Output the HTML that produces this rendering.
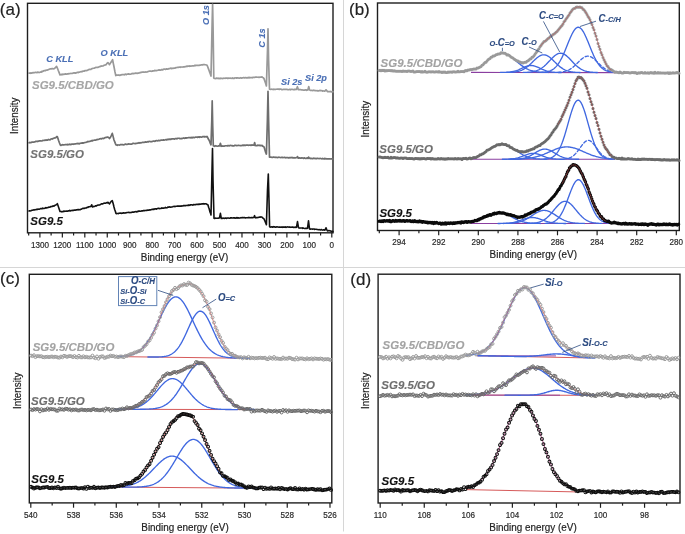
<!DOCTYPE html>
<html><head><meta charset="utf-8"><style>
html,body{margin:0;padding:0;background:#fff;}
svg{display:block;font-family:"Liberation Sans", sans-serif;will-change:transform;}
</style></head><body>
<svg width="685" height="534" viewBox="0 0 685 534">
<rect width="685" height="534" fill="#fff"/>
<line x1="343.5" y1="0" x2="343.5" y2="531.5" stroke="#d6d6d6" stroke-width="1" />
<line x1="0" y1="267.5" x2="685" y2="267.5" stroke="#d6d6d6" stroke-width="1" />
<rect x="27.5" y="3.3" width="305.5" height="229.5" fill="none" stroke="#1e1e1e" stroke-width="1.4"/>
<line x1="331.8" y1="232.8" x2="331.8" y2="237.6" stroke="#1e1e1e" stroke-width="1.2" />
<text transform="translate(331.8 247.6) scale(1 1.05)" font-size="8.1" fill="#2a2a2a" stroke="#2a2a2a" stroke-width="0.18" text-anchor="middle" font-weight="normal" font-style="normal" >0</text>
<line x1="320.57" y1="232.8" x2="320.57" y2="235.5" stroke="#1e1e1e" stroke-width="1.2" />
<line x1="309.35" y1="232.8" x2="309.35" y2="237.6" stroke="#1e1e1e" stroke-width="1.2" />
<text transform="translate(309.35 247.6) scale(1 1.05)" font-size="8.1" fill="#2a2a2a" stroke="#2a2a2a" stroke-width="0.18" text-anchor="middle" font-weight="normal" font-style="normal" >100</text>
<line x1="298.12" y1="232.8" x2="298.12" y2="235.5" stroke="#1e1e1e" stroke-width="1.2" />
<line x1="286.89" y1="232.8" x2="286.89" y2="237.6" stroke="#1e1e1e" stroke-width="1.2" />
<text transform="translate(286.89 247.6) scale(1 1.05)" font-size="8.1" fill="#2a2a2a" stroke="#2a2a2a" stroke-width="0.18" text-anchor="middle" font-weight="normal" font-style="normal" >200</text>
<line x1="275.67" y1="232.8" x2="275.67" y2="235.5" stroke="#1e1e1e" stroke-width="1.2" />
<line x1="264.44" y1="232.8" x2="264.44" y2="237.6" stroke="#1e1e1e" stroke-width="1.2" />
<text transform="translate(264.44 247.6) scale(1 1.05)" font-size="8.1" fill="#2a2a2a" stroke="#2a2a2a" stroke-width="0.18" text-anchor="middle" font-weight="normal" font-style="normal" >300</text>
<line x1="253.21" y1="232.8" x2="253.21" y2="235.5" stroke="#1e1e1e" stroke-width="1.2" />
<line x1="241.98" y1="232.8" x2="241.98" y2="237.6" stroke="#1e1e1e" stroke-width="1.2" />
<text transform="translate(241.98 247.6) scale(1 1.05)" font-size="8.1" fill="#2a2a2a" stroke="#2a2a2a" stroke-width="0.18" text-anchor="middle" font-weight="normal" font-style="normal" >400</text>
<line x1="230.76" y1="232.8" x2="230.76" y2="235.5" stroke="#1e1e1e" stroke-width="1.2" />
<line x1="219.53" y1="232.8" x2="219.53" y2="237.6" stroke="#1e1e1e" stroke-width="1.2" />
<text transform="translate(219.53 247.6) scale(1 1.05)" font-size="8.1" fill="#2a2a2a" stroke="#2a2a2a" stroke-width="0.18" text-anchor="middle" font-weight="normal" font-style="normal" >500</text>
<line x1="208.3" y1="232.8" x2="208.3" y2="235.5" stroke="#1e1e1e" stroke-width="1.2" />
<line x1="197.08" y1="232.8" x2="197.08" y2="237.6" stroke="#1e1e1e" stroke-width="1.2" />
<text transform="translate(197.08 247.6) scale(1 1.05)" font-size="8.1" fill="#2a2a2a" stroke="#2a2a2a" stroke-width="0.18" text-anchor="middle" font-weight="normal" font-style="normal" >600</text>
<line x1="185.85" y1="232.8" x2="185.85" y2="235.5" stroke="#1e1e1e" stroke-width="1.2" />
<line x1="174.62" y1="232.8" x2="174.62" y2="237.6" stroke="#1e1e1e" stroke-width="1.2" />
<text transform="translate(174.62 247.6) scale(1 1.05)" font-size="8.1" fill="#2a2a2a" stroke="#2a2a2a" stroke-width="0.18" text-anchor="middle" font-weight="normal" font-style="normal" >700</text>
<line x1="163.4" y1="232.8" x2="163.4" y2="235.5" stroke="#1e1e1e" stroke-width="1.2" />
<line x1="152.17" y1="232.8" x2="152.17" y2="237.6" stroke="#1e1e1e" stroke-width="1.2" />
<text transform="translate(152.17 247.6) scale(1 1.05)" font-size="8.1" fill="#2a2a2a" stroke="#2a2a2a" stroke-width="0.18" text-anchor="middle" font-weight="normal" font-style="normal" >800</text>
<line x1="140.94" y1="232.8" x2="140.94" y2="235.5" stroke="#1e1e1e" stroke-width="1.2" />
<line x1="129.71" y1="232.8" x2="129.71" y2="237.6" stroke="#1e1e1e" stroke-width="1.2" />
<text transform="translate(129.71 247.6) scale(1 1.05)" font-size="8.1" fill="#2a2a2a" stroke="#2a2a2a" stroke-width="0.18" text-anchor="middle" font-weight="normal" font-style="normal" >900</text>
<line x1="118.49" y1="232.8" x2="118.49" y2="235.5" stroke="#1e1e1e" stroke-width="1.2" />
<line x1="107.26" y1="232.8" x2="107.26" y2="237.6" stroke="#1e1e1e" stroke-width="1.2" />
<text transform="translate(107.26 247.6) scale(1 1.05)" font-size="8.1" fill="#2a2a2a" stroke="#2a2a2a" stroke-width="0.18" text-anchor="middle" font-weight="normal" font-style="normal" >1000</text>
<line x1="96.03" y1="232.8" x2="96.03" y2="235.5" stroke="#1e1e1e" stroke-width="1.2" />
<line x1="84.81" y1="232.8" x2="84.81" y2="237.6" stroke="#1e1e1e" stroke-width="1.2" />
<text transform="translate(84.81 247.6) scale(1 1.05)" font-size="8.1" fill="#2a2a2a" stroke="#2a2a2a" stroke-width="0.18" text-anchor="middle" font-weight="normal" font-style="normal" >1100</text>
<line x1="73.58" y1="232.8" x2="73.58" y2="235.5" stroke="#1e1e1e" stroke-width="1.2" />
<line x1="62.35" y1="232.8" x2="62.35" y2="237.6" stroke="#1e1e1e" stroke-width="1.2" />
<text transform="translate(62.35 247.6) scale(1 1.05)" font-size="8.1" fill="#2a2a2a" stroke="#2a2a2a" stroke-width="0.18" text-anchor="middle" font-weight="normal" font-style="normal" >1200</text>
<line x1="51.12" y1="232.8" x2="51.12" y2="235.5" stroke="#1e1e1e" stroke-width="1.2" />
<line x1="39.9" y1="232.8" x2="39.9" y2="237.6" stroke="#1e1e1e" stroke-width="1.2" />
<text transform="translate(39.9 247.6) scale(1 1.05)" font-size="8.1" fill="#2a2a2a" stroke="#2a2a2a" stroke-width="0.18" text-anchor="middle" font-weight="normal" font-style="normal" >1300</text>
<line x1="28.67" y1="232.8" x2="28.67" y2="235.5" stroke="#1e1e1e" stroke-width="1.2" />
<text transform="translate(184.5 260.9) scale(1 1.05)" font-size="9.9" fill="#222" stroke="#222" stroke-width="0.18" text-anchor="middle" font-weight="normal" font-style="normal" >Binding energy (eV)</text>
<text transform="translate(17.5 115.8) rotate(-90) scale(1 1.05)" font-size="9.8" fill="#222" stroke="#222" stroke-width="0.18" text-anchor="middle" font-weight="normal" font-style="normal" >Intensity</text>
<rect x="377.5" y="3" width="301.8" height="227.5" fill="none" stroke="#1e1e1e" stroke-width="1.4"/>
<line x1="676.3" y1="230.5" x2="676.3" y2="235.3" stroke="#1e1e1e" stroke-width="1.2" />
<text transform="translate(676.3 245) scale(1 1.05)" font-size="8.1" fill="#2a2a2a" stroke="#2a2a2a" stroke-width="0.18" text-anchor="middle" font-weight="normal" font-style="normal" >280</text>
<line x1="656.5" y1="230.5" x2="656.5" y2="233.2" stroke="#1e1e1e" stroke-width="1.2" />
<line x1="636.7" y1="230.5" x2="636.7" y2="235.3" stroke="#1e1e1e" stroke-width="1.2" />
<text transform="translate(636.7 245) scale(1 1.05)" font-size="8.1" fill="#2a2a2a" stroke="#2a2a2a" stroke-width="0.18" text-anchor="middle" font-weight="normal" font-style="normal" >282</text>
<line x1="616.9" y1="230.5" x2="616.9" y2="233.2" stroke="#1e1e1e" stroke-width="1.2" />
<line x1="597.1" y1="230.5" x2="597.1" y2="235.3" stroke="#1e1e1e" stroke-width="1.2" />
<text transform="translate(597.1 245) scale(1 1.05)" font-size="8.1" fill="#2a2a2a" stroke="#2a2a2a" stroke-width="0.18" text-anchor="middle" font-weight="normal" font-style="normal" >284</text>
<line x1="577.3" y1="230.5" x2="577.3" y2="233.2" stroke="#1e1e1e" stroke-width="1.2" />
<line x1="557.5" y1="230.5" x2="557.5" y2="235.3" stroke="#1e1e1e" stroke-width="1.2" />
<text transform="translate(557.5 245) scale(1 1.05)" font-size="8.1" fill="#2a2a2a" stroke="#2a2a2a" stroke-width="0.18" text-anchor="middle" font-weight="normal" font-style="normal" >286</text>
<line x1="537.7" y1="230.5" x2="537.7" y2="233.2" stroke="#1e1e1e" stroke-width="1.2" />
<line x1="517.9" y1="230.5" x2="517.9" y2="235.3" stroke="#1e1e1e" stroke-width="1.2" />
<text transform="translate(517.9 245) scale(1 1.05)" font-size="8.1" fill="#2a2a2a" stroke="#2a2a2a" stroke-width="0.18" text-anchor="middle" font-weight="normal" font-style="normal" >288</text>
<line x1="498.1" y1="230.5" x2="498.1" y2="233.2" stroke="#1e1e1e" stroke-width="1.2" />
<line x1="478.3" y1="230.5" x2="478.3" y2="235.3" stroke="#1e1e1e" stroke-width="1.2" />
<text transform="translate(478.3 245) scale(1 1.05)" font-size="8.1" fill="#2a2a2a" stroke="#2a2a2a" stroke-width="0.18" text-anchor="middle" font-weight="normal" font-style="normal" >290</text>
<line x1="458.5" y1="230.5" x2="458.5" y2="233.2" stroke="#1e1e1e" stroke-width="1.2" />
<line x1="438.7" y1="230.5" x2="438.7" y2="235.3" stroke="#1e1e1e" stroke-width="1.2" />
<text transform="translate(438.7 245) scale(1 1.05)" font-size="8.1" fill="#2a2a2a" stroke="#2a2a2a" stroke-width="0.18" text-anchor="middle" font-weight="normal" font-style="normal" >292</text>
<line x1="418.9" y1="230.5" x2="418.9" y2="233.2" stroke="#1e1e1e" stroke-width="1.2" />
<line x1="399.1" y1="230.5" x2="399.1" y2="235.3" stroke="#1e1e1e" stroke-width="1.2" />
<text transform="translate(399.1 245) scale(1 1.05)" font-size="8.1" fill="#2a2a2a" stroke="#2a2a2a" stroke-width="0.18" text-anchor="middle" font-weight="normal" font-style="normal" >294</text>
<line x1="379.3" y1="230.5" x2="379.3" y2="233.2" stroke="#1e1e1e" stroke-width="1.2" />
<text transform="translate(533.3 258.2) scale(1 1.05)" font-size="9.9" fill="#222" stroke="#222" stroke-width="0.18" text-anchor="middle" font-weight="normal" font-style="normal" >Binding energy (eV)</text>
<text transform="translate(368.6 119.2) rotate(-90) scale(1 1.05)" font-size="9.8" fill="#222" stroke="#222" stroke-width="0.18" text-anchor="middle" font-weight="normal" font-style="normal" >Intensity</text>
<rect x="29.3" y="274.3" width="302.5" height="228.6" fill="none" stroke="#1e1e1e" stroke-width="1.4"/>
<line x1="329.98" y1="502.9" x2="329.98" y2="507.7" stroke="#1e1e1e" stroke-width="1.2" />
<text transform="translate(329.98 517.8) scale(1 1.05)" font-size="8.1" fill="#2a2a2a" stroke="#2a2a2a" stroke-width="0.18" text-anchor="middle" font-weight="normal" font-style="normal" >526</text>
<line x1="308.61" y1="502.9" x2="308.61" y2="505.6" stroke="#1e1e1e" stroke-width="1.2" />
<line x1="287.24" y1="502.9" x2="287.24" y2="507.7" stroke="#1e1e1e" stroke-width="1.2" />
<text transform="translate(287.24 517.8) scale(1 1.05)" font-size="8.1" fill="#2a2a2a" stroke="#2a2a2a" stroke-width="0.18" text-anchor="middle" font-weight="normal" font-style="normal" >528</text>
<line x1="265.87" y1="502.9" x2="265.87" y2="505.6" stroke="#1e1e1e" stroke-width="1.2" />
<line x1="244.5" y1="502.9" x2="244.5" y2="507.7" stroke="#1e1e1e" stroke-width="1.2" />
<text transform="translate(244.5 517.8) scale(1 1.05)" font-size="8.1" fill="#2a2a2a" stroke="#2a2a2a" stroke-width="0.18" text-anchor="middle" font-weight="normal" font-style="normal" >530</text>
<line x1="223.13" y1="502.9" x2="223.13" y2="505.6" stroke="#1e1e1e" stroke-width="1.2" />
<line x1="201.76" y1="502.9" x2="201.76" y2="507.7" stroke="#1e1e1e" stroke-width="1.2" />
<text transform="translate(201.76 517.8) scale(1 1.05)" font-size="8.1" fill="#2a2a2a" stroke="#2a2a2a" stroke-width="0.18" text-anchor="middle" font-weight="normal" font-style="normal" >532</text>
<line x1="180.39" y1="502.9" x2="180.39" y2="505.6" stroke="#1e1e1e" stroke-width="1.2" />
<line x1="159.02" y1="502.9" x2="159.02" y2="507.7" stroke="#1e1e1e" stroke-width="1.2" />
<text transform="translate(159.02 517.8) scale(1 1.05)" font-size="8.1" fill="#2a2a2a" stroke="#2a2a2a" stroke-width="0.18" text-anchor="middle" font-weight="normal" font-style="normal" >534</text>
<line x1="137.65" y1="502.9" x2="137.65" y2="505.6" stroke="#1e1e1e" stroke-width="1.2" />
<line x1="116.28" y1="502.9" x2="116.28" y2="507.7" stroke="#1e1e1e" stroke-width="1.2" />
<text transform="translate(116.28 517.8) scale(1 1.05)" font-size="8.1" fill="#2a2a2a" stroke="#2a2a2a" stroke-width="0.18" text-anchor="middle" font-weight="normal" font-style="normal" >536</text>
<line x1="94.91" y1="502.9" x2="94.91" y2="505.6" stroke="#1e1e1e" stroke-width="1.2" />
<line x1="73.54" y1="502.9" x2="73.54" y2="507.7" stroke="#1e1e1e" stroke-width="1.2" />
<text transform="translate(73.54 517.8) scale(1 1.05)" font-size="8.1" fill="#2a2a2a" stroke="#2a2a2a" stroke-width="0.18" text-anchor="middle" font-weight="normal" font-style="normal" >538</text>
<line x1="52.17" y1="502.9" x2="52.17" y2="505.6" stroke="#1e1e1e" stroke-width="1.2" />
<line x1="30.8" y1="502.9" x2="30.8" y2="507.7" stroke="#1e1e1e" stroke-width="1.2" />
<text transform="translate(30.8 517.8) scale(1 1.05)" font-size="8.1" fill="#2a2a2a" stroke="#2a2a2a" stroke-width="0.18" text-anchor="middle" font-weight="normal" font-style="normal" >540</text>
<text transform="translate(185 531) scale(1 1.05)" font-size="9.9" fill="#222" stroke="#222" stroke-width="0.18" text-anchor="middle" font-weight="normal" font-style="normal" >Binding energy (eV)</text>
<text transform="translate(21 390.8) rotate(-90) scale(1 1.05)" font-size="9.8" fill="#222" stroke="#222" stroke-width="0.18" text-anchor="middle" font-weight="normal" font-style="normal" >Intensity</text>
<rect x="378.1" y="274.2" width="301.9" height="228.8" fill="none" stroke="#1e1e1e" stroke-width="1.4"/>
<line x1="666.59" y1="503" x2="666.59" y2="505.7" stroke="#1e1e1e" stroke-width="1.2" />
<line x1="644.56" y1="503" x2="644.56" y2="507.8" stroke="#1e1e1e" stroke-width="1.2" />
<text transform="translate(644.56 517.5) scale(1 1.05)" font-size="8.1" fill="#2a2a2a" stroke="#2a2a2a" stroke-width="0.18" text-anchor="middle" font-weight="normal" font-style="normal" >98</text>
<line x1="622.53" y1="503" x2="622.53" y2="505.7" stroke="#1e1e1e" stroke-width="1.2" />
<line x1="600.5" y1="503" x2="600.5" y2="507.8" stroke="#1e1e1e" stroke-width="1.2" />
<text transform="translate(600.5 517.5) scale(1 1.05)" font-size="8.1" fill="#2a2a2a" stroke="#2a2a2a" stroke-width="0.18" text-anchor="middle" font-weight="normal" font-style="normal" >100</text>
<line x1="578.47" y1="503" x2="578.47" y2="505.7" stroke="#1e1e1e" stroke-width="1.2" />
<line x1="556.44" y1="503" x2="556.44" y2="507.8" stroke="#1e1e1e" stroke-width="1.2" />
<text transform="translate(556.44 517.5) scale(1 1.05)" font-size="8.1" fill="#2a2a2a" stroke="#2a2a2a" stroke-width="0.18" text-anchor="middle" font-weight="normal" font-style="normal" >102</text>
<line x1="534.41" y1="503" x2="534.41" y2="505.7" stroke="#1e1e1e" stroke-width="1.2" />
<line x1="512.38" y1="503" x2="512.38" y2="507.8" stroke="#1e1e1e" stroke-width="1.2" />
<text transform="translate(512.38 517.5) scale(1 1.05)" font-size="8.1" fill="#2a2a2a" stroke="#2a2a2a" stroke-width="0.18" text-anchor="middle" font-weight="normal" font-style="normal" >104</text>
<line x1="490.35" y1="503" x2="490.35" y2="505.7" stroke="#1e1e1e" stroke-width="1.2" />
<line x1="468.32" y1="503" x2="468.32" y2="507.8" stroke="#1e1e1e" stroke-width="1.2" />
<text transform="translate(468.32 517.5) scale(1 1.05)" font-size="8.1" fill="#2a2a2a" stroke="#2a2a2a" stroke-width="0.18" text-anchor="middle" font-weight="normal" font-style="normal" >106</text>
<line x1="446.29" y1="503" x2="446.29" y2="505.7" stroke="#1e1e1e" stroke-width="1.2" />
<line x1="424.26" y1="503" x2="424.26" y2="507.8" stroke="#1e1e1e" stroke-width="1.2" />
<text transform="translate(424.26 517.5) scale(1 1.05)" font-size="8.1" fill="#2a2a2a" stroke="#2a2a2a" stroke-width="0.18" text-anchor="middle" font-weight="normal" font-style="normal" >108</text>
<line x1="402.23" y1="503" x2="402.23" y2="505.7" stroke="#1e1e1e" stroke-width="1.2" />
<line x1="380.2" y1="503" x2="380.2" y2="507.8" stroke="#1e1e1e" stroke-width="1.2" />
<text transform="translate(380.2 517.5) scale(1 1.05)" font-size="8.1" fill="#2a2a2a" stroke="#2a2a2a" stroke-width="0.18" text-anchor="middle" font-weight="normal" font-style="normal" >110</text>
<text transform="translate(533 530.5) scale(1 1.05)" font-size="9.9" fill="#222" stroke="#222" stroke-width="0.18" text-anchor="middle" font-weight="normal" font-style="normal" >Binding energy (eV)</text>
<text transform="translate(368.6 390.8) rotate(-90) scale(1 1.05)" font-size="9.8" fill="#222" stroke="#222" stroke-width="0.18" text-anchor="middle" font-weight="normal" font-style="normal" >Intensity</text>
<text transform="translate(-0.2 14.9) scale(1 1.0)" font-size="17" fill="#222" stroke="#222" stroke-width="0.18" text-anchor="start" font-weight="normal" font-style="normal" >(a)</text>
<text transform="translate(349 14.8) scale(1 1.0)" font-size="17" fill="#222" stroke="#222" stroke-width="0.18" text-anchor="start" font-weight="normal" font-style="normal" >(b)</text>
<text transform="translate(0.1 284.1) scale(1 1.0)" font-size="17" fill="#222" stroke="#222" stroke-width="0.18" text-anchor="start" font-weight="normal" font-style="normal" >(c)</text>
<text transform="translate(350.3 284.6) scale(1 1.0)" font-size="17" fill="#222" stroke="#222" stroke-width="0.18" text-anchor="start" font-weight="normal" font-style="normal" >(d)</text>
<polyline points="29,73.19 29.61,73.03 30.22,73.27 30.83,72.86 31.44,73.08 32.06,72.91 32.67,72.67 33.28,72.88 33.89,72.53 34.5,72.71 35.11,72.43 35.72,72.38 36.33,72.52 36.94,72.7 37.56,72.22 38.17,72.22 38.78,72.4 39.39,72.53 40,72.25 40.62,71.95 41.23,72.12 41.85,71.38 42.46,71.68 43.08,71.15 43.69,70.88 44.31,70.68 44.93,70.61 45.54,70.73 46.16,70.17 46.77,70.22 47.39,70.07 48.01,69.73 48.62,69.65 49.24,69.17 49.85,68.99 50.47,68.89 51.08,68.99 51.7,68.66 52.47,68.62 53.23,68.82 54,68.77 54.75,68.03 55.5,67.68 56.6,66.42 57.45,68.25 58.3,70.54 59.15,72.62 60,74.93 60.62,74.78 61.25,74.45 61.88,74.8 62.5,74.22 63.12,74.34 63.75,74.48 64.38,74.05 65,74.19 65.6,73.84 66.2,74.14 66.8,74.12 67.4,73.92 68,74.03 68.6,73.61 69.2,73.76 69.8,73.62 70.4,73.53 71,73.37 71.6,73.52 72.2,73.51 72.8,73.14 73.4,73.18 74,72.74 74.6,73.04 75.2,72.93 75.8,73.06 76.4,72.87 77,72.47 77.6,72.45 78.2,72.54 78.8,72.07 79.4,72.26 80,72 80.6,71.8 81.21,71.59 81.81,71.84 82.42,71.29 83.02,71.19 83.63,71.1 84.23,71.22 84.84,70.57 85.44,70.62 86.05,70.51 86.65,70.54 87.26,70.33 87.86,70.18 88.47,69.66 89.07,69.57 89.67,69.36 90.28,69.5 90.88,69.38 91.49,68.72 92.09,68.56 92.7,68.43 93.3,68.25 93.91,68.23 94.51,68.12 95.12,67.76 95.72,67.43 96.33,67.5 96.93,67.3 97.53,67.25 98.14,67.31 98.74,66.98 99.35,66.7 99.95,66.59 100.56,66.45 101.16,65.91 101.77,66.24 102.37,66 102.98,65.89 103.58,65.67 104.19,65.25 104.79,65.08 105.4,64.73 106,64.88 106.63,63.87 107.27,63.21 107.9,62.63 108.7,63.6 109.5,64.7 110.25,63.38 111,62.2 111.8,60.99 112.6,59.66 113.3,63.37 114,66.72 114.9,71.47 115.8,75.57 116.42,75.22 117.03,75.22 117.65,75.21 118.27,75.16 118.89,74.95 119.5,75.32 120.12,75.34 120.74,74.96 121.36,74.9 121.97,74.6 122.59,74.54 123.21,74.62 123.83,74.51 124.44,74.78 125.06,74.32 125.68,74.17 126.3,74.66 126.91,74.34 127.53,74.05 128.15,74.22 128.77,73.85 129.38,74.08 130,74.29 130.6,74.14 131.2,73.95 131.81,73.61 132.41,73.59 133.01,73.39 133.61,73.67 134.22,73.45 134.82,73.51 135.42,73.16 136.02,73.01 136.63,73.29 137.23,73.31 137.83,73.15 138.43,73.04 139.04,72.96 139.64,72.83 140.24,72.44 140.84,72.54 141.45,72.36 142.05,72.08 142.65,72 143.25,72.07 143.86,71.97 144.46,72.15 145.06,72.23 145.66,71.84 146.27,72.05 146.87,72 147.47,71.9 148.07,71.46 148.67,71.29 149.28,71.21 149.88,71.11 150.48,71.04 151.08,71.21 151.69,71.29 152.29,71.17 152.89,70.87 153.49,70.9 154.1,70.9 154.7,70.39 155.3,70.66 155.9,70.72 156.51,70.56 157.11,70.46 157.71,70.22 158.31,69.96 158.92,70.24 159.52,69.89 160.12,70.08 160.72,70.1 161.33,69.68 161.93,69.6 162.53,69.84 163.13,69.63 163.73,69.21 164.34,69.11 164.94,69.04 165.54,69.41 166.14,69.27 166.75,68.79 167.35,69.12 167.95,69.13 168.55,68.85 169.16,68.58 169.76,68.62 170.36,68.29 170.96,68.14 171.57,68.63 172.17,68.35 172.77,68.2 173.37,68.36 173.98,67.98 174.58,68.16 175.18,68.05 175.78,67.6 176.39,67.54 176.99,67.49 177.59,67.37 178.19,67.5 178.8,67.22 179.4,67.23 180,66.98 180.61,67.38 181.22,66.98 181.83,66.98 182.44,66.99 183.05,67.11 183.66,66.76 184.27,66.99 184.88,66.67 185.49,66.63 186.1,66.56 186.71,66.19 187.32,66.37 187.93,66.15 188.54,65.98 189.15,66.39 189.76,65.95 190.37,66.06 190.98,66.15 191.59,65.98 192.2,65.78 192.8,65.83 193.41,65.78 194.02,65.86 194.63,65.38 195.24,65.59 195.85,65.34 196.46,65.29 197.07,65.52 197.68,65.29 198.29,65.26 198.9,65.31 199.51,65.34 200.12,64.99 200.73,65.03 201.34,64.9 201.95,64.84 202.56,64.88 203.17,64.67 203.78,64.65 204.39,64.55 205,64.76 205.63,64.75 206.27,64.99 206.9,65.17 207.6,66.46 208.3,68.34 209,70.27 209.67,72.3 210.33,73.98 211,76.07 212.2,19.97 212.6,4.24 213.1,29.84 213.8,78.04 214.42,78.4 215.05,78.47 215.67,78.54 216.29,78.09 216.92,78.43 217.54,78.4 218.16,78.09 218.78,78.53 219.41,78.58 220.03,78.13 220.65,78.57 221.28,78.24 221.9,78.29 222.52,78.59 223.15,78.5 223.77,78.1 224.39,78.26 225.02,78.31 225.64,78.2 226.26,78.12 226.88,78.19 227.51,78.43 228.13,78.01 228.75,78.33 229.38,78.26 230,78.01 230.6,78.18 231.21,78.33 231.81,78.25 232.42,77.96 233.02,78.49 233.62,78.35 234.23,78.44 234.83,77.9 235.43,77.97 236.04,77.82 236.64,78.24 237.25,77.91 237.85,77.81 238.45,77.96 239.06,78.24 239.66,78.16 240.26,77.8 240.87,77.72 241.47,78.16 242.08,77.93 242.68,77.98 243.28,77.6 243.89,77.56 244.49,77.91 245.09,77.74 245.7,77.5 246.3,78 246.91,77.8 247.51,77.88 248.11,77.43 248.72,77.87 249.32,77.38 249.92,77.83 250.53,77.57 251.13,77.48 251.74,77.58 252.34,77.79 252.94,77.37 253.55,77.27 254.15,77.49 254.75,77.29 255.36,77.19 255.96,77.2 256.57,77.12 257.17,77.19 257.77,77.23 258.38,77.21 258.98,77.46 259.58,77.16 260.19,77.26 260.79,77.05 261.4,77.13 262,76.91 262.67,77.48 263.33,77.78 264,78.64 264.8,81.03 265.6,83.31 266.4,85.98 267.5,50.26 268,28.76 268.6,60.19 269.5,89.16 270.11,89.21 270.72,89.42 271.33,89.16 271.95,89.24 272.56,89.36 273.17,89.54 273.78,89.17 274.39,89.47 275,89.41 275.61,89.37 276.23,89.24 276.84,89.22 277.45,89.05 278.06,89.11 278.67,89.08 279.28,89.49 279.89,89.21 280.5,89.16 281.12,89.12 281.73,89.59 282.34,89.61 282.95,89.5 283.56,89.28 284.17,89.26 284.78,89.3 285.4,89.41 286.01,89.24 286.62,89.42 287.23,89.32 287.84,89.75 288.45,89.77 289.06,89.52 289.67,89.35 290.29,89.79 290.9,89.4 291.51,89.44 292.12,89.24 292.73,89.47 293.34,89.54 293.95,89.57 294.57,89.39 295.18,89.58 295.79,89.29 296.4,89.46 297.4,86.75 298.4,89.74 299.03,89.54 299.65,89.54 300.28,89.72 300.91,89.69 301.53,89.92 302.16,89.9 302.79,90.04 303.41,90 304.04,90.05 304.67,90.16 305.29,89.88 305.92,89.86 306.55,90.26 307.17,89.78 307.8,90.13 308.7,86.59 309.6,89.93 310.22,90.43 310.83,90.5 311.45,90.37 312.06,90.47 312.68,90.55 313.3,90.18 313.91,90.44 314.53,90.46 315.14,90.69 315.76,90.7 316.38,90.75 316.99,90.63 317.61,90.85 318.22,90.76 318.84,90.8 319.46,90.55 320.07,90.46 320.69,90.56 321.3,90.72 321.92,90.6 322.54,91.07 323.15,90.94 323.77,91.01 324.38,91.04 325,91.11 326,89.79 327,91 327.6,91.55 328.2,91.59 328.8,91.51 329.4,91.6 330,91.75 330.6,91.46 331.2,91.93 331.8,91.71 332.4,91.67 333,91.86" fill="none" stroke="#999" stroke-width="1.7" stroke-linejoin="round" stroke-linecap="round" />
<polyline points="29,142.84 29.6,142.43 30.2,142.66 30.8,142.71 31.4,142.33 32,142.17 32.6,142.14 33.2,142.17 33.8,142.13 34.4,141.95 35,141.87 35.6,141.44 36.2,141.39 36.8,141.36 37.4,141.57 38,141.21 38.6,141.28 39.2,140.85 39.8,140.79 40.4,140.82 41,140.97 41.6,140.9 42.2,140.79 42.8,140.47 43.4,140.52 44,140.39 44.6,140.3 45.2,140 45.8,140.38 46.4,139.87 47,140.24 47.6,140.13 48.2,139.48 48.8,139.66 49.4,139.78 50,139.78 50.62,139.28 51.25,138.99 51.88,138.76 52.5,139.02 53.12,138.39 53.75,138.42 54.38,137.97 55,138.01 55.77,137.74 56.53,136.71 57.3,136.59 57.9,138.21 58.5,140.23 59.4,142.72 60.3,145.04 60.92,145.39 61.53,145.09 62.15,144.76 62.76,144.69 63.38,144.93 63.99,144.85 64.61,144.71 65.22,144.56 65.84,144.63 66.46,144.56 67.07,144.82 67.69,144.26 68.3,144.66 68.92,144.66 69.53,144.18 70.15,144.61 70.77,144.42 71.38,144.48 72,144.06 72.61,144.06 73.23,144.02 73.84,144.33 74.46,144.03 75.08,143.84 75.69,143.83 76.31,143.68 76.92,143.49 77.54,143.47 78.15,143.86 78.77,143.48 79.38,143.81 80,143.35 80.61,143.22 81.22,143.23 81.83,142.9 82.43,142.88 83.04,143.09 83.65,142.91 84.26,142.73 84.87,142.48 85.48,142.52 86.09,142.39 86.7,142.02 87.3,141.99 87.91,141.45 88.52,141.72 89.13,141.42 89.74,141.46 90.35,141.26 90.96,140.91 91.57,140.63 92.17,141.02 92.78,140.4 93.39,140.47 94,140.26 94.61,140.09 95.22,140.22 95.83,140.22 96.43,139.66 97.04,139.76 97.65,139.41 98.26,139.43 98.87,139.19 99.48,138.92 100.09,138.78 100.7,138.67 101.3,138.95 101.91,138.57 102.52,138.26 103.13,138.54 103.74,138.46 104.35,137.99 104.96,137.67 105.57,137.56 106.17,137.37 106.78,137.38 107.39,137.09 108,137.04 108.75,137.71 109.5,138.54 110.5,137.23 111.4,135.35 112.3,133.35 113.15,136.65 114,140.01 114.67,141.66 115.33,143.37 116,144.94 116.61,145.01 117.22,145.38 117.83,144.82 118.43,144.99 119.04,145.02 119.65,145.1 120.26,144.66 120.87,144.65 121.48,144.58 122.09,144.62 122.7,144.59 123.3,144.85 123.91,144.73 124.52,144.69 125.13,144.13 125.74,144.08 126.35,144.44 126.96,144.5 127.57,144.19 128.17,144.21 128.78,143.8 129.39,143.99 130,144.26 130.6,144.12 131.2,144.07 131.8,144.07 132.4,143.56 133,143.41 133.6,143.36 134.2,143.51 134.8,143.54 135.4,143.62 136,143.42 136.6,143.3 137.2,143.3 137.8,143.05 138.4,143.03 139,142.65 139.6,143.03 140.2,142.63 140.8,142.97 141.4,142.73 142,142.45 142.6,142.28 143.2,142.28 143.8,142.44 144.4,142.4 145,141.98 145.6,141.89 146.2,142.09 146.8,142.05 147.4,141.86 148,141.69 148.6,141.85 149.2,141.42 149.8,141.52 150.4,141.55 151,141.78 151.6,141.52 152.2,141.59 152.8,141.27 153.4,141.06 154,140.99 154.6,141.35 155.2,141.12 155.8,140.81 156.4,140.57 157,140.78 157.6,140.82 158.2,140.59 158.8,140.43 159.4,140.6 160,140.68 160.6,140.19 161.2,140.01 161.8,140.12 162.4,140.1 163,140.18 163.6,139.82 164.2,140.11 164.8,140 165.4,139.79 166,139.54 166.6,139.92 167.2,139.46 167.8,139.69 168.4,139.27 169,139.19 169.6,139.44 170.2,139.09 170.8,139.41 171.4,139.07 172,138.81 172.62,138.79 173.23,138.86 173.85,138.96 174.46,139.08 175.08,138.56 175.69,138.66 176.31,138.5 176.92,138.92 177.54,138.37 178.15,138.27 178.77,138.23 179.38,138.38 180,138.64 180.61,138.59 181.22,138.46 181.83,138.57 182.44,138.49 183.05,138.09 183.66,137.96 184.27,138.37 184.88,138.22 185.49,137.75 186.1,138.08 186.71,137.87 187.32,137.83 187.93,137.76 188.54,137.62 189.15,137.48 189.76,137.6 190.37,137.61 190.98,137.93 191.59,137.39 192.2,137.85 192.8,137.35 193.41,137.4 194.02,137.64 194.63,137.6 195.24,137.32 195.85,137.05 196.46,137.26 197.07,137.16 197.68,137.45 198.29,136.97 198.9,137.03 199.51,137.31 200.12,136.75 200.73,136.94 201.34,137.14 201.95,137.07 202.56,136.59 203.17,136.55 203.78,136.52 204.39,136.99 205,136.55 205.67,136.78 206.33,136.81 207,136.4 207.67,137.53 208.33,139.11 209,140.07 209.67,141.49 210.33,143.4 211,144.79 211.8,119.87 212.2,100.9 212.7,125.15 213.3,145.75 214,146.08 214.62,146.27 215.24,145.71 215.87,145.84 216.49,145.99 217.11,146.27 217.73,146.27 218.36,145.93 218.98,145.85 219.6,145.96 220.4,143.3 221.2,146.26 221.81,145.79 222.41,146.14 223.02,146.09 223.63,146.12 224.24,146.07 224.84,145.95 225.45,145.77 226.06,145.74 226.67,145.75 227.27,145.98 227.88,145.54 228.49,145.6 229.1,145.91 229.7,145.59 230.31,145.46 230.92,145.42 231.53,145.72 232.13,145.56 232.74,145.94 233.35,145.86 233.96,145.9 234.56,145.45 235.17,145.32 235.78,145.31 236.39,145.54 236.99,145.64 237.6,145.47 238.21,145.32 238.81,145.41 239.42,145.52 240.03,145.53 240.64,145.56 241.24,145.6 241.85,145.47 242.46,145.12 243.07,145.54 243.67,145.19 244.28,145.34 244.89,145.2 245.5,145.4 246.1,145.06 246.71,145.07 247.32,145.05 247.93,144.98 248.53,145.4 249.14,145.2 249.75,145.03 250.36,145.05 250.96,145.39 251.57,145.08 252.18,144.89 252.79,145.22 253.39,145.11 254,145.29 254.6,142.56 255.3,145.48 255.91,145.68 256.52,145.69 257.13,145.72 257.74,145.19 258.35,145.33 258.95,145.22 259.56,145.25 260.17,145.71 260.78,145.47 261.39,145.67 262,145.32 262.67,146.15 263.33,146.44 264,146.86 264.8,149.6 265.6,152.13 266.4,154.06 267.4,120.06 268,91.27 268.6,119.83 269.5,157.22 270.11,157.1 270.72,157.14 271.33,157.19 271.94,157.4 272.56,157.45 273.17,157.19 273.78,157.08 274.39,157.29 275,157.51 275.61,157.22 276.22,157.31 276.83,157.26 277.44,157.62 278.06,157.48 278.67,157.2 279.28,157.24 279.89,157.43 280.5,157.53 281.11,157.59 281.72,157.28 282.33,157.33 282.94,157.66 283.56,157.5 284.17,157.44 284.78,157.46 285.39,157.86 286,157.49 286.61,157.65 287.22,157.54 287.83,157.58 288.44,157.86 289.06,157.95 289.67,157.58 290.28,157.5 290.89,157.83 291.5,157.52 292.11,157.41 292.72,157.96 293.33,157.69 293.94,157.94 294.56,157.7 295.17,158 295.78,157.75 296.39,157.59 297,157.51 297.5,156.53 298,158.08 298.62,158.26 299.25,157.78 299.88,158.11 300.5,157.97 301.12,158.07 301.75,157.86 302.38,157.96 303,158.11 303.62,158.37 304.25,157.89 304.88,158.13 305.5,158.33 306.12,158.44 306.75,157.99 307.38,157.96 308,158.47 308.6,157.09 309.2,158.29 309.81,158.05 310.42,158.59 311.03,158.29 311.64,158.61 312.25,158.46 312.86,158.6 313.47,158.22 314.08,158.62 314.69,158.29 315.3,158.42 315.91,158.71 316.52,158.71 317.13,158.34 317.74,158.38 318.35,158.51 318.96,158.6 319.57,158.54 320.18,158.4 320.79,158.49 321.41,158.79 322.02,158.92 322.63,158.42 323.24,158.75 323.85,158.89 324.46,158.47 325.07,158.97 325.68,158.56 326.29,158.86 326.9,158.85 327.51,158.91 328.12,158.74 328.73,158.83 329.34,158.94 329.95,158.87 330.56,159.02 331.17,158.91 331.78,158.93 332.39,158.7 333,159.07" fill="none" stroke="#6e6e6e" stroke-width="1.7" stroke-linejoin="round" stroke-linecap="round" />
<polyline points="29,210.99 29.6,210.73 30.2,210.93 30.8,210.83 31.4,210.52 32,210.24 32.6,210.3 33.2,209.96 33.8,209.86 34.4,209.93 35,209.61 35.6,209.71 36.2,209.63 36.8,209.24 37.4,209.48 38,209.04 38.6,209.31 39.2,209.22 39.8,208.95 40.4,208.56 41,208.72 41.6,208.53 42.2,208.76 42.8,208.15 43.4,208.47 44,208.44 44.6,208.17 45.2,208.1 45.8,207.62 46.4,207.97 47,207.57 47.6,207.73 48.2,207.59 48.8,207.03 49.4,207.29 50,207.26 50.62,206.55 51.25,206.54 51.88,206.59 52.5,206.05 53.12,206.3 53.75,205.74 54.38,205.88 55,205.29 55.77,204.93 56.53,204.62 57.3,203.62 57.9,205.26 58.5,207 59.25,209.29 60,211.52 60.61,211.54 61.21,211.46 61.82,211.85 62.42,211.63 63.03,211.69 63.64,211.18 64.24,211.48 64.85,211.01 65.45,211.19 66.06,211.18 66.67,210.95 67.27,211.19 67.88,210.93 68.48,210.87 69.09,210.98 69.7,210.45 70.3,210.91 70.91,210.62 71.52,210.41 72.12,210.58 72.73,210.2 73.33,210.56 73.94,210.24 74.55,210.04 75.15,210.22 75.76,209.95 76.36,209.72 76.97,209.99 77.58,209.51 78.18,209.9 78.79,209.49 79.39,209.65 80,209.79 80.61,209.38 81.22,209.26 81.83,208.89 82.44,208.53 83.06,208.39 83.67,208.29 84.28,208.4 84.89,208.13 85.5,208.01 86.11,208.07 86.72,207.45 87.33,207.34 87.94,207.43 88.56,206.88 89.17,206.7 89.78,206.75 90.39,206.43 91,206.41 91.7,204.83 92.5,207.05 93.12,206.85 93.75,206.42 94.38,206.47 95,206.18 95.62,205.78 96.25,206.06 96.88,205.45 97.5,205.19 98.12,204.96 98.75,205.08 99.38,205.02 100,204.77 100.62,204.34 101.25,204.06 101.88,203.71 102.5,203.89 103.12,203.64 103.75,203.31 104.38,203.29 105,202.97 105.6,203.16 106.2,202.94 106.8,202.55 107.4,202.84 108,202.23 108.75,203.27 109.5,203.94 110.5,202.34 111.4,201.24 112.3,200.67 113.15,203.46 114,207.03 114.67,209.46 115.33,211.19 116,213.42 116.61,213.62 117.22,213.51 117.83,213.54 118.43,213.6 119.04,213.17 119.65,213.2 120.26,213.15 120.87,212.95 121.48,213.4 122.09,213.29 122.7,213.2 123.3,212.73 123.91,213.18 124.52,213.08 125.13,212.86 125.74,212.98 126.35,212.76 126.96,212.57 127.57,212.45 128.17,212.48 128.78,212.32 129.39,212.45 130,212.65 130.6,212.54 131.2,212.54 131.8,212.38 132.4,212.03 133,212.13 133.6,211.97 134.2,212.1 134.8,211.86 135.4,211.63 136,211.77 136.6,211.88 137.2,211.35 137.8,211.67 138.4,211.07 139,211.13 139.6,211.04 140.2,211.26 140.8,211.3 141.4,211.1 142,210.77 142.6,211.02 143.2,210.61 143.8,210.47 144.4,210.79 145,210.54 145.6,210.5 146.2,210.4 146.8,210.51 147.4,210.12 148,210.26 148.6,210.09 149.2,210.11 149.8,209.78 150.4,209.87 151,209.69 151.6,209.45 152.2,209.31 152.8,209.48 153.4,209.07 154,209.49 154.6,208.95 155.2,208.8 155.8,208.76 156.4,209.17 157,208.74 157.6,208.54 158.2,208.39 158.8,208.32 159.4,208.63 160,208.51 160.6,208.47 161.2,208.41 161.8,207.92 162.4,208.16 163,207.94 163.6,208.13 164.2,208.05 164.8,208.01 165.4,207.44 166,207.83 166.6,207.78 167.2,207.72 167.8,207.13 168.4,207.11 169,206.97 169.6,206.85 170.2,207.25 170.8,207.15 171.4,206.96 172,207 172.62,206.83 173.23,206.56 173.85,206.4 174.46,206.34 175.08,206.69 175.69,206.3 176.31,206.31 176.92,206.32 177.54,206.03 178.15,206.12 178.77,206.08 179.38,206.28 180,206.02 180.61,205.93 181.22,206.26 181.84,205.92 182.45,206.07 183.06,205.87 183.67,205.46 184.28,205.63 184.9,205.59 185.51,205.73 186.12,205.41 186.73,205.57 187.34,205.41 187.95,205.16 188.57,205.48 189.18,204.96 189.79,205.34 190.4,204.89 191.01,204.73 191.63,204.79 192.24,205.07 192.85,205.14 193.46,204.49 194.07,204.73 194.69,204.67 195.3,204.79 195.91,204.36 196.52,204.49 197.13,204.34 197.75,204.57 198.36,204.17 198.97,204.52 199.58,204.07 200.19,203.96 200.8,204.2 201.42,204.02 202.03,203.72 202.64,203.98 203.25,203.59 203.86,203.95 204.48,203.84 205.09,203.83 205.7,203.68 206.47,203.98 207.23,204.47 208,204.94 208.6,207.27 209.2,208.83 209.8,211.35 210.4,212.88 211,215.02 212,169.86 212.5,148.44 213,180 214,218.23 214.61,218.5 215.22,218.07 215.83,218.18 216.44,218.19 217.06,218.29 217.67,218.25 218.28,218.15 218.89,217.94 219.5,217.9 220.4,213.39 221.3,218.51 221.91,218.38 222.51,218.42 223.12,218.06 223.72,218.2 224.33,218.39 224.93,218.26 225.54,217.97 226.14,218.16 226.75,218.4 227.36,217.99 227.96,217.95 228.57,218 229.17,218.23 229.78,218.3 230.38,217.87 230.99,217.86 231.59,217.9 232.2,217.93 232.81,218.03 233.41,217.8 234.02,217.89 234.62,217.79 235.23,218.24 235.83,218.08 236.44,217.69 237.04,218.19 237.65,217.66 238.26,217.82 238.86,218.16 239.47,218.03 240.07,217.98 240.68,217.79 241.28,217.63 241.89,217.88 242.49,217.55 243.1,217.59 243.71,217.68 244.31,217.46 244.92,217.66 245.52,217.88 246.13,217.81 246.73,217.68 247.34,217.74 247.94,217.63 248.55,217.42 249.16,217.68 249.76,217.55 250.37,217.73 250.97,217.82 251.58,217.52 252.18,217.59 252.79,217.68 253.39,217.47 254,217.34 254.6,215.63 255.3,217.83 255.91,217.71 256.52,217.61 257.13,217.65 257.74,217.49 258.35,217.41 258.95,217.25 259.56,217.11 260.17,217.24 260.78,216.87 261.39,217.01 262,217.17 262.67,217.79 263.33,218.41 264,218.85 264.8,220.82 265.6,222.71 266.4,224.67 267.5,189.95 268.3,174.01 269,200.26 269.6,226.71 270.21,227 270.82,227.09 271.43,226.86 272.05,226.93 272.66,227.23 273.27,226.68 273.88,226.99 274.49,226.77 275.1,227.15 275.71,227.26 276.33,227.01 276.94,226.77 277.55,227.06 278.16,227.05 278.77,227.17 279.38,227.05 279.99,227.14 280.6,227.26 281.22,227.09 281.83,227.03 282.44,227.36 283.05,226.93 283.66,227.22 284.27,227.05 284.88,227.28 285.5,226.91 286.11,227.44 286.72,227.07 287.33,226.9 287.94,227.04 288.55,227.12 289.16,226.9 289.77,227.15 290.39,227.16 291,227.34 291.61,227.14 292.22,227.1 292.83,227.08 293.44,227.4 294.05,227.53 294.67,227.29 295.28,227.11 295.89,227.47 296.5,227.24 297.5,221.63 298.5,227.58 299.1,228.01 299.7,228.08 300.3,228.02 300.9,227.97 301.5,228.07 302.1,227.92 302.7,228.4 303.3,228.09 303.9,228.3 304.5,228.46 305.1,228.5 305.7,228.34 306.3,228.28 306.9,228.48 307.5,228.28 308.5,220.8 309.5,228.91 310.12,229.25 310.74,228.94 311.36,229.05 311.98,229.01 312.6,229.16 313.22,229.05 313.84,228.98 314.46,229.45 315.08,229.23 315.7,229.25 316.32,229.32 316.94,229.47 317.56,229.48 318.18,229.64 318.8,229.7 319.42,229.56 320.04,229.94 320.66,229.93 321.28,229.49 321.9,230 322.52,230.08 323.14,230.05 323.76,229.7 324.38,230.16 325,230.08 326,227.71 327,230.21 327.6,230.87 328.2,230.79 328.8,230.65 329.4,230.66 330,230.79 330.6,230.94 331.2,231.37 331.8,231.21 332.4,231.19 333,231.74" fill="none" stroke="#111" stroke-width="1.6" stroke-linejoin="round" stroke-linecap="round" />
<text transform="translate(46.3 62.3) scale(1 1.0)" font-size="9.2" fill="#4a6fb5" stroke="#4a6fb5" stroke-width="0.108" text-anchor="start" font-weight="bold" font-style="italic" >C KLL</text>
<text transform="translate(100.6 55.6) scale(1 1.0)" font-size="9.2" fill="#4a6fb5" stroke="#4a6fb5" stroke-width="0.108" text-anchor="start" font-weight="bold" font-style="italic" >O KLL</text>
<text transform="translate(281 84.6) scale(1 1.0)" font-size="9.2" fill="#4a6fb5" stroke="#4a6fb5" stroke-width="0.108" text-anchor="start" font-weight="bold" font-style="italic" >Si 2s</text>
<text transform="translate(305 81.4) scale(1 1.0)" font-size="9.2" fill="#4a6fb5" stroke="#4a6fb5" stroke-width="0.108" text-anchor="start" font-weight="bold" font-style="italic" >Si 2p</text>
<text transform="translate(209.3 25) rotate(-90) scale(1 1.0)" font-size="9.2" fill="#4a6fb5" stroke="#4a6fb5" stroke-width="0.108" text-anchor="start" font-weight="bold" font-style="italic" >O 1s</text>
<text transform="translate(264.8 47.8) rotate(-90) scale(1 1.0)" font-size="9.2" fill="#4a6fb5" stroke="#4a6fb5" stroke-width="0.108" text-anchor="start" font-weight="bold" font-style="italic" >C 1s</text>
<text transform="translate(32 88.8) scale(1 1.0)" font-size="11.5" fill="#a6a6a6" stroke="#a6a6a6" stroke-width="0.108" text-anchor="start" font-weight="bold" font-style="italic" >SG9.5/CBD/GO</text>
<text transform="translate(30.3 158.2) scale(1 1.0)" font-size="11.5" fill="#737373" stroke="#737373" stroke-width="0.108" text-anchor="start" font-weight="bold" font-style="italic" >SG9.5/GO</text>
<text transform="translate(30.3 224.8) scale(1 1.0)" font-size="11.5" fill="#151515" stroke="#151515" stroke-width="0.108" text-anchor="start" font-weight="bold" font-style="italic" >SG9.5</text>
<line x1="471" y1="72.4" x2="615" y2="72.6" stroke="#8a3fa0" stroke-width="1.1" />
<polyline points="514.45,59.59 515.15,60.19 515.85,60.8 516.55,61.41 517.25,62.01 517.95,62.61 518.65,63.2 519.35,63.77 520.05,64.34 520.75,64.88 521.45,65.41 522.15,65.92 522.85,66.41 523.55,66.88 524.25,67.33 524.95,67.75 525.65,68.15 526.35,68.53 527.05,68.88 527.75,69.21 528.45,69.52 529.15,69.81 529.85,70.08 530.55,70.32 531.25,70.55 531.95,70.75 532.65,70.94 533.35,71.12 534.05,71.27 534.75,71.41 535.45,71.54 536.15,71.66 536.85,71.76 537.55,71.85 538.25,71.94 538.95,72.01 539.65,72.08 540.35,72.13 541.05,72.18 541.75,72.23 542.45,72.27 543.15,72.3 543.85,72.33 544.55,72.36 545.25,72.38 545.95,72.4 546.65,72.42 547.35,72.43 548.05,72.45" fill="none" stroke="#4068e0" stroke-width="1.35" stroke-linejoin="round" stroke-linecap="round" />
<polyline points="500.4,72.42 501.1,72.41 501.8,72.41 502.5,72.4 503.2,72.39 503.9,72.37 504.6,72.35 505.3,72.33 506,72.3 506.7,72.27 507.4,72.23 508.1,72.18 508.8,72.12 509.5,72.05 510.2,71.97 510.9,71.88 511.6,71.77 512.3,71.65 513,71.51 513.7,71.36 514.4,71.18 515.1,70.99 515.8,70.78 516.5,70.55 517.2,70.3 517.9,70.04 518.6,69.76 519.3,69.46 520,69.15 520.7,68.83 521.4,68.51 522.1,68.18 522.8,67.85 523.5,67.53 524.2,67.21 524.9,66.91 525.6,66.63 526.3,66.37 527,66.14 527.7,65.93 528.4,65.77 529.1,65.63 529.8,65.54 530.5,65.49 531.2,65.49 531.9,65.52 532.6,65.6 533.3,65.71 534,65.87 534.7,66.06 535.4,66.28 536.1,66.53 536.8,66.8 537.5,67.1 538.2,67.41 538.9,67.73 539.6,68.06 540.3,68.39 541,68.72 541.7,69.05 542.4,69.36 543.1,69.66 543.8,69.96 544.5,70.23 545.2,70.49 545.9,70.73 546.6,70.95 547.3,71.15 548,71.33 548.7,71.5 549.4,71.64 550.1,71.77 550.8,71.89 551.5,71.99 552.2,72.08 552.9,72.15 553.6,72.22 554.3,72.27 555,72.32 555.7,72.36 556.4,72.39 557.1,72.42 557.8,72.44 558.5,72.46 559.2,72.47 559.9,72.48 560.6,72.49 561.3,72.5" fill="none" stroke="#4068e0" stroke-width="1.35" stroke-linejoin="round" stroke-linecap="round" />
<polyline points="506.64,72.39 507.34,72.38 508.04,72.37 508.74,72.35 509.44,72.33 510.14,72.3 510.84,72.27 511.54,72.23 512.24,72.18 512.94,72.13 513.64,72.06 514.34,71.99 515.04,71.9 515.74,71.8 516.44,71.69 517.14,71.55 517.84,71.4 518.54,71.23 519.24,71.04 519.94,70.82 520.64,70.58 521.34,70.31 522.04,70.01 522.74,69.69 523.44,69.33 524.14,68.94 524.84,68.51 525.54,68.06 526.24,67.57 526.94,67.05 527.64,66.5 528.34,65.92 529.04,65.32 529.74,64.69 530.44,64.04 531.14,63.37 531.84,62.69 532.54,62.01 533.24,61.32 533.94,60.63 534.64,59.96 535.34,59.3 536.04,58.66 536.74,58.06 537.44,57.48 538.14,56.95 538.84,56.47 539.54,56.04 540.24,55.67 540.94,55.36 541.64,55.11 542.34,54.94 543.04,54.83 543.74,54.8 544.44,54.84 545.14,54.96 545.84,55.14 546.54,55.4 547.24,55.72 547.94,56.1 548.64,56.54 549.34,57.03 550.04,57.56 550.74,58.14 551.44,58.76 552.14,59.4 552.84,60.06 553.54,60.74 554.24,61.43 554.94,62.12 555.64,62.8 556.34,63.48 557.04,64.15 557.74,64.8 558.44,65.43 559.14,66.03 559.84,66.61 560.54,67.16 561.24,67.68 561.94,68.16 562.64,68.62 563.34,69.04 564.04,69.43 564.74,69.78 565.44,70.11 566.14,70.41 566.84,70.67 567.54,70.92 568.24,71.13 568.94,71.32 569.64,71.49 570.34,71.64 571.04,71.78 571.74,71.89 572.44,71.99 573.14,72.08 573.84,72.16 574.54,72.22 575.24,72.28 575.94,72.32 576.64,72.36 577.34,72.4 578.04,72.42 578.74,72.45 579.44,72.47 580.14,72.49" fill="none" stroke="#4068e0" stroke-width="1.35" stroke-linejoin="round" stroke-linecap="round" />
<polyline points="523.2,72.41 523.9,72.4 524.6,72.38 525.3,72.36 526,72.34 526.7,72.31 527.4,72.28 528.1,72.23 528.8,72.18 529.5,72.13 530.2,72.06 530.9,71.98 531.6,71.89 532.3,71.78 533,71.66 533.7,71.52 534.4,71.36 535.1,71.17 535.8,70.97 536.5,70.74 537.2,70.48 537.9,70.2 538.6,69.88 539.3,69.53 540,69.15 540.7,68.74 541.4,68.29 542.1,67.81 542.8,67.29 543.5,66.74 544.2,66.15 544.9,65.53 545.6,64.89 546.3,64.21 547,63.52 547.7,62.8 548.4,62.07 549.1,61.33 549.8,60.59 550.5,59.85 551.2,59.12 551.9,58.4 552.6,57.7 553.3,57.03 554,56.39 554.7,55.8 555.4,55.26 556.1,54.77 556.8,54.34 557.5,53.97 558.2,53.68 558.9,53.45 559.6,53.3 560.3,53.23 561,53.24 561.7,53.32 562.4,53.48 563.1,53.72 563.8,54.03 564.5,54.41 565.2,54.85 565.9,55.35 566.6,55.9 567.3,56.5 568,57.14 568.7,57.82 569.4,58.52 570.1,59.25 570.8,59.98 571.5,60.73 572.2,61.47 572.9,62.21 573.6,62.94 574.3,63.66 575,64.35 575.7,65.02 576.4,65.67 577.1,66.28 577.8,66.86 578.5,67.41 579.2,67.93 579.9,68.41 580.6,68.86 581.3,69.27 582,69.65 582.7,69.99 583.4,70.3 584.1,70.59 584.8,70.84 585.5,71.07 586.2,71.27 586.9,71.45 587.6,71.61 588.3,71.75 589,71.88 589.7,71.98 590.4,72.07 591.1,72.15 591.8,72.22 592.5,72.28 593.2,72.33 593.9,72.37 594.6,72.41 595.3,72.44 596,72.46 596.7,72.49 597.4,72.5" fill="none" stroke="#4068e0" stroke-width="1.35" stroke-linejoin="round" stroke-linecap="round" />
<polyline points="540.9,72.36 541.6,72.32 542.3,72.29 543,72.24 543.7,72.18 544.4,72.11 545.1,72.03 545.8,71.93 546.5,71.81 547.2,71.67 547.9,71.51 548.6,71.32 549.3,71.11 550,70.85 550.7,70.57 551.4,70.23 552.1,69.86 552.8,69.43 553.5,68.95 554.2,68.41 554.9,67.8 555.6,67.13 556.3,66.39 557,65.57 557.7,64.68 558.4,63.7 559.1,62.65 559.8,61.51 560.5,60.29 561.2,58.99 561.9,57.62 562.6,56.17 563.3,54.65 564,53.07 564.7,51.44 565.4,49.76 566.1,48.04 566.8,46.31 567.5,44.56 568.2,42.82 568.9,41.09 569.6,39.4 570.3,37.76 571,36.19 571.7,34.7 572.4,33.31 573.1,32.03 573.8,30.88 574.5,29.87 575.2,29.01 575.9,28.31 576.6,27.78 577.3,27.43 578,27.27 578.7,27.28 579.4,27.48 580.1,27.85 580.8,28.41 581.5,29.13 582.2,30.01 582.9,31.05 583.6,32.22 584.3,33.52 585,34.93 585.7,36.43 586.4,38.02 587.1,39.67 587.8,41.36 588.5,43.09 589.2,44.84 589.9,46.59 590.6,48.32 591.3,50.03 592,51.71 592.7,53.34 593.4,54.91 594.1,56.42 594.8,57.87 595.5,59.23 596.2,60.52 596.9,61.73 597.6,62.86 598.3,63.9 599,64.87 599.7,65.75 600.4,66.56 601.1,67.29 601.8,67.96 602.5,68.55 603.2,69.09 603.9,69.56 604.6,69.99 605.3,70.36 606,70.69 606.7,70.97 607.4,71.22 608.1,71.44 608.8,71.62 609.5,71.78 610.2,71.92 610.9,72.03 611.6,72.13 612.3,72.21 613,72.28 613.7,72.34 614.4,72.39" fill="none" stroke="#4068e0" stroke-width="1.35" stroke-linejoin="round" stroke-linecap="round" />
<polyline points="557.9,72.34 558.6,72.3 559.3,72.25 560,72.19 560.7,72.12 561.4,72.04 562.1,71.94 562.8,71.82 563.5,71.69 564.2,71.54 564.9,71.37 565.6,71.17 566.3,70.94 567,70.69 567.7,70.4 568.4,70.09 569.1,69.73 569.8,69.35 570.5,68.93 571.2,68.47 571.9,67.98 572.6,67.45 573.3,66.89 574,66.3 574.7,65.68 575.4,65.04 576.1,64.37 576.8,63.69 577.5,63 578.2,62.3 578.9,61.61 579.6,60.93 580.3,60.27 581,59.63 581.7,59.02 582.4,58.46 583.1,57.94 583.8,57.48 584.5,57.08 585.2,56.75 585.9,56.48 586.6,56.3 587.3,56.19 588,56.16 588.7,56.22 589.4,56.35 590.1,56.56 590.8,56.84 591.5,57.2 592.2,57.62 592.9,58.1 593.6,58.63 594.3,59.21 595,59.83 595.7,60.47 596.4,61.15 597.1,61.83 597.8,62.53 598.5,63.23 599.2,63.92 599.9,64.6 600.6,65.26 601.3,65.9 602,66.51 602.7,67.1 603.4,67.65 604.1,68.17 604.8,68.65 605.5,69.1 606.2,69.51 606.9,69.89 607.6,70.23 608.3,70.54 609,70.82 609.7,71.07 610.4,71.29 611.1,71.48 611.8,71.65 612.5,71.8 613.2,71.93 613.9,72.04 614.6,72.14" fill="none" stroke="#4068e0" stroke-width="1.35" stroke-linejoin="round" stroke-linecap="round" stroke-dasharray="3.2,2.2"/>
<path d="M377.5,70.4a1.5,1.5 0 1,0 3.0,0a1.5,1.5 0 1,0 -3.0,0M378.5,70.3a1.5,1.5 0 1,0 3.0,0a1.5,1.5 0 1,0 -3.0,0M379.5,70.7a1.5,1.5 0 1,0 3.0,0a1.5,1.5 0 1,0 -3.0,0M380.5,70.3a1.5,1.5 0 1,0 3.0,0a1.5,1.5 0 1,0 -3.0,0M381.5,70.6a1.5,1.5 0 1,0 3.0,0a1.5,1.5 0 1,0 -3.0,0M382.5,70.2a1.5,1.5 0 1,0 3.0,0a1.5,1.5 0 1,0 -3.0,0M383.5,71.0a1.5,1.5 0 1,0 3.0,0a1.5,1.5 0 1,0 -3.0,0M384.5,70.4a1.5,1.5 0 1,0 3.0,0a1.5,1.5 0 1,0 -3.0,0M385.5,70.8a1.5,1.5 0 1,0 3.0,0a1.5,1.5 0 1,0 -3.0,0M386.5,70.6a1.5,1.5 0 1,0 3.0,0a1.5,1.5 0 1,0 -3.0,0M387.5,70.6a1.5,1.5 0 1,0 3.0,0a1.5,1.5 0 1,0 -3.0,0M388.5,70.5a1.5,1.5 0 1,0 3.0,0a1.5,1.5 0 1,0 -3.0,0M389.5,70.8a1.5,1.5 0 1,0 3.0,0a1.5,1.5 0 1,0 -3.0,0M390.5,70.6a1.5,1.5 0 1,0 3.0,0a1.5,1.5 0 1,0 -3.0,0M391.5,71.1a1.5,1.5 0 1,0 3.0,0a1.5,1.5 0 1,0 -3.0,0M392.5,70.7a1.5,1.5 0 1,0 3.0,0a1.5,1.5 0 1,0 -3.0,0M393.5,70.9a1.5,1.5 0 1,0 3.0,0a1.5,1.5 0 1,0 -3.0,0M394.5,71.2a1.5,1.5 0 1,0 3.0,0a1.5,1.5 0 1,0 -3.0,0M395.5,71.2a1.5,1.5 0 1,0 3.0,0a1.5,1.5 0 1,0 -3.0,0M396.5,71.3a1.5,1.5 0 1,0 3.0,0a1.5,1.5 0 1,0 -3.0,0M397.5,71.3a1.5,1.5 0 1,0 3.0,0a1.5,1.5 0 1,0 -3.0,0M398.5,71.2a1.5,1.5 0 1,0 3.0,0a1.5,1.5 0 1,0 -3.0,0M399.5,71.3a1.5,1.5 0 1,0 3.0,0a1.5,1.5 0 1,0 -3.0,0M400.5,71.4a1.5,1.5 0 1,0 3.0,0a1.5,1.5 0 1,0 -3.0,0M401.5,70.9a1.5,1.5 0 1,0 3.0,0a1.5,1.5 0 1,0 -3.0,0M402.5,71.3a1.5,1.5 0 1,0 3.0,0a1.5,1.5 0 1,0 -3.0,0M403.5,71.3a1.5,1.5 0 1,0 3.0,0a1.5,1.5 0 1,0 -3.0,0M404.5,71.3a1.5,1.5 0 1,0 3.0,0a1.5,1.5 0 1,0 -3.0,0M405.5,71.5a1.5,1.5 0 1,0 3.0,0a1.5,1.5 0 1,0 -3.0,0M406.5,71.1a1.5,1.5 0 1,0 3.0,0a1.5,1.5 0 1,0 -3.0,0M407.5,71.1a1.5,1.5 0 1,0 3.0,0a1.5,1.5 0 1,0 -3.0,0M408.5,71.3a1.5,1.5 0 1,0 3.0,0a1.5,1.5 0 1,0 -3.0,0M409.5,71.6a1.5,1.5 0 1,0 3.0,0a1.5,1.5 0 1,0 -3.0,0M410.5,71.3a1.5,1.5 0 1,0 3.0,0a1.5,1.5 0 1,0 -3.0,0M411.5,71.0a1.5,1.5 0 1,0 3.0,0a1.5,1.5 0 1,0 -3.0,0M412.5,71.9a1.5,1.5 0 1,0 3.0,0a1.5,1.5 0 1,0 -3.0,0M413.5,71.9a1.5,1.5 0 1,0 3.0,0a1.5,1.5 0 1,0 -3.0,0M414.5,71.8a1.5,1.5 0 1,0 3.0,0a1.5,1.5 0 1,0 -3.0,0M415.5,71.6a1.5,1.5 0 1,0 3.0,0a1.5,1.5 0 1,0 -3.0,0M416.5,71.6a1.5,1.5 0 1,0 3.0,0a1.5,1.5 0 1,0 -3.0,0M417.5,71.4a1.5,1.5 0 1,0 3.0,0a1.5,1.5 0 1,0 -3.0,0M418.5,71.5a1.5,1.5 0 1,0 3.0,0a1.5,1.5 0 1,0 -3.0,0M419.5,71.9a1.5,1.5 0 1,0 3.0,0a1.5,1.5 0 1,0 -3.0,0M420.5,71.6a1.5,1.5 0 1,0 3.0,0a1.5,1.5 0 1,0 -3.0,0M421.5,72.1a1.5,1.5 0 1,0 3.0,0a1.5,1.5 0 1,0 -3.0,0M422.5,71.8a1.5,1.5 0 1,0 3.0,0a1.5,1.5 0 1,0 -3.0,0M423.5,71.3a1.5,1.5 0 1,0 3.0,0a1.5,1.5 0 1,0 -3.0,0M424.5,71.9a1.5,1.5 0 1,0 3.0,0a1.5,1.5 0 1,0 -3.0,0M425.5,72.2a1.5,1.5 0 1,0 3.0,0a1.5,1.5 0 1,0 -3.0,0M426.5,72.0a1.5,1.5 0 1,0 3.0,0a1.5,1.5 0 1,0 -3.0,0M427.5,71.7a1.5,1.5 0 1,0 3.0,0a1.5,1.5 0 1,0 -3.0,0M428.5,71.7a1.5,1.5 0 1,0 3.0,0a1.5,1.5 0 1,0 -3.0,0M429.5,72.1a1.5,1.5 0 1,0 3.0,0a1.5,1.5 0 1,0 -3.0,0M430.5,71.8a1.5,1.5 0 1,0 3.0,0a1.5,1.5 0 1,0 -3.0,0M431.5,71.7a1.5,1.5 0 1,0 3.0,0a1.5,1.5 0 1,0 -3.0,0M432.5,72.0a1.5,1.5 0 1,0 3.0,0a1.5,1.5 0 1,0 -3.0,0M433.5,72.0a1.5,1.5 0 1,0 3.0,0a1.5,1.5 0 1,0 -3.0,0M434.5,71.8a1.5,1.5 0 1,0 3.0,0a1.5,1.5 0 1,0 -3.0,0M435.5,71.8a1.5,1.5 0 1,0 3.0,0a1.5,1.5 0 1,0 -3.0,0M436.5,72.1a1.5,1.5 0 1,0 3.0,0a1.5,1.5 0 1,0 -3.0,0M437.5,71.6a1.5,1.5 0 1,0 3.0,0a1.5,1.5 0 1,0 -3.0,0M438.5,71.9a1.5,1.5 0 1,0 3.0,0a1.5,1.5 0 1,0 -3.0,0M439.5,72.0a1.5,1.5 0 1,0 3.0,0a1.5,1.5 0 1,0 -3.0,0M440.5,72.5a1.5,1.5 0 1,0 3.0,0a1.5,1.5 0 1,0 -3.0,0M441.5,71.9a1.5,1.5 0 1,0 3.0,0a1.5,1.5 0 1,0 -3.0,0M442.5,72.3a1.5,1.5 0 1,0 3.0,0a1.5,1.5 0 1,0 -3.0,0M443.5,72.1a1.5,1.5 0 1,0 3.0,0a1.5,1.5 0 1,0 -3.0,0M444.5,72.4a1.5,1.5 0 1,0 3.0,0a1.5,1.5 0 1,0 -3.0,0M445.5,72.5a1.5,1.5 0 1,0 3.0,0a1.5,1.5 0 1,0 -3.0,0M446.5,72.1a1.5,1.5 0 1,0 3.0,0a1.5,1.5 0 1,0 -3.0,0M447.5,72.2a1.5,1.5 0 1,0 3.0,0a1.5,1.5 0 1,0 -3.0,0M448.5,71.9a1.5,1.5 0 1,0 3.0,0a1.5,1.5 0 1,0 -3.0,0M449.5,72.0a1.5,1.5 0 1,0 3.0,0a1.5,1.5 0 1,0 -3.0,0M450.5,72.3a1.5,1.5 0 1,0 3.0,0a1.5,1.5 0 1,0 -3.0,0M451.5,71.8a1.5,1.5 0 1,0 3.0,0a1.5,1.5 0 1,0 -3.0,0M452.5,71.8a1.5,1.5 0 1,0 3.0,0a1.5,1.5 0 1,0 -3.0,0M453.5,72.0a1.5,1.5 0 1,0 3.0,0a1.5,1.5 0 1,0 -3.0,0M454.5,71.9a1.5,1.5 0 1,0 3.0,0a1.5,1.5 0 1,0 -3.0,0M455.5,71.8a1.5,1.5 0 1,0 3.0,0a1.5,1.5 0 1,0 -3.0,0M456.5,71.3a1.5,1.5 0 1,0 3.0,0a1.5,1.5 0 1,0 -3.0,0M457.5,71.7a1.5,1.5 0 1,0 3.0,0a1.5,1.5 0 1,0 -3.0,0M458.5,71.7a1.5,1.5 0 1,0 3.0,0a1.5,1.5 0 1,0 -3.0,0M459.5,71.6a1.5,1.5 0 1,0 3.0,0a1.5,1.5 0 1,0 -3.0,0M460.5,71.5a1.5,1.5 0 1,0 3.0,0a1.5,1.5 0 1,0 -3.0,0M461.5,71.6a1.5,1.5 0 1,0 3.0,0a1.5,1.5 0 1,0 -3.0,0M462.5,71.7a1.5,1.5 0 1,0 3.0,0a1.5,1.5 0 1,0 -3.0,0M463.5,70.8a1.5,1.5 0 1,0 3.0,0a1.5,1.5 0 1,0 -3.0,0M464.5,70.6a1.5,1.5 0 1,0 3.0,0a1.5,1.5 0 1,0 -3.0,0M465.5,70.8a1.5,1.5 0 1,0 3.0,0a1.5,1.5 0 1,0 -3.0,0M466.5,69.9a1.5,1.5 0 1,0 3.0,0a1.5,1.5 0 1,0 -3.0,0M467.5,70.0a1.5,1.5 0 1,0 3.0,0a1.5,1.5 0 1,0 -3.0,0M468.5,69.8a1.5,1.5 0 1,0 3.0,0a1.5,1.5 0 1,0 -3.0,0M469.5,69.6a1.5,1.5 0 1,0 3.0,0a1.5,1.5 0 1,0 -3.0,0M470.5,69.4a1.5,1.5 0 1,0 3.0,0a1.5,1.5 0 1,0 -3.0,0M471.5,69.2a1.5,1.5 0 1,0 3.0,0a1.5,1.5 0 1,0 -3.0,0M472.5,69.0a1.5,1.5 0 1,0 3.0,0a1.5,1.5 0 1,0 -3.0,0M473.5,69.1a1.5,1.5 0 1,0 3.0,0a1.5,1.5 0 1,0 -3.0,0M474.5,69.1a1.5,1.5 0 1,0 3.0,0a1.5,1.5 0 1,0 -3.0,0M475.5,67.9a1.5,1.5 0 1,0 3.0,0a1.5,1.5 0 1,0 -3.0,0M476.5,68.0a1.5,1.5 0 1,0 3.0,0a1.5,1.5 0 1,0 -3.0,0M477.5,67.5a1.5,1.5 0 1,0 3.0,0a1.5,1.5 0 1,0 -3.0,0M478.5,66.9a1.5,1.5 0 1,0 3.0,0a1.5,1.5 0 1,0 -3.0,0M479.5,66.5a1.5,1.5 0 1,0 3.0,0a1.5,1.5 0 1,0 -3.0,0M480.5,65.3a1.5,1.5 0 1,0 3.0,0a1.5,1.5 0 1,0 -3.0,0M481.5,64.7a1.5,1.5 0 1,0 3.0,0a1.5,1.5 0 1,0 -3.0,0M482.5,63.4a1.5,1.5 0 1,0 3.0,0a1.5,1.5 0 1,0 -3.0,0M483.5,62.4a1.5,1.5 0 1,0 3.0,0a1.5,1.5 0 1,0 -3.0,0M484.5,62.2a1.5,1.5 0 1,0 3.0,0a1.5,1.5 0 1,0 -3.0,0M485.5,61.1a1.5,1.5 0 1,0 3.0,0a1.5,1.5 0 1,0 -3.0,0M486.5,59.8a1.5,1.5 0 1,0 3.0,0a1.5,1.5 0 1,0 -3.0,0M487.5,59.1a1.5,1.5 0 1,0 3.0,0a1.5,1.5 0 1,0 -3.0,0M488.5,58.5a1.5,1.5 0 1,0 3.0,0a1.5,1.5 0 1,0 -3.0,0M489.5,57.3a1.5,1.5 0 1,0 3.0,0a1.5,1.5 0 1,0 -3.0,0M490.5,56.9a1.5,1.5 0 1,0 3.0,0a1.5,1.5 0 1,0 -3.0,0M491.5,56.0a1.5,1.5 0 1,0 3.0,0a1.5,1.5 0 1,0 -3.0,0M492.5,55.9a1.5,1.5 0 1,0 3.0,0a1.5,1.5 0 1,0 -3.0,0M493.5,55.4a1.5,1.5 0 1,0 3.0,0a1.5,1.5 0 1,0 -3.0,0M494.5,54.8a1.5,1.5 0 1,0 3.0,0a1.5,1.5 0 1,0 -3.0,0M495.5,54.4a1.5,1.5 0 1,0 3.0,0a1.5,1.5 0 1,0 -3.0,0M496.5,54.0a1.5,1.5 0 1,0 3.0,0a1.5,1.5 0 1,0 -3.0,0M497.5,54.1a1.5,1.5 0 1,0 3.0,0a1.5,1.5 0 1,0 -3.0,0M498.5,53.8a1.5,1.5 0 1,0 3.0,0a1.5,1.5 0 1,0 -3.0,0M499.5,52.7a1.5,1.5 0 1,0 3.0,0a1.5,1.5 0 1,0 -3.0,0M500.5,52.9a1.5,1.5 0 1,0 3.0,0a1.5,1.5 0 1,0 -3.0,0M501.5,53.1a1.5,1.5 0 1,0 3.0,0a1.5,1.5 0 1,0 -3.0,0M502.5,53.3a1.5,1.5 0 1,0 3.0,0a1.5,1.5 0 1,0 -3.0,0M503.5,53.3a1.5,1.5 0 1,0 3.0,0a1.5,1.5 0 1,0 -3.0,0M504.5,54.1a1.5,1.5 0 1,0 3.0,0a1.5,1.5 0 1,0 -3.0,0M505.5,55.0a1.5,1.5 0 1,0 3.0,0a1.5,1.5 0 1,0 -3.0,0M506.5,54.7a1.5,1.5 0 1,0 3.0,0a1.5,1.5 0 1,0 -3.0,0M507.5,55.3a1.5,1.5 0 1,0 3.0,0a1.5,1.5 0 1,0 -3.0,0M508.5,56.1a1.5,1.5 0 1,0 3.0,0a1.5,1.5 0 1,0 -3.0,0M509.5,56.9a1.5,1.5 0 1,0 3.0,0a1.5,1.5 0 1,0 -3.0,0M510.5,57.5a1.5,1.5 0 1,0 3.0,0a1.5,1.5 0 1,0 -3.0,0M511.5,58.1a1.5,1.5 0 1,0 3.0,0a1.5,1.5 0 1,0 -3.0,0M512.5,58.9a1.5,1.5 0 1,0 3.0,0a1.5,1.5 0 1,0 -3.0,0M513.5,59.6a1.5,1.5 0 1,0 3.0,0a1.5,1.5 0 1,0 -3.0,0M514.5,60.2a1.5,1.5 0 1,0 3.0,0a1.5,1.5 0 1,0 -3.0,0M515.5,60.7a1.5,1.5 0 1,0 3.0,0a1.5,1.5 0 1,0 -3.0,0M516.5,61.1a1.5,1.5 0 1,0 3.0,0a1.5,1.5 0 1,0 -3.0,0M517.5,61.8a1.5,1.5 0 1,0 3.0,0a1.5,1.5 0 1,0 -3.0,0M518.5,62.1a1.5,1.5 0 1,0 3.0,0a1.5,1.5 0 1,0 -3.0,0M519.5,62.5a1.5,1.5 0 1,0 3.0,0a1.5,1.5 0 1,0 -3.0,0M520.5,62.5a1.5,1.5 0 1,0 3.0,0a1.5,1.5 0 1,0 -3.0,0M521.5,63.0a1.5,1.5 0 1,0 3.0,0a1.5,1.5 0 1,0 -3.0,0M522.5,62.5a1.5,1.5 0 1,0 3.0,0a1.5,1.5 0 1,0 -3.0,0M523.5,62.2a1.5,1.5 0 1,0 3.0,0a1.5,1.5 0 1,0 -3.0,0M524.5,62.2a1.5,1.5 0 1,0 3.0,0a1.5,1.5 0 1,0 -3.0,0M525.5,61.3a1.5,1.5 0 1,0 3.0,0a1.5,1.5 0 1,0 -3.0,0M526.5,60.7a1.5,1.5 0 1,0 3.0,0a1.5,1.5 0 1,0 -3.0,0M527.5,60.0a1.5,1.5 0 1,0 3.0,0a1.5,1.5 0 1,0 -3.0,0M528.5,58.9a1.5,1.5 0 1,0 3.0,0a1.5,1.5 0 1,0 -3.0,0M529.5,58.8a1.5,1.5 0 1,0 3.0,0a1.5,1.5 0 1,0 -3.0,0M530.5,57.3a1.5,1.5 0 1,0 3.0,0a1.5,1.5 0 1,0 -3.0,0M531.5,56.9a1.5,1.5 0 1,0 3.0,0a1.5,1.5 0 1,0 -3.0,0M532.5,55.7a1.5,1.5 0 1,0 3.0,0a1.5,1.5 0 1,0 -3.0,0M533.5,54.2a1.5,1.5 0 1,0 3.0,0a1.5,1.5 0 1,0 -3.0,0M534.5,52.7a1.5,1.5 0 1,0 3.0,0a1.5,1.5 0 1,0 -3.0,0M535.5,51.6a1.5,1.5 0 1,0 3.0,0a1.5,1.5 0 1,0 -3.0,0M536.5,49.8a1.5,1.5 0 1,0 3.0,0a1.5,1.5 0 1,0 -3.0,0M537.5,48.7a1.5,1.5 0 1,0 3.0,0a1.5,1.5 0 1,0 -3.0,0M538.5,46.7a1.5,1.5 0 1,0 3.0,0a1.5,1.5 0 1,0 -3.0,0M539.5,45.4a1.5,1.5 0 1,0 3.0,0a1.5,1.5 0 1,0 -3.0,0M540.5,44.1a1.5,1.5 0 1,0 3.0,0a1.5,1.5 0 1,0 -3.0,0M541.5,42.7a1.5,1.5 0 1,0 3.0,0a1.5,1.5 0 1,0 -3.0,0M542.5,41.6a1.5,1.5 0 1,0 3.0,0a1.5,1.5 0 1,0 -3.0,0M543.5,41.3a1.5,1.5 0 1,0 3.0,0a1.5,1.5 0 1,0 -3.0,0M544.5,40.4a1.5,1.5 0 1,0 3.0,0a1.5,1.5 0 1,0 -3.0,0M545.5,39.4a1.5,1.5 0 1,0 3.0,0a1.5,1.5 0 1,0 -3.0,0M546.5,38.5a1.5,1.5 0 1,0 3.0,0a1.5,1.5 0 1,0 -3.0,0M547.5,38.0a1.5,1.5 0 1,0 3.0,0a1.5,1.5 0 1,0 -3.0,0M548.5,36.8a1.5,1.5 0 1,0 3.0,0a1.5,1.5 0 1,0 -3.0,0M549.5,36.4a1.5,1.5 0 1,0 3.0,0a1.5,1.5 0 1,0 -3.0,0M550.5,35.5a1.5,1.5 0 1,0 3.0,0a1.5,1.5 0 1,0 -3.0,0M551.5,34.5a1.5,1.5 0 1,0 3.0,0a1.5,1.5 0 1,0 -3.0,0M552.5,33.9a1.5,1.5 0 1,0 3.0,0a1.5,1.5 0 1,0 -3.0,0M553.5,33.2a1.5,1.5 0 1,0 3.0,0a1.5,1.5 0 1,0 -3.0,0M554.5,32.3a1.5,1.5 0 1,0 3.0,0a1.5,1.5 0 1,0 -3.0,0M555.5,31.6a1.5,1.5 0 1,0 3.0,0a1.5,1.5 0 1,0 -3.0,0M556.5,30.3a1.5,1.5 0 1,0 3.0,0a1.5,1.5 0 1,0 -3.0,0M557.5,29.1a1.5,1.5 0 1,0 3.0,0a1.5,1.5 0 1,0 -3.0,0M558.5,27.8a1.5,1.5 0 1,0 3.0,0a1.5,1.5 0 1,0 -3.0,0M559.5,26.5a1.5,1.5 0 1,0 3.0,0a1.5,1.5 0 1,0 -3.0,0M560.5,25.4a1.5,1.5 0 1,0 3.0,0a1.5,1.5 0 1,0 -3.0,0M561.5,23.9a1.5,1.5 0 1,0 3.0,0a1.5,1.5 0 1,0 -3.0,0M562.5,21.7a1.5,1.5 0 1,0 3.0,0a1.5,1.5 0 1,0 -3.0,0M563.5,20.8a1.5,1.5 0 1,0 3.0,0a1.5,1.5 0 1,0 -3.0,0M564.5,19.0a1.5,1.5 0 1,0 3.0,0a1.5,1.5 0 1,0 -3.0,0M565.5,17.8a1.5,1.5 0 1,0 3.0,0a1.5,1.5 0 1,0 -3.0,0M566.5,16.3a1.5,1.5 0 1,0 3.0,0a1.5,1.5 0 1,0 -3.0,0M567.5,15.0a1.5,1.5 0 1,0 3.0,0a1.5,1.5 0 1,0 -3.0,0M568.5,13.0a1.5,1.5 0 1,0 3.0,0a1.5,1.5 0 1,0 -3.0,0M569.5,11.7a1.5,1.5 0 1,0 3.0,0a1.5,1.5 0 1,0 -3.0,0M570.5,10.3a1.5,1.5 0 1,0 3.0,0a1.5,1.5 0 1,0 -3.0,0M571.5,9.0a1.5,1.5 0 1,0 3.0,0a1.5,1.5 0 1,0 -3.0,0M572.5,8.4a1.5,1.5 0 1,0 3.0,0a1.5,1.5 0 1,0 -3.0,0M573.5,8.3a1.5,1.5 0 1,0 3.0,0a1.5,1.5 0 1,0 -3.0,0M574.5,7.3a1.5,1.5 0 1,0 3.0,0a1.5,1.5 0 1,0 -3.0,0M575.5,7.1a1.5,1.5 0 1,0 3.0,0a1.5,1.5 0 1,0 -3.0,0M576.5,7.3a1.5,1.5 0 1,0 3.0,0a1.5,1.5 0 1,0 -3.0,0M577.5,7.2a1.5,1.5 0 1,0 3.0,0a1.5,1.5 0 1,0 -3.0,0M578.5,7.0a1.5,1.5 0 1,0 3.0,0a1.5,1.5 0 1,0 -3.0,0M579.5,7.4a1.5,1.5 0 1,0 3.0,0a1.5,1.5 0 1,0 -3.0,0M580.5,7.8a1.5,1.5 0 1,0 3.0,0a1.5,1.5 0 1,0 -3.0,0M581.5,9.3a1.5,1.5 0 1,0 3.0,0a1.5,1.5 0 1,0 -3.0,0M582.5,9.7a1.5,1.5 0 1,0 3.0,0a1.5,1.5 0 1,0 -3.0,0M583.5,11.3a1.5,1.5 0 1,0 3.0,0a1.5,1.5 0 1,0 -3.0,0M584.5,12.8a1.5,1.5 0 1,0 3.0,0a1.5,1.5 0 1,0 -3.0,0M585.5,14.4a1.5,1.5 0 1,0 3.0,0a1.5,1.5 0 1,0 -3.0,0M586.5,16.4a1.5,1.5 0 1,0 3.0,0a1.5,1.5 0 1,0 -3.0,0M587.5,17.7a1.5,1.5 0 1,0 3.0,0a1.5,1.5 0 1,0 -3.0,0M588.5,19.8a1.5,1.5 0 1,0 3.0,0a1.5,1.5 0 1,0 -3.0,0M589.5,22.3a1.5,1.5 0 1,0 3.0,0a1.5,1.5 0 1,0 -3.0,0M590.5,24.5a1.5,1.5 0 1,0 3.0,0a1.5,1.5 0 1,0 -3.0,0M591.5,27.4a1.5,1.5 0 1,0 3.0,0a1.5,1.5 0 1,0 -3.0,0M592.5,29.7a1.5,1.5 0 1,0 3.0,0a1.5,1.5 0 1,0 -3.0,0M593.5,33.2a1.5,1.5 0 1,0 3.0,0a1.5,1.5 0 1,0 -3.0,0M594.5,35.9a1.5,1.5 0 1,0 3.0,0a1.5,1.5 0 1,0 -3.0,0M595.5,39.5a1.5,1.5 0 1,0 3.0,0a1.5,1.5 0 1,0 -3.0,0M596.5,43.5a1.5,1.5 0 1,0 3.0,0a1.5,1.5 0 1,0 -3.0,0M597.5,46.6a1.5,1.5 0 1,0 3.0,0a1.5,1.5 0 1,0 -3.0,0M598.5,49.2a1.5,1.5 0 1,0 3.0,0a1.5,1.5 0 1,0 -3.0,0M599.5,52.6a1.5,1.5 0 1,0 3.0,0a1.5,1.5 0 1,0 -3.0,0M600.5,54.8a1.5,1.5 0 1,0 3.0,0a1.5,1.5 0 1,0 -3.0,0M601.5,57.6a1.5,1.5 0 1,0 3.0,0a1.5,1.5 0 1,0 -3.0,0M602.5,59.7a1.5,1.5 0 1,0 3.0,0a1.5,1.5 0 1,0 -3.0,0M603.5,61.8a1.5,1.5 0 1,0 3.0,0a1.5,1.5 0 1,0 -3.0,0M604.5,63.8a1.5,1.5 0 1,0 3.0,0a1.5,1.5 0 1,0 -3.0,0M605.5,65.8a1.5,1.5 0 1,0 3.0,0a1.5,1.5 0 1,0 -3.0,0M606.5,66.6a1.5,1.5 0 1,0 3.0,0a1.5,1.5 0 1,0 -3.0,0M607.5,68.3a1.5,1.5 0 1,0 3.0,0a1.5,1.5 0 1,0 -3.0,0M608.5,69.4a1.5,1.5 0 1,0 3.0,0a1.5,1.5 0 1,0 -3.0,0M609.5,69.6a1.5,1.5 0 1,0 3.0,0a1.5,1.5 0 1,0 -3.0,0M610.5,70.1a1.5,1.5 0 1,0 3.0,0a1.5,1.5 0 1,0 -3.0,0M611.5,70.8a1.5,1.5 0 1,0 3.0,0a1.5,1.5 0 1,0 -3.0,0M612.5,71.4a1.5,1.5 0 1,0 3.0,0a1.5,1.5 0 1,0 -3.0,0M613.5,72.2a1.5,1.5 0 1,0 3.0,0a1.5,1.5 0 1,0 -3.0,0M614.5,71.9a1.5,1.5 0 1,0 3.0,0a1.5,1.5 0 1,0 -3.0,0M615.5,72.3a1.5,1.5 0 1,0 3.0,0a1.5,1.5 0 1,0 -3.0,0M616.5,72.5a1.5,1.5 0 1,0 3.0,0a1.5,1.5 0 1,0 -3.0,0M617.5,72.7a1.5,1.5 0 1,0 3.0,0a1.5,1.5 0 1,0 -3.0,0M618.5,72.1a1.5,1.5 0 1,0 3.0,0a1.5,1.5 0 1,0 -3.0,0M619.5,72.6a1.5,1.5 0 1,0 3.0,0a1.5,1.5 0 1,0 -3.0,0M620.5,72.9a1.5,1.5 0 1,0 3.0,0a1.5,1.5 0 1,0 -3.0,0M621.5,73.0a1.5,1.5 0 1,0 3.0,0a1.5,1.5 0 1,0 -3.0,0M622.5,72.3a1.5,1.5 0 1,0 3.0,0a1.5,1.5 0 1,0 -3.0,0M623.5,72.4a1.5,1.5 0 1,0 3.0,0a1.5,1.5 0 1,0 -3.0,0M624.5,72.6a1.5,1.5 0 1,0 3.0,0a1.5,1.5 0 1,0 -3.0,0M625.5,72.6a1.5,1.5 0 1,0 3.0,0a1.5,1.5 0 1,0 -3.0,0M626.5,72.6a1.5,1.5 0 1,0 3.0,0a1.5,1.5 0 1,0 -3.0,0M627.5,72.8a1.5,1.5 0 1,0 3.0,0a1.5,1.5 0 1,0 -3.0,0M628.5,72.9a1.5,1.5 0 1,0 3.0,0a1.5,1.5 0 1,0 -3.0,0M629.5,72.7a1.5,1.5 0 1,0 3.0,0a1.5,1.5 0 1,0 -3.0,0M630.5,72.5a1.5,1.5 0 1,0 3.0,0a1.5,1.5 0 1,0 -3.0,0M631.5,72.5a1.5,1.5 0 1,0 3.0,0a1.5,1.5 0 1,0 -3.0,0M632.5,72.7a1.5,1.5 0 1,0 3.0,0a1.5,1.5 0 1,0 -3.0,0M633.5,72.6a1.5,1.5 0 1,0 3.0,0a1.5,1.5 0 1,0 -3.0,0M634.5,72.8a1.5,1.5 0 1,0 3.0,0a1.5,1.5 0 1,0 -3.0,0M635.5,73.6a1.5,1.5 0 1,0 3.0,0a1.5,1.5 0 1,0 -3.0,0M636.5,73.0a1.5,1.5 0 1,0 3.0,0a1.5,1.5 0 1,0 -3.0,0M637.5,72.7a1.5,1.5 0 1,0 3.0,0a1.5,1.5 0 1,0 -3.0,0M638.5,72.9a1.5,1.5 0 1,0 3.0,0a1.5,1.5 0 1,0 -3.0,0M639.5,72.5a1.5,1.5 0 1,0 3.0,0a1.5,1.5 0 1,0 -3.0,0M640.5,72.5a1.5,1.5 0 1,0 3.0,0a1.5,1.5 0 1,0 -3.0,0M641.5,73.0a1.5,1.5 0 1,0 3.0,0a1.5,1.5 0 1,0 -3.0,0M642.5,73.1a1.5,1.5 0 1,0 3.0,0a1.5,1.5 0 1,0 -3.0,0M643.5,72.6a1.5,1.5 0 1,0 3.0,0a1.5,1.5 0 1,0 -3.0,0M644.5,73.1a1.5,1.5 0 1,0 3.0,0a1.5,1.5 0 1,0 -3.0,0M645.5,72.9a1.5,1.5 0 1,0 3.0,0a1.5,1.5 0 1,0 -3.0,0M646.5,72.8a1.5,1.5 0 1,0 3.0,0a1.5,1.5 0 1,0 -3.0,0M647.5,73.3a1.5,1.5 0 1,0 3.0,0a1.5,1.5 0 1,0 -3.0,0M648.5,72.8a1.5,1.5 0 1,0 3.0,0a1.5,1.5 0 1,0 -3.0,0M649.5,72.5a1.5,1.5 0 1,0 3.0,0a1.5,1.5 0 1,0 -3.0,0M650.5,72.9a1.5,1.5 0 1,0 3.0,0a1.5,1.5 0 1,0 -3.0,0M651.5,72.8a1.5,1.5 0 1,0 3.0,0a1.5,1.5 0 1,0 -3.0,0M652.5,73.3a1.5,1.5 0 1,0 3.0,0a1.5,1.5 0 1,0 -3.0,0M653.5,72.3a1.5,1.5 0 1,0 3.0,0a1.5,1.5 0 1,0 -3.0,0M654.5,73.1a1.5,1.5 0 1,0 3.0,0a1.5,1.5 0 1,0 -3.0,0M655.5,72.9a1.5,1.5 0 1,0 3.0,0a1.5,1.5 0 1,0 -3.0,0M656.5,72.4a1.5,1.5 0 1,0 3.0,0a1.5,1.5 0 1,0 -3.0,0M657.5,73.0a1.5,1.5 0 1,0 3.0,0a1.5,1.5 0 1,0 -3.0,0M658.5,72.8a1.5,1.5 0 1,0 3.0,0a1.5,1.5 0 1,0 -3.0,0M659.5,73.0a1.5,1.5 0 1,0 3.0,0a1.5,1.5 0 1,0 -3.0,0M660.5,72.9a1.5,1.5 0 1,0 3.0,0a1.5,1.5 0 1,0 -3.0,0M661.5,72.9a1.5,1.5 0 1,0 3.0,0a1.5,1.5 0 1,0 -3.0,0M662.5,73.0a1.5,1.5 0 1,0 3.0,0a1.5,1.5 0 1,0 -3.0,0M663.5,73.2a1.5,1.5 0 1,0 3.0,0a1.5,1.5 0 1,0 -3.0,0M664.5,73.0a1.5,1.5 0 1,0 3.0,0a1.5,1.5 0 1,0 -3.0,0M665.5,73.1a1.5,1.5 0 1,0 3.0,0a1.5,1.5 0 1,0 -3.0,0M666.5,72.7a1.5,1.5 0 1,0 3.0,0a1.5,1.5 0 1,0 -3.0,0M667.5,73.4a1.5,1.5 0 1,0 3.0,0a1.5,1.5 0 1,0 -3.0,0M668.5,72.7a1.5,1.5 0 1,0 3.0,0a1.5,1.5 0 1,0 -3.0,0M669.5,73.2a1.5,1.5 0 1,0 3.0,0a1.5,1.5 0 1,0 -3.0,0M670.5,73.0a1.5,1.5 0 1,0 3.0,0a1.5,1.5 0 1,0 -3.0,0M671.5,72.8a1.5,1.5 0 1,0 3.0,0a1.5,1.5 0 1,0 -3.0,0M672.5,73.0a1.5,1.5 0 1,0 3.0,0a1.5,1.5 0 1,0 -3.0,0M673.5,73.1a1.5,1.5 0 1,0 3.0,0a1.5,1.5 0 1,0 -3.0,0M674.5,72.8a1.5,1.5 0 1,0 3.0,0a1.5,1.5 0 1,0 -3.0,0M675.5,72.6a1.5,1.5 0 1,0 3.0,0a1.5,1.5 0 1,0 -3.0,0M676.5,72.8a1.5,1.5 0 1,0 3.0,0a1.5,1.5 0 1,0 -3.0,0M677.5,73.3a1.5,1.5 0 1,0 3.0,0a1.5,1.5 0 1,0 -3.0,0" fill="#999" stroke="none"/>
<polyline points="540.49,46.08 541.03,45.34 541.56,44.65 542.1,44 542.6,43.44 543.11,42.9 543.62,42.38 544.14,41.89 544.66,41.41 545.19,40.95 545.72,40.5 546.25,40.06 546.78,39.62 547.31,39.19 547.85,38.76 548.39,38.33 548.93,37.89 549.46,37.45 550,37 550.5,36.58 551.01,36.18 551.52,35.79 552.03,35.41 552.55,35.04 553.06,34.67 553.58,34.3 554.09,33.92 554.61,33.53 555.13,33.14 555.64,32.72 556.16,32.29 556.67,31.84 557.18,31.36 557.69,30.84 558.2,30.3 558.71,29.71 559.22,29.09 559.74,28.43 560.27,27.73 560.79,27.01 561.31,26.28 561.83,25.52 562.35,24.76 562.86,24 563.37,23.23 563.87,22.48 564.36,21.74 564.84,21.01 565.31,20.31 565.76,19.64 566.2,19 566.81,18.1 567.38,17.22 567.93,16.34 568.45,15.49 568.96,14.67 569.45,13.87 569.95,13.1 570.44,12.38 570.94,11.7 571.46,11.07 572,10.5 572.51,10.01 573.03,9.55 573.55,9.12 574.09,8.72 574.62,8.36 575.16,8.03 575.69,7.74 576.23,7.5 576.76,7.3 577.28,7.15 577.79,7.05 578.3,7 578.84,7 579.36,7.05 579.88,7.14 580.39,7.29 580.9,7.49 581.4,7.75 581.91,8.07 582.42,8.45 582.94,8.9 583.46,9.41 584,10 584.51,10.62 585.03,11.32 585.57,12.1 586.11,12.94 586.66,13.83 587.21,14.77 587.76,15.74 588.3,16.73 588.82,17.73 589.34,18.73 589.83,19.73 590.3,20.7 590.89,21.97 591.45,23.24 591.97,24.52 592.48,25.82 592.98,27.15 593.47,28.52 593.97,29.95 594.47,31.44 595,33 595.49,34.52 596,36.15 596.51,37.88 597.03,39.65 597.54,41.45 598.06,43.24 598.56,44.98 599.06,46.64 599.54,48.19 600,49.6 600.55,51.17 601.07,52.6 601.57,53.9 602.06,55.11 602.54,56.24 603.02,57.34 603.51,58.41 604,59.5 604.49,60.59 604.95,61.67 605.41,62.71 605.88,63.72 606.35,64.68 606.86,65.59 607.4,66.43 608,67.2 608.42,67.67 608.86,68.11 609.31,68.52 609.78,68.9 610.26,69.26 610.75,69.59 611.26,69.91 611.78,70.2" fill="none" stroke="#c05050" stroke-width="0.7" stroke-linejoin="round" stroke-linecap="round" stroke-dasharray="1.2,1.2"/>
<line x1="471" y1="159.3" x2="615" y2="159.3" stroke="#8a3fa0" stroke-width="1.1" />
<polyline points="514.2,149.1 514.9,149.59 515.6,150.09 516.3,150.59 517,151.09 517.7,151.58 518.4,152.06 519.1,152.53 519.8,152.99 520.5,153.43 521.2,153.86 521.9,154.28 522.6,154.67 523.3,155.05 524,155.4 524.7,155.74 525.4,156.06 526.1,156.36 526.8,156.63 527.5,156.89 528.2,157.13 528.9,157.35 529.6,157.56 530.3,157.75 531,157.92 531.7,158.07 532.4,158.21 533.1,158.34 533.8,158.46 534.5,158.56 535.2,158.65 535.9,158.74 536.6,158.81 537.3,158.87 538,158.93 538.7,158.98 539.4,159.03 540.1,159.07 540.8,159.1 541.5,159.13 542.2,159.16 542.9,159.18 543.6,159.2 544.3,159.21 545,159.23 545.7,159.24 546.4,159.25" fill="none" stroke="#4068e0" stroke-width="1.35" stroke-linejoin="round" stroke-linecap="round" />
<polyline points="502.4,159.28 503.1,159.28 503.8,159.27 504.5,159.26 505.2,159.25 505.9,159.24 506.6,159.22 507.3,159.2 508,159.17 508.7,159.14 509.4,159.11 510.1,159.06 510.8,159.01 511.5,158.95 512.2,158.88 512.9,158.8 513.6,158.71 514.3,158.61 515,158.49 515.7,158.35 516.4,158.2 517.1,158.04 517.8,157.86 518.5,157.66 519.2,157.45 519.9,157.22 520.6,156.98 521.3,156.72 522,156.46 522.7,156.18 523.4,155.9 524.1,155.62 524.8,155.34 525.5,155.06 526.2,154.79 526.9,154.53 527.6,154.29 528.3,154.06 529,153.86 529.7,153.69 530.4,153.55 531.1,153.43 531.8,153.35 532.5,153.31 533.2,153.3 533.9,153.33 534.6,153.39 535.3,153.49 536,153.62 536.7,153.79 537.4,153.98 538.1,154.19 538.8,154.43 539.5,154.68 540.2,154.94 540.9,155.22 541.6,155.5 542.3,155.78 543,156.06 543.7,156.34 544.4,156.61 545.1,156.87 545.8,157.12 546.5,157.35 547.2,157.57 547.9,157.78 548.6,157.96 549.3,158.14 550,158.29 550.7,158.43 551.4,158.56 552.1,158.67 552.8,158.77 553.5,158.85 554.2,158.93 554.9,158.99 555.6,159.04 556.3,159.09 557,159.13 557.7,159.16 558.4,159.19 559.1,159.21 559.8,159.23 560.5,159.24 561.2,159.26 561.9,159.27 562.6,159.27 563.3,159.28" fill="none" stroke="#4068e0" stroke-width="1.35" stroke-linejoin="round" stroke-linecap="round" />
<polyline points="510.8,159.27 511.5,159.26 512.2,159.25 512.9,159.24 513.6,159.22 514.3,159.2 515,159.18 515.7,159.15 516.4,159.12 517.1,159.08 517.8,159.03 518.5,158.98 519.2,158.91 519.9,158.84 520.6,158.75 521.3,158.66 522,158.54 522.7,158.41 523.4,158.27 524.1,158.1 524.8,157.92 525.5,157.72 526.2,157.49 526.9,157.24 527.6,156.98 528.3,156.69 529,156.37 529.7,156.04 530.4,155.68 531.1,155.31 531.8,154.92 532.5,154.51 533.2,154.1 533.9,153.67 534.6,153.24 535.3,152.8 536,152.37 536.7,151.95 537.4,151.54 538.1,151.15 538.8,150.78 539.5,150.44 540.2,150.12 540.9,149.85 541.6,149.61 542.3,149.41 543,149.26 543.7,149.16 544.4,149.11 545.1,149.1 545.8,149.15 546.5,149.25 547.2,149.39 547.9,149.58 548.6,149.81 549.3,150.08 550,150.39 550.7,150.73 551.4,151.1 552.1,151.49 552.8,151.89 553.5,152.31 554.2,152.74 554.9,153.18 555.6,153.61 556.3,154.03 557,154.45 557.7,154.86 558.4,155.25 559.1,155.63 559.8,155.99 560.5,156.33 561.2,156.64 561.9,156.94 562.6,157.21 563.3,157.46 564,157.69 564.7,157.89 565.4,158.08 566.1,158.24 566.8,158.39 567.5,158.52 568.2,158.64 568.9,158.74 569.6,158.83 570.3,158.9 571,158.97 571.7,159.03 572.4,159.07 573.1,159.11 573.8,159.15 574.5,159.18 575.2,159.2 575.9,159.22 576.6,159.24 577.3,159.25 578,159.26 578.7,159.27" fill="none" stroke="#4068e0" stroke-width="1.35" stroke-linejoin="round" stroke-linecap="round" />
<polyline points="508.9,159.26 509.6,159.26 510.3,159.25 511,159.24 511.7,159.23 512.4,159.22 513.1,159.21 513.8,159.2 514.5,159.19 515.2,159.17 515.9,159.16 516.6,159.14 517.3,159.12 518,159.1 518.7,159.07 519.4,159.04 520.1,159.01 520.8,158.98 521.5,158.94 522.2,158.9 522.9,158.85 523.6,158.8 524.3,158.75 525,158.69 525.7,158.62 526.4,158.55 527.1,158.48 527.8,158.4 528.5,158.31 529.2,158.21 529.9,158.11 530.6,158 531.3,157.88 532,157.76 532.7,157.62 533.4,157.48 534.1,157.33 534.8,157.17 535.5,157 536.2,156.82 536.9,156.63 537.6,156.43 538.3,156.23 539,156.01 539.7,155.79 540.4,155.55 541.1,155.31 541.8,155.06 542.5,154.8 543.2,154.53 543.9,154.26 544.6,153.97 545.3,153.69 546,153.39 546.7,153.09 547.4,152.79 548.1,152.48 548.8,152.18 549.5,151.87 550.2,151.56 550.9,151.25 551.6,150.94 552.3,150.64 553,150.34 553.7,150.04 554.4,149.76 555.1,149.48 555.8,149.2 556.5,148.94 557.2,148.69 557.9,148.45 558.6,148.23 559.3,148.02 560,147.83 560.7,147.65 561.4,147.49 562.1,147.35 562.8,147.22 563.5,147.12 564.2,147.03 564.9,146.97 565.6,146.93 566.3,146.9 567,146.9 567.7,146.92 568.4,146.96 569.1,147.02 569.8,147.1 570.5,147.21 571.2,147.33 571.9,147.47 572.6,147.62 573.3,147.8 574,147.99 574.7,148.2 575.4,148.42 576.1,148.66 576.8,148.91 577.5,149.17 578.2,149.44 578.9,149.72 579.6,150 580.3,150.3 581,150.59 581.7,150.9 582.4,151.21 583.1,151.51 583.8,151.82 584.5,152.13 585.2,152.44 585.9,152.75 586.6,153.05 587.3,153.35 588,153.64 588.7,153.93 589.4,154.22 590.1,154.49 590.8,154.76 591.5,155.02 592.2,155.27 592.9,155.52 593.6,155.75 594.3,155.98 595,156.2 595.7,156.41 596.4,156.6 597.1,156.79 597.8,156.97 598.5,157.14 599.2,157.31 599.9,157.46 600.6,157.6 601.3,157.74 602,157.86 602.7,157.98 603.4,158.09 604.1,158.2 604.8,158.29 605.5,158.38 606.2,158.47 606.9,158.54 607.6,158.61 608.3,158.68 609,158.74 609.7,158.79 610.4,158.84 611.1,158.89 611.8,158.93 612.5,158.97 613.2,159.01 613.9,159.04 614.6,159.07" fill="none" stroke="#4068e0" stroke-width="1.35" stroke-linejoin="round" stroke-linecap="round" />
<polyline points="544.1,159.12 544.8,159.07 545.5,159.01 546.2,158.94 546.9,158.85 547.6,158.74 548.3,158.6 549,158.44 549.7,158.25 550.4,158.03 551.1,157.76 551.8,157.44 552.5,157.07 553.2,156.64 553.9,156.14 554.6,155.56 555.3,154.91 556,154.16 556.7,153.31 557.4,152.36 558.1,151.3 558.8,150.12 559.5,148.82 560.2,147.39 560.9,145.84 561.6,144.15 562.3,142.34 563,140.4 563.7,138.34 564.4,136.18 565.1,133.91 565.8,131.56 566.5,129.14 567.2,126.67 567.9,124.17 568.6,121.66 569.3,119.17 570,116.73 570.7,114.36 571.4,112.08 572.1,109.94 572.8,107.94 573.5,106.13 574.2,104.53 574.9,103.15 575.6,102.02 576.3,101.15 577,100.56 577.7,100.25 578.4,100.23 579.1,100.49 579.8,101.05 580.5,101.88 581.2,102.97 581.9,104.32 582.6,105.89 583.3,107.67 584,109.64 584.7,111.77 585.4,114.02 586.1,116.38 586.8,118.82 587.5,121.31 588.2,123.81 588.9,126.32 589.6,128.79 590.3,131.22 591,133.58 591.7,135.86 592.4,138.04 593.1,140.11 593.8,142.07 594.5,143.9 595.2,145.6 595.9,147.18 596.6,148.62 597.3,149.94 598,151.14 598.7,152.22 599.4,153.18 600.1,154.04 600.8,154.81 601.5,155.48 602.2,156.06 602.9,156.57 603.6,157.01 604.3,157.39 605,157.71 605.7,157.99 606.4,158.22 607.1,158.42 607.8,158.58 608.5,158.72 609.2,158.83 609.9,158.92 610.6,159 611.3,159.06 612,159.11" fill="none" stroke="#4068e0" stroke-width="1.35" stroke-linejoin="round" stroke-linecap="round" />
<polyline points="563.7,159.09 564.4,159.03 565.1,158.95 565.8,158.86 566.5,158.75 567.2,158.61 567.9,158.44 568.6,158.25 569.3,158.01 570,157.73 570.7,157.41 571.4,157.04 572.1,156.62 572.8,156.13 573.5,155.59 574.2,154.99 574.9,154.33 575.6,153.6 576.3,152.82 577,151.99 577.7,151.1 578.4,150.18 579.1,149.23 579.8,148.26 580.5,147.28 581.2,146.31 581.9,145.36 582.6,144.46 583.3,143.61 584,142.83 584.7,142.14 585.4,141.55 586.1,141.07 586.8,140.71 587.5,140.49 588.2,140.4 588.9,140.45 589.6,140.64 590.3,140.95 591,141.4 591.7,141.96 592.4,142.62 593.1,143.38 593.8,144.21 594.5,145.1 595.2,146.03 595.9,147 596.6,147.98 597.3,148.95 598,149.91 598.7,150.84 599.4,151.74 600.1,152.59 600.8,153.39 601.5,154.13 602.2,154.81 602.9,155.43 603.6,155.99 604.3,156.48 605,156.92 605.7,157.31 606.4,157.65 607.1,157.94 607.8,158.18 608.5,158.39 609.2,158.57 609.9,158.71 610.6,158.83 611.3,158.93 612,159.01 612.7,159.07" fill="none" stroke="#4068e0" stroke-width="1.35" stroke-linejoin="round" stroke-linecap="round" stroke-dasharray="3.2,2.2"/>
<path d="M377.5,157.0a1.5,1.5 0 1,0 3.0,0a1.5,1.5 0 1,0 -3.0,0M378.5,156.9a1.5,1.5 0 1,0 3.0,0a1.5,1.5 0 1,0 -3.0,0M379.5,157.3a1.5,1.5 0 1,0 3.0,0a1.5,1.5 0 1,0 -3.0,0M380.5,157.6a1.5,1.5 0 1,0 3.0,0a1.5,1.5 0 1,0 -3.0,0M381.5,157.8a1.5,1.5 0 1,0 3.0,0a1.5,1.5 0 1,0 -3.0,0M382.5,157.5a1.5,1.5 0 1,0 3.0,0a1.5,1.5 0 1,0 -3.0,0M383.5,157.3a1.5,1.5 0 1,0 3.0,0a1.5,1.5 0 1,0 -3.0,0M384.5,157.6a1.5,1.5 0 1,0 3.0,0a1.5,1.5 0 1,0 -3.0,0M385.5,157.5a1.5,1.5 0 1,0 3.0,0a1.5,1.5 0 1,0 -3.0,0M386.5,157.2a1.5,1.5 0 1,0 3.0,0a1.5,1.5 0 1,0 -3.0,0M387.5,157.9a1.5,1.5 0 1,0 3.0,0a1.5,1.5 0 1,0 -3.0,0M388.5,158.0a1.5,1.5 0 1,0 3.0,0a1.5,1.5 0 1,0 -3.0,0M389.5,157.3a1.5,1.5 0 1,0 3.0,0a1.5,1.5 0 1,0 -3.0,0M390.5,158.1a1.5,1.5 0 1,0 3.0,0a1.5,1.5 0 1,0 -3.0,0M391.5,157.8a1.5,1.5 0 1,0 3.0,0a1.5,1.5 0 1,0 -3.0,0M392.5,157.6a1.5,1.5 0 1,0 3.0,0a1.5,1.5 0 1,0 -3.0,0M393.5,157.4a1.5,1.5 0 1,0 3.0,0a1.5,1.5 0 1,0 -3.0,0M394.5,157.9a1.5,1.5 0 1,0 3.0,0a1.5,1.5 0 1,0 -3.0,0M395.5,157.8a1.5,1.5 0 1,0 3.0,0a1.5,1.5 0 1,0 -3.0,0M396.5,158.1a1.5,1.5 0 1,0 3.0,0a1.5,1.5 0 1,0 -3.0,0M397.5,158.3a1.5,1.5 0 1,0 3.0,0a1.5,1.5 0 1,0 -3.0,0M398.5,158.3a1.5,1.5 0 1,0 3.0,0a1.5,1.5 0 1,0 -3.0,0M399.5,157.9a1.5,1.5 0 1,0 3.0,0a1.5,1.5 0 1,0 -3.0,0M400.5,157.9a1.5,1.5 0 1,0 3.0,0a1.5,1.5 0 1,0 -3.0,0M401.5,158.4a1.5,1.5 0 1,0 3.0,0a1.5,1.5 0 1,0 -3.0,0M402.5,158.1a1.5,1.5 0 1,0 3.0,0a1.5,1.5 0 1,0 -3.0,0M403.5,158.0a1.5,1.5 0 1,0 3.0,0a1.5,1.5 0 1,0 -3.0,0M404.5,158.1a1.5,1.5 0 1,0 3.0,0a1.5,1.5 0 1,0 -3.0,0M405.5,158.4a1.5,1.5 0 1,0 3.0,0a1.5,1.5 0 1,0 -3.0,0M406.5,158.5a1.5,1.5 0 1,0 3.0,0a1.5,1.5 0 1,0 -3.0,0M407.5,158.5a1.5,1.5 0 1,0 3.0,0a1.5,1.5 0 1,0 -3.0,0M408.5,158.4a1.5,1.5 0 1,0 3.0,0a1.5,1.5 0 1,0 -3.0,0M409.5,158.5a1.5,1.5 0 1,0 3.0,0a1.5,1.5 0 1,0 -3.0,0M410.5,158.6a1.5,1.5 0 1,0 3.0,0a1.5,1.5 0 1,0 -3.0,0M411.5,158.7a1.5,1.5 0 1,0 3.0,0a1.5,1.5 0 1,0 -3.0,0M412.5,158.9a1.5,1.5 0 1,0 3.0,0a1.5,1.5 0 1,0 -3.0,0M413.5,158.5a1.5,1.5 0 1,0 3.0,0a1.5,1.5 0 1,0 -3.0,0M414.5,158.5a1.5,1.5 0 1,0 3.0,0a1.5,1.5 0 1,0 -3.0,0M415.5,158.6a1.5,1.5 0 1,0 3.0,0a1.5,1.5 0 1,0 -3.0,0M416.5,158.7a1.5,1.5 0 1,0 3.0,0a1.5,1.5 0 1,0 -3.0,0M417.5,158.5a1.5,1.5 0 1,0 3.0,0a1.5,1.5 0 1,0 -3.0,0M418.5,159.1a1.5,1.5 0 1,0 3.0,0a1.5,1.5 0 1,0 -3.0,0M419.5,158.4a1.5,1.5 0 1,0 3.0,0a1.5,1.5 0 1,0 -3.0,0M420.5,158.7a1.5,1.5 0 1,0 3.0,0a1.5,1.5 0 1,0 -3.0,0M421.5,158.6a1.5,1.5 0 1,0 3.0,0a1.5,1.5 0 1,0 -3.0,0M422.5,158.6a1.5,1.5 0 1,0 3.0,0a1.5,1.5 0 1,0 -3.0,0M423.5,158.7a1.5,1.5 0 1,0 3.0,0a1.5,1.5 0 1,0 -3.0,0M424.5,159.1a1.5,1.5 0 1,0 3.0,0a1.5,1.5 0 1,0 -3.0,0M425.5,158.5a1.5,1.5 0 1,0 3.0,0a1.5,1.5 0 1,0 -3.0,0M426.5,158.5a1.5,1.5 0 1,0 3.0,0a1.5,1.5 0 1,0 -3.0,0M427.5,158.5a1.5,1.5 0 1,0 3.0,0a1.5,1.5 0 1,0 -3.0,0M428.5,158.5a1.5,1.5 0 1,0 3.0,0a1.5,1.5 0 1,0 -3.0,0M429.5,159.1a1.5,1.5 0 1,0 3.0,0a1.5,1.5 0 1,0 -3.0,0M430.5,158.4a1.5,1.5 0 1,0 3.0,0a1.5,1.5 0 1,0 -3.0,0M431.5,158.8a1.5,1.5 0 1,0 3.0,0a1.5,1.5 0 1,0 -3.0,0M432.5,158.9a1.5,1.5 0 1,0 3.0,0a1.5,1.5 0 1,0 -3.0,0M433.5,158.9a1.5,1.5 0 1,0 3.0,0a1.5,1.5 0 1,0 -3.0,0M434.5,159.1a1.5,1.5 0 1,0 3.0,0a1.5,1.5 0 1,0 -3.0,0M435.5,158.9a1.5,1.5 0 1,0 3.0,0a1.5,1.5 0 1,0 -3.0,0M436.5,158.6a1.5,1.5 0 1,0 3.0,0a1.5,1.5 0 1,0 -3.0,0M437.5,158.7a1.5,1.5 0 1,0 3.0,0a1.5,1.5 0 1,0 -3.0,0M438.5,158.9a1.5,1.5 0 1,0 3.0,0a1.5,1.5 0 1,0 -3.0,0M439.5,158.6a1.5,1.5 0 1,0 3.0,0a1.5,1.5 0 1,0 -3.0,0M440.5,158.7a1.5,1.5 0 1,0 3.0,0a1.5,1.5 0 1,0 -3.0,0M441.5,158.9a1.5,1.5 0 1,0 3.0,0a1.5,1.5 0 1,0 -3.0,0M442.5,158.7a1.5,1.5 0 1,0 3.0,0a1.5,1.5 0 1,0 -3.0,0M443.5,159.2a1.5,1.5 0 1,0 3.0,0a1.5,1.5 0 1,0 -3.0,0M444.5,158.7a1.5,1.5 0 1,0 3.0,0a1.5,1.5 0 1,0 -3.0,0M445.5,158.9a1.5,1.5 0 1,0 3.0,0a1.5,1.5 0 1,0 -3.0,0M446.5,158.5a1.5,1.5 0 1,0 3.0,0a1.5,1.5 0 1,0 -3.0,0M447.5,158.8a1.5,1.5 0 1,0 3.0,0a1.5,1.5 0 1,0 -3.0,0M448.5,158.8a1.5,1.5 0 1,0 3.0,0a1.5,1.5 0 1,0 -3.0,0M449.5,158.7a1.5,1.5 0 1,0 3.0,0a1.5,1.5 0 1,0 -3.0,0M450.5,158.8a1.5,1.5 0 1,0 3.0,0a1.5,1.5 0 1,0 -3.0,0M451.5,158.7a1.5,1.5 0 1,0 3.0,0a1.5,1.5 0 1,0 -3.0,0M452.5,159.0a1.5,1.5 0 1,0 3.0,0a1.5,1.5 0 1,0 -3.0,0M453.5,158.5a1.5,1.5 0 1,0 3.0,0a1.5,1.5 0 1,0 -3.0,0M454.5,158.7a1.5,1.5 0 1,0 3.0,0a1.5,1.5 0 1,0 -3.0,0M455.5,158.9a1.5,1.5 0 1,0 3.0,0a1.5,1.5 0 1,0 -3.0,0M456.5,158.6a1.5,1.5 0 1,0 3.0,0a1.5,1.5 0 1,0 -3.0,0M457.5,158.8a1.5,1.5 0 1,0 3.0,0a1.5,1.5 0 1,0 -3.0,0M458.5,158.7a1.5,1.5 0 1,0 3.0,0a1.5,1.5 0 1,0 -3.0,0M459.5,158.8a1.5,1.5 0 1,0 3.0,0a1.5,1.5 0 1,0 -3.0,0M460.5,159.4a1.5,1.5 0 1,0 3.0,0a1.5,1.5 0 1,0 -3.0,0M461.5,158.5a1.5,1.5 0 1,0 3.0,0a1.5,1.5 0 1,0 -3.0,0M462.5,158.6a1.5,1.5 0 1,0 3.0,0a1.5,1.5 0 1,0 -3.0,0M463.5,158.4a1.5,1.5 0 1,0 3.0,0a1.5,1.5 0 1,0 -3.0,0M464.5,158.3a1.5,1.5 0 1,0 3.0,0a1.5,1.5 0 1,0 -3.0,0M465.5,158.9a1.5,1.5 0 1,0 3.0,0a1.5,1.5 0 1,0 -3.0,0M466.5,158.7a1.5,1.5 0 1,0 3.0,0a1.5,1.5 0 1,0 -3.0,0M467.5,158.3a1.5,1.5 0 1,0 3.0,0a1.5,1.5 0 1,0 -3.0,0M468.5,157.9a1.5,1.5 0 1,0 3.0,0a1.5,1.5 0 1,0 -3.0,0M469.5,158.7a1.5,1.5 0 1,0 3.0,0a1.5,1.5 0 1,0 -3.0,0M470.5,158.3a1.5,1.5 0 1,0 3.0,0a1.5,1.5 0 1,0 -3.0,0M471.5,157.7a1.5,1.5 0 1,0 3.0,0a1.5,1.5 0 1,0 -3.0,0M472.5,157.4a1.5,1.5 0 1,0 3.0,0a1.5,1.5 0 1,0 -3.0,0M473.5,157.4a1.5,1.5 0 1,0 3.0,0a1.5,1.5 0 1,0 -3.0,0M474.5,157.5a1.5,1.5 0 1,0 3.0,0a1.5,1.5 0 1,0 -3.0,0M475.5,156.7a1.5,1.5 0 1,0 3.0,0a1.5,1.5 0 1,0 -3.0,0M476.5,156.2a1.5,1.5 0 1,0 3.0,0a1.5,1.5 0 1,0 -3.0,0M477.5,155.8a1.5,1.5 0 1,0 3.0,0a1.5,1.5 0 1,0 -3.0,0M478.5,154.7a1.5,1.5 0 1,0 3.0,0a1.5,1.5 0 1,0 -3.0,0M479.5,154.8a1.5,1.5 0 1,0 3.0,0a1.5,1.5 0 1,0 -3.0,0M480.5,154.1a1.5,1.5 0 1,0 3.0,0a1.5,1.5 0 1,0 -3.0,0M481.5,153.7a1.5,1.5 0 1,0 3.0,0a1.5,1.5 0 1,0 -3.0,0M482.5,152.9a1.5,1.5 0 1,0 3.0,0a1.5,1.5 0 1,0 -3.0,0M483.5,152.2a1.5,1.5 0 1,0 3.0,0a1.5,1.5 0 1,0 -3.0,0M484.5,151.5a1.5,1.5 0 1,0 3.0,0a1.5,1.5 0 1,0 -3.0,0M485.5,150.3a1.5,1.5 0 1,0 3.0,0a1.5,1.5 0 1,0 -3.0,0M486.5,150.1a1.5,1.5 0 1,0 3.0,0a1.5,1.5 0 1,0 -3.0,0M487.5,149.5a1.5,1.5 0 1,0 3.0,0a1.5,1.5 0 1,0 -3.0,0M488.5,149.1a1.5,1.5 0 1,0 3.0,0a1.5,1.5 0 1,0 -3.0,0M489.5,148.3a1.5,1.5 0 1,0 3.0,0a1.5,1.5 0 1,0 -3.0,0M490.5,147.4a1.5,1.5 0 1,0 3.0,0a1.5,1.5 0 1,0 -3.0,0M491.5,147.0a1.5,1.5 0 1,0 3.0,0a1.5,1.5 0 1,0 -3.0,0M492.5,146.5a1.5,1.5 0 1,0 3.0,0a1.5,1.5 0 1,0 -3.0,0M493.5,146.2a1.5,1.5 0 1,0 3.0,0a1.5,1.5 0 1,0 -3.0,0M494.5,145.4a1.5,1.5 0 1,0 3.0,0a1.5,1.5 0 1,0 -3.0,0M495.5,144.7a1.5,1.5 0 1,0 3.0,0a1.5,1.5 0 1,0 -3.0,0M496.5,144.7a1.5,1.5 0 1,0 3.0,0a1.5,1.5 0 1,0 -3.0,0M497.5,144.5a1.5,1.5 0 1,0 3.0,0a1.5,1.5 0 1,0 -3.0,0M498.5,144.7a1.5,1.5 0 1,0 3.0,0a1.5,1.5 0 1,0 -3.0,0M499.5,144.3a1.5,1.5 0 1,0 3.0,0a1.5,1.5 0 1,0 -3.0,0M500.5,143.7a1.5,1.5 0 1,0 3.0,0a1.5,1.5 0 1,0 -3.0,0M501.5,144.2a1.5,1.5 0 1,0 3.0,0a1.5,1.5 0 1,0 -3.0,0M502.5,144.5a1.5,1.5 0 1,0 3.0,0a1.5,1.5 0 1,0 -3.0,0M503.5,144.5a1.5,1.5 0 1,0 3.0,0a1.5,1.5 0 1,0 -3.0,0M504.5,144.4a1.5,1.5 0 1,0 3.0,0a1.5,1.5 0 1,0 -3.0,0M505.5,145.5a1.5,1.5 0 1,0 3.0,0a1.5,1.5 0 1,0 -3.0,0M506.5,145.7a1.5,1.5 0 1,0 3.0,0a1.5,1.5 0 1,0 -3.0,0M507.5,145.8a1.5,1.5 0 1,0 3.0,0a1.5,1.5 0 1,0 -3.0,0M508.5,147.3a1.5,1.5 0 1,0 3.0,0a1.5,1.5 0 1,0 -3.0,0M509.5,147.6a1.5,1.5 0 1,0 3.0,0a1.5,1.5 0 1,0 -3.0,0M510.5,147.7a1.5,1.5 0 1,0 3.0,0a1.5,1.5 0 1,0 -3.0,0M511.5,148.8a1.5,1.5 0 1,0 3.0,0a1.5,1.5 0 1,0 -3.0,0M512.5,149.2a1.5,1.5 0 1,0 3.0,0a1.5,1.5 0 1,0 -3.0,0M513.5,149.8a1.5,1.5 0 1,0 3.0,0a1.5,1.5 0 1,0 -3.0,0M514.5,150.2a1.5,1.5 0 1,0 3.0,0a1.5,1.5 0 1,0 -3.0,0M515.5,150.2a1.5,1.5 0 1,0 3.0,0a1.5,1.5 0 1,0 -3.0,0M516.5,150.9a1.5,1.5 0 1,0 3.0,0a1.5,1.5 0 1,0 -3.0,0M517.5,151.4a1.5,1.5 0 1,0 3.0,0a1.5,1.5 0 1,0 -3.0,0M518.5,151.4a1.5,1.5 0 1,0 3.0,0a1.5,1.5 0 1,0 -3.0,0M519.5,151.7a1.5,1.5 0 1,0 3.0,0a1.5,1.5 0 1,0 -3.0,0M520.5,151.6a1.5,1.5 0 1,0 3.0,0a1.5,1.5 0 1,0 -3.0,0M521.5,151.9a1.5,1.5 0 1,0 3.0,0a1.5,1.5 0 1,0 -3.0,0M522.5,151.8a1.5,1.5 0 1,0 3.0,0a1.5,1.5 0 1,0 -3.0,0M523.5,151.7a1.5,1.5 0 1,0 3.0,0a1.5,1.5 0 1,0 -3.0,0M524.5,151.4a1.5,1.5 0 1,0 3.0,0a1.5,1.5 0 1,0 -3.0,0M525.5,150.7a1.5,1.5 0 1,0 3.0,0a1.5,1.5 0 1,0 -3.0,0M526.5,150.9a1.5,1.5 0 1,0 3.0,0a1.5,1.5 0 1,0 -3.0,0M527.5,150.3a1.5,1.5 0 1,0 3.0,0a1.5,1.5 0 1,0 -3.0,0M528.5,150.1a1.5,1.5 0 1,0 3.0,0a1.5,1.5 0 1,0 -3.0,0M529.5,149.5a1.5,1.5 0 1,0 3.0,0a1.5,1.5 0 1,0 -3.0,0M530.5,149.3a1.5,1.5 0 1,0 3.0,0a1.5,1.5 0 1,0 -3.0,0M531.5,148.8a1.5,1.5 0 1,0 3.0,0a1.5,1.5 0 1,0 -3.0,0M532.5,148.8a1.5,1.5 0 1,0 3.0,0a1.5,1.5 0 1,0 -3.0,0M533.5,147.4a1.5,1.5 0 1,0 3.0,0a1.5,1.5 0 1,0 -3.0,0M534.5,147.0a1.5,1.5 0 1,0 3.0,0a1.5,1.5 0 1,0 -3.0,0M535.5,146.8a1.5,1.5 0 1,0 3.0,0a1.5,1.5 0 1,0 -3.0,0M536.5,145.9a1.5,1.5 0 1,0 3.0,0a1.5,1.5 0 1,0 -3.0,0M537.5,145.5a1.5,1.5 0 1,0 3.0,0a1.5,1.5 0 1,0 -3.0,0M538.5,145.6a1.5,1.5 0 1,0 3.0,0a1.5,1.5 0 1,0 -3.0,0M539.5,144.3a1.5,1.5 0 1,0 3.0,0a1.5,1.5 0 1,0 -3.0,0M540.5,143.5a1.5,1.5 0 1,0 3.0,0a1.5,1.5 0 1,0 -3.0,0M541.5,142.9a1.5,1.5 0 1,0 3.0,0a1.5,1.5 0 1,0 -3.0,0M542.5,142.2a1.5,1.5 0 1,0 3.0,0a1.5,1.5 0 1,0 -3.0,0M543.5,141.4a1.5,1.5 0 1,0 3.0,0a1.5,1.5 0 1,0 -3.0,0M544.5,140.5a1.5,1.5 0 1,0 3.0,0a1.5,1.5 0 1,0 -3.0,0M545.5,139.5a1.5,1.5 0 1,0 3.0,0a1.5,1.5 0 1,0 -3.0,0M546.5,138.8a1.5,1.5 0 1,0 3.0,0a1.5,1.5 0 1,0 -3.0,0M547.5,137.6a1.5,1.5 0 1,0 3.0,0a1.5,1.5 0 1,0 -3.0,0M548.5,136.1a1.5,1.5 0 1,0 3.0,0a1.5,1.5 0 1,0 -3.0,0M549.5,134.8a1.5,1.5 0 1,0 3.0,0a1.5,1.5 0 1,0 -3.0,0M550.5,133.1a1.5,1.5 0 1,0 3.0,0a1.5,1.5 0 1,0 -3.0,0M551.5,131.8a1.5,1.5 0 1,0 3.0,0a1.5,1.5 0 1,0 -3.0,0M552.5,130.1a1.5,1.5 0 1,0 3.0,0a1.5,1.5 0 1,0 -3.0,0M553.5,128.9a1.5,1.5 0 1,0 3.0,0a1.5,1.5 0 1,0 -3.0,0M554.5,127.8a1.5,1.5 0 1,0 3.0,0a1.5,1.5 0 1,0 -3.0,0M555.5,126.2a1.5,1.5 0 1,0 3.0,0a1.5,1.5 0 1,0 -3.0,0M556.5,124.2a1.5,1.5 0 1,0 3.0,0a1.5,1.5 0 1,0 -3.0,0M557.5,122.5a1.5,1.5 0 1,0 3.0,0a1.5,1.5 0 1,0 -3.0,0M558.5,121.1a1.5,1.5 0 1,0 3.0,0a1.5,1.5 0 1,0 -3.0,0M559.5,119.2a1.5,1.5 0 1,0 3.0,0a1.5,1.5 0 1,0 -3.0,0M560.5,116.6a1.5,1.5 0 1,0 3.0,0a1.5,1.5 0 1,0 -3.0,0M561.5,114.5a1.5,1.5 0 1,0 3.0,0a1.5,1.5 0 1,0 -3.0,0M562.5,112.3a1.5,1.5 0 1,0 3.0,0a1.5,1.5 0 1,0 -3.0,0M563.5,110.1a1.5,1.5 0 1,0 3.0,0a1.5,1.5 0 1,0 -3.0,0M564.5,107.8a1.5,1.5 0 1,0 3.0,0a1.5,1.5 0 1,0 -3.0,0M565.5,105.5a1.5,1.5 0 1,0 3.0,0a1.5,1.5 0 1,0 -3.0,0M566.5,102.9a1.5,1.5 0 1,0 3.0,0a1.5,1.5 0 1,0 -3.0,0M567.5,100.2a1.5,1.5 0 1,0 3.0,0a1.5,1.5 0 1,0 -3.0,0M568.5,97.3a1.5,1.5 0 1,0 3.0,0a1.5,1.5 0 1,0 -3.0,0M569.5,94.7a1.5,1.5 0 1,0 3.0,0a1.5,1.5 0 1,0 -3.0,0M570.5,92.3a1.5,1.5 0 1,0 3.0,0a1.5,1.5 0 1,0 -3.0,0M571.5,89.6a1.5,1.5 0 1,0 3.0,0a1.5,1.5 0 1,0 -3.0,0M572.5,86.6a1.5,1.5 0 1,0 3.0,0a1.5,1.5 0 1,0 -3.0,0M573.5,83.6a1.5,1.5 0 1,0 3.0,0a1.5,1.5 0 1,0 -3.0,0M574.5,80.8a1.5,1.5 0 1,0 3.0,0a1.5,1.5 0 1,0 -3.0,0M575.5,79.3a1.5,1.5 0 1,0 3.0,0a1.5,1.5 0 1,0 -3.0,0M576.5,77.3a1.5,1.5 0 1,0 3.0,0a1.5,1.5 0 1,0 -3.0,0M577.5,76.9a1.5,1.5 0 1,0 3.0,0a1.5,1.5 0 1,0 -3.0,0M578.5,77.7a1.5,1.5 0 1,0 3.0,0a1.5,1.5 0 1,0 -3.0,0M579.5,77.6a1.5,1.5 0 1,0 3.0,0a1.5,1.5 0 1,0 -3.0,0M580.5,78.4a1.5,1.5 0 1,0 3.0,0a1.5,1.5 0 1,0 -3.0,0M581.5,79.7a1.5,1.5 0 1,0 3.0,0a1.5,1.5 0 1,0 -3.0,0M582.5,80.9a1.5,1.5 0 1,0 3.0,0a1.5,1.5 0 1,0 -3.0,0M583.5,83.2a1.5,1.5 0 1,0 3.0,0a1.5,1.5 0 1,0 -3.0,0M584.5,85.8a1.5,1.5 0 1,0 3.0,0a1.5,1.5 0 1,0 -3.0,0M585.5,88.2a1.5,1.5 0 1,0 3.0,0a1.5,1.5 0 1,0 -3.0,0M586.5,91.9a1.5,1.5 0 1,0 3.0,0a1.5,1.5 0 1,0 -3.0,0M587.5,94.7a1.5,1.5 0 1,0 3.0,0a1.5,1.5 0 1,0 -3.0,0M588.5,98.4a1.5,1.5 0 1,0 3.0,0a1.5,1.5 0 1,0 -3.0,0M589.5,101.8a1.5,1.5 0 1,0 3.0,0a1.5,1.5 0 1,0 -3.0,0M590.5,104.5a1.5,1.5 0 1,0 3.0,0a1.5,1.5 0 1,0 -3.0,0M591.5,108.5a1.5,1.5 0 1,0 3.0,0a1.5,1.5 0 1,0 -3.0,0M592.5,112.2a1.5,1.5 0 1,0 3.0,0a1.5,1.5 0 1,0 -3.0,0M593.5,115.4a1.5,1.5 0 1,0 3.0,0a1.5,1.5 0 1,0 -3.0,0M594.5,118.6a1.5,1.5 0 1,0 3.0,0a1.5,1.5 0 1,0 -3.0,0M595.5,122.4a1.5,1.5 0 1,0 3.0,0a1.5,1.5 0 1,0 -3.0,0M596.5,125.4a1.5,1.5 0 1,0 3.0,0a1.5,1.5 0 1,0 -3.0,0M597.5,129.3a1.5,1.5 0 1,0 3.0,0a1.5,1.5 0 1,0 -3.0,0M598.5,132.9a1.5,1.5 0 1,0 3.0,0a1.5,1.5 0 1,0 -3.0,0M599.5,136.2a1.5,1.5 0 1,0 3.0,0a1.5,1.5 0 1,0 -3.0,0M600.5,139.3a1.5,1.5 0 1,0 3.0,0a1.5,1.5 0 1,0 -3.0,0M601.5,142.2a1.5,1.5 0 1,0 3.0,0a1.5,1.5 0 1,0 -3.0,0M602.5,145.0a1.5,1.5 0 1,0 3.0,0a1.5,1.5 0 1,0 -3.0,0M603.5,147.3a1.5,1.5 0 1,0 3.0,0a1.5,1.5 0 1,0 -3.0,0M604.5,148.8a1.5,1.5 0 1,0 3.0,0a1.5,1.5 0 1,0 -3.0,0M605.5,149.8a1.5,1.5 0 1,0 3.0,0a1.5,1.5 0 1,0 -3.0,0M606.5,151.6a1.5,1.5 0 1,0 3.0,0a1.5,1.5 0 1,0 -3.0,0M607.5,152.9a1.5,1.5 0 1,0 3.0,0a1.5,1.5 0 1,0 -3.0,0M608.5,154.7a1.5,1.5 0 1,0 3.0,0a1.5,1.5 0 1,0 -3.0,0M609.5,154.9a1.5,1.5 0 1,0 3.0,0a1.5,1.5 0 1,0 -3.0,0M610.5,156.4a1.5,1.5 0 1,0 3.0,0a1.5,1.5 0 1,0 -3.0,0M611.5,156.9a1.5,1.5 0 1,0 3.0,0a1.5,1.5 0 1,0 -3.0,0M612.5,157.3a1.5,1.5 0 1,0 3.0,0a1.5,1.5 0 1,0 -3.0,0M613.5,158.1a1.5,1.5 0 1,0 3.0,0a1.5,1.5 0 1,0 -3.0,0M614.5,157.9a1.5,1.5 0 1,0 3.0,0a1.5,1.5 0 1,0 -3.0,0M615.5,158.4a1.5,1.5 0 1,0 3.0,0a1.5,1.5 0 1,0 -3.0,0M616.5,158.6a1.5,1.5 0 1,0 3.0,0a1.5,1.5 0 1,0 -3.0,0M617.5,158.2a1.5,1.5 0 1,0 3.0,0a1.5,1.5 0 1,0 -3.0,0M618.5,158.5a1.5,1.5 0 1,0 3.0,0a1.5,1.5 0 1,0 -3.0,0M619.5,158.9a1.5,1.5 0 1,0 3.0,0a1.5,1.5 0 1,0 -3.0,0M620.5,158.1a1.5,1.5 0 1,0 3.0,0a1.5,1.5 0 1,0 -3.0,0M621.5,159.0a1.5,1.5 0 1,0 3.0,0a1.5,1.5 0 1,0 -3.0,0M622.5,158.8a1.5,1.5 0 1,0 3.0,0a1.5,1.5 0 1,0 -3.0,0M623.5,159.1a1.5,1.5 0 1,0 3.0,0a1.5,1.5 0 1,0 -3.0,0M624.5,158.9a1.5,1.5 0 1,0 3.0,0a1.5,1.5 0 1,0 -3.0,0M625.5,158.9a1.5,1.5 0 1,0 3.0,0a1.5,1.5 0 1,0 -3.0,0M626.5,158.5a1.5,1.5 0 1,0 3.0,0a1.5,1.5 0 1,0 -3.0,0M627.5,158.7a1.5,1.5 0 1,0 3.0,0a1.5,1.5 0 1,0 -3.0,0M628.5,158.9a1.5,1.5 0 1,0 3.0,0a1.5,1.5 0 1,0 -3.0,0M629.5,159.1a1.5,1.5 0 1,0 3.0,0a1.5,1.5 0 1,0 -3.0,0M630.5,158.8a1.5,1.5 0 1,0 3.0,0a1.5,1.5 0 1,0 -3.0,0M631.5,159.2a1.5,1.5 0 1,0 3.0,0a1.5,1.5 0 1,0 -3.0,0M632.5,159.3a1.5,1.5 0 1,0 3.0,0a1.5,1.5 0 1,0 -3.0,0M633.5,159.3a1.5,1.5 0 1,0 3.0,0a1.5,1.5 0 1,0 -3.0,0M634.5,159.4a1.5,1.5 0 1,0 3.0,0a1.5,1.5 0 1,0 -3.0,0M635.5,159.4a1.5,1.5 0 1,0 3.0,0a1.5,1.5 0 1,0 -3.0,0M636.5,159.1a1.5,1.5 0 1,0 3.0,0a1.5,1.5 0 1,0 -3.0,0M637.5,159.4a1.5,1.5 0 1,0 3.0,0a1.5,1.5 0 1,0 -3.0,0M638.5,159.3a1.5,1.5 0 1,0 3.0,0a1.5,1.5 0 1,0 -3.0,0M639.5,159.4a1.5,1.5 0 1,0 3.0,0a1.5,1.5 0 1,0 -3.0,0M640.5,158.9a1.5,1.5 0 1,0 3.0,0a1.5,1.5 0 1,0 -3.0,0M641.5,159.2a1.5,1.5 0 1,0 3.0,0a1.5,1.5 0 1,0 -3.0,0M642.5,159.1a1.5,1.5 0 1,0 3.0,0a1.5,1.5 0 1,0 -3.0,0M643.5,159.2a1.5,1.5 0 1,0 3.0,0a1.5,1.5 0 1,0 -3.0,0M644.5,159.3a1.5,1.5 0 1,0 3.0,0a1.5,1.5 0 1,0 -3.0,0M645.5,159.3a1.5,1.5 0 1,0 3.0,0a1.5,1.5 0 1,0 -3.0,0M646.5,159.4a1.5,1.5 0 1,0 3.0,0a1.5,1.5 0 1,0 -3.0,0M647.5,159.2a1.5,1.5 0 1,0 3.0,0a1.5,1.5 0 1,0 -3.0,0M648.5,159.2a1.5,1.5 0 1,0 3.0,0a1.5,1.5 0 1,0 -3.0,0M649.5,159.4a1.5,1.5 0 1,0 3.0,0a1.5,1.5 0 1,0 -3.0,0M650.5,159.3a1.5,1.5 0 1,0 3.0,0a1.5,1.5 0 1,0 -3.0,0M651.5,159.6a1.5,1.5 0 1,0 3.0,0a1.5,1.5 0 1,0 -3.0,0M652.5,159.6a1.5,1.5 0 1,0 3.0,0a1.5,1.5 0 1,0 -3.0,0M653.5,159.8a1.5,1.5 0 1,0 3.0,0a1.5,1.5 0 1,0 -3.0,0M654.5,159.4a1.5,1.5 0 1,0 3.0,0a1.5,1.5 0 1,0 -3.0,0M655.5,159.6a1.5,1.5 0 1,0 3.0,0a1.5,1.5 0 1,0 -3.0,0M656.5,159.6a1.5,1.5 0 1,0 3.0,0a1.5,1.5 0 1,0 -3.0,0M657.5,159.7a1.5,1.5 0 1,0 3.0,0a1.5,1.5 0 1,0 -3.0,0M658.5,159.4a1.5,1.5 0 1,0 3.0,0a1.5,1.5 0 1,0 -3.0,0M659.5,160.1a1.5,1.5 0 1,0 3.0,0a1.5,1.5 0 1,0 -3.0,0M660.5,159.8a1.5,1.5 0 1,0 3.0,0a1.5,1.5 0 1,0 -3.0,0M661.5,160.1a1.5,1.5 0 1,0 3.0,0a1.5,1.5 0 1,0 -3.0,0M662.5,159.6a1.5,1.5 0 1,0 3.0,0a1.5,1.5 0 1,0 -3.0,0M663.5,159.8a1.5,1.5 0 1,0 3.0,0a1.5,1.5 0 1,0 -3.0,0M664.5,160.0a1.5,1.5 0 1,0 3.0,0a1.5,1.5 0 1,0 -3.0,0M665.5,159.8a1.5,1.5 0 1,0 3.0,0a1.5,1.5 0 1,0 -3.0,0M666.5,159.9a1.5,1.5 0 1,0 3.0,0a1.5,1.5 0 1,0 -3.0,0M667.5,159.7a1.5,1.5 0 1,0 3.0,0a1.5,1.5 0 1,0 -3.0,0M668.5,160.3a1.5,1.5 0 1,0 3.0,0a1.5,1.5 0 1,0 -3.0,0M669.5,160.1a1.5,1.5 0 1,0 3.0,0a1.5,1.5 0 1,0 -3.0,0M670.5,159.8a1.5,1.5 0 1,0 3.0,0a1.5,1.5 0 1,0 -3.0,0M671.5,159.9a1.5,1.5 0 1,0 3.0,0a1.5,1.5 0 1,0 -3.0,0M672.5,159.7a1.5,1.5 0 1,0 3.0,0a1.5,1.5 0 1,0 -3.0,0M673.5,160.1a1.5,1.5 0 1,0 3.0,0a1.5,1.5 0 1,0 -3.0,0M674.5,159.9a1.5,1.5 0 1,0 3.0,0a1.5,1.5 0 1,0 -3.0,0M675.5,159.8a1.5,1.5 0 1,0 3.0,0a1.5,1.5 0 1,0 -3.0,0M676.5,160.1a1.5,1.5 0 1,0 3.0,0a1.5,1.5 0 1,0 -3.0,0M677.5,160.6a1.5,1.5 0 1,0 3.0,0a1.5,1.5 0 1,0 -3.0,0" fill="#6a6a6a" stroke="none"/>
<polyline points="558.03,124.21 558.48,123.47 558.91,122.77 559.3,122.1 560.02,120.84 560.66,119.64 561.23,118.49 561.75,117.39 562.23,116.32 562.69,115.26 563.13,114.22 563.57,113.17 564.02,112.1 564.5,111 565.03,109.81 565.53,108.68 566,107.6 566.48,106.51 566.95,105.38 567.45,104.18 567.98,102.88 568.56,101.43 569.2,99.8 569.65,98.61 570.15,97.26 570.67,95.8 571.23,94.24 571.8,92.62 572.38,90.97 572.96,89.31 573.55,87.67 574.12,86.08 574.68,84.57 575.21,83.17 575.71,81.91 576.18,80.81 576.6,79.9 577.31,78.55 577.89,77.66 578.38,77.15 578.82,76.95 579.26,76.97 579.74,77.15 580.3,77.4 580.74,77.61 581.2,77.86 581.67,78.19 582.15,78.6 582.64,79.1 583.15,79.72 583.67,80.46 584.2,81.34 584.75,82.39 585.3,83.6 585.77,84.77 586.26,86.11 586.77,87.58 587.28,89.17 587.8,90.86 588.32,92.62 588.86,94.43 589.39,96.27 589.92,98.12 590.45,99.96 590.98,101.76 591.5,103.5 592.02,105.22 592.53,106.96 593.05,108.72 593.57,110.49 594.08,112.27 594.6,114.06 595.12,115.84 595.63,117.62 596.15,119.39 596.67,121.14 597.18,122.88 597.7,124.6 598.21,126.32 598.72,128.07 599.22,129.84 599.72,131.61 600.22,133.38 600.72,135.12 601.22,136.83 601.74,138.49 602.26,140.09 602.79,141.61 603.34,143.06 603.9,144.4 604.36,145.41 604.82,146.39 605.28,147.32 605.74,148.22 606.21,149.07 606.69,149.89 607.17,150.67 607.67,151.42 608.16,152.12 608.67,152.79 609.19,153.43 609.73,154.02 610.27,154.58 610.83,155.11 611.4,155.6 611.84,155.95" fill="none" stroke="#c05050" stroke-width="0.7" stroke-linejoin="round" stroke-linecap="round" stroke-dasharray="1.2,1.2"/>
<line x1="471" y1="223.5" x2="615" y2="223.5" stroke="#8a3fa0" stroke-width="1.1" />
<polyline points="510.8,216.5 511.5,216.87 512.2,217.24 512.9,217.61 513.6,217.98 514.3,218.34 515,218.69 515.7,219.04 516.4,219.37 517.1,219.7 517.8,220.01 518.5,220.3 519.2,220.58 519.9,220.85 520.6,221.09 521.3,221.33 522,221.54 522.7,221.75 523.4,221.93 524.1,222.1 524.8,222.26 525.5,222.4 526.2,222.53 526.9,222.65 527.6,222.75 528.3,222.85 529,222.93 529.7,223.01 530.4,223.08 531.1,223.13 531.8,223.19 532.5,223.23 533.2,223.27 533.9,223.31 534.6,223.34 535.3,223.36 536,223.38 536.7,223.4 537.4,223.42 538.1,223.43 538.8,223.44 539.5,223.45 540.2,223.46" fill="none" stroke="#4068e0" stroke-width="1.35" stroke-linejoin="round" stroke-linecap="round" />
<polyline points="498,223.48 498.7,223.48 499.4,223.47 500.1,223.46 500.8,223.45 501.5,223.44 502.2,223.43 502.9,223.41 503.6,223.39 504.3,223.37 505,223.34 505.7,223.31 506.4,223.27 507.1,223.23 507.8,223.18 508.5,223.12 509.2,223.05 509.9,222.98 510.6,222.89 511.3,222.8 512,222.69 512.7,222.57 513.4,222.44 514.1,222.29 514.8,222.13 515.5,221.96 516.2,221.78 516.9,221.58 517.6,221.37 518.3,221.15 519,220.92 519.7,220.68 520.4,220.44 521.1,220.19 521.8,219.93 522.5,219.68 523.2,219.43 523.9,219.18 524.6,218.94 525.3,218.71 526,218.49 526.7,218.29 527.4,218.1 528.1,217.94 528.8,217.8 529.5,217.68 530.2,217.6 530.9,217.54 531.6,217.5 532.3,217.5 533,217.53 533.7,217.59 534.4,217.67 535.1,217.78 535.8,217.92 536.5,218.08 537.2,218.26 537.9,218.46 538.6,218.67 539.3,218.9 540,219.14 540.7,219.39 541.4,219.64 542.1,219.9 542.8,220.15 543.5,220.4 544.2,220.65 544.9,220.89 545.6,221.12 546.3,221.34 547,221.55 547.7,221.75 548.4,221.94 549.1,222.11 549.8,222.27 550.5,222.42 551.2,222.55 551.9,222.67 552.6,222.78 553.3,222.88 554,222.97 554.7,223.04 555.4,223.11 556.1,223.17 556.8,223.22 557.5,223.27 558.2,223.31 558.9,223.34 559.6,223.37 560.3,223.39 561,223.41 561.7,223.43 562.4,223.44 563.1,223.45 563.8,223.46 564.5,223.47 565.2,223.48 565.9,223.48" fill="none" stroke="#4068e0" stroke-width="1.35" stroke-linejoin="round" stroke-linecap="round" />
<polyline points="503.3,223.46 504,223.45 504.7,223.44 505.4,223.43 506.1,223.41 506.8,223.4 507.5,223.37 508.2,223.35 508.9,223.32 509.6,223.29 510.3,223.25 511,223.21 511.7,223.16 512.4,223.1 513.1,223.03 513.8,222.96 514.5,222.87 515.2,222.78 515.9,222.67 516.6,222.55 517.3,222.42 518,222.27 518.7,222.11 519.4,221.93 520.1,221.73 520.8,221.51 521.5,221.28 522.2,221.02 522.9,220.75 523.6,220.46 524.3,220.14 525,219.81 525.7,219.46 526.4,219.09 527.1,218.7 527.8,218.29 528.5,217.87 529.2,217.44 529.9,217 530.6,216.54 531.3,216.08 532,215.62 532.7,215.16 533.4,214.7 534.1,214.24 534.8,213.8 535.5,213.37 536.2,212.95 536.9,212.56 537.6,212.19 538.3,211.84 539,211.53 539.7,211.25 540.4,211.01 541.1,210.8 541.8,210.64 542.5,210.52 543.2,210.44 543.9,210.4 544.6,210.41 545.3,210.47 546,210.56 546.7,210.7 547.4,210.89 548.1,211.11 548.8,211.37 549.5,211.66 550.2,211.99 550.9,212.34 551.6,212.72 552.3,213.13 553,213.55 553.7,213.99 554.4,214.44 555.1,214.89 555.8,215.36 556.5,215.82 557.2,216.28 557.9,216.74 558.6,217.19 559.3,217.63 560,218.05 560.7,218.47 561.4,218.87 562.1,219.25 562.8,219.61 563.5,219.95 564.2,220.28 564.9,220.58 565.6,220.87 566.3,221.13 567,221.38 567.7,221.61 568.4,221.81 569.1,222 569.8,222.18 570.5,222.34 571.2,222.48 571.9,222.6 572.6,222.72 573.3,222.82 574,222.91 574.7,222.99 575.4,223.06 576.1,223.13 576.8,223.18 577.5,223.23 578.2,223.27 578.9,223.3 579.6,223.34 580.3,223.36 581,223.38 581.7,223.4 582.4,223.42 583.1,223.43 583.8,223.44 584.5,223.45" fill="none" stroke="#4068e0" stroke-width="1.35" stroke-linejoin="round" stroke-linecap="round" />
<polyline points="527.6,223.43 528.3,223.42 529,223.4 529.7,223.37 530.4,223.34 531.1,223.31 531.8,223.27 532.5,223.22 533.2,223.16 533.9,223.09 534.6,223.01 535.3,222.92 536,222.81 536.7,222.69 537.4,222.55 538.1,222.38 538.8,222.2 539.5,221.99 540.2,221.75 540.9,221.49 541.6,221.19 542.3,220.86 543,220.5 543.7,220.09 544.4,219.66 545.1,219.18 545.8,218.66 546.5,218.1 547.2,217.51 547.9,216.87 548.6,216.19 549.3,215.48 550,214.74 550.7,213.96 551.4,213.16 552.1,212.34 552.8,211.5 553.5,210.65 554.2,209.79 554.9,208.94 555.6,208.09 556.3,207.26 557,206.46 557.7,205.69 558.4,204.96 559.1,204.27 559.8,203.65 560.5,203.08 561.2,202.59 561.9,202.16 562.6,201.82 563.3,201.56 564,201.39 564.7,201.31 565.4,201.31 566.1,201.41 566.8,201.6 567.5,201.87 568.2,202.22 568.9,202.65 569.6,203.16 570.3,203.73 571,204.37 571.7,205.06 572.4,205.8 573.1,206.57 573.8,207.38 574.5,208.21 575.2,209.06 575.9,209.91 576.6,210.77 577.3,211.62 578,212.46 578.7,213.28 579.4,214.08 580.1,214.85 580.8,215.59 581.5,216.29 582.2,216.96 582.9,217.59 583.6,218.19 584.3,218.74 585,219.25 585.7,219.72 586.4,220.15 587.1,220.55 587.8,220.91 588.5,221.23 589.2,221.53 589.9,221.79 590.6,222.02 591.3,222.23 592,222.41 592.7,222.57 593.4,222.71 594.1,222.83 594.8,222.93 595.5,223.02 596.2,223.1 596.9,223.17 597.6,223.23 598.3,223.27 599,223.31 599.7,223.35 600.4,223.37 601.1,223.4 601.8,223.42" fill="none" stroke="#4068e0" stroke-width="1.35" stroke-linejoin="round" stroke-linecap="round" />
<polyline points="545.08,223.36 545.78,223.33 546.48,223.28 547.18,223.23 547.88,223.16 548.58,223.07 549.28,222.97 549.98,222.85 550.68,222.7 551.38,222.52 552.08,222.31 552.78,222.06 553.48,221.77 554.18,221.43 554.88,221.04 555.58,220.59 556.28,220.07 556.98,219.48 557.68,218.81 558.38,218.06 559.08,217.23 559.78,216.3 560.48,215.27 561.18,214.15 561.88,212.92 562.58,211.6 563.28,210.18 563.98,208.66 564.68,207.06 565.38,205.38 566.08,203.63 566.78,201.81 567.48,199.96 568.18,198.07 568.88,196.18 569.58,194.29 570.28,192.43 570.98,190.62 571.68,188.88 572.38,187.23 573.08,185.7 573.78,184.31 574.48,183.07 575.18,182 575.88,181.12 576.58,180.45 577.28,179.99 577.98,179.74 578.68,179.72 579.38,179.92 580.08,180.34 580.78,180.97 581.48,181.81 582.18,182.84 582.88,184.05 583.58,185.41 584.28,186.92 584.98,188.54 585.68,190.26 586.38,192.06 587.08,193.91 587.78,195.8 588.48,197.69 589.18,199.58 589.88,201.45 590.58,203.27 591.28,205.03 591.98,206.73 592.68,208.35 593.38,209.88 594.08,211.32 594.78,212.66 595.48,213.91 596.18,215.05 596.88,216.1 597.58,217.05 598.28,217.9 598.98,218.67 599.68,219.35 600.38,219.96 601.08,220.49 601.78,220.96 602.48,221.36 603.18,221.71 603.88,222.01 604.58,222.26 605.28,222.48 605.98,222.67 606.68,222.82 607.38,222.95 608.08,223.05 608.78,223.14 609.48,223.21 610.18,223.27 610.88,223.32 611.58,223.36" fill="none" stroke="#4068e0" stroke-width="1.35" stroke-linejoin="round" stroke-linecap="round" />
<path d="M377.4,221.3a1.65,1.65 0 1,0 3.3,0a1.65,1.65 0 1,0 -3.3,0M378.1,221.1a1.65,1.65 0 1,0 3.3,0a1.65,1.65 0 1,0 -3.3,0M378.8,221.1a1.65,1.65 0 1,0 3.3,0a1.65,1.65 0 1,0 -3.3,0M379.4,221.5a1.65,1.65 0 1,0 3.3,0a1.65,1.65 0 1,0 -3.3,0M380.1,221.1a1.65,1.65 0 1,0 3.3,0a1.65,1.65 0 1,0 -3.3,0M380.8,220.9a1.65,1.65 0 1,0 3.3,0a1.65,1.65 0 1,0 -3.3,0M381.5,221.5a1.65,1.65 0 1,0 3.3,0a1.65,1.65 0 1,0 -3.3,0M382.2,220.7a1.65,1.65 0 1,0 3.3,0a1.65,1.65 0 1,0 -3.3,0M382.9,220.7a1.65,1.65 0 1,0 3.3,0a1.65,1.65 0 1,0 -3.3,0M383.6,221.1a1.65,1.65 0 1,0 3.3,0a1.65,1.65 0 1,0 -3.3,0M384.3,221.1a1.65,1.65 0 1,0 3.3,0a1.65,1.65 0 1,0 -3.3,0M385.0,220.6a1.65,1.65 0 1,0 3.3,0a1.65,1.65 0 1,0 -3.3,0M385.7,220.6a1.65,1.65 0 1,0 3.3,0a1.65,1.65 0 1,0 -3.3,0M386.4,221.2a1.65,1.65 0 1,0 3.3,0a1.65,1.65 0 1,0 -3.3,0M387.1,220.9a1.65,1.65 0 1,0 3.3,0a1.65,1.65 0 1,0 -3.3,0M387.8,220.4a1.65,1.65 0 1,0 3.3,0a1.65,1.65 0 1,0 -3.3,0M388.5,221.5a1.65,1.65 0 1,0 3.3,0a1.65,1.65 0 1,0 -3.3,0M389.2,221.5a1.65,1.65 0 1,0 3.3,0a1.65,1.65 0 1,0 -3.3,0M389.9,221.5a1.65,1.65 0 1,0 3.3,0a1.65,1.65 0 1,0 -3.3,0M390.6,221.0a1.65,1.65 0 1,0 3.3,0a1.65,1.65 0 1,0 -3.3,0M391.3,220.7a1.65,1.65 0 1,0 3.3,0a1.65,1.65 0 1,0 -3.3,0M392.0,220.8a1.65,1.65 0 1,0 3.3,0a1.65,1.65 0 1,0 -3.3,0M392.7,221.3a1.65,1.65 0 1,0 3.3,0a1.65,1.65 0 1,0 -3.3,0M393.4,220.9a1.65,1.65 0 1,0 3.3,0a1.65,1.65 0 1,0 -3.3,0M394.1,220.5a1.65,1.65 0 1,0 3.3,0a1.65,1.65 0 1,0 -3.3,0M394.8,221.2a1.65,1.65 0 1,0 3.3,0a1.65,1.65 0 1,0 -3.3,0M395.5,221.2a1.65,1.65 0 1,0 3.3,0a1.65,1.65 0 1,0 -3.3,0M396.2,220.6a1.65,1.65 0 1,0 3.3,0a1.65,1.65 0 1,0 -3.3,0M396.9,220.7a1.65,1.65 0 1,0 3.3,0a1.65,1.65 0 1,0 -3.3,0M397.6,221.1a1.65,1.65 0 1,0 3.3,0a1.65,1.65 0 1,0 -3.3,0M398.3,220.4a1.65,1.65 0 1,0 3.3,0a1.65,1.65 0 1,0 -3.3,0M399.0,221.0a1.65,1.65 0 1,0 3.3,0a1.65,1.65 0 1,0 -3.3,0M399.7,220.8a1.65,1.65 0 1,0 3.3,0a1.65,1.65 0 1,0 -3.3,0M400.4,221.2a1.65,1.65 0 1,0 3.3,0a1.65,1.65 0 1,0 -3.3,0M401.1,220.6a1.65,1.65 0 1,0 3.3,0a1.65,1.65 0 1,0 -3.3,0M401.8,220.8a1.65,1.65 0 1,0 3.3,0a1.65,1.65 0 1,0 -3.3,0M402.5,220.7a1.65,1.65 0 1,0 3.3,0a1.65,1.65 0 1,0 -3.3,0M403.2,221.4a1.65,1.65 0 1,0 3.3,0a1.65,1.65 0 1,0 -3.3,0M403.9,221.1a1.65,1.65 0 1,0 3.3,0a1.65,1.65 0 1,0 -3.3,0M404.6,220.6a1.65,1.65 0 1,0 3.3,0a1.65,1.65 0 1,0 -3.3,0M405.3,220.7a1.65,1.65 0 1,0 3.3,0a1.65,1.65 0 1,0 -3.3,0M406.0,221.0a1.65,1.65 0 1,0 3.3,0a1.65,1.65 0 1,0 -3.3,0M406.7,220.9a1.65,1.65 0 1,0 3.3,0a1.65,1.65 0 1,0 -3.3,0M407.4,221.1a1.65,1.65 0 1,0 3.3,0a1.65,1.65 0 1,0 -3.3,0M408.1,220.6a1.65,1.65 0 1,0 3.3,0a1.65,1.65 0 1,0 -3.3,0M408.8,220.8a1.65,1.65 0 1,0 3.3,0a1.65,1.65 0 1,0 -3.3,0M409.5,221.6a1.65,1.65 0 1,0 3.3,0a1.65,1.65 0 1,0 -3.3,0M410.2,221.4a1.65,1.65 0 1,0 3.3,0a1.65,1.65 0 1,0 -3.3,0M410.9,220.9a1.65,1.65 0 1,0 3.3,0a1.65,1.65 0 1,0 -3.3,0M411.6,221.7a1.65,1.65 0 1,0 3.3,0a1.65,1.65 0 1,0 -3.3,0M412.3,221.6a1.65,1.65 0 1,0 3.3,0a1.65,1.65 0 1,0 -3.3,0M413.0,220.6a1.65,1.65 0 1,0 3.3,0a1.65,1.65 0 1,0 -3.3,0M413.7,221.4a1.65,1.65 0 1,0 3.3,0a1.65,1.65 0 1,0 -3.3,0M414.4,221.7a1.65,1.65 0 1,0 3.3,0a1.65,1.65 0 1,0 -3.3,0M415.1,221.4a1.65,1.65 0 1,0 3.3,0a1.65,1.65 0 1,0 -3.3,0M415.8,221.4a1.65,1.65 0 1,0 3.3,0a1.65,1.65 0 1,0 -3.3,0M416.5,221.9a1.65,1.65 0 1,0 3.3,0a1.65,1.65 0 1,0 -3.3,0M417.2,221.7a1.65,1.65 0 1,0 3.3,0a1.65,1.65 0 1,0 -3.3,0M417.9,221.0a1.65,1.65 0 1,0 3.3,0a1.65,1.65 0 1,0 -3.3,0M418.6,221.7a1.65,1.65 0 1,0 3.3,0a1.65,1.65 0 1,0 -3.3,0M419.3,221.8a1.65,1.65 0 1,0 3.3,0a1.65,1.65 0 1,0 -3.3,0M420.0,221.5a1.65,1.65 0 1,0 3.3,0a1.65,1.65 0 1,0 -3.3,0M420.7,222.3a1.65,1.65 0 1,0 3.3,0a1.65,1.65 0 1,0 -3.3,0M421.4,222.0a1.65,1.65 0 1,0 3.3,0a1.65,1.65 0 1,0 -3.3,0M422.1,221.6a1.65,1.65 0 1,0 3.3,0a1.65,1.65 0 1,0 -3.3,0M422.8,222.1a1.65,1.65 0 1,0 3.3,0a1.65,1.65 0 1,0 -3.3,0M423.5,222.0a1.65,1.65 0 1,0 3.3,0a1.65,1.65 0 1,0 -3.3,0M424.2,222.4a1.65,1.65 0 1,0 3.3,0a1.65,1.65 0 1,0 -3.3,0M424.9,222.1a1.65,1.65 0 1,0 3.3,0a1.65,1.65 0 1,0 -3.3,0M425.6,222.2a1.65,1.65 0 1,0 3.3,0a1.65,1.65 0 1,0 -3.3,0M426.3,222.9a1.65,1.65 0 1,0 3.3,0a1.65,1.65 0 1,0 -3.3,0M427.0,222.4a1.65,1.65 0 1,0 3.3,0a1.65,1.65 0 1,0 -3.3,0M427.7,222.5a1.65,1.65 0 1,0 3.3,0a1.65,1.65 0 1,0 -3.3,0M428.4,222.7a1.65,1.65 0 1,0 3.3,0a1.65,1.65 0 1,0 -3.3,0M429.1,222.5a1.65,1.65 0 1,0 3.3,0a1.65,1.65 0 1,0 -3.3,0M429.8,223.0a1.65,1.65 0 1,0 3.3,0a1.65,1.65 0 1,0 -3.3,0M430.5,222.5a1.65,1.65 0 1,0 3.3,0a1.65,1.65 0 1,0 -3.3,0M431.2,222.8a1.65,1.65 0 1,0 3.3,0a1.65,1.65 0 1,0 -3.3,0M431.9,223.6a1.65,1.65 0 1,0 3.3,0a1.65,1.65 0 1,0 -3.3,0M432.6,222.5a1.65,1.65 0 1,0 3.3,0a1.65,1.65 0 1,0 -3.3,0M433.3,222.8a1.65,1.65 0 1,0 3.3,0a1.65,1.65 0 1,0 -3.3,0M434.0,223.2a1.65,1.65 0 1,0 3.3,0a1.65,1.65 0 1,0 -3.3,0M434.7,222.5a1.65,1.65 0 1,0 3.3,0a1.65,1.65 0 1,0 -3.3,0M435.4,222.6a1.65,1.65 0 1,0 3.3,0a1.65,1.65 0 1,0 -3.3,0M436.1,223.1a1.65,1.65 0 1,0 3.3,0a1.65,1.65 0 1,0 -3.3,0M436.8,223.6a1.65,1.65 0 1,0 3.3,0a1.65,1.65 0 1,0 -3.3,0M437.5,223.4a1.65,1.65 0 1,0 3.3,0a1.65,1.65 0 1,0 -3.3,0M438.2,223.2a1.65,1.65 0 1,0 3.3,0a1.65,1.65 0 1,0 -3.3,0M438.9,223.1a1.65,1.65 0 1,0 3.3,0a1.65,1.65 0 1,0 -3.3,0M439.6,224.2a1.65,1.65 0 1,0 3.3,0a1.65,1.65 0 1,0 -3.3,0M440.3,223.6a1.65,1.65 0 1,0 3.3,0a1.65,1.65 0 1,0 -3.3,0M441.0,223.1a1.65,1.65 0 1,0 3.3,0a1.65,1.65 0 1,0 -3.3,0M441.7,223.9a1.65,1.65 0 1,0 3.3,0a1.65,1.65 0 1,0 -3.3,0M442.4,223.9a1.65,1.65 0 1,0 3.3,0a1.65,1.65 0 1,0 -3.3,0M443.1,223.2a1.65,1.65 0 1,0 3.3,0a1.65,1.65 0 1,0 -3.3,0M443.8,222.9a1.65,1.65 0 1,0 3.3,0a1.65,1.65 0 1,0 -3.3,0M444.5,224.0a1.65,1.65 0 1,0 3.3,0a1.65,1.65 0 1,0 -3.3,0M445.2,223.4a1.65,1.65 0 1,0 3.3,0a1.65,1.65 0 1,0 -3.3,0M445.9,223.2a1.65,1.65 0 1,0 3.3,0a1.65,1.65 0 1,0 -3.3,0M446.6,223.4a1.65,1.65 0 1,0 3.3,0a1.65,1.65 0 1,0 -3.3,0M447.3,223.2a1.65,1.65 0 1,0 3.3,0a1.65,1.65 0 1,0 -3.3,0M448.0,223.6a1.65,1.65 0 1,0 3.3,0a1.65,1.65 0 1,0 -3.3,0M448.7,223.0a1.65,1.65 0 1,0 3.3,0a1.65,1.65 0 1,0 -3.3,0M449.4,223.2a1.65,1.65 0 1,0 3.3,0a1.65,1.65 0 1,0 -3.3,0M450.1,223.3a1.65,1.65 0 1,0 3.3,0a1.65,1.65 0 1,0 -3.3,0M450.8,223.5a1.65,1.65 0 1,0 3.3,0a1.65,1.65 0 1,0 -3.3,0M451.5,222.8a1.65,1.65 0 1,0 3.3,0a1.65,1.65 0 1,0 -3.3,0M452.2,222.8a1.65,1.65 0 1,0 3.3,0a1.65,1.65 0 1,0 -3.3,0M452.9,223.4a1.65,1.65 0 1,0 3.3,0a1.65,1.65 0 1,0 -3.3,0M453.6,222.9a1.65,1.65 0 1,0 3.3,0a1.65,1.65 0 1,0 -3.3,0M454.3,223.1a1.65,1.65 0 1,0 3.3,0a1.65,1.65 0 1,0 -3.3,0M455.0,222.8a1.65,1.65 0 1,0 3.3,0a1.65,1.65 0 1,0 -3.3,0M455.7,222.8a1.65,1.65 0 1,0 3.3,0a1.65,1.65 0 1,0 -3.3,0M456.4,222.4a1.65,1.65 0 1,0 3.3,0a1.65,1.65 0 1,0 -3.3,0M457.1,222.6a1.65,1.65 0 1,0 3.3,0a1.65,1.65 0 1,0 -3.3,0M457.8,222.5a1.65,1.65 0 1,0 3.3,0a1.65,1.65 0 1,0 -3.3,0M458.5,222.3a1.65,1.65 0 1,0 3.3,0a1.65,1.65 0 1,0 -3.3,0M459.2,223.0a1.65,1.65 0 1,0 3.3,0a1.65,1.65 0 1,0 -3.3,0M459.9,222.0a1.65,1.65 0 1,0 3.3,0a1.65,1.65 0 1,0 -3.3,0M460.6,222.1a1.65,1.65 0 1,0 3.3,0a1.65,1.65 0 1,0 -3.3,0M461.3,222.4a1.65,1.65 0 1,0 3.3,0a1.65,1.65 0 1,0 -3.3,0M462.0,222.6a1.65,1.65 0 1,0 3.3,0a1.65,1.65 0 1,0 -3.3,0M462.7,222.0a1.65,1.65 0 1,0 3.3,0a1.65,1.65 0 1,0 -3.3,0M463.4,222.1a1.65,1.65 0 1,0 3.3,0a1.65,1.65 0 1,0 -3.3,0M464.1,221.9a1.65,1.65 0 1,0 3.3,0a1.65,1.65 0 1,0 -3.3,0M464.8,221.7a1.65,1.65 0 1,0 3.3,0a1.65,1.65 0 1,0 -3.3,0M465.5,222.4a1.65,1.65 0 1,0 3.3,0a1.65,1.65 0 1,0 -3.3,0M466.2,221.9a1.65,1.65 0 1,0 3.3,0a1.65,1.65 0 1,0 -3.3,0M466.9,221.7a1.65,1.65 0 1,0 3.3,0a1.65,1.65 0 1,0 -3.3,0M467.6,221.8a1.65,1.65 0 1,0 3.3,0a1.65,1.65 0 1,0 -3.3,0M468.3,222.0a1.65,1.65 0 1,0 3.3,0a1.65,1.65 0 1,0 -3.3,0M469.0,222.0a1.65,1.65 0 1,0 3.3,0a1.65,1.65 0 1,0 -3.3,0M469.7,221.6a1.65,1.65 0 1,0 3.3,0a1.65,1.65 0 1,0 -3.3,0M470.4,221.5a1.65,1.65 0 1,0 3.3,0a1.65,1.65 0 1,0 -3.3,0M471.1,221.4a1.65,1.65 0 1,0 3.3,0a1.65,1.65 0 1,0 -3.3,0M471.8,221.4a1.65,1.65 0 1,0 3.3,0a1.65,1.65 0 1,0 -3.3,0M472.5,221.1a1.65,1.65 0 1,0 3.3,0a1.65,1.65 0 1,0 -3.3,0M473.2,220.4a1.65,1.65 0 1,0 3.3,0a1.65,1.65 0 1,0 -3.3,0M473.9,220.7a1.65,1.65 0 1,0 3.3,0a1.65,1.65 0 1,0 -3.3,0M474.6,220.3a1.65,1.65 0 1,0 3.3,0a1.65,1.65 0 1,0 -3.3,0M475.3,220.7a1.65,1.65 0 1,0 3.3,0a1.65,1.65 0 1,0 -3.3,0M476.0,220.0a1.65,1.65 0 1,0 3.3,0a1.65,1.65 0 1,0 -3.3,0M476.7,219.4a1.65,1.65 0 1,0 3.3,0a1.65,1.65 0 1,0 -3.3,0M477.4,219.8a1.65,1.65 0 1,0 3.3,0a1.65,1.65 0 1,0 -3.3,0M478.1,218.9a1.65,1.65 0 1,0 3.3,0a1.65,1.65 0 1,0 -3.3,0M478.8,218.9a1.65,1.65 0 1,0 3.3,0a1.65,1.65 0 1,0 -3.3,0M479.5,218.4a1.65,1.65 0 1,0 3.3,0a1.65,1.65 0 1,0 -3.3,0M480.2,218.2a1.65,1.65 0 1,0 3.3,0a1.65,1.65 0 1,0 -3.3,0M480.9,218.1a1.65,1.65 0 1,0 3.3,0a1.65,1.65 0 1,0 -3.3,0M481.6,217.2a1.65,1.65 0 1,0 3.3,0a1.65,1.65 0 1,0 -3.3,0M482.3,216.9a1.65,1.65 0 1,0 3.3,0a1.65,1.65 0 1,0 -3.3,0M483.0,217.1a1.65,1.65 0 1,0 3.3,0a1.65,1.65 0 1,0 -3.3,0M483.7,216.4a1.65,1.65 0 1,0 3.3,0a1.65,1.65 0 1,0 -3.3,0M484.4,216.3a1.65,1.65 0 1,0 3.3,0a1.65,1.65 0 1,0 -3.3,0M485.1,216.3a1.65,1.65 0 1,0 3.3,0a1.65,1.65 0 1,0 -3.3,0M485.8,215.5a1.65,1.65 0 1,0 3.3,0a1.65,1.65 0 1,0 -3.3,0M486.5,215.8a1.65,1.65 0 1,0 3.3,0a1.65,1.65 0 1,0 -3.3,0M487.2,215.2a1.65,1.65 0 1,0 3.3,0a1.65,1.65 0 1,0 -3.3,0M487.9,214.9a1.65,1.65 0 1,0 3.3,0a1.65,1.65 0 1,0 -3.3,0M488.6,214.7a1.65,1.65 0 1,0 3.3,0a1.65,1.65 0 1,0 -3.3,0M489.3,215.3a1.65,1.65 0 1,0 3.3,0a1.65,1.65 0 1,0 -3.3,0M490.0,214.6a1.65,1.65 0 1,0 3.3,0a1.65,1.65 0 1,0 -3.3,0M490.7,214.3a1.65,1.65 0 1,0 3.3,0a1.65,1.65 0 1,0 -3.3,0M491.4,213.7a1.65,1.65 0 1,0 3.3,0a1.65,1.65 0 1,0 -3.3,0M492.1,214.2a1.65,1.65 0 1,0 3.3,0a1.65,1.65 0 1,0 -3.3,0M492.8,213.2a1.65,1.65 0 1,0 3.3,0a1.65,1.65 0 1,0 -3.3,0M493.5,213.3a1.65,1.65 0 1,0 3.3,0a1.65,1.65 0 1,0 -3.3,0M494.2,213.6a1.65,1.65 0 1,0 3.3,0a1.65,1.65 0 1,0 -3.3,0M494.9,213.5a1.65,1.65 0 1,0 3.3,0a1.65,1.65 0 1,0 -3.3,0M495.6,212.9a1.65,1.65 0 1,0 3.3,0a1.65,1.65 0 1,0 -3.3,0M496.3,213.1a1.65,1.65 0 1,0 3.3,0a1.65,1.65 0 1,0 -3.3,0M497.0,212.8a1.65,1.65 0 1,0 3.3,0a1.65,1.65 0 1,0 -3.3,0M497.7,212.4a1.65,1.65 0 1,0 3.3,0a1.65,1.65 0 1,0 -3.3,0M498.4,213.1a1.65,1.65 0 1,0 3.3,0a1.65,1.65 0 1,0 -3.3,0M499.1,212.9a1.65,1.65 0 1,0 3.3,0a1.65,1.65 0 1,0 -3.3,0M499.8,213.1a1.65,1.65 0 1,0 3.3,0a1.65,1.65 0 1,0 -3.3,0M500.5,213.2a1.65,1.65 0 1,0 3.3,0a1.65,1.65 0 1,0 -3.3,0M501.2,212.8a1.65,1.65 0 1,0 3.3,0a1.65,1.65 0 1,0 -3.3,0M501.9,213.2a1.65,1.65 0 1,0 3.3,0a1.65,1.65 0 1,0 -3.3,0M502.6,213.1a1.65,1.65 0 1,0 3.3,0a1.65,1.65 0 1,0 -3.3,0M503.3,213.6a1.65,1.65 0 1,0 3.3,0a1.65,1.65 0 1,0 -3.3,0M504.0,213.9a1.65,1.65 0 1,0 3.3,0a1.65,1.65 0 1,0 -3.3,0M504.7,214.1a1.65,1.65 0 1,0 3.3,0a1.65,1.65 0 1,0 -3.3,0M505.4,214.7a1.65,1.65 0 1,0 3.3,0a1.65,1.65 0 1,0 -3.3,0M506.1,214.1a1.65,1.65 0 1,0 3.3,0a1.65,1.65 0 1,0 -3.3,0M506.8,214.8a1.65,1.65 0 1,0 3.3,0a1.65,1.65 0 1,0 -3.3,0M507.5,214.9a1.65,1.65 0 1,0 3.3,0a1.65,1.65 0 1,0 -3.3,0M508.2,215.0a1.65,1.65 0 1,0 3.3,0a1.65,1.65 0 1,0 -3.3,0M508.9,214.7a1.65,1.65 0 1,0 3.3,0a1.65,1.65 0 1,0 -3.3,0M509.6,215.3a1.65,1.65 0 1,0 3.3,0a1.65,1.65 0 1,0 -3.3,0M510.3,215.4a1.65,1.65 0 1,0 3.3,0a1.65,1.65 0 1,0 -3.3,0M511.0,215.5a1.65,1.65 0 1,0 3.3,0a1.65,1.65 0 1,0 -3.3,0M511.7,215.8a1.65,1.65 0 1,0 3.3,0a1.65,1.65 0 1,0 -3.3,0M512.4,215.6a1.65,1.65 0 1,0 3.3,0a1.65,1.65 0 1,0 -3.3,0M513.1,216.1a1.65,1.65 0 1,0 3.3,0a1.65,1.65 0 1,0 -3.3,0M513.8,216.6a1.65,1.65 0 1,0 3.3,0a1.65,1.65 0 1,0 -3.3,0M514.5,216.6a1.65,1.65 0 1,0 3.3,0a1.65,1.65 0 1,0 -3.3,0M515.2,217.1a1.65,1.65 0 1,0 3.3,0a1.65,1.65 0 1,0 -3.3,0M515.9,217.5a1.65,1.65 0 1,0 3.3,0a1.65,1.65 0 1,0 -3.3,0M516.6,217.2a1.65,1.65 0 1,0 3.3,0a1.65,1.65 0 1,0 -3.3,0M517.3,217.1a1.65,1.65 0 1,0 3.3,0a1.65,1.65 0 1,0 -3.3,0M518.0,217.3a1.65,1.65 0 1,0 3.3,0a1.65,1.65 0 1,0 -3.3,0M518.7,217.0a1.65,1.65 0 1,0 3.3,0a1.65,1.65 0 1,0 -3.3,0M519.4,216.8a1.65,1.65 0 1,0 3.3,0a1.65,1.65 0 1,0 -3.3,0M520.1,216.7a1.65,1.65 0 1,0 3.3,0a1.65,1.65 0 1,0 -3.3,0M520.8,217.1a1.65,1.65 0 1,0 3.3,0a1.65,1.65 0 1,0 -3.3,0M521.5,216.5a1.65,1.65 0 1,0 3.3,0a1.65,1.65 0 1,0 -3.3,0M522.2,216.3a1.65,1.65 0 1,0 3.3,0a1.65,1.65 0 1,0 -3.3,0M522.9,216.0a1.65,1.65 0 1,0 3.3,0a1.65,1.65 0 1,0 -3.3,0M523.6,215.0a1.65,1.65 0 1,0 3.3,0a1.65,1.65 0 1,0 -3.3,0M524.3,215.3a1.65,1.65 0 1,0 3.3,0a1.65,1.65 0 1,0 -3.3,0M525.0,215.0a1.65,1.65 0 1,0 3.3,0a1.65,1.65 0 1,0 -3.3,0M525.7,214.4a1.65,1.65 0 1,0 3.3,0a1.65,1.65 0 1,0 -3.3,0M526.4,213.8a1.65,1.65 0 1,0 3.3,0a1.65,1.65 0 1,0 -3.3,0M527.1,213.9a1.65,1.65 0 1,0 3.3,0a1.65,1.65 0 1,0 -3.3,0M527.8,213.3a1.65,1.65 0 1,0 3.3,0a1.65,1.65 0 1,0 -3.3,0M528.5,213.4a1.65,1.65 0 1,0 3.3,0a1.65,1.65 0 1,0 -3.3,0M529.2,212.5a1.65,1.65 0 1,0 3.3,0a1.65,1.65 0 1,0 -3.3,0M529.9,212.3a1.65,1.65 0 1,0 3.3,0a1.65,1.65 0 1,0 -3.3,0M530.6,212.2a1.65,1.65 0 1,0 3.3,0a1.65,1.65 0 1,0 -3.3,0M531.3,211.9a1.65,1.65 0 1,0 3.3,0a1.65,1.65 0 1,0 -3.3,0M532.0,211.5a1.65,1.65 0 1,0 3.3,0a1.65,1.65 0 1,0 -3.3,0M532.7,210.8a1.65,1.65 0 1,0 3.3,0a1.65,1.65 0 1,0 -3.3,0M533.4,211.1a1.65,1.65 0 1,0 3.3,0a1.65,1.65 0 1,0 -3.3,0M534.1,209.8a1.65,1.65 0 1,0 3.3,0a1.65,1.65 0 1,0 -3.3,0M534.8,209.6a1.65,1.65 0 1,0 3.3,0a1.65,1.65 0 1,0 -3.3,0M535.5,209.4a1.65,1.65 0 1,0 3.3,0a1.65,1.65 0 1,0 -3.3,0M536.2,209.4a1.65,1.65 0 1,0 3.3,0a1.65,1.65 0 1,0 -3.3,0M536.9,208.8a1.65,1.65 0 1,0 3.3,0a1.65,1.65 0 1,0 -3.3,0M537.6,208.8a1.65,1.65 0 1,0 3.3,0a1.65,1.65 0 1,0 -3.3,0M538.3,208.1a1.65,1.65 0 1,0 3.3,0a1.65,1.65 0 1,0 -3.3,0M539.0,207.7a1.65,1.65 0 1,0 3.3,0a1.65,1.65 0 1,0 -3.3,0M539.7,206.9a1.65,1.65 0 1,0 3.3,0a1.65,1.65 0 1,0 -3.3,0M540.4,206.6a1.65,1.65 0 1,0 3.3,0a1.65,1.65 0 1,0 -3.3,0M541.1,206.3a1.65,1.65 0 1,0 3.3,0a1.65,1.65 0 1,0 -3.3,0M541.8,205.5a1.65,1.65 0 1,0 3.3,0a1.65,1.65 0 1,0 -3.3,0M542.5,205.1a1.65,1.65 0 1,0 3.3,0a1.65,1.65 0 1,0 -3.3,0M543.2,204.5a1.65,1.65 0 1,0 3.3,0a1.65,1.65 0 1,0 -3.3,0M544.0,204.2a1.65,1.65 0 1,0 3.3,0a1.65,1.65 0 1,0 -3.3,0M544.7,204.1a1.65,1.65 0 1,0 3.3,0a1.65,1.65 0 1,0 -3.3,0M545.4,203.4a1.65,1.65 0 1,0 3.3,0a1.65,1.65 0 1,0 -3.3,0M546.1,202.7a1.65,1.65 0 1,0 3.3,0a1.65,1.65 0 1,0 -3.3,0M546.8,202.1a1.65,1.65 0 1,0 3.3,0a1.65,1.65 0 1,0 -3.3,0M547.5,201.1a1.65,1.65 0 1,0 3.3,0a1.65,1.65 0 1,0 -3.3,0M548.2,200.5a1.65,1.65 0 1,0 3.3,0a1.65,1.65 0 1,0 -3.3,0M548.9,199.8a1.65,1.65 0 1,0 3.3,0a1.65,1.65 0 1,0 -3.3,0M549.6,198.9a1.65,1.65 0 1,0 3.3,0a1.65,1.65 0 1,0 -3.3,0M550.3,198.2a1.65,1.65 0 1,0 3.3,0a1.65,1.65 0 1,0 -3.3,0M551.0,197.3a1.65,1.65 0 1,0 3.3,0a1.65,1.65 0 1,0 -3.3,0M551.7,196.7a1.65,1.65 0 1,0 3.3,0a1.65,1.65 0 1,0 -3.3,0M552.4,196.1a1.65,1.65 0 1,0 3.3,0a1.65,1.65 0 1,0 -3.3,0M553.1,195.1a1.65,1.65 0 1,0 3.3,0a1.65,1.65 0 1,0 -3.3,0M553.8,194.1a1.65,1.65 0 1,0 3.3,0a1.65,1.65 0 1,0 -3.3,0M554.5,193.3a1.65,1.65 0 1,0 3.3,0a1.65,1.65 0 1,0 -3.3,0M555.2,192.1a1.65,1.65 0 1,0 3.3,0a1.65,1.65 0 1,0 -3.3,0M555.9,191.0a1.65,1.65 0 1,0 3.3,0a1.65,1.65 0 1,0 -3.3,0M556.6,189.7a1.65,1.65 0 1,0 3.3,0a1.65,1.65 0 1,0 -3.3,0M557.3,189.5a1.65,1.65 0 1,0 3.3,0a1.65,1.65 0 1,0 -3.3,0M558.0,188.1a1.65,1.65 0 1,0 3.3,0a1.65,1.65 0 1,0 -3.3,0M558.7,186.3a1.65,1.65 0 1,0 3.3,0a1.65,1.65 0 1,0 -3.3,0M559.4,185.8a1.65,1.65 0 1,0 3.3,0a1.65,1.65 0 1,0 -3.3,0M560.1,184.3a1.65,1.65 0 1,0 3.3,0a1.65,1.65 0 1,0 -3.3,0M560.8,183.2a1.65,1.65 0 1,0 3.3,0a1.65,1.65 0 1,0 -3.3,0M561.5,182.0a1.65,1.65 0 1,0 3.3,0a1.65,1.65 0 1,0 -3.3,0M562.2,180.4a1.65,1.65 0 1,0 3.3,0a1.65,1.65 0 1,0 -3.3,0M562.9,178.8a1.65,1.65 0 1,0 3.3,0a1.65,1.65 0 1,0 -3.3,0M563.6,177.5a1.65,1.65 0 1,0 3.3,0a1.65,1.65 0 1,0 -3.3,0M564.3,176.4a1.65,1.65 0 1,0 3.3,0a1.65,1.65 0 1,0 -3.3,0M565.0,174.1a1.65,1.65 0 1,0 3.3,0a1.65,1.65 0 1,0 -3.3,0M565.7,172.2a1.65,1.65 0 1,0 3.3,0a1.65,1.65 0 1,0 -3.3,0M566.4,171.0a1.65,1.65 0 1,0 3.3,0a1.65,1.65 0 1,0 -3.3,0M567.1,170.1a1.65,1.65 0 1,0 3.3,0a1.65,1.65 0 1,0 -3.3,0M567.8,168.0a1.65,1.65 0 1,0 3.3,0a1.65,1.65 0 1,0 -3.3,0M568.5,167.6a1.65,1.65 0 1,0 3.3,0a1.65,1.65 0 1,0 -3.3,0M569.2,166.5a1.65,1.65 0 1,0 3.3,0a1.65,1.65 0 1,0 -3.3,0M569.9,165.8a1.65,1.65 0 1,0 3.3,0a1.65,1.65 0 1,0 -3.3,0M570.6,165.7a1.65,1.65 0 1,0 3.3,0a1.65,1.65 0 1,0 -3.3,0M571.3,164.7a1.65,1.65 0 1,0 3.3,0a1.65,1.65 0 1,0 -3.3,0M572.0,164.9a1.65,1.65 0 1,0 3.3,0a1.65,1.65 0 1,0 -3.3,0M572.7,164.8a1.65,1.65 0 1,0 3.3,0a1.65,1.65 0 1,0 -3.3,0M573.4,165.2a1.65,1.65 0 1,0 3.3,0a1.65,1.65 0 1,0 -3.3,0M574.1,165.3a1.65,1.65 0 1,0 3.3,0a1.65,1.65 0 1,0 -3.3,0M574.8,165.7a1.65,1.65 0 1,0 3.3,0a1.65,1.65 0 1,0 -3.3,0M575.5,166.4a1.65,1.65 0 1,0 3.3,0a1.65,1.65 0 1,0 -3.3,0M576.2,166.8a1.65,1.65 0 1,0 3.3,0a1.65,1.65 0 1,0 -3.3,0M576.9,167.8a1.65,1.65 0 1,0 3.3,0a1.65,1.65 0 1,0 -3.3,0M577.6,168.6a1.65,1.65 0 1,0 3.3,0a1.65,1.65 0 1,0 -3.3,0M578.3,170.3a1.65,1.65 0 1,0 3.3,0a1.65,1.65 0 1,0 -3.3,0M579.0,171.5a1.65,1.65 0 1,0 3.3,0a1.65,1.65 0 1,0 -3.3,0M579.7,173.1a1.65,1.65 0 1,0 3.3,0a1.65,1.65 0 1,0 -3.3,0M580.4,173.7a1.65,1.65 0 1,0 3.3,0a1.65,1.65 0 1,0 -3.3,0M581.1,175.4a1.65,1.65 0 1,0 3.3,0a1.65,1.65 0 1,0 -3.3,0M581.8,177.2a1.65,1.65 0 1,0 3.3,0a1.65,1.65 0 1,0 -3.3,0M582.5,179.1a1.65,1.65 0 1,0 3.3,0a1.65,1.65 0 1,0 -3.3,0M583.2,180.4a1.65,1.65 0 1,0 3.3,0a1.65,1.65 0 1,0 -3.3,0M583.9,181.9a1.65,1.65 0 1,0 3.3,0a1.65,1.65 0 1,0 -3.3,0M584.6,184.4a1.65,1.65 0 1,0 3.3,0a1.65,1.65 0 1,0 -3.3,0M585.3,185.5a1.65,1.65 0 1,0 3.3,0a1.65,1.65 0 1,0 -3.3,0M586.0,187.4a1.65,1.65 0 1,0 3.3,0a1.65,1.65 0 1,0 -3.3,0M586.7,189.0a1.65,1.65 0 1,0 3.3,0a1.65,1.65 0 1,0 -3.3,0M587.4,191.8a1.65,1.65 0 1,0 3.3,0a1.65,1.65 0 1,0 -3.3,0M588.1,193.4a1.65,1.65 0 1,0 3.3,0a1.65,1.65 0 1,0 -3.3,0M588.8,195.1a1.65,1.65 0 1,0 3.3,0a1.65,1.65 0 1,0 -3.3,0M589.5,197.1a1.65,1.65 0 1,0 3.3,0a1.65,1.65 0 1,0 -3.3,0M590.2,199.1a1.65,1.65 0 1,0 3.3,0a1.65,1.65 0 1,0 -3.3,0M590.9,201.1a1.65,1.65 0 1,0 3.3,0a1.65,1.65 0 1,0 -3.3,0M591.6,202.8a1.65,1.65 0 1,0 3.3,0a1.65,1.65 0 1,0 -3.3,0M592.3,204.2a1.65,1.65 0 1,0 3.3,0a1.65,1.65 0 1,0 -3.3,0M593.0,206.3a1.65,1.65 0 1,0 3.3,0a1.65,1.65 0 1,0 -3.3,0M593.7,207.1a1.65,1.65 0 1,0 3.3,0a1.65,1.65 0 1,0 -3.3,0M594.4,209.1a1.65,1.65 0 1,0 3.3,0a1.65,1.65 0 1,0 -3.3,0M595.1,210.2a1.65,1.65 0 1,0 3.3,0a1.65,1.65 0 1,0 -3.3,0M595.8,210.8a1.65,1.65 0 1,0 3.3,0a1.65,1.65 0 1,0 -3.3,0M596.5,212.7a1.65,1.65 0 1,0 3.3,0a1.65,1.65 0 1,0 -3.3,0M597.2,213.6a1.65,1.65 0 1,0 3.3,0a1.65,1.65 0 1,0 -3.3,0M597.9,214.3a1.65,1.65 0 1,0 3.3,0a1.65,1.65 0 1,0 -3.3,0M598.6,216.1a1.65,1.65 0 1,0 3.3,0a1.65,1.65 0 1,0 -3.3,0M599.3,216.8a1.65,1.65 0 1,0 3.3,0a1.65,1.65 0 1,0 -3.3,0M600.0,216.6a1.65,1.65 0 1,0 3.3,0a1.65,1.65 0 1,0 -3.3,0M600.7,218.4a1.65,1.65 0 1,0 3.3,0a1.65,1.65 0 1,0 -3.3,0M601.4,218.7a1.65,1.65 0 1,0 3.3,0a1.65,1.65 0 1,0 -3.3,0M602.1,219.2a1.65,1.65 0 1,0 3.3,0a1.65,1.65 0 1,0 -3.3,0M602.8,220.4a1.65,1.65 0 1,0 3.3,0a1.65,1.65 0 1,0 -3.3,0M603.5,220.3a1.65,1.65 0 1,0 3.3,0a1.65,1.65 0 1,0 -3.3,0M604.2,220.9a1.65,1.65 0 1,0 3.3,0a1.65,1.65 0 1,0 -3.3,0M604.9,221.3a1.65,1.65 0 1,0 3.3,0a1.65,1.65 0 1,0 -3.3,0M605.6,221.4a1.65,1.65 0 1,0 3.3,0a1.65,1.65 0 1,0 -3.3,0M606.3,221.4a1.65,1.65 0 1,0 3.3,0a1.65,1.65 0 1,0 -3.3,0M607.0,221.2a1.65,1.65 0 1,0 3.3,0a1.65,1.65 0 1,0 -3.3,0M607.7,222.0a1.65,1.65 0 1,0 3.3,0a1.65,1.65 0 1,0 -3.3,0M608.4,222.6a1.65,1.65 0 1,0 3.3,0a1.65,1.65 0 1,0 -3.3,0M609.1,222.8a1.65,1.65 0 1,0 3.3,0a1.65,1.65 0 1,0 -3.3,0M609.8,223.0a1.65,1.65 0 1,0 3.3,0a1.65,1.65 0 1,0 -3.3,0M610.5,222.8a1.65,1.65 0 1,0 3.3,0a1.65,1.65 0 1,0 -3.3,0M611.2,222.9a1.65,1.65 0 1,0 3.3,0a1.65,1.65 0 1,0 -3.3,0M611.9,222.7a1.65,1.65 0 1,0 3.3,0a1.65,1.65 0 1,0 -3.3,0M612.6,222.2a1.65,1.65 0 1,0 3.3,0a1.65,1.65 0 1,0 -3.3,0M613.3,222.8a1.65,1.65 0 1,0 3.3,0a1.65,1.65 0 1,0 -3.3,0M614.0,222.9a1.65,1.65 0 1,0 3.3,0a1.65,1.65 0 1,0 -3.3,0M614.7,222.9a1.65,1.65 0 1,0 3.3,0a1.65,1.65 0 1,0 -3.3,0M615.4,223.3a1.65,1.65 0 1,0 3.3,0a1.65,1.65 0 1,0 -3.3,0M616.1,223.5a1.65,1.65 0 1,0 3.3,0a1.65,1.65 0 1,0 -3.3,0M616.8,223.2a1.65,1.65 0 1,0 3.3,0a1.65,1.65 0 1,0 -3.3,0M617.5,223.7a1.65,1.65 0 1,0 3.3,0a1.65,1.65 0 1,0 -3.3,0M618.2,223.6a1.65,1.65 0 1,0 3.3,0a1.65,1.65 0 1,0 -3.3,0M618.9,223.8a1.65,1.65 0 1,0 3.3,0a1.65,1.65 0 1,0 -3.3,0M619.6,223.9a1.65,1.65 0 1,0 3.3,0a1.65,1.65 0 1,0 -3.3,0M620.3,224.0a1.65,1.65 0 1,0 3.3,0a1.65,1.65 0 1,0 -3.3,0M621.0,223.6a1.65,1.65 0 1,0 3.3,0a1.65,1.65 0 1,0 -3.3,0M621.7,223.5a1.65,1.65 0 1,0 3.3,0a1.65,1.65 0 1,0 -3.3,0M622.4,223.8a1.65,1.65 0 1,0 3.3,0a1.65,1.65 0 1,0 -3.3,0M623.1,224.1a1.65,1.65 0 1,0 3.3,0a1.65,1.65 0 1,0 -3.3,0M623.8,223.2a1.65,1.65 0 1,0 3.3,0a1.65,1.65 0 1,0 -3.3,0M624.5,224.1a1.65,1.65 0 1,0 3.3,0a1.65,1.65 0 1,0 -3.3,0M625.2,223.7a1.65,1.65 0 1,0 3.3,0a1.65,1.65 0 1,0 -3.3,0M625.9,224.1a1.65,1.65 0 1,0 3.3,0a1.65,1.65 0 1,0 -3.3,0M626.6,224.1a1.65,1.65 0 1,0 3.3,0a1.65,1.65 0 1,0 -3.3,0M627.3,223.8a1.65,1.65 0 1,0 3.3,0a1.65,1.65 0 1,0 -3.3,0M628.0,223.7a1.65,1.65 0 1,0 3.3,0a1.65,1.65 0 1,0 -3.3,0M628.7,223.9a1.65,1.65 0 1,0 3.3,0a1.65,1.65 0 1,0 -3.3,0M629.4,224.2a1.65,1.65 0 1,0 3.3,0a1.65,1.65 0 1,0 -3.3,0M630.1,223.7a1.65,1.65 0 1,0 3.3,0a1.65,1.65 0 1,0 -3.3,0M630.8,224.1a1.65,1.65 0 1,0 3.3,0a1.65,1.65 0 1,0 -3.3,0M631.5,223.9a1.65,1.65 0 1,0 3.3,0a1.65,1.65 0 1,0 -3.3,0M632.2,223.9a1.65,1.65 0 1,0 3.3,0a1.65,1.65 0 1,0 -3.3,0M632.9,223.8a1.65,1.65 0 1,0 3.3,0a1.65,1.65 0 1,0 -3.3,0M633.6,223.7a1.65,1.65 0 1,0 3.3,0a1.65,1.65 0 1,0 -3.3,0M634.3,224.3a1.65,1.65 0 1,0 3.3,0a1.65,1.65 0 1,0 -3.3,0M635.0,224.2a1.65,1.65 0 1,0 3.3,0a1.65,1.65 0 1,0 -3.3,0M635.7,224.1a1.65,1.65 0 1,0 3.3,0a1.65,1.65 0 1,0 -3.3,0M636.4,224.1a1.65,1.65 0 1,0 3.3,0a1.65,1.65 0 1,0 -3.3,0M637.1,224.5a1.65,1.65 0 1,0 3.3,0a1.65,1.65 0 1,0 -3.3,0M637.8,224.3a1.65,1.65 0 1,0 3.3,0a1.65,1.65 0 1,0 -3.3,0M638.5,224.3a1.65,1.65 0 1,0 3.3,0a1.65,1.65 0 1,0 -3.3,0M639.2,224.2a1.65,1.65 0 1,0 3.3,0a1.65,1.65 0 1,0 -3.3,0M639.9,224.5a1.65,1.65 0 1,0 3.3,0a1.65,1.65 0 1,0 -3.3,0M640.6,224.2a1.65,1.65 0 1,0 3.3,0a1.65,1.65 0 1,0 -3.3,0M641.3,224.0a1.65,1.65 0 1,0 3.3,0a1.65,1.65 0 1,0 -3.3,0M642.0,224.5a1.65,1.65 0 1,0 3.3,0a1.65,1.65 0 1,0 -3.3,0M642.7,224.5a1.65,1.65 0 1,0 3.3,0a1.65,1.65 0 1,0 -3.3,0M643.4,224.0a1.65,1.65 0 1,0 3.3,0a1.65,1.65 0 1,0 -3.3,0M644.1,224.4a1.65,1.65 0 1,0 3.3,0a1.65,1.65 0 1,0 -3.3,0M644.8,224.4a1.65,1.65 0 1,0 3.3,0a1.65,1.65 0 1,0 -3.3,0M645.5,224.4a1.65,1.65 0 1,0 3.3,0a1.65,1.65 0 1,0 -3.3,0M646.2,225.3a1.65,1.65 0 1,0 3.3,0a1.65,1.65 0 1,0 -3.3,0M646.9,224.4a1.65,1.65 0 1,0 3.3,0a1.65,1.65 0 1,0 -3.3,0M647.6,224.4a1.65,1.65 0 1,0 3.3,0a1.65,1.65 0 1,0 -3.3,0M648.3,224.2a1.65,1.65 0 1,0 3.3,0a1.65,1.65 0 1,0 -3.3,0M649.0,224.2a1.65,1.65 0 1,0 3.3,0a1.65,1.65 0 1,0 -3.3,0M649.7,223.6a1.65,1.65 0 1,0 3.3,0a1.65,1.65 0 1,0 -3.3,0M650.4,224.3a1.65,1.65 0 1,0 3.3,0a1.65,1.65 0 1,0 -3.3,0M651.1,224.3a1.65,1.65 0 1,0 3.3,0a1.65,1.65 0 1,0 -3.3,0M651.8,224.1a1.65,1.65 0 1,0 3.3,0a1.65,1.65 0 1,0 -3.3,0M652.5,224.4a1.65,1.65 0 1,0 3.3,0a1.65,1.65 0 1,0 -3.3,0M653.2,224.6a1.65,1.65 0 1,0 3.3,0a1.65,1.65 0 1,0 -3.3,0M653.9,224.8a1.65,1.65 0 1,0 3.3,0a1.65,1.65 0 1,0 -3.3,0M654.6,225.1a1.65,1.65 0 1,0 3.3,0a1.65,1.65 0 1,0 -3.3,0M655.3,224.5a1.65,1.65 0 1,0 3.3,0a1.65,1.65 0 1,0 -3.3,0M656.0,224.2a1.65,1.65 0 1,0 3.3,0a1.65,1.65 0 1,0 -3.3,0M656.7,224.1a1.65,1.65 0 1,0 3.3,0a1.65,1.65 0 1,0 -3.3,0M657.4,224.9a1.65,1.65 0 1,0 3.3,0a1.65,1.65 0 1,0 -3.3,0M658.1,224.3a1.65,1.65 0 1,0 3.3,0a1.65,1.65 0 1,0 -3.3,0M658.8,224.5a1.65,1.65 0 1,0 3.3,0a1.65,1.65 0 1,0 -3.3,0M659.5,224.7a1.65,1.65 0 1,0 3.3,0a1.65,1.65 0 1,0 -3.3,0M660.2,224.5a1.65,1.65 0 1,0 3.3,0a1.65,1.65 0 1,0 -3.3,0M660.9,224.5a1.65,1.65 0 1,0 3.3,0a1.65,1.65 0 1,0 -3.3,0M661.6,224.6a1.65,1.65 0 1,0 3.3,0a1.65,1.65 0 1,0 -3.3,0M662.3,223.9a1.65,1.65 0 1,0 3.3,0a1.65,1.65 0 1,0 -3.3,0M663.0,224.4a1.65,1.65 0 1,0 3.3,0a1.65,1.65 0 1,0 -3.3,0M663.7,224.7a1.65,1.65 0 1,0 3.3,0a1.65,1.65 0 1,0 -3.3,0M664.4,224.1a1.65,1.65 0 1,0 3.3,0a1.65,1.65 0 1,0 -3.3,0M665.1,224.1a1.65,1.65 0 1,0 3.3,0a1.65,1.65 0 1,0 -3.3,0M665.8,224.7a1.65,1.65 0 1,0 3.3,0a1.65,1.65 0 1,0 -3.3,0M666.5,224.4a1.65,1.65 0 1,0 3.3,0a1.65,1.65 0 1,0 -3.3,0M667.2,224.6a1.65,1.65 0 1,0 3.3,0a1.65,1.65 0 1,0 -3.3,0M667.9,224.0a1.65,1.65 0 1,0 3.3,0a1.65,1.65 0 1,0 -3.3,0M668.6,224.5a1.65,1.65 0 1,0 3.3,0a1.65,1.65 0 1,0 -3.3,0M669.3,224.3a1.65,1.65 0 1,0 3.3,0a1.65,1.65 0 1,0 -3.3,0M670.0,224.8a1.65,1.65 0 1,0 3.3,0a1.65,1.65 0 1,0 -3.3,0M670.7,225.1a1.65,1.65 0 1,0 3.3,0a1.65,1.65 0 1,0 -3.3,0M671.4,224.4a1.65,1.65 0 1,0 3.3,0a1.65,1.65 0 1,0 -3.3,0M672.1,224.8a1.65,1.65 0 1,0 3.3,0a1.65,1.65 0 1,0 -3.3,0M672.8,224.3a1.65,1.65 0 1,0 3.3,0a1.65,1.65 0 1,0 -3.3,0M673.5,224.5a1.65,1.65 0 1,0 3.3,0a1.65,1.65 0 1,0 -3.3,0M674.2,224.7a1.65,1.65 0 1,0 3.3,0a1.65,1.65 0 1,0 -3.3,0M674.9,224.4a1.65,1.65 0 1,0 3.3,0a1.65,1.65 0 1,0 -3.3,0M675.6,225.0a1.65,1.65 0 1,0 3.3,0a1.65,1.65 0 1,0 -3.3,0M676.3,224.7a1.65,1.65 0 1,0 3.3,0a1.65,1.65 0 1,0 -3.3,0M677.0,224.2a1.65,1.65 0 1,0 3.3,0a1.65,1.65 0 1,0 -3.3,0" fill="#0a0a0a" stroke="none"/>
<polyline points="562.34,183.29 562.82,182.4 563.29,181.52 563.75,180.65 564.2,179.8 564.8,178.6 565.36,177.36 565.9,176.12 566.4,174.87 566.89,173.66 567.36,172.48 567.82,171.37 568.28,170.34 568.74,169.41 569.2,168.6 569.77,167.73 570.32,166.97 570.85,166.34 571.37,165.82 571.9,165.42 572.44,165.13 573,164.96 573.6,164.9 574.05,164.91 574.51,164.95 574.97,165.04 575.43,165.17 575.91,165.38 576.4,165.66 576.91,166.02 577.43,166.49 577.96,167.07 578.52,167.77 579.1,168.6 579.54,169.31 580,170.11 580.47,170.98 580.96,171.93 581.46,172.94 581.96,174.01 582.47,175.12 582.99,176.28 583.51,177.46 584.03,178.67 584.56,179.9 585.07,181.13 585.59,182.36 586.1,183.59 586.6,184.8 587.13,186.12 587.66,187.5 588.19,188.94 588.72,190.41 589.25,191.91 589.78,193.42 590.31,194.94 590.83,196.44 591.36,197.93 591.89,199.38 592.42,200.78 592.94,202.13 593.47,203.41 594,204.6 594.53,205.73 595.06,206.82 595.58,207.88 596.11,208.9 596.64,209.88 597.17,210.82 597.69,211.72 598.22,212.59 598.75,213.42 599.28,214.21 599.81,214.97 600.34,215.68 600.87,216.36 601.4,217 601.87,217.55 602.29,218.06 602.68,218.52 603.04,218.94 603.39,219.33 603.74,219.68 604.1,220 604.49,220.3 604.92,220.57 605.39,220.83 605.92,221.07" fill="none" stroke="#c05050" stroke-width="0.7" stroke-linejoin="round" stroke-linecap="round" stroke-dasharray="1.2,1.2"/>
<text transform="translate(489.6 46.2) scale(1 1.05)" fill="#2b4a80" stroke="#2b4a80" stroke-width="0.108" font-weight="bold" text-anchor="start"><tspan font-size="7.4" font-style="italic">O</tspan><tspan font-size="7.4" font-style="italic">-</tspan><tspan font-size="9.6" font-style="italic">C</tspan><tspan font-size="7.4" font-style="italic">=O</tspan></text>
<line x1="502.4" y1="47.8" x2="502.4" y2="51.2" stroke="#2b4a80" stroke-width="0.8" />
<text transform="translate(521.6 45) scale(1 1.05)" fill="#2b4a80" stroke="#2b4a80" stroke-width="0.108" font-weight="bold" text-anchor="start"><tspan font-size="9.6" font-style="italic">C</tspan><tspan font-size="7.4" font-style="italic">-O</tspan></text>
<line x1="529" y1="47" x2="542.3" y2="53" stroke="#2b4a80" stroke-width="0.8" />
<text transform="translate(539 19.1) scale(1 1.05)" fill="#2b4a80" stroke="#2b4a80" stroke-width="0.108" font-weight="bold" text-anchor="start"><tspan font-size="9.6" font-style="italic">C</tspan><tspan font-size="7.4" font-style="italic">-C=O</tspan></text>
<line x1="543.4" y1="21.4" x2="559.7" y2="52" stroke="#2b4a80" stroke-width="0.8" />
<text transform="translate(598.6 21.9) scale(1 1.05)" fill="#2b4a80" stroke="#2b4a80" stroke-width="0.108" font-weight="bold" text-anchor="start"><tspan font-size="9.6" font-style="italic">C</tspan><tspan font-size="7.4" font-style="italic">-C/H</tspan></text>
<line x1="596" y1="21.2" x2="580" y2="26.5" stroke="#2b4a80" stroke-width="0.8" />
<text transform="translate(380.6 66.9) scale(1 1.0)" font-size="11.5" fill="#a3a3a3" stroke="#a3a3a3" stroke-width="0.108" text-anchor="start" font-weight="bold" font-style="italic" >SG9.5/CBD/GO</text>
<text transform="translate(379.3 153.4) scale(1 1.0)" font-size="11.5" fill="#6e6e6e" stroke="#6e6e6e" stroke-width="0.108" text-anchor="start" font-weight="bold" font-style="italic" >SG9.5/GO</text>
<text transform="translate(379.4 216.6) scale(1 1.0)" font-size="11.5" fill="#111" stroke="#111" stroke-width="0.108" text-anchor="start" font-weight="bold" font-style="italic" >SG9.5</text>
<line x1="125" y1="356.7" x2="240" y2="358.2" stroke="#d65a5a" stroke-width="1.0" />
<polyline points="118,356.43 118.7,356.41 119.4,356.39 120.1,356.36 120.8,356.33 121.5,356.29 122.2,356.25 122.9,356.2 123.6,356.15 124.3,356.09 125,356.02 125.7,355.94 126.4,355.85 127.1,355.74 127.8,355.63 128.5,355.51 129.2,355.36 129.9,355.21 130.6,355.04 131.3,354.85 132,354.64 132.7,354.4 133.4,354.15 134.1,353.87 134.8,353.57 135.5,353.24 136.2,352.89 136.9,352.5 137.6,352.08 138.3,351.63 139,351.15 139.7,350.62 140.4,350.06 141.1,349.47 141.8,348.83 142.5,348.15 143.2,347.42 143.9,346.66 144.6,345.85 145.3,344.99 146,344.09 146.7,343.14 147.4,342.15 148.1,341.11 148.8,340.03 149.5,338.9 150.2,337.73 150.9,336.52 151.6,335.27 152.3,333.97 153,332.65 153.7,331.28 154.4,329.89 155.1,328.47 155.8,327.03 156.5,325.56 157.2,324.08 157.9,322.59 158.6,321.09 159.3,319.59 160,318.09 160.7,316.6 161.4,315.12 162.1,313.67 162.8,312.23 163.5,310.83 164.2,309.47 164.9,308.15 165.6,306.87 166.3,305.66 167,304.5 167.7,303.4 168.4,302.38 169.1,301.43 169.8,300.56 170.5,299.77 171.2,299.07 171.9,298.46 172.6,297.95 173.3,297.53 174,297.22 174.7,297 175.4,296.88 176.1,296.87 176.8,296.96 177.5,297.15 178.2,297.45 178.9,297.84 179.6,298.33 180.3,298.91 181,299.59 181.7,300.36 182.4,301.21 183.1,302.15 183.8,303.16 184.5,304.24 185.2,305.39 185.9,306.61 186.6,307.88 187.3,309.19 188,310.56 188.7,311.96 189.4,313.4 190.1,314.87 190.8,316.35 191.5,317.86 192.2,319.37 192.9,320.89 193.6,322.41 194.3,323.92 195,325.43 195.7,326.92 196.4,328.39 197.1,329.84 197.8,331.26 198.5,332.66 199.2,334.02 199.9,335.34 200.6,336.63 201.3,337.88 202,339.09 202.7,340.25 203.4,341.37 204.1,342.45 204.8,343.48 205.5,344.46 206.2,345.4 206.9,346.3 207.6,347.14 208.3,347.95 209,348.71 209.7,349.42 210.4,350.1 211.1,350.73 211.8,351.33 212.5,351.88 213.2,352.4 213.9,352.88 214.6,353.34 215.3,353.75 216,354.14 216.7,354.5 217.4,354.83 218.1,355.14 218.8,355.42 219.5,355.68 220.2,355.91 220.9,356.13 221.6,356.33 222.3,356.51 223,356.68 223.7,356.83 224.4,356.96 225.1,357.09 225.8,357.2 226.5,357.3 227.2,357.4 227.9,357.48 228.6,357.56 229.3,357.62 230,357.69 230.7,357.74 231.4,357.79 232.1,357.84 232.8,357.88 233.5,357.92 234.2,357.96 234.9,357.99 235.6,358.02 236.3,358.04 237,358.07 237.7,358.09 238.4,358.11 239.1,358.13 239.8,358.15 240.5,358.16 241.2,358.18 241.9,358.19 242.6,358.21 243.3,358.22 244,358.23 244.7,358.24 245.4,358.26 246.1,358.27 246.8,358.28" fill="none" stroke="#4068e0" stroke-width="1.35" stroke-linejoin="round" stroke-linecap="round" />
<polyline points="147.9,356.99 148.6,357 149.3,357.01 150,357.01 150.7,357.02 151.4,357.02 152.1,357.03 152.8,357.03 153.5,357.03 154.2,357.03 154.9,357.03 155.6,357.02 156.3,357.02 157,357.01 157.7,356.99 158.4,356.97 159.1,356.95 159.8,356.92 160.5,356.88 161.2,356.83 161.9,356.78 162.6,356.71 163.3,356.63 164,356.54 164.7,356.43 165.4,356.3 166.1,356.16 166.8,355.99 167.5,355.8 168.2,355.58 168.9,355.33 169.6,355.05 170.3,354.73 171,354.37 171.7,353.98 172.4,353.53 173.1,353.04 173.8,352.5 174.5,351.91 175.2,351.26 175.9,350.55 176.6,349.78 177.3,348.95 178,348.06 178.7,347.1 179.4,346.07 180.1,344.98 180.8,343.83 181.5,342.61 182.2,341.34 182.9,340 183.6,338.62 184.3,337.19 185,335.71 185.7,334.2 186.4,332.67 187.1,331.11 187.8,329.54 188.5,327.97 189.2,326.41 189.9,324.87 190.6,323.36 191.3,321.89 192,320.47 192.7,319.12 193.4,317.84 194.1,316.65 194.8,315.55 195.5,314.56 196.2,313.68 196.9,312.93 197.6,312.3 198.3,311.81 199,311.46 199.7,311.25 200.4,311.18 201.1,311.27 201.8,311.49 202.5,311.86 203.2,312.37 203.9,313.02 204.6,313.79 205.3,314.69 206,315.7 206.7,316.81 207.4,318.02 208.1,319.32 208.8,320.69 209.5,322.13 210.2,323.61 210.9,325.14 211.6,326.7 212.3,328.28 213,329.87 213.7,331.46 214.4,333.03 215.1,334.59 215.8,336.11 216.5,337.61 217.2,339.06 217.9,340.46 218.6,341.81 219.3,343.1 220,344.34 220.7,345.51 221.4,346.62 222.1,347.66 222.8,348.64 223.5,349.55 224.2,350.4 224.9,351.19 225.6,351.92 226.3,352.59 227,353.2 227.7,353.76 228.4,354.27 229.1,354.73 229.8,355.14 230.5,355.52 231.2,355.85 231.9,356.15 232.6,356.42 233.3,356.66 234,356.87 234.7,357.05 235.4,357.22 236.1,357.36 236.8,357.49 237.5,357.6 238.2,357.7 238.9,357.78 239.6,357.85 240.3,357.92 241,357.97 241.7,358.02 242.4,358.07 243.1,358.1 243.8,358.14 244.5,358.17 245.2,358.19 245.9,358.22 246.6,358.24 247.3,358.25 248,358.27 248.7,358.29 249.4,358.3" fill="none" stroke="#4068e0" stroke-width="1.35" stroke-linejoin="round" stroke-linecap="round" />
<polyline points="125.29,356.11 125.79,356.02 126.29,355.93 126.79,355.82 127.3,355.7 127.81,355.57 128.33,355.43 128.86,355.28 129.39,355.12 129.92,354.96 130.45,354.79 130.99,354.61 131.52,354.42 132.06,354.22 132.59,354.02 133.13,353.81 133.66,353.6 134.18,353.38 134.71,353.15 135.22,352.92 135.73,352.68 136.24,352.44 136.73,352.19 137.22,351.94 137.7,351.68 138.17,351.41 138.62,351.15 139.07,350.88 139.5,350.6 140.12,350.18 140.72,349.77 141.29,349.34 141.83,348.91 142.36,348.47 142.87,348.02 143.36,347.56 143.85,347.08 144.33,346.58 144.8,346.06 145.27,345.52 145.74,344.95 146.22,344.36 146.7,343.74 147.19,343.09 147.7,342.4 148.22,341.68 148.74,340.92 149.27,340.12 149.8,339.3 150.33,338.45 150.87,337.57 151.4,336.67 151.93,335.76 152.46,334.82 152.98,333.88 153.49,332.92 154,331.96 154.49,330.99 154.98,330.02 155.45,329.06 155.9,328.1 156.48,326.81 157.04,325.48 157.57,324.12 158.09,322.74 158.59,321.35 159.08,319.95 159.56,318.55 160.04,317.16 160.52,315.78 161.01,314.42 161.5,313.09 162,311.8 162.51,310.52 163.02,309.23 163.52,307.94 164.03,306.66 164.54,305.39 165.04,304.14 165.55,302.92 166.06,301.74 166.57,300.6 167.08,299.51 167.59,298.47 168.1,297.5 168.61,296.59 169.11,295.73 169.6,294.93 170.09,294.16 170.58,293.44 171.07,292.76 171.58,292.12 172.09,291.5 172.61,290.92 173.16,290.36 173.72,289.82 174.3,289.3 174.76,288.93 175.23,288.57 175.71,288.24 176.21,287.93 176.72,287.63 177.24,287.35 177.76,287.09 178.29,286.84 178.82,286.6 179.34,286.37 179.87,286.16 180.39,285.95 180.91,285.76 181.42,285.56 181.91,285.38 182.4,285.2 182.94,285 183.48,284.79 184,284.6 184.53,284.41 185.04,284.23 185.55,284.06 186.06,283.91 186.57,283.78 187.07,283.68 187.58,283.6 188.08,283.55 188.58,283.53 189.09,283.55 189.6,283.6 190.11,283.69 190.63,283.81 191.14,283.96 191.66,284.14 192.18,284.35 192.7,284.58 193.21,284.84 193.73,285.13 194.23,285.44 194.74,285.77 195.24,286.12 195.73,286.49 196.22,286.89 196.7,287.3 197.25,287.8 197.79,288.34 198.32,288.89 198.84,289.48 199.35,290.1 199.86,290.75 200.37,291.43 200.87,292.15 201.38,292.91 201.88,293.7 202.39,294.53 202.9,295.4 203.41,296.31 203.92,297.27 204.43,298.26 204.94,299.3 205.45,300.37 205.96,301.47 206.46,302.6 206.97,303.77 207.48,304.96 207.98,306.19 208.49,307.43 209,308.7 209.51,310.02 210.02,311.4 210.52,312.83 211.03,314.31 211.54,315.82 212.04,317.34 212.55,318.86 213.06,320.38 213.57,321.87 214.08,323.33 214.59,324.75 215.1,326.1 215.61,327.41 216.13,328.71 216.65,329.99 217.16,331.25 217.68,332.49 218.2,333.7 218.72,334.89 219.24,336.05 219.75,337.19 220.27,338.29 220.79,339.36 221.3,340.4 221.81,341.41 222.3,342.4 222.78,343.36 223.26,344.29 223.74,345.2 224.22,346.07 224.71,346.92 225.21,347.73 225.73,348.5 226.26,349.24 226.82,349.94 227.4,350.6 227.85,351.06 228.31,351.5 228.78,351.91 229.26,352.3 229.74,352.67 230.23,353.02 230.73,353.35 231.24,353.66 231.76,353.95 232.29,354.23 232.82,354.5 233.36,354.76 233.91,355 234.46,355.24 235.03,355.47 235.6,355.7 236.02,355.87 236.39,356.04 236.7,356.19 236.97,356.33 237.21,356.47 237.44,356.59 237.67,356.71 237.9,356.82 238.16,356.93 238.45,357.02 238.78,357.12 239.18,357.2 239.64,357.29" fill="none" stroke="#e06a6a" stroke-width="0.9" stroke-linejoin="round" stroke-linecap="round" />
<path d="M29.6,355.6a1.45,1.45 0 1,0 2.9,0a1.45,1.45 0 1,0 -2.9,0M31.1,356.1a1.45,1.45 0 1,0 2.9,0a1.45,1.45 0 1,0 -2.9,0M32.5,355.2a1.45,1.45 0 1,0 2.9,0a1.45,1.45 0 1,0 -2.9,0M34.0,357.1a1.45,1.45 0 1,0 2.9,0a1.45,1.45 0 1,0 -2.9,0M35.5,356.2a1.45,1.45 0 1,0 2.9,0a1.45,1.45 0 1,0 -2.9,0M37.0,356.1a1.45,1.45 0 1,0 2.9,0a1.45,1.45 0 1,0 -2.9,0M38.5,356.4a1.45,1.45 0 1,0 2.9,0a1.45,1.45 0 1,0 -2.9,0M40.0,356.2a1.45,1.45 0 1,0 2.9,0a1.45,1.45 0 1,0 -2.9,0M41.5,357.2a1.45,1.45 0 1,0 2.9,0a1.45,1.45 0 1,0 -2.9,0M43.0,357.3a1.45,1.45 0 1,0 2.9,0a1.45,1.45 0 1,0 -2.9,0M44.5,356.9a1.45,1.45 0 1,0 2.9,0a1.45,1.45 0 1,0 -2.9,0M46.0,356.8a1.45,1.45 0 1,0 2.9,0a1.45,1.45 0 1,0 -2.9,0M47.5,357.1a1.45,1.45 0 1,0 2.9,0a1.45,1.45 0 1,0 -2.9,0M49.0,356.8a1.45,1.45 0 1,0 2.9,0a1.45,1.45 0 1,0 -2.9,0M50.5,356.5a1.45,1.45 0 1,0 2.9,0a1.45,1.45 0 1,0 -2.9,0M52.0,357.2a1.45,1.45 0 1,0 2.9,0a1.45,1.45 0 1,0 -2.9,0M53.5,356.7a1.45,1.45 0 1,0 2.9,0a1.45,1.45 0 1,0 -2.9,0M55.0,356.9a1.45,1.45 0 1,0 2.9,0a1.45,1.45 0 1,0 -2.9,0M56.5,357.5a1.45,1.45 0 1,0 2.9,0a1.45,1.45 0 1,0 -2.9,0M58.0,357.7a1.45,1.45 0 1,0 2.9,0a1.45,1.45 0 1,0 -2.9,0M59.5,356.6a1.45,1.45 0 1,0 2.9,0a1.45,1.45 0 1,0 -2.9,0M61.0,357.3a1.45,1.45 0 1,0 2.9,0a1.45,1.45 0 1,0 -2.9,0M62.5,355.8a1.45,1.45 0 1,0 2.9,0a1.45,1.45 0 1,0 -2.9,0M64.0,356.2a1.45,1.45 0 1,0 2.9,0a1.45,1.45 0 1,0 -2.9,0M65.5,356.9a1.45,1.45 0 1,0 2.9,0a1.45,1.45 0 1,0 -2.9,0M67.0,356.3a1.45,1.45 0 1,0 2.9,0a1.45,1.45 0 1,0 -2.9,0M68.5,356.1a1.45,1.45 0 1,0 2.9,0a1.45,1.45 0 1,0 -2.9,0M70.0,356.3a1.45,1.45 0 1,0 2.9,0a1.45,1.45 0 1,0 -2.9,0M71.5,357.1a1.45,1.45 0 1,0 2.9,0a1.45,1.45 0 1,0 -2.9,0M73.0,356.0a1.45,1.45 0 1,0 2.9,0a1.45,1.45 0 1,0 -2.9,0M74.5,357.2a1.45,1.45 0 1,0 2.9,0a1.45,1.45 0 1,0 -2.9,0M76.0,357.5a1.45,1.45 0 1,0 2.9,0a1.45,1.45 0 1,0 -2.9,0M77.5,355.8a1.45,1.45 0 1,0 2.9,0a1.45,1.45 0 1,0 -2.9,0M79.0,357.2a1.45,1.45 0 1,0 2.9,0a1.45,1.45 0 1,0 -2.9,0M80.5,357.4a1.45,1.45 0 1,0 2.9,0a1.45,1.45 0 1,0 -2.9,0M82.0,356.3a1.45,1.45 0 1,0 2.9,0a1.45,1.45 0 1,0 -2.9,0M83.5,357.3a1.45,1.45 0 1,0 2.9,0a1.45,1.45 0 1,0 -2.9,0M85.0,356.8a1.45,1.45 0 1,0 2.9,0a1.45,1.45 0 1,0 -2.9,0M86.5,357.4a1.45,1.45 0 1,0 2.9,0a1.45,1.45 0 1,0 -2.9,0M88.0,357.5a1.45,1.45 0 1,0 2.9,0a1.45,1.45 0 1,0 -2.9,0M89.5,357.4a1.45,1.45 0 1,0 2.9,0a1.45,1.45 0 1,0 -2.9,0M91.0,355.6a1.45,1.45 0 1,0 2.9,0a1.45,1.45 0 1,0 -2.9,0M92.5,357.5a1.45,1.45 0 1,0 2.9,0a1.45,1.45 0 1,0 -2.9,0M94.0,358.2a1.45,1.45 0 1,0 2.9,0a1.45,1.45 0 1,0 -2.9,0M95.5,356.5a1.45,1.45 0 1,0 2.9,0a1.45,1.45 0 1,0 -2.9,0M97.0,358.7a1.45,1.45 0 1,0 2.9,0a1.45,1.45 0 1,0 -2.9,0M98.5,357.0a1.45,1.45 0 1,0 2.9,0a1.45,1.45 0 1,0 -2.9,0M100.0,356.4a1.45,1.45 0 1,0 2.9,0a1.45,1.45 0 1,0 -2.9,0M101.5,356.4a1.45,1.45 0 1,0 2.9,0a1.45,1.45 0 1,0 -2.9,0M103.0,358.0a1.45,1.45 0 1,0 2.9,0a1.45,1.45 0 1,0 -2.9,0M104.5,357.5a1.45,1.45 0 1,0 2.9,0a1.45,1.45 0 1,0 -2.9,0M106.0,356.7a1.45,1.45 0 1,0 2.9,0a1.45,1.45 0 1,0 -2.9,0M107.5,356.7a1.45,1.45 0 1,0 2.9,0a1.45,1.45 0 1,0 -2.9,0M109.0,355.6a1.45,1.45 0 1,0 2.9,0a1.45,1.45 0 1,0 -2.9,0M110.5,356.2a1.45,1.45 0 1,0 2.9,0a1.45,1.45 0 1,0 -2.9,0M112.0,355.9a1.45,1.45 0 1,0 2.9,0a1.45,1.45 0 1,0 -2.9,0M113.5,356.8a1.45,1.45 0 1,0 2.9,0a1.45,1.45 0 1,0 -2.9,0M115.0,356.5a1.45,1.45 0 1,0 2.9,0a1.45,1.45 0 1,0 -2.9,0M116.5,357.1a1.45,1.45 0 1,0 2.9,0a1.45,1.45 0 1,0 -2.9,0M118.0,356.7a1.45,1.45 0 1,0 2.9,0a1.45,1.45 0 1,0 -2.9,0M119.5,356.4a1.45,1.45 0 1,0 2.9,0a1.45,1.45 0 1,0 -2.9,0M121.0,356.8a1.45,1.45 0 1,0 2.9,0a1.45,1.45 0 1,0 -2.9,0M122.5,357.1a1.45,1.45 0 1,0 2.9,0a1.45,1.45 0 1,0 -2.9,0M124.0,355.8a1.45,1.45 0 1,0 2.9,0a1.45,1.45 0 1,0 -2.9,0M125.5,355.9a1.45,1.45 0 1,0 2.9,0a1.45,1.45 0 1,0 -2.9,0M127.0,355.1a1.45,1.45 0 1,0 2.9,0a1.45,1.45 0 1,0 -2.9,0M128.6,354.4a1.45,1.45 0 1,0 2.9,0a1.45,1.45 0 1,0 -2.9,0M130.1,353.9a1.45,1.45 0 1,0 2.9,0a1.45,1.45 0 1,0 -2.9,0M131.6,353.6a1.45,1.45 0 1,0 2.9,0a1.45,1.45 0 1,0 -2.9,0M133.1,352.5a1.45,1.45 0 1,0 2.9,0a1.45,1.45 0 1,0 -2.9,0M134.6,352.4a1.45,1.45 0 1,0 2.9,0a1.45,1.45 0 1,0 -2.9,0M136.1,351.6a1.45,1.45 0 1,0 2.9,0a1.45,1.45 0 1,0 -2.9,0M137.6,351.1a1.45,1.45 0 1,0 2.9,0a1.45,1.45 0 1,0 -2.9,0M139.1,350.5a1.45,1.45 0 1,0 2.9,0a1.45,1.45 0 1,0 -2.9,0M140.6,349.9a1.45,1.45 0 1,0 2.9,0a1.45,1.45 0 1,0 -2.9,0M142.1,347.1a1.45,1.45 0 1,0 2.9,0a1.45,1.45 0 1,0 -2.9,0M143.6,345.7a1.45,1.45 0 1,0 2.9,0a1.45,1.45 0 1,0 -2.9,0M145.1,344.3a1.45,1.45 0 1,0 2.9,0a1.45,1.45 0 1,0 -2.9,0M146.6,341.6a1.45,1.45 0 1,0 2.9,0a1.45,1.45 0 1,0 -2.9,0M148.1,340.4a1.45,1.45 0 1,0 2.9,0a1.45,1.45 0 1,0 -2.9,0M149.6,337.8a1.45,1.45 0 1,0 2.9,0a1.45,1.45 0 1,0 -2.9,0M151.1,334.7a1.45,1.45 0 1,0 2.9,0a1.45,1.45 0 1,0 -2.9,0M152.6,332.6a1.45,1.45 0 1,0 2.9,0a1.45,1.45 0 1,0 -2.9,0M154.1,328.5a1.45,1.45 0 1,0 2.9,0a1.45,1.45 0 1,0 -2.9,0M155.6,325.4a1.45,1.45 0 1,0 2.9,0a1.45,1.45 0 1,0 -2.9,0M157.1,321.3a1.45,1.45 0 1,0 2.9,0a1.45,1.45 0 1,0 -2.9,0M158.6,317.2a1.45,1.45 0 1,0 2.9,0a1.45,1.45 0 1,0 -2.9,0M160.1,312.3a1.45,1.45 0 1,0 2.9,0a1.45,1.45 0 1,0 -2.9,0M161.6,309.2a1.45,1.45 0 1,0 2.9,0a1.45,1.45 0 1,0 -2.9,0M163.1,306.0a1.45,1.45 0 1,0 2.9,0a1.45,1.45 0 1,0 -2.9,0M164.6,302.2a1.45,1.45 0 1,0 2.9,0a1.45,1.45 0 1,0 -2.9,0M166.1,299.2a1.45,1.45 0 1,0 2.9,0a1.45,1.45 0 1,0 -2.9,0M167.6,296.2a1.45,1.45 0 1,0 2.9,0a1.45,1.45 0 1,0 -2.9,0M169.1,294.1a1.45,1.45 0 1,0 2.9,0a1.45,1.45 0 1,0 -2.9,0M170.6,291.0a1.45,1.45 0 1,0 2.9,0a1.45,1.45 0 1,0 -2.9,0M172.1,289.8a1.45,1.45 0 1,0 2.9,0a1.45,1.45 0 1,0 -2.9,0M173.6,287.8a1.45,1.45 0 1,0 2.9,0a1.45,1.45 0 1,0 -2.9,0M175.1,289.1a1.45,1.45 0 1,0 2.9,0a1.45,1.45 0 1,0 -2.9,0M176.6,288.2a1.45,1.45 0 1,0 2.9,0a1.45,1.45 0 1,0 -2.9,0M178.1,286.3a1.45,1.45 0 1,0 2.9,0a1.45,1.45 0 1,0 -2.9,0M179.6,285.4a1.45,1.45 0 1,0 2.9,0a1.45,1.45 0 1,0 -2.9,0M181.1,285.5a1.45,1.45 0 1,0 2.9,0a1.45,1.45 0 1,0 -2.9,0M182.6,284.1a1.45,1.45 0 1,0 2.9,0a1.45,1.45 0 1,0 -2.9,0M184.1,284.8a1.45,1.45 0 1,0 2.9,0a1.45,1.45 0 1,0 -2.9,0M185.6,285.0a1.45,1.45 0 1,0 2.9,0a1.45,1.45 0 1,0 -2.9,0M187.1,282.6a1.45,1.45 0 1,0 2.9,0a1.45,1.45 0 1,0 -2.9,0M188.6,283.3a1.45,1.45 0 1,0 2.9,0a1.45,1.45 0 1,0 -2.9,0M190.1,284.8a1.45,1.45 0 1,0 2.9,0a1.45,1.45 0 1,0 -2.9,0M191.6,285.5a1.45,1.45 0 1,0 2.9,0a1.45,1.45 0 1,0 -2.9,0M193.1,286.0a1.45,1.45 0 1,0 2.9,0a1.45,1.45 0 1,0 -2.9,0M194.6,286.9a1.45,1.45 0 1,0 2.9,0a1.45,1.45 0 1,0 -2.9,0M196.1,288.0a1.45,1.45 0 1,0 2.9,0a1.45,1.45 0 1,0 -2.9,0M197.6,289.7a1.45,1.45 0 1,0 2.9,0a1.45,1.45 0 1,0 -2.9,0M199.1,291.3a1.45,1.45 0 1,0 2.9,0a1.45,1.45 0 1,0 -2.9,0M200.6,293.7a1.45,1.45 0 1,0 2.9,0a1.45,1.45 0 1,0 -2.9,0M202.1,296.2a1.45,1.45 0 1,0 2.9,0a1.45,1.45 0 1,0 -2.9,0M203.6,300.3a1.45,1.45 0 1,0 2.9,0a1.45,1.45 0 1,0 -2.9,0M205.1,301.6a1.45,1.45 0 1,0 2.9,0a1.45,1.45 0 1,0 -2.9,0M206.6,306.8a1.45,1.45 0 1,0 2.9,0a1.45,1.45 0 1,0 -2.9,0M208.1,309.1a1.45,1.45 0 1,0 2.9,0a1.45,1.45 0 1,0 -2.9,0M209.6,313.4a1.45,1.45 0 1,0 2.9,0a1.45,1.45 0 1,0 -2.9,0M211.1,317.5a1.45,1.45 0 1,0 2.9,0a1.45,1.45 0 1,0 -2.9,0M212.6,322.6a1.45,1.45 0 1,0 2.9,0a1.45,1.45 0 1,0 -2.9,0M214.1,327.4a1.45,1.45 0 1,0 2.9,0a1.45,1.45 0 1,0 -2.9,0M215.6,330.6a1.45,1.45 0 1,0 2.9,0a1.45,1.45 0 1,0 -2.9,0M217.1,334.4a1.45,1.45 0 1,0 2.9,0a1.45,1.45 0 1,0 -2.9,0M218.6,337.2a1.45,1.45 0 1,0 2.9,0a1.45,1.45 0 1,0 -2.9,0M220.1,340.9a1.45,1.45 0 1,0 2.9,0a1.45,1.45 0 1,0 -2.9,0M221.6,342.9a1.45,1.45 0 1,0 2.9,0a1.45,1.45 0 1,0 -2.9,0M223.1,346.7a1.45,1.45 0 1,0 2.9,0a1.45,1.45 0 1,0 -2.9,0M224.6,348.6a1.45,1.45 0 1,0 2.9,0a1.45,1.45 0 1,0 -2.9,0M226.1,350.0a1.45,1.45 0 1,0 2.9,0a1.45,1.45 0 1,0 -2.9,0M227.6,352.8a1.45,1.45 0 1,0 2.9,0a1.45,1.45 0 1,0 -2.9,0M229.1,354.1a1.45,1.45 0 1,0 2.9,0a1.45,1.45 0 1,0 -2.9,0M230.6,353.8a1.45,1.45 0 1,0 2.9,0a1.45,1.45 0 1,0 -2.9,0M232.1,355.6a1.45,1.45 0 1,0 2.9,0a1.45,1.45 0 1,0 -2.9,0M233.6,355.7a1.45,1.45 0 1,0 2.9,0a1.45,1.45 0 1,0 -2.9,0M235.1,356.7a1.45,1.45 0 1,0 2.9,0a1.45,1.45 0 1,0 -2.9,0M236.6,357.3a1.45,1.45 0 1,0 2.9,0a1.45,1.45 0 1,0 -2.9,0M238.1,357.4a1.45,1.45 0 1,0 2.9,0a1.45,1.45 0 1,0 -2.9,0M239.6,357.2a1.45,1.45 0 1,0 2.9,0a1.45,1.45 0 1,0 -2.9,0M241.1,358.4a1.45,1.45 0 1,0 2.9,0a1.45,1.45 0 1,0 -2.9,0M242.6,357.3a1.45,1.45 0 1,0 2.9,0a1.45,1.45 0 1,0 -2.9,0M244.1,357.8a1.45,1.45 0 1,0 2.9,0a1.45,1.45 0 1,0 -2.9,0M245.6,358.2a1.45,1.45 0 1,0 2.9,0a1.45,1.45 0 1,0 -2.9,0M247.1,356.8a1.45,1.45 0 1,0 2.9,0a1.45,1.45 0 1,0 -2.9,0M248.6,358.3a1.45,1.45 0 1,0 2.9,0a1.45,1.45 0 1,0 -2.9,0M250.1,357.7a1.45,1.45 0 1,0 2.9,0a1.45,1.45 0 1,0 -2.9,0M251.6,357.9a1.45,1.45 0 1,0 2.9,0a1.45,1.45 0 1,0 -2.9,0M253.1,358.4a1.45,1.45 0 1,0 2.9,0a1.45,1.45 0 1,0 -2.9,0M254.6,358.1a1.45,1.45 0 1,0 2.9,0a1.45,1.45 0 1,0 -2.9,0M256.1,358.2a1.45,1.45 0 1,0 2.9,0a1.45,1.45 0 1,0 -2.9,0M257.6,357.8a1.45,1.45 0 1,0 2.9,0a1.45,1.45 0 1,0 -2.9,0M259.1,357.7a1.45,1.45 0 1,0 2.9,0a1.45,1.45 0 1,0 -2.9,0M260.6,358.0a1.45,1.45 0 1,0 2.9,0a1.45,1.45 0 1,0 -2.9,0M262.1,358.0a1.45,1.45 0 1,0 2.9,0a1.45,1.45 0 1,0 -2.9,0M263.6,357.7a1.45,1.45 0 1,0 2.9,0a1.45,1.45 0 1,0 -2.9,0M265.1,359.0a1.45,1.45 0 1,0 2.9,0a1.45,1.45 0 1,0 -2.9,0M266.6,359.2a1.45,1.45 0 1,0 2.9,0a1.45,1.45 0 1,0 -2.9,0M268.1,357.4a1.45,1.45 0 1,0 2.9,0a1.45,1.45 0 1,0 -2.9,0M269.6,358.1a1.45,1.45 0 1,0 2.9,0a1.45,1.45 0 1,0 -2.9,0M271.1,358.8a1.45,1.45 0 1,0 2.9,0a1.45,1.45 0 1,0 -2.9,0M272.6,357.0a1.45,1.45 0 1,0 2.9,0a1.45,1.45 0 1,0 -2.9,0M274.1,358.9a1.45,1.45 0 1,0 2.9,0a1.45,1.45 0 1,0 -2.9,0M275.6,358.4a1.45,1.45 0 1,0 2.9,0a1.45,1.45 0 1,0 -2.9,0M277.1,358.8a1.45,1.45 0 1,0 2.9,0a1.45,1.45 0 1,0 -2.9,0M278.6,358.9a1.45,1.45 0 1,0 2.9,0a1.45,1.45 0 1,0 -2.9,0M280.1,359.1a1.45,1.45 0 1,0 2.9,0a1.45,1.45 0 1,0 -2.9,0M281.6,357.6a1.45,1.45 0 1,0 2.9,0a1.45,1.45 0 1,0 -2.9,0M283.1,358.8a1.45,1.45 0 1,0 2.9,0a1.45,1.45 0 1,0 -2.9,0M284.6,358.5a1.45,1.45 0 1,0 2.9,0a1.45,1.45 0 1,0 -2.9,0M286.1,358.8a1.45,1.45 0 1,0 2.9,0a1.45,1.45 0 1,0 -2.9,0M287.6,357.7a1.45,1.45 0 1,0 2.9,0a1.45,1.45 0 1,0 -2.9,0M289.1,358.0a1.45,1.45 0 1,0 2.9,0a1.45,1.45 0 1,0 -2.9,0M290.6,359.0a1.45,1.45 0 1,0 2.9,0a1.45,1.45 0 1,0 -2.9,0M292.1,359.2a1.45,1.45 0 1,0 2.9,0a1.45,1.45 0 1,0 -2.9,0M293.6,359.6a1.45,1.45 0 1,0 2.9,0a1.45,1.45 0 1,0 -2.9,0M295.1,357.7a1.45,1.45 0 1,0 2.9,0a1.45,1.45 0 1,0 -2.9,0M296.6,359.4a1.45,1.45 0 1,0 2.9,0a1.45,1.45 0 1,0 -2.9,0M298.1,358.5a1.45,1.45 0 1,0 2.9,0a1.45,1.45 0 1,0 -2.9,0M299.6,358.5a1.45,1.45 0 1,0 2.9,0a1.45,1.45 0 1,0 -2.9,0M301.1,358.5a1.45,1.45 0 1,0 2.9,0a1.45,1.45 0 1,0 -2.9,0M302.6,359.1a1.45,1.45 0 1,0 2.9,0a1.45,1.45 0 1,0 -2.9,0M304.1,359.4a1.45,1.45 0 1,0 2.9,0a1.45,1.45 0 1,0 -2.9,0M305.6,358.3a1.45,1.45 0 1,0 2.9,0a1.45,1.45 0 1,0 -2.9,0M307.1,359.2a1.45,1.45 0 1,0 2.9,0a1.45,1.45 0 1,0 -2.9,0M308.6,358.9a1.45,1.45 0 1,0 2.9,0a1.45,1.45 0 1,0 -2.9,0M310.1,358.4a1.45,1.45 0 1,0 2.9,0a1.45,1.45 0 1,0 -2.9,0M311.6,359.4a1.45,1.45 0 1,0 2.9,0a1.45,1.45 0 1,0 -2.9,0M313.1,358.4a1.45,1.45 0 1,0 2.9,0a1.45,1.45 0 1,0 -2.9,0M314.6,358.7a1.45,1.45 0 1,0 2.9,0a1.45,1.45 0 1,0 -2.9,0M316.1,358.9a1.45,1.45 0 1,0 2.9,0a1.45,1.45 0 1,0 -2.9,0M317.6,359.0a1.45,1.45 0 1,0 2.9,0a1.45,1.45 0 1,0 -2.9,0M319.1,358.5a1.45,1.45 0 1,0 2.9,0a1.45,1.45 0 1,0 -2.9,0M320.6,358.8a1.45,1.45 0 1,0 2.9,0a1.45,1.45 0 1,0 -2.9,0M322.1,359.7a1.45,1.45 0 1,0 2.9,0a1.45,1.45 0 1,0 -2.9,0M323.6,359.2a1.45,1.45 0 1,0 2.9,0a1.45,1.45 0 1,0 -2.9,0M325.1,359.3a1.45,1.45 0 1,0 2.9,0a1.45,1.45 0 1,0 -2.9,0M326.6,359.1a1.45,1.45 0 1,0 2.9,0a1.45,1.45 0 1,0 -2.9,0M328.1,359.7a1.45,1.45 0 1,0 2.9,0a1.45,1.45 0 1,0 -2.9,0M329.6,359.9a1.45,1.45 0 1,0 2.9,0a1.45,1.45 0 1,0 -2.9,0" fill="none" stroke="#9c9c9c" stroke-width="1.0"/>
<line x1="125" y1="409.3" x2="245" y2="409.6" stroke="#d65a5a" stroke-width="1.0" />
<polyline points="115,409.24 115.7,409.24 116.4,409.24 117.1,409.23 117.8,409.22 118.5,409.21 119.2,409.2 119.9,409.19 120.6,409.18 121.3,409.16 122,409.14 122.7,409.12 123.4,409.1 124.1,409.07 124.8,409.03 125.5,409 126.2,408.95 126.9,408.91 127.6,408.85 128.3,408.79 129,408.72 129.7,408.64 130.4,408.56 131.1,408.46 131.8,408.35 132.5,408.23 133.2,408.1 133.9,407.96 134.6,407.8 135.3,407.62 136,407.43 136.7,407.22 137.4,406.99 138.1,406.75 138.8,406.48 139.5,406.19 140.2,405.87 140.9,405.54 141.6,405.17 142.3,404.79 143,404.37 143.7,403.93 144.4,403.46 145.1,402.97 145.8,402.44 146.5,401.89 147.2,401.31 147.9,400.71 148.6,400.07 149.3,399.41 150,398.72 150.7,398.01 151.4,397.28 152.1,396.52 152.8,395.75 153.5,394.96 154.2,394.15 154.9,393.33 155.6,392.5 156.3,391.66 157,390.82 157.7,389.98 158.4,389.14 159.1,388.31 159.8,387.49 160.5,386.68 161.2,385.89 161.9,385.12 162.6,384.38 163.3,383.67 164,382.99 164.7,382.35 165.4,381.75 166.1,381.2 166.8,380.69 167.5,380.23 168.2,379.82 168.9,379.47 169.6,379.18 170.3,378.95 171,378.78 171.7,378.67 172.4,378.62 173.1,378.64 173.8,378.71 174.5,378.85 175.2,379.06 175.9,379.32 176.6,379.64 177.3,380.01 178,380.45 178.7,380.93 179.4,381.46 180.1,382.04 180.8,382.66 181.5,383.32 182.2,384.02 182.9,384.75 183.6,385.5 184.3,386.28 185,387.08 185.7,387.9 186.4,388.73 187.1,389.57 187.8,390.41 188.5,391.26 189.2,392.1 189.9,392.94 190.6,393.77 191.3,394.59 192,395.39 192.7,396.18 193.4,396.95 194.1,397.7 194.8,398.43 195.5,399.14 196.2,399.81 196.9,400.47 197.6,401.09 198.3,401.69 199,402.26 199.7,402.81 200.4,403.32 201.1,403.81 201.8,404.27 202.5,404.7 203.2,405.11 203.9,405.49 204.6,405.84 205.3,406.17 206,406.48 206.7,406.77 207.4,407.03 208.1,407.27 208.8,407.5 209.5,407.7 210.2,407.89 210.9,408.06 211.6,408.22 212.3,408.36 213,408.49 213.7,408.61 214.4,408.71 215.1,408.81 215.8,408.89 216.5,408.97 217.2,409.04 217.9,409.1 218.6,409.16 219.3,409.21 220,409.25 220.7,409.29 221.4,409.32 222.1,409.35 222.8,409.38 223.5,409.41 224.2,409.43 224.9,409.45 225.6,409.46 226.3,409.48 227,409.49 227.7,409.5 228.4,409.51 229.1,409.52 229.8,409.53 230.5,409.54 231.2,409.54 231.9,409.55 232.6,409.55 233.3,409.56 234,409.56 234.7,409.56 235.4,409.57 236.1,409.57 236.8,409.57 237.5,409.58" fill="none" stroke="#4068e0" stroke-width="1.35" stroke-linejoin="round" stroke-linecap="round" />
<polyline points="132.7,409.31 133.4,409.31 134.1,409.31 134.8,409.31 135.5,409.31 136.2,409.31 136.9,409.31 137.6,409.31 138.3,409.31 139,409.3 139.7,409.3 140.4,409.29 141.1,409.29 141.8,409.28 142.5,409.27 143.2,409.26 143.9,409.25 144.6,409.23 145.3,409.22 146,409.2 146.7,409.17 147.4,409.15 148.1,409.12 148.8,409.08 149.5,409.04 150.2,409 150.9,408.94 151.6,408.89 152.3,408.82 153,408.75 153.7,408.66 154.4,408.57 155.1,408.47 155.8,408.35 156.5,408.22 157.2,408.08 157.9,407.92 158.6,407.75 159.3,407.55 160,407.34 160.7,407.11 161.4,406.86 162.1,406.58 162.8,406.28 163.5,405.95 164.2,405.6 164.9,405.21 165.6,404.8 166.3,404.35 167,403.87 167.7,403.36 168.4,402.81 169.1,402.23 169.8,401.61 170.5,400.95 171.2,400.25 171.9,399.51 172.6,398.74 173.3,397.92 174,397.07 174.7,396.17 175.4,395.24 176.1,394.28 176.8,393.28 177.5,392.24 178.2,391.18 178.9,390.08 179.6,388.96 180.3,387.81 181,386.64 181.7,385.46 182.4,384.26 183.1,383.05 183.8,381.84 184.5,380.63 185.2,379.42 185.9,378.22 186.6,377.03 187.3,375.87 188,374.72 188.7,373.61 189.4,372.53 190.1,371.5 190.8,370.5 191.5,369.56 192.2,368.68 192.9,367.85 193.6,367.09 194.3,366.39 195,365.77 195.7,365.23 196.4,364.76 197.1,364.38 197.8,364.07 198.5,363.86 199.2,363.73 199.9,363.69 200.6,363.73 201.3,363.87 202,364.09 202.7,364.39 203.4,364.78 204.1,365.25 204.8,365.8 205.5,366.42 206.2,367.12 206.9,367.88 207.6,368.71 208.3,369.6 209,370.55 209.7,371.55 210.4,372.59 211.1,373.67 211.8,374.78 212.5,375.93 213.2,377.1 213.9,378.29 214.6,379.49 215.3,380.71 216,381.92 216.7,383.14 217.4,384.35 218.1,385.55 218.8,386.74 219.5,387.91 220.2,389.06 220.9,390.18 221.6,391.28 222.3,392.35 223,393.39 223.7,394.4 224.4,395.37 225.1,396.3 225.8,397.2 226.5,398.05 227.2,398.87 227.9,399.65 228.6,400.39 229.3,401.09 230,401.76 230.7,402.38 231.4,402.97 232.1,403.52 232.8,404.04 233.5,404.52 234.2,404.97 234.9,405.39 235.6,405.78 236.3,406.13 237,406.47 237.7,406.77 238.4,407.05 239.1,407.31 239.8,407.54 240.5,407.76 241.2,407.95 241.9,408.13 242.6,408.29 243.3,408.44 244,408.57 244.7,408.69 245.4,408.8 246.1,408.89 246.8,408.98 247.5,409.06 248.2,409.13 248.9,409.19 249.6,409.24 250.3,409.29 251,409.34 251.7,409.37 252.4,409.41 253.1,409.44 253.8,409.46 254.5,409.49" fill="none" stroke="#4068e0" stroke-width="1.35" stroke-linejoin="round" stroke-linecap="round" />
<polyline points="125.15,408.87 125.59,408.81 126.02,408.75 126.45,408.69 126.87,408.62 127.28,408.54 127.68,408.47 128.09,408.39 128.48,408.3 128.88,408.22 129.28,408.13 129.68,408.03 130.08,407.93 130.48,407.82 130.89,407.71 131.3,407.6 131.95,407.41 132.57,407.21 133.17,407.01 133.75,406.8 134.3,406.58 134.83,406.36 135.35,406.12 135.86,405.88 136.35,405.62 136.83,405.36 137.31,405.09 137.78,404.81 138.24,404.51 138.71,404.21 139.17,403.89 139.64,403.56 140.12,403.21 140.6,402.86 141.09,402.49 141.6,402.1 142.11,401.7 142.63,401.28 143.15,400.84 143.68,400.38 144.2,399.91 144.73,399.42 145.26,398.92 145.78,398.41 146.31,397.89 146.83,397.36 147.35,396.83 147.87,396.28 148.38,395.74 148.89,395.19 149.39,394.64 149.89,394.09 150.38,393.53 150.86,392.99 151.34,392.44 151.8,391.9 152.37,391.21 152.93,390.5 153.48,389.78 154.02,389.03 154.55,388.28 155.07,387.51 155.59,386.75 156.09,385.99 156.6,385.24 157.09,384.5 157.59,383.78 158.07,383.09 158.56,382.41 159.04,381.77 159.52,381.17 160,380.6 160.54,379.99 161.05,379.42 161.56,378.88 162.05,378.36 162.53,377.87 163.01,377.41 163.49,376.98 163.97,376.56 164.45,376.17 164.95,375.8 165.46,375.45 165.99,375.12 166.53,374.8 167.1,374.5 167.56,374.29 168.04,374.1 168.52,373.93 169.02,373.78 169.53,373.65 170.05,373.54 170.57,373.43 171.1,373.34 171.63,373.26 172.16,373.18 172.7,373.1 173.23,373.02 173.76,372.94 174.28,372.85 174.8,372.76 175.31,372.65 175.81,372.53 176.3,372.4 176.84,372.24 177.37,372.08 177.9,371.91 178.42,371.74 178.94,371.57 179.45,371.39 179.96,371.21 180.46,371.02 180.97,370.84 181.47,370.65 181.97,370.45 182.47,370.25 182.98,370.04 183.48,369.83 183.99,369.62 184.5,369.4 185.01,369.17 185.53,368.93 186.04,368.68 186.56,368.42 187.08,368.15 187.6,367.88 188.11,367.61 188.63,367.33 189.15,367.06 189.66,366.78 190.17,366.51 190.69,366.25 191.19,366 191.7,365.75 192.2,365.52 192.7,365.3 193.23,365.06 193.76,364.81 194.29,364.55 194.82,364.29 195.34,364.02 195.87,363.76 196.39,363.52 196.91,363.29 197.42,363.08 197.93,362.9 198.44,362.75 198.94,362.64 199.43,362.58 199.92,362.56 200.4,362.6 200.95,362.71 201.48,362.87 202.01,363.09 202.53,363.35 203.04,363.66 203.55,364.02 204.05,364.41 204.55,364.83 205.04,365.28 205.53,365.76 206.02,366.25 206.51,366.77 207,367.3 207.53,367.9 208.05,368.55 208.56,369.23 209.07,369.96 209.58,370.71 210.08,371.49 210.58,372.29 211.09,373.11 211.59,373.95 212.09,374.79 212.59,375.65 213.1,376.5 213.6,377.37 214.1,378.29 214.6,379.23 215.09,380.19 215.59,381.17 216.08,382.15 216.58,383.13 217.09,384.11 217.6,385.07 218.12,386.01 218.65,386.93 219.2,387.8 219.68,388.52 220.15,389.23 220.63,389.92 221.12,390.6 221.61,391.27 222.1,391.93 222.61,392.58 223.12,393.22 223.64,393.85 224.17,394.48 224.71,395.11 225.26,395.74 225.82,396.37 226.4,397 226.86,397.5 227.33,398 227.81,398.51 228.29,399.03 228.78,399.55 229.28,400.06 229.79,400.58 230.3,401.09 230.81,401.59 231.33,402.09 231.86,402.58 232.39,403.05 232.92,403.51 233.45,403.95 233.99,404.37 234.52,404.77 235.06,405.15 235.6,405.5 236.08,405.8 236.56,406.08 237.04,406.34 237.51,406.59 237.99,406.82 238.46,407.04 238.94,407.25 239.42,407.44 239.9,407.63 240.39,407.8 240.88,407.97 241.38,408.12 241.89,408.27 242.41,408.42 242.95,408.56 243.49,408.69 244.04,408.82 244.61,408.95" fill="none" stroke="#e06a6a" stroke-width="0.9" stroke-linejoin="round" stroke-linecap="round" />
<path d="M29.6,409.5a1.45,1.45 0 1,0 2.9,0a1.45,1.45 0 1,0 -2.9,0M31.1,410.1a1.45,1.45 0 1,0 2.9,0a1.45,1.45 0 1,0 -2.9,0M32.5,409.1a1.45,1.45 0 1,0 2.9,0a1.45,1.45 0 1,0 -2.9,0M34.0,409.6a1.45,1.45 0 1,0 2.9,0a1.45,1.45 0 1,0 -2.9,0M35.5,409.0a1.45,1.45 0 1,0 2.9,0a1.45,1.45 0 1,0 -2.9,0M37.0,409.3a1.45,1.45 0 1,0 2.9,0a1.45,1.45 0 1,0 -2.9,0M38.5,411.4a1.45,1.45 0 1,0 2.9,0a1.45,1.45 0 1,0 -2.9,0M40.0,409.2a1.45,1.45 0 1,0 2.9,0a1.45,1.45 0 1,0 -2.9,0M41.5,410.4a1.45,1.45 0 1,0 2.9,0a1.45,1.45 0 1,0 -2.9,0M43.0,409.8a1.45,1.45 0 1,0 2.9,0a1.45,1.45 0 1,0 -2.9,0M44.5,409.8a1.45,1.45 0 1,0 2.9,0a1.45,1.45 0 1,0 -2.9,0M46.0,408.5a1.45,1.45 0 1,0 2.9,0a1.45,1.45 0 1,0 -2.9,0M47.5,409.8a1.45,1.45 0 1,0 2.9,0a1.45,1.45 0 1,0 -2.9,0M49.0,408.9a1.45,1.45 0 1,0 2.9,0a1.45,1.45 0 1,0 -2.9,0M50.5,409.3a1.45,1.45 0 1,0 2.9,0a1.45,1.45 0 1,0 -2.9,0M52.0,409.3a1.45,1.45 0 1,0 2.9,0a1.45,1.45 0 1,0 -2.9,0M53.5,409.5a1.45,1.45 0 1,0 2.9,0a1.45,1.45 0 1,0 -2.9,0M55.0,410.8a1.45,1.45 0 1,0 2.9,0a1.45,1.45 0 1,0 -2.9,0M56.5,410.7a1.45,1.45 0 1,0 2.9,0a1.45,1.45 0 1,0 -2.9,0M58.0,408.7a1.45,1.45 0 1,0 2.9,0a1.45,1.45 0 1,0 -2.9,0M59.5,409.5a1.45,1.45 0 1,0 2.9,0a1.45,1.45 0 1,0 -2.9,0M61.0,409.3a1.45,1.45 0 1,0 2.9,0a1.45,1.45 0 1,0 -2.9,0M62.5,409.8a1.45,1.45 0 1,0 2.9,0a1.45,1.45 0 1,0 -2.9,0M64.0,408.8a1.45,1.45 0 1,0 2.9,0a1.45,1.45 0 1,0 -2.9,0M65.5,408.9a1.45,1.45 0 1,0 2.9,0a1.45,1.45 0 1,0 -2.9,0M67.0,409.7a1.45,1.45 0 1,0 2.9,0a1.45,1.45 0 1,0 -2.9,0M68.5,409.3a1.45,1.45 0 1,0 2.9,0a1.45,1.45 0 1,0 -2.9,0M70.0,410.4a1.45,1.45 0 1,0 2.9,0a1.45,1.45 0 1,0 -2.9,0M71.5,409.6a1.45,1.45 0 1,0 2.9,0a1.45,1.45 0 1,0 -2.9,0M73.0,409.9a1.45,1.45 0 1,0 2.9,0a1.45,1.45 0 1,0 -2.9,0M74.5,409.5a1.45,1.45 0 1,0 2.9,0a1.45,1.45 0 1,0 -2.9,0M76.0,410.3a1.45,1.45 0 1,0 2.9,0a1.45,1.45 0 1,0 -2.9,0M77.5,410.5a1.45,1.45 0 1,0 2.9,0a1.45,1.45 0 1,0 -2.9,0M79.0,409.8a1.45,1.45 0 1,0 2.9,0a1.45,1.45 0 1,0 -2.9,0M80.5,409.5a1.45,1.45 0 1,0 2.9,0a1.45,1.45 0 1,0 -2.9,0M82.0,410.1a1.45,1.45 0 1,0 2.9,0a1.45,1.45 0 1,0 -2.9,0M83.5,409.9a1.45,1.45 0 1,0 2.9,0a1.45,1.45 0 1,0 -2.9,0M85.0,410.4a1.45,1.45 0 1,0 2.9,0a1.45,1.45 0 1,0 -2.9,0M86.5,409.9a1.45,1.45 0 1,0 2.9,0a1.45,1.45 0 1,0 -2.9,0M88.0,409.9a1.45,1.45 0 1,0 2.9,0a1.45,1.45 0 1,0 -2.9,0M89.5,410.3a1.45,1.45 0 1,0 2.9,0a1.45,1.45 0 1,0 -2.9,0M91.0,409.3a1.45,1.45 0 1,0 2.9,0a1.45,1.45 0 1,0 -2.9,0M92.5,409.1a1.45,1.45 0 1,0 2.9,0a1.45,1.45 0 1,0 -2.9,0M94.0,410.1a1.45,1.45 0 1,0 2.9,0a1.45,1.45 0 1,0 -2.9,0M95.5,409.7a1.45,1.45 0 1,0 2.9,0a1.45,1.45 0 1,0 -2.9,0M97.0,410.2a1.45,1.45 0 1,0 2.9,0a1.45,1.45 0 1,0 -2.9,0M98.5,410.3a1.45,1.45 0 1,0 2.9,0a1.45,1.45 0 1,0 -2.9,0M100.0,410.0a1.45,1.45 0 1,0 2.9,0a1.45,1.45 0 1,0 -2.9,0M101.5,409.5a1.45,1.45 0 1,0 2.9,0a1.45,1.45 0 1,0 -2.9,0M103.0,410.7a1.45,1.45 0 1,0 2.9,0a1.45,1.45 0 1,0 -2.9,0M104.5,408.5a1.45,1.45 0 1,0 2.9,0a1.45,1.45 0 1,0 -2.9,0M106.0,409.3a1.45,1.45 0 1,0 2.9,0a1.45,1.45 0 1,0 -2.9,0M107.5,409.0a1.45,1.45 0 1,0 2.9,0a1.45,1.45 0 1,0 -2.9,0M109.0,410.9a1.45,1.45 0 1,0 2.9,0a1.45,1.45 0 1,0 -2.9,0M110.5,409.5a1.45,1.45 0 1,0 2.9,0a1.45,1.45 0 1,0 -2.9,0M112.0,409.5a1.45,1.45 0 1,0 2.9,0a1.45,1.45 0 1,0 -2.9,0M113.5,409.9a1.45,1.45 0 1,0 2.9,0a1.45,1.45 0 1,0 -2.9,0M115.0,410.2a1.45,1.45 0 1,0 2.9,0a1.45,1.45 0 1,0 -2.9,0M116.5,410.0a1.45,1.45 0 1,0 2.9,0a1.45,1.45 0 1,0 -2.9,0M118.0,409.3a1.45,1.45 0 1,0 2.9,0a1.45,1.45 0 1,0 -2.9,0M119.5,409.4a1.45,1.45 0 1,0 2.9,0a1.45,1.45 0 1,0 -2.9,0M121.0,408.5a1.45,1.45 0 1,0 2.9,0a1.45,1.45 0 1,0 -2.9,0M122.5,409.2a1.45,1.45 0 1,0 2.9,0a1.45,1.45 0 1,0 -2.9,0M124.0,408.7a1.45,1.45 0 1,0 2.9,0a1.45,1.45 0 1,0 -2.9,0M125.5,407.3a1.45,1.45 0 1,0 2.9,0a1.45,1.45 0 1,0 -2.9,0M127.0,408.4a1.45,1.45 0 1,0 2.9,0a1.45,1.45 0 1,0 -2.9,0M128.6,407.9a1.45,1.45 0 1,0 2.9,0a1.45,1.45 0 1,0 -2.9,0M130.1,408.0a1.45,1.45 0 1,0 2.9,0a1.45,1.45 0 1,0 -2.9,0M131.6,407.4a1.45,1.45 0 1,0 2.9,0a1.45,1.45 0 1,0 -2.9,0M133.1,406.6a1.45,1.45 0 1,0 2.9,0a1.45,1.45 0 1,0 -2.9,0M134.6,405.7a1.45,1.45 0 1,0 2.9,0a1.45,1.45 0 1,0 -2.9,0M136.1,405.9a1.45,1.45 0 1,0 2.9,0a1.45,1.45 0 1,0 -2.9,0M137.6,404.1a1.45,1.45 0 1,0 2.9,0a1.45,1.45 0 1,0 -2.9,0M139.1,403.5a1.45,1.45 0 1,0 2.9,0a1.45,1.45 0 1,0 -2.9,0M140.6,402.0a1.45,1.45 0 1,0 2.9,0a1.45,1.45 0 1,0 -2.9,0M142.1,401.3a1.45,1.45 0 1,0 2.9,0a1.45,1.45 0 1,0 -2.9,0M143.6,399.7a1.45,1.45 0 1,0 2.9,0a1.45,1.45 0 1,0 -2.9,0M145.1,397.0a1.45,1.45 0 1,0 2.9,0a1.45,1.45 0 1,0 -2.9,0M146.6,396.5a1.45,1.45 0 1,0 2.9,0a1.45,1.45 0 1,0 -2.9,0M148.1,395.4a1.45,1.45 0 1,0 2.9,0a1.45,1.45 0 1,0 -2.9,0M149.6,393.6a1.45,1.45 0 1,0 2.9,0a1.45,1.45 0 1,0 -2.9,0M151.1,390.9a1.45,1.45 0 1,0 2.9,0a1.45,1.45 0 1,0 -2.9,0M152.6,390.0a1.45,1.45 0 1,0 2.9,0a1.45,1.45 0 1,0 -2.9,0M154.1,387.4a1.45,1.45 0 1,0 2.9,0a1.45,1.45 0 1,0 -2.9,0M155.6,385.0a1.45,1.45 0 1,0 2.9,0a1.45,1.45 0 1,0 -2.9,0M157.1,382.1a1.45,1.45 0 1,0 2.9,0a1.45,1.45 0 1,0 -2.9,0M158.6,380.9a1.45,1.45 0 1,0 2.9,0a1.45,1.45 0 1,0 -2.9,0M160.1,379.2a1.45,1.45 0 1,0 2.9,0a1.45,1.45 0 1,0 -2.9,0M161.6,376.2a1.45,1.45 0 1,0 2.9,0a1.45,1.45 0 1,0 -2.9,0M163.1,375.9a1.45,1.45 0 1,0 2.9,0a1.45,1.45 0 1,0 -2.9,0M164.6,374.2a1.45,1.45 0 1,0 2.9,0a1.45,1.45 0 1,0 -2.9,0M166.1,373.3a1.45,1.45 0 1,0 2.9,0a1.45,1.45 0 1,0 -2.9,0M167.6,373.9a1.45,1.45 0 1,0 2.9,0a1.45,1.45 0 1,0 -2.9,0M169.1,374.0a1.45,1.45 0 1,0 2.9,0a1.45,1.45 0 1,0 -2.9,0M170.6,373.2a1.45,1.45 0 1,0 2.9,0a1.45,1.45 0 1,0 -2.9,0M172.1,372.1a1.45,1.45 0 1,0 2.9,0a1.45,1.45 0 1,0 -2.9,0M173.6,372.0a1.45,1.45 0 1,0 2.9,0a1.45,1.45 0 1,0 -2.9,0M175.1,372.8a1.45,1.45 0 1,0 2.9,0a1.45,1.45 0 1,0 -2.9,0M176.6,371.8a1.45,1.45 0 1,0 2.9,0a1.45,1.45 0 1,0 -2.9,0M178.1,371.5a1.45,1.45 0 1,0 2.9,0a1.45,1.45 0 1,0 -2.9,0M179.6,370.7a1.45,1.45 0 1,0 2.9,0a1.45,1.45 0 1,0 -2.9,0M181.1,370.3a1.45,1.45 0 1,0 2.9,0a1.45,1.45 0 1,0 -2.9,0M182.6,369.2a1.45,1.45 0 1,0 2.9,0a1.45,1.45 0 1,0 -2.9,0M184.1,368.6a1.45,1.45 0 1,0 2.9,0a1.45,1.45 0 1,0 -2.9,0M185.6,367.4a1.45,1.45 0 1,0 2.9,0a1.45,1.45 0 1,0 -2.9,0M187.1,367.4a1.45,1.45 0 1,0 2.9,0a1.45,1.45 0 1,0 -2.9,0M188.6,366.6a1.45,1.45 0 1,0 2.9,0a1.45,1.45 0 1,0 -2.9,0M190.1,366.5a1.45,1.45 0 1,0 2.9,0a1.45,1.45 0 1,0 -2.9,0M191.6,366.5a1.45,1.45 0 1,0 2.9,0a1.45,1.45 0 1,0 -2.9,0M193.1,364.6a1.45,1.45 0 1,0 2.9,0a1.45,1.45 0 1,0 -2.9,0M194.6,362.1a1.45,1.45 0 1,0 2.9,0a1.45,1.45 0 1,0 -2.9,0M196.1,362.4a1.45,1.45 0 1,0 2.9,0a1.45,1.45 0 1,0 -2.9,0M197.6,363.4a1.45,1.45 0 1,0 2.9,0a1.45,1.45 0 1,0 -2.9,0M199.1,362.9a1.45,1.45 0 1,0 2.9,0a1.45,1.45 0 1,0 -2.9,0M200.6,363.0a1.45,1.45 0 1,0 2.9,0a1.45,1.45 0 1,0 -2.9,0M202.1,363.5a1.45,1.45 0 1,0 2.9,0a1.45,1.45 0 1,0 -2.9,0M203.6,365.5a1.45,1.45 0 1,0 2.9,0a1.45,1.45 0 1,0 -2.9,0M205.1,367.0a1.45,1.45 0 1,0 2.9,0a1.45,1.45 0 1,0 -2.9,0M206.6,369.1a1.45,1.45 0 1,0 2.9,0a1.45,1.45 0 1,0 -2.9,0M208.1,371.4a1.45,1.45 0 1,0 2.9,0a1.45,1.45 0 1,0 -2.9,0M209.6,373.9a1.45,1.45 0 1,0 2.9,0a1.45,1.45 0 1,0 -2.9,0M211.1,376.1a1.45,1.45 0 1,0 2.9,0a1.45,1.45 0 1,0 -2.9,0M212.6,377.4a1.45,1.45 0 1,0 2.9,0a1.45,1.45 0 1,0 -2.9,0M214.1,381.3a1.45,1.45 0 1,0 2.9,0a1.45,1.45 0 1,0 -2.9,0M215.6,383.3a1.45,1.45 0 1,0 2.9,0a1.45,1.45 0 1,0 -2.9,0M217.1,386.3a1.45,1.45 0 1,0 2.9,0a1.45,1.45 0 1,0 -2.9,0M218.6,388.6a1.45,1.45 0 1,0 2.9,0a1.45,1.45 0 1,0 -2.9,0M220.1,390.4a1.45,1.45 0 1,0 2.9,0a1.45,1.45 0 1,0 -2.9,0M221.6,392.6a1.45,1.45 0 1,0 2.9,0a1.45,1.45 0 1,0 -2.9,0M223.1,395.7a1.45,1.45 0 1,0 2.9,0a1.45,1.45 0 1,0 -2.9,0M224.6,396.5a1.45,1.45 0 1,0 2.9,0a1.45,1.45 0 1,0 -2.9,0M226.1,399.1a1.45,1.45 0 1,0 2.9,0a1.45,1.45 0 1,0 -2.9,0M227.6,399.9a1.45,1.45 0 1,0 2.9,0a1.45,1.45 0 1,0 -2.9,0M229.1,400.3a1.45,1.45 0 1,0 2.9,0a1.45,1.45 0 1,0 -2.9,0M230.6,402.3a1.45,1.45 0 1,0 2.9,0a1.45,1.45 0 1,0 -2.9,0M232.1,404.9a1.45,1.45 0 1,0 2.9,0a1.45,1.45 0 1,0 -2.9,0M233.6,405.8a1.45,1.45 0 1,0 2.9,0a1.45,1.45 0 1,0 -2.9,0M235.1,405.9a1.45,1.45 0 1,0 2.9,0a1.45,1.45 0 1,0 -2.9,0M236.6,406.7a1.45,1.45 0 1,0 2.9,0a1.45,1.45 0 1,0 -2.9,0M238.1,408.2a1.45,1.45 0 1,0 2.9,0a1.45,1.45 0 1,0 -2.9,0M239.6,408.3a1.45,1.45 0 1,0 2.9,0a1.45,1.45 0 1,0 -2.9,0M241.1,408.3a1.45,1.45 0 1,0 2.9,0a1.45,1.45 0 1,0 -2.9,0M242.6,409.5a1.45,1.45 0 1,0 2.9,0a1.45,1.45 0 1,0 -2.9,0M244.1,409.2a1.45,1.45 0 1,0 2.9,0a1.45,1.45 0 1,0 -2.9,0M245.6,408.9a1.45,1.45 0 1,0 2.9,0a1.45,1.45 0 1,0 -2.9,0M247.1,409.1a1.45,1.45 0 1,0 2.9,0a1.45,1.45 0 1,0 -2.9,0M248.6,409.0a1.45,1.45 0 1,0 2.9,0a1.45,1.45 0 1,0 -2.9,0M250.1,411.6a1.45,1.45 0 1,0 2.9,0a1.45,1.45 0 1,0 -2.9,0M251.6,410.4a1.45,1.45 0 1,0 2.9,0a1.45,1.45 0 1,0 -2.9,0M253.1,411.3a1.45,1.45 0 1,0 2.9,0a1.45,1.45 0 1,0 -2.9,0M254.6,410.5a1.45,1.45 0 1,0 2.9,0a1.45,1.45 0 1,0 -2.9,0M256.1,410.5a1.45,1.45 0 1,0 2.9,0a1.45,1.45 0 1,0 -2.9,0M257.6,410.6a1.45,1.45 0 1,0 2.9,0a1.45,1.45 0 1,0 -2.9,0M259.1,410.7a1.45,1.45 0 1,0 2.9,0a1.45,1.45 0 1,0 -2.9,0M260.6,409.8a1.45,1.45 0 1,0 2.9,0a1.45,1.45 0 1,0 -2.9,0M262.1,410.6a1.45,1.45 0 1,0 2.9,0a1.45,1.45 0 1,0 -2.9,0M263.6,411.2a1.45,1.45 0 1,0 2.9,0a1.45,1.45 0 1,0 -2.9,0M265.1,411.9a1.45,1.45 0 1,0 2.9,0a1.45,1.45 0 1,0 -2.9,0M266.6,410.4a1.45,1.45 0 1,0 2.9,0a1.45,1.45 0 1,0 -2.9,0M268.1,410.9a1.45,1.45 0 1,0 2.9,0a1.45,1.45 0 1,0 -2.9,0M269.6,411.1a1.45,1.45 0 1,0 2.9,0a1.45,1.45 0 1,0 -2.9,0M271.1,411.6a1.45,1.45 0 1,0 2.9,0a1.45,1.45 0 1,0 -2.9,0M272.6,411.0a1.45,1.45 0 1,0 2.9,0a1.45,1.45 0 1,0 -2.9,0M274.1,410.6a1.45,1.45 0 1,0 2.9,0a1.45,1.45 0 1,0 -2.9,0M275.6,411.8a1.45,1.45 0 1,0 2.9,0a1.45,1.45 0 1,0 -2.9,0M277.1,411.0a1.45,1.45 0 1,0 2.9,0a1.45,1.45 0 1,0 -2.9,0M278.6,410.9a1.45,1.45 0 1,0 2.9,0a1.45,1.45 0 1,0 -2.9,0M280.1,412.5a1.45,1.45 0 1,0 2.9,0a1.45,1.45 0 1,0 -2.9,0M281.6,410.0a1.45,1.45 0 1,0 2.9,0a1.45,1.45 0 1,0 -2.9,0M283.1,410.9a1.45,1.45 0 1,0 2.9,0a1.45,1.45 0 1,0 -2.9,0M284.6,410.3a1.45,1.45 0 1,0 2.9,0a1.45,1.45 0 1,0 -2.9,0M286.1,411.8a1.45,1.45 0 1,0 2.9,0a1.45,1.45 0 1,0 -2.9,0M287.6,410.4a1.45,1.45 0 1,0 2.9,0a1.45,1.45 0 1,0 -2.9,0M289.1,411.1a1.45,1.45 0 1,0 2.9,0a1.45,1.45 0 1,0 -2.9,0M290.6,411.2a1.45,1.45 0 1,0 2.9,0a1.45,1.45 0 1,0 -2.9,0M292.1,410.8a1.45,1.45 0 1,0 2.9,0a1.45,1.45 0 1,0 -2.9,0M293.6,410.9a1.45,1.45 0 1,0 2.9,0a1.45,1.45 0 1,0 -2.9,0M295.1,410.8a1.45,1.45 0 1,0 2.9,0a1.45,1.45 0 1,0 -2.9,0M296.6,410.6a1.45,1.45 0 1,0 2.9,0a1.45,1.45 0 1,0 -2.9,0M298.1,410.5a1.45,1.45 0 1,0 2.9,0a1.45,1.45 0 1,0 -2.9,0M299.6,411.2a1.45,1.45 0 1,0 2.9,0a1.45,1.45 0 1,0 -2.9,0M301.1,410.9a1.45,1.45 0 1,0 2.9,0a1.45,1.45 0 1,0 -2.9,0M302.6,410.5a1.45,1.45 0 1,0 2.9,0a1.45,1.45 0 1,0 -2.9,0M304.1,410.8a1.45,1.45 0 1,0 2.9,0a1.45,1.45 0 1,0 -2.9,0M305.6,412.3a1.45,1.45 0 1,0 2.9,0a1.45,1.45 0 1,0 -2.9,0M307.1,410.4a1.45,1.45 0 1,0 2.9,0a1.45,1.45 0 1,0 -2.9,0M308.6,410.8a1.45,1.45 0 1,0 2.9,0a1.45,1.45 0 1,0 -2.9,0M310.1,410.8a1.45,1.45 0 1,0 2.9,0a1.45,1.45 0 1,0 -2.9,0M311.6,411.1a1.45,1.45 0 1,0 2.9,0a1.45,1.45 0 1,0 -2.9,0M313.1,411.6a1.45,1.45 0 1,0 2.9,0a1.45,1.45 0 1,0 -2.9,0M314.6,410.8a1.45,1.45 0 1,0 2.9,0a1.45,1.45 0 1,0 -2.9,0M316.1,411.3a1.45,1.45 0 1,0 2.9,0a1.45,1.45 0 1,0 -2.9,0M317.6,411.5a1.45,1.45 0 1,0 2.9,0a1.45,1.45 0 1,0 -2.9,0M319.1,412.2a1.45,1.45 0 1,0 2.9,0a1.45,1.45 0 1,0 -2.9,0M320.6,410.9a1.45,1.45 0 1,0 2.9,0a1.45,1.45 0 1,0 -2.9,0M322.1,410.8a1.45,1.45 0 1,0 2.9,0a1.45,1.45 0 1,0 -2.9,0M323.6,411.7a1.45,1.45 0 1,0 2.9,0a1.45,1.45 0 1,0 -2.9,0M325.1,411.2a1.45,1.45 0 1,0 2.9,0a1.45,1.45 0 1,0 -2.9,0M326.6,411.0a1.45,1.45 0 1,0 2.9,0a1.45,1.45 0 1,0 -2.9,0M328.1,411.1a1.45,1.45 0 1,0 2.9,0a1.45,1.45 0 1,0 -2.9,0M329.6,412.1a1.45,1.45 0 1,0 2.9,0a1.45,1.45 0 1,0 -2.9,0" fill="none" stroke="#6a6a6a" stroke-width="1.0"/>
<line x1="120" y1="487.1" x2="255" y2="488.2" stroke="#d65a5a" stroke-width="1.0" />
<polyline points="110,486.94 110.7,486.93 111.4,486.92 112.1,486.91 112.8,486.9 113.5,486.89 114.2,486.87 114.9,486.86 115.6,486.84 116.3,486.81 117,486.79 117.7,486.76 118.4,486.72 119.1,486.68 119.8,486.64 120.5,486.59 121.2,486.53 121.9,486.47 122.6,486.41 123.3,486.33 124,486.25 124.7,486.16 125.4,486.06 126.1,485.95 126.8,485.83 127.5,485.7 128.2,485.56 128.9,485.41 129.6,485.24 130.3,485.07 131,484.87 131.7,484.67 132.4,484.44 133.1,484.2 133.8,483.95 134.5,483.67 135.2,483.38 135.9,483.07 136.6,482.74 137.3,482.4 138,482.03 138.7,481.64 139.4,481.23 140.1,480.8 140.8,480.35 141.5,479.87 142.2,479.38 142.9,478.86 143.6,478.33 144.3,477.77 145,477.19 145.7,476.6 146.4,475.98 147.1,475.35 147.8,474.7 148.5,474.04 149.2,473.36 149.9,472.67 150.6,471.96 151.3,471.25 152,470.53 152.7,469.8 153.4,469.07 154.1,468.33 154.8,467.6 155.5,466.87 156.2,466.14 156.9,465.42 157.6,464.71 158.3,464.01 159,463.32 159.7,462.66 160.4,462.01 161.1,461.38 161.8,460.78 162.5,460.21 163.2,459.66 163.9,459.15 164.6,458.67 165.3,458.23 166,457.83 166.7,457.46 167.4,457.14 168.1,456.86 168.8,456.62 169.5,456.43 170.2,456.28 170.9,456.18 171.6,456.13 172.3,456.13 173,456.17 173.7,456.26 174.4,456.4 175.1,456.58 175.8,456.81 176.5,457.08 177.2,457.4 177.9,457.76 178.6,458.16 179.3,458.6 180,459.07 180.7,459.58 181.4,460.12 182.1,460.7 182.8,461.3 183.5,461.92 184.2,462.57 184.9,463.24 185.6,463.93 186.3,464.64 187,465.35 187.7,466.08 188.4,466.82 189.1,467.56 189.8,468.31 190.5,469.05 191.2,469.8 191.9,470.54 192.6,471.28 193.3,472 194,472.72 194.7,473.43 195.4,474.13 196.1,474.81 196.8,475.48 197.5,476.13 198.2,476.76 198.9,477.38 199.6,477.97 200.3,478.55 201,479.11 201.7,479.64 202.4,480.16 203.1,480.65 203.8,481.12 204.5,481.57 205.2,482 205.9,482.41 206.6,482.8 207.3,483.17 208,483.52 208.7,483.85 209.4,484.16 210.1,484.45 210.8,484.73 211.5,484.98 212.2,485.23 212.9,485.45 213.6,485.66 214.3,485.86 215,486.04 215.7,486.21 216.4,486.37 217.1,486.51 217.8,486.65 218.5,486.77 219.2,486.88 219.9,486.99 220.6,487.09 221.3,487.18 222,487.26 222.7,487.33 223.4,487.4 224.1,487.46 224.8,487.52 225.5,487.57 226.2,487.62 226.9,487.67 227.6,487.71 228.3,487.74 229,487.78 229.7,487.81 230.4,487.83 231.1,487.86 231.8,487.88 232.5,487.9 233.2,487.92 233.9,487.94 234.6,487.96 235.3,487.97 236,487.99 236.7,488 237.4,488.01 238.1,488.02 238.8,488.04 239.5,488.05 240.2,488.05 240.9,488.06 241.6,488.07 242.3,488.08 243,488.09 243.7,488.1 244.4,488.1 245.1,488.11 245.8,488.12 246.5,488.12 247.2,488.13" fill="none" stroke="#4068e0" stroke-width="1.35" stroke-linejoin="round" stroke-linecap="round" />
<polyline points="122,487.11 122.7,487.11 123.4,487.12 124.1,487.12 124.8,487.13 125.5,487.13 126.2,487.13 126.9,487.13 127.6,487.13 128.3,487.14 129,487.14 129.7,487.14 130.4,487.13 131.1,487.13 131.8,487.13 132.5,487.12 133.2,487.12 133.9,487.11 134.6,487.1 135.3,487.08 136,487.07 136.7,487.05 137.4,487.03 138.1,487 138.8,486.98 139.5,486.94 140.2,486.9 140.9,486.86 141.6,486.81 142.3,486.75 143,486.69 143.7,486.62 144.4,486.54 145.1,486.45 145.8,486.35 146.5,486.24 147.2,486.12 147.9,485.98 148.6,485.83 149.3,485.67 150,485.49 150.7,485.29 151.4,485.07 152.1,484.84 152.8,484.58 153.5,484.3 154.2,484 154.9,483.67 155.6,483.31 156.3,482.93 157,482.52 157.7,482.08 158.4,481.61 159.1,481.11 159.8,480.57 160.5,480.01 161.2,479.4 161.9,478.76 162.6,478.09 163.3,477.38 164,476.63 164.7,475.85 165.4,475.03 166.1,474.17 166.8,473.28 167.5,472.35 168.2,471.39 168.9,470.4 169.6,469.38 170.3,468.32 171,467.24 171.7,466.14 172.4,465.01 173.1,463.86 173.8,462.69 174.5,461.51 175.2,460.32 175.9,459.12 176.6,457.92 177.3,456.72 178,455.53 178.7,454.34 179.4,453.17 180.1,452.02 180.8,450.9 181.5,449.8 182.2,448.73 182.9,447.7 183.6,446.71 184.3,445.77 185,444.88 185.7,444.04 186.4,443.27 187.1,442.55 187.8,441.9 188.5,441.32 189.2,440.82 189.9,440.38 190.6,440.03 191.3,439.75 192,439.55 192.7,439.43 193.4,439.4 194.1,439.44 194.8,439.57 195.5,439.78 196.2,440.07 196.9,440.44 197.6,440.88 198.3,441.4 199,441.99 199.7,442.65 200.4,443.38 201.1,444.17 201.8,445.02 202.5,445.92 203.2,446.87 203.9,447.87 204.6,448.91 205.3,449.99 206,451.1 206.7,452.24 207.4,453.4 208.1,454.58 208.8,455.78 209.5,456.98 210.2,458.19 210.9,459.41 211.6,460.62 212.3,461.82 213,463.01 213.7,464.19 214.4,465.35 215.1,466.49 215.8,467.61 216.5,468.7 217.2,469.76 217.9,470.8 218.6,471.8 219.3,472.78 220,473.71 220.7,474.62 221.4,475.48 222.1,476.32 222.8,477.11 223.5,477.87 224.2,478.59 224.9,479.28 225.6,479.93 226.3,480.54 227,481.12 227.7,481.67 228.4,482.18 229.1,482.66 229.8,483.11 230.5,483.54 231.2,483.93 231.9,484.29 232.6,484.63 233.3,484.95 234,485.24 234.7,485.51 235.4,485.76 236.1,485.99 236.8,486.2 237.5,486.39 238.2,486.56 238.9,486.72 239.6,486.87 240.3,487.01 241,487.13 241.7,487.24 242.4,487.34 243.1,487.43 243.8,487.51 244.5,487.59 245.2,487.65 245.9,487.72 246.6,487.77 247.3,487.82 248,487.87 248.7,487.91 249.4,487.94 250.1,487.97 250.8,488 251.5,488.03 252.2,488.06 252.9,488.08 253.6,488.1 254.3,488.12 255,488.13 255.7,488.15 256.4,488.16 257.1,488.17 257.8,488.19 258.5,488.2 259.2,488.21 259.9,488.22" fill="none" stroke="#4068e0" stroke-width="1.35" stroke-linejoin="round" stroke-linecap="round" />
<polyline points="120.11,485.79 120.44,485.69 120.77,485.59 121.11,485.48 121.47,485.37 121.84,485.26 122.23,485.15 122.65,485.02 123.1,484.9 123.65,484.75 124.19,484.59 124.73,484.44 125.26,484.28 125.79,484.11 126.31,483.95 126.83,483.77 127.35,483.6 127.86,483.42 128.37,483.23 128.88,483.04 129.37,482.84 129.87,482.64 130.36,482.43 130.84,482.21 131.32,481.99 131.8,481.76 132.27,481.52 132.73,481.28 133.19,481.03 133.65,480.77 134.1,480.5 134.67,480.15 135.23,479.79 135.77,479.42 136.3,479.05 136.82,478.67 137.34,478.28 137.84,477.88 138.34,477.46 138.83,477.03 139.33,476.59 139.81,476.13 140.3,475.64 140.79,475.14 141.29,474.62 141.79,474.07 142.29,473.5 142.8,472.9 143.32,472.27 143.84,471.6 144.38,470.9 144.91,470.18 145.45,469.42 145.99,468.65 146.53,467.86 147.06,467.05 147.6,466.23 148.13,465.41 148.65,464.58 149.17,463.75 149.68,462.92 150.18,462.1 150.66,461.28 151.14,460.48 151.6,459.7 152.19,458.66 152.78,457.59 153.36,456.49 153.94,455.37 154.5,454.25 155.05,453.14 155.57,452.04 156.08,450.99 156.57,449.97 157.02,449.01 157.45,448.12 157.84,447.32 158.2,446.6 159.01,445.02 159.44,444.19 159.81,443.52 160.4,442.4 160.84,441.56 161.33,440.61 161.86,439.57 162.42,438.49 163,437.38 163.58,436.27 164.15,435.2 164.7,434.2 165.24,433.25 165.77,432.33 166.3,431.43 166.84,430.54 167.37,429.66 167.91,428.78 168.45,427.89 169,427 169.48,426.19 169.95,425.35 170.41,424.5 170.87,423.66 171.34,422.82 171.84,422.01 172.36,421.23 172.91,420.49 173.5,419.8 173.94,419.35 174.4,418.91 174.88,418.49 175.38,418.07 175.89,417.68 176.41,417.3 176.94,416.93 177.47,416.59 178.01,416.26 178.54,415.96 179.07,415.68 179.59,415.43 180.1,415.2 180.61,415 181.13,414.83 181.65,414.68 182.18,414.56 182.7,414.46 183.23,414.38 183.75,414.31 184.26,414.27 184.76,414.23 185.25,414.21 185.72,414.2 186.17,414.2 186.6,414.2 187.25,414.2 187.85,414.2 188.4,414.22 188.93,414.28 189.44,414.4 189.95,414.6 190.46,414.89 191,415.3 191.55,415.85 192.1,416.52 192.65,417.29 193.2,418.14 193.75,419.04 194.3,419.97 194.85,420.9 195.4,421.8 195.95,422.69 196.5,423.59 197.05,424.52 197.6,425.46 198.15,426.41 198.7,427.39 199.25,428.39 199.8,429.4 200.34,430.39 200.85,431.34 201.36,432.29 201.87,433.27 202.4,434.31 202.95,435.46 203.55,436.74 204.2,438.2 204.63,439.21 205.08,440.3 205.55,441.48 206.04,442.71 206.54,444 207.05,445.31 207.57,446.65 208.1,447.99 208.62,449.33 209.15,450.64 209.67,451.92 210.19,453.14 210.7,454.3 211.21,455.42 211.72,456.53 212.23,457.63 212.75,458.72 213.27,459.78 213.79,460.83 214.31,461.86 214.82,462.86 215.33,463.84 215.84,464.78 216.33,465.69 216.82,466.56 217.3,467.4 217.85,468.34 218.37,469.23 218.88,470.08 219.38,470.88 219.88,471.65 220.37,472.37 220.87,473.06 221.38,473.71 221.9,474.34 222.44,474.93 223,475.5 223.46,475.92 223.93,476.3 224.41,476.65 224.91,476.97 225.4,477.27 225.91,477.55 226.42,477.81 226.93,478.07 227.45,478.31 227.96,478.56 228.48,478.81 228.99,479.06 229.5,479.32 230,479.6 230.5,479.89 230.99,480.18 231.48,480.47 231.97,480.76 232.46,481.05 232.95,481.34 233.44,481.62 233.93,481.91 234.43,482.19 234.93,482.46 235.43,482.73 235.95,483 236.47,483.25 237,483.5 237.47,483.71 237.95,483.92 238.42,484.13 238.91,484.33 239.39,484.53 239.88,484.73 240.38,484.92 240.88,485.11 241.38,485.3 241.88,485.47 242.39,485.65 242.91,485.81 243.42,485.97 243.95,486.12 244.47,486.26 245,486.4 245.48,486.51 245.96,486.62 246.45,486.72 246.95,486.81 247.46,486.9 247.96,486.98 248.47,487.06 248.99,487.13 249.5,487.2 250.01,487.26 250.53,487.33 251.04,487.39 251.54,487.44 252.05,487.5 252.55,487.55 253.04,487.6 253.52,487.65 254,487.7 254.42,487.75 254.63,487.8 254.69,487.83 254.64,487.86 254.53,487.89 254.39,487.92 254.29,487.94 254.25,487.96 254.33,487.98 254.58,488" fill="none" stroke="#d86060" stroke-width="0.9" stroke-linejoin="round" stroke-linecap="round" />
<path d="M29.6,486.8a1.45,1.45 0 1,0 2.9,0a1.45,1.45 0 1,0 -2.9,0M31.1,487.5a1.45,1.45 0 1,0 2.9,0a1.45,1.45 0 1,0 -2.9,0M32.5,488.5a1.45,1.45 0 1,0 2.9,0a1.45,1.45 0 1,0 -2.9,0M34.0,487.8a1.45,1.45 0 1,0 2.9,0a1.45,1.45 0 1,0 -2.9,0M35.5,487.2a1.45,1.45 0 1,0 2.9,0a1.45,1.45 0 1,0 -2.9,0M37.0,487.4a1.45,1.45 0 1,0 2.9,0a1.45,1.45 0 1,0 -2.9,0M38.5,488.2a1.45,1.45 0 1,0 2.9,0a1.45,1.45 0 1,0 -2.9,0M40.0,487.9a1.45,1.45 0 1,0 2.9,0a1.45,1.45 0 1,0 -2.9,0M41.5,487.5a1.45,1.45 0 1,0 2.9,0a1.45,1.45 0 1,0 -2.9,0M43.0,487.4a1.45,1.45 0 1,0 2.9,0a1.45,1.45 0 1,0 -2.9,0M44.5,487.1a1.45,1.45 0 1,0 2.9,0a1.45,1.45 0 1,0 -2.9,0M46.0,487.0a1.45,1.45 0 1,0 2.9,0a1.45,1.45 0 1,0 -2.9,0M47.5,488.0a1.45,1.45 0 1,0 2.9,0a1.45,1.45 0 1,0 -2.9,0M49.0,488.0a1.45,1.45 0 1,0 2.9,0a1.45,1.45 0 1,0 -2.9,0M50.5,487.5a1.45,1.45 0 1,0 2.9,0a1.45,1.45 0 1,0 -2.9,0M52.0,488.2a1.45,1.45 0 1,0 2.9,0a1.45,1.45 0 1,0 -2.9,0M53.5,487.4a1.45,1.45 0 1,0 2.9,0a1.45,1.45 0 1,0 -2.9,0M55.0,488.0a1.45,1.45 0 1,0 2.9,0a1.45,1.45 0 1,0 -2.9,0M56.5,486.7a1.45,1.45 0 1,0 2.9,0a1.45,1.45 0 1,0 -2.9,0M58.0,488.3a1.45,1.45 0 1,0 2.9,0a1.45,1.45 0 1,0 -2.9,0M59.5,488.8a1.45,1.45 0 1,0 2.9,0a1.45,1.45 0 1,0 -2.9,0M61.0,488.3a1.45,1.45 0 1,0 2.9,0a1.45,1.45 0 1,0 -2.9,0M62.5,487.8a1.45,1.45 0 1,0 2.9,0a1.45,1.45 0 1,0 -2.9,0M64.0,488.1a1.45,1.45 0 1,0 2.9,0a1.45,1.45 0 1,0 -2.9,0M65.5,487.9a1.45,1.45 0 1,0 2.9,0a1.45,1.45 0 1,0 -2.9,0M67.0,487.9a1.45,1.45 0 1,0 2.9,0a1.45,1.45 0 1,0 -2.9,0M68.5,487.8a1.45,1.45 0 1,0 2.9,0a1.45,1.45 0 1,0 -2.9,0M70.0,488.1a1.45,1.45 0 1,0 2.9,0a1.45,1.45 0 1,0 -2.9,0M71.5,487.6a1.45,1.45 0 1,0 2.9,0a1.45,1.45 0 1,0 -2.9,0M73.0,487.7a1.45,1.45 0 1,0 2.9,0a1.45,1.45 0 1,0 -2.9,0M74.5,487.5a1.45,1.45 0 1,0 2.9,0a1.45,1.45 0 1,0 -2.9,0M76.0,488.2a1.45,1.45 0 1,0 2.9,0a1.45,1.45 0 1,0 -2.9,0M77.5,488.5a1.45,1.45 0 1,0 2.9,0a1.45,1.45 0 1,0 -2.9,0M79.0,488.1a1.45,1.45 0 1,0 2.9,0a1.45,1.45 0 1,0 -2.9,0M80.5,488.0a1.45,1.45 0 1,0 2.9,0a1.45,1.45 0 1,0 -2.9,0M82.0,488.5a1.45,1.45 0 1,0 2.9,0a1.45,1.45 0 1,0 -2.9,0M83.5,487.3a1.45,1.45 0 1,0 2.9,0a1.45,1.45 0 1,0 -2.9,0M85.0,488.8a1.45,1.45 0 1,0 2.9,0a1.45,1.45 0 1,0 -2.9,0M86.5,486.6a1.45,1.45 0 1,0 2.9,0a1.45,1.45 0 1,0 -2.9,0M88.0,488.0a1.45,1.45 0 1,0 2.9,0a1.45,1.45 0 1,0 -2.9,0M89.5,487.7a1.45,1.45 0 1,0 2.9,0a1.45,1.45 0 1,0 -2.9,0M91.0,487.8a1.45,1.45 0 1,0 2.9,0a1.45,1.45 0 1,0 -2.9,0M92.5,486.8a1.45,1.45 0 1,0 2.9,0a1.45,1.45 0 1,0 -2.9,0M94.0,488.2a1.45,1.45 0 1,0 2.9,0a1.45,1.45 0 1,0 -2.9,0M95.5,487.7a1.45,1.45 0 1,0 2.9,0a1.45,1.45 0 1,0 -2.9,0M97.0,487.5a1.45,1.45 0 1,0 2.9,0a1.45,1.45 0 1,0 -2.9,0M98.5,488.0a1.45,1.45 0 1,0 2.9,0a1.45,1.45 0 1,0 -2.9,0M100.0,487.5a1.45,1.45 0 1,0 2.9,0a1.45,1.45 0 1,0 -2.9,0M101.5,487.4a1.45,1.45 0 1,0 2.9,0a1.45,1.45 0 1,0 -2.9,0M103.0,487.8a1.45,1.45 0 1,0 2.9,0a1.45,1.45 0 1,0 -2.9,0M104.5,487.2a1.45,1.45 0 1,0 2.9,0a1.45,1.45 0 1,0 -2.9,0M106.0,487.4a1.45,1.45 0 1,0 2.9,0a1.45,1.45 0 1,0 -2.9,0M107.5,487.0a1.45,1.45 0 1,0 2.9,0a1.45,1.45 0 1,0 -2.9,0M109.0,486.8a1.45,1.45 0 1,0 2.9,0a1.45,1.45 0 1,0 -2.9,0M110.5,487.0a1.45,1.45 0 1,0 2.9,0a1.45,1.45 0 1,0 -2.9,0M112.0,486.6a1.45,1.45 0 1,0 2.9,0a1.45,1.45 0 1,0 -2.9,0M113.5,486.9a1.45,1.45 0 1,0 2.9,0a1.45,1.45 0 1,0 -2.9,0M115.0,486.4a1.45,1.45 0 1,0 2.9,0a1.45,1.45 0 1,0 -2.9,0M116.5,486.0a1.45,1.45 0 1,0 2.9,0a1.45,1.45 0 1,0 -2.9,0M118.0,485.9a1.45,1.45 0 1,0 2.9,0a1.45,1.45 0 1,0 -2.9,0M119.5,484.9a1.45,1.45 0 1,0 2.9,0a1.45,1.45 0 1,0 -2.9,0M121.0,485.5a1.45,1.45 0 1,0 2.9,0a1.45,1.45 0 1,0 -2.9,0M122.5,485.0a1.45,1.45 0 1,0 2.9,0a1.45,1.45 0 1,0 -2.9,0M124.0,483.0a1.45,1.45 0 1,0 2.9,0a1.45,1.45 0 1,0 -2.9,0M125.5,483.7a1.45,1.45 0 1,0 2.9,0a1.45,1.45 0 1,0 -2.9,0M127.0,483.0a1.45,1.45 0 1,0 2.9,0a1.45,1.45 0 1,0 -2.9,0M128.6,482.9a1.45,1.45 0 1,0 2.9,0a1.45,1.45 0 1,0 -2.9,0M130.1,483.0a1.45,1.45 0 1,0 2.9,0a1.45,1.45 0 1,0 -2.9,0M131.6,480.9a1.45,1.45 0 1,0 2.9,0a1.45,1.45 0 1,0 -2.9,0M133.1,480.2a1.45,1.45 0 1,0 2.9,0a1.45,1.45 0 1,0 -2.9,0M134.6,478.8a1.45,1.45 0 1,0 2.9,0a1.45,1.45 0 1,0 -2.9,0M136.1,478.3a1.45,1.45 0 1,0 2.9,0a1.45,1.45 0 1,0 -2.9,0M137.6,477.3a1.45,1.45 0 1,0 2.9,0a1.45,1.45 0 1,0 -2.9,0M139.1,475.6a1.45,1.45 0 1,0 2.9,0a1.45,1.45 0 1,0 -2.9,0M140.6,473.9a1.45,1.45 0 1,0 2.9,0a1.45,1.45 0 1,0 -2.9,0M142.1,471.5a1.45,1.45 0 1,0 2.9,0a1.45,1.45 0 1,0 -2.9,0M143.6,470.0a1.45,1.45 0 1,0 2.9,0a1.45,1.45 0 1,0 -2.9,0M145.1,467.4a1.45,1.45 0 1,0 2.9,0a1.45,1.45 0 1,0 -2.9,0M146.6,465.4a1.45,1.45 0 1,0 2.9,0a1.45,1.45 0 1,0 -2.9,0M148.1,464.0a1.45,1.45 0 1,0 2.9,0a1.45,1.45 0 1,0 -2.9,0M149.6,460.8a1.45,1.45 0 1,0 2.9,0a1.45,1.45 0 1,0 -2.9,0M151.1,457.7a1.45,1.45 0 1,0 2.9,0a1.45,1.45 0 1,0 -2.9,0M152.6,454.7a1.45,1.45 0 1,0 2.9,0a1.45,1.45 0 1,0 -2.9,0M154.1,451.4a1.45,1.45 0 1,0 2.9,0a1.45,1.45 0 1,0 -2.9,0M155.6,448.8a1.45,1.45 0 1,0 2.9,0a1.45,1.45 0 1,0 -2.9,0M157.1,447.1a1.45,1.45 0 1,0 2.9,0a1.45,1.45 0 1,0 -2.9,0M158.6,443.0a1.45,1.45 0 1,0 2.9,0a1.45,1.45 0 1,0 -2.9,0M160.1,440.2a1.45,1.45 0 1,0 2.9,0a1.45,1.45 0 1,0 -2.9,0M161.6,436.8a1.45,1.45 0 1,0 2.9,0a1.45,1.45 0 1,0 -2.9,0M163.1,434.3a1.45,1.45 0 1,0 2.9,0a1.45,1.45 0 1,0 -2.9,0M164.6,432.5a1.45,1.45 0 1,0 2.9,0a1.45,1.45 0 1,0 -2.9,0M166.1,430.0a1.45,1.45 0 1,0 2.9,0a1.45,1.45 0 1,0 -2.9,0M167.6,426.9a1.45,1.45 0 1,0 2.9,0a1.45,1.45 0 1,0 -2.9,0M169.1,423.9a1.45,1.45 0 1,0 2.9,0a1.45,1.45 0 1,0 -2.9,0M170.6,422.1a1.45,1.45 0 1,0 2.9,0a1.45,1.45 0 1,0 -2.9,0M172.1,421.0a1.45,1.45 0 1,0 2.9,0a1.45,1.45 0 1,0 -2.9,0M173.6,419.9a1.45,1.45 0 1,0 2.9,0a1.45,1.45 0 1,0 -2.9,0M175.1,418.0a1.45,1.45 0 1,0 2.9,0a1.45,1.45 0 1,0 -2.9,0M176.6,416.3a1.45,1.45 0 1,0 2.9,0a1.45,1.45 0 1,0 -2.9,0M178.1,415.8a1.45,1.45 0 1,0 2.9,0a1.45,1.45 0 1,0 -2.9,0M179.6,414.7a1.45,1.45 0 1,0 2.9,0a1.45,1.45 0 1,0 -2.9,0M181.1,414.1a1.45,1.45 0 1,0 2.9,0a1.45,1.45 0 1,0 -2.9,0M182.6,413.9a1.45,1.45 0 1,0 2.9,0a1.45,1.45 0 1,0 -2.9,0M184.1,414.2a1.45,1.45 0 1,0 2.9,0a1.45,1.45 0 1,0 -2.9,0M185.6,414.6a1.45,1.45 0 1,0 2.9,0a1.45,1.45 0 1,0 -2.9,0M187.1,415.0a1.45,1.45 0 1,0 2.9,0a1.45,1.45 0 1,0 -2.9,0M188.6,415.3a1.45,1.45 0 1,0 2.9,0a1.45,1.45 0 1,0 -2.9,0M190.1,416.0a1.45,1.45 0 1,0 2.9,0a1.45,1.45 0 1,0 -2.9,0M191.6,416.7a1.45,1.45 0 1,0 2.9,0a1.45,1.45 0 1,0 -2.9,0M193.1,421.1a1.45,1.45 0 1,0 2.9,0a1.45,1.45 0 1,0 -2.9,0M194.6,423.0a1.45,1.45 0 1,0 2.9,0a1.45,1.45 0 1,0 -2.9,0M196.1,424.9a1.45,1.45 0 1,0 2.9,0a1.45,1.45 0 1,0 -2.9,0M197.6,428.6a1.45,1.45 0 1,0 2.9,0a1.45,1.45 0 1,0 -2.9,0M199.1,430.2a1.45,1.45 0 1,0 2.9,0a1.45,1.45 0 1,0 -2.9,0M200.6,433.4a1.45,1.45 0 1,0 2.9,0a1.45,1.45 0 1,0 -2.9,0M202.1,436.7a1.45,1.45 0 1,0 2.9,0a1.45,1.45 0 1,0 -2.9,0M203.6,440.1a1.45,1.45 0 1,0 2.9,0a1.45,1.45 0 1,0 -2.9,0M205.1,443.9a1.45,1.45 0 1,0 2.9,0a1.45,1.45 0 1,0 -2.9,0M206.6,446.7a1.45,1.45 0 1,0 2.9,0a1.45,1.45 0 1,0 -2.9,0M208.1,450.8a1.45,1.45 0 1,0 2.9,0a1.45,1.45 0 1,0 -2.9,0M209.6,454.9a1.45,1.45 0 1,0 2.9,0a1.45,1.45 0 1,0 -2.9,0M211.1,458.6a1.45,1.45 0 1,0 2.9,0a1.45,1.45 0 1,0 -2.9,0M212.6,461.2a1.45,1.45 0 1,0 2.9,0a1.45,1.45 0 1,0 -2.9,0M214.1,463.5a1.45,1.45 0 1,0 2.9,0a1.45,1.45 0 1,0 -2.9,0M215.6,466.2a1.45,1.45 0 1,0 2.9,0a1.45,1.45 0 1,0 -2.9,0M217.1,468.8a1.45,1.45 0 1,0 2.9,0a1.45,1.45 0 1,0 -2.9,0M218.6,472.4a1.45,1.45 0 1,0 2.9,0a1.45,1.45 0 1,0 -2.9,0M220.1,473.3a1.45,1.45 0 1,0 2.9,0a1.45,1.45 0 1,0 -2.9,0M221.6,475.9a1.45,1.45 0 1,0 2.9,0a1.45,1.45 0 1,0 -2.9,0M223.1,476.1a1.45,1.45 0 1,0 2.9,0a1.45,1.45 0 1,0 -2.9,0M224.6,477.1a1.45,1.45 0 1,0 2.9,0a1.45,1.45 0 1,0 -2.9,0M226.1,478.0a1.45,1.45 0 1,0 2.9,0a1.45,1.45 0 1,0 -2.9,0M227.6,479.8a1.45,1.45 0 1,0 2.9,0a1.45,1.45 0 1,0 -2.9,0M229.1,479.5a1.45,1.45 0 1,0 2.9,0a1.45,1.45 0 1,0 -2.9,0M230.6,480.7a1.45,1.45 0 1,0 2.9,0a1.45,1.45 0 1,0 -2.9,0M232.1,481.3a1.45,1.45 0 1,0 2.9,0a1.45,1.45 0 1,0 -2.9,0M233.6,482.2a1.45,1.45 0 1,0 2.9,0a1.45,1.45 0 1,0 -2.9,0M235.1,483.8a1.45,1.45 0 1,0 2.9,0a1.45,1.45 0 1,0 -2.9,0M236.6,483.6a1.45,1.45 0 1,0 2.9,0a1.45,1.45 0 1,0 -2.9,0M238.1,484.5a1.45,1.45 0 1,0 2.9,0a1.45,1.45 0 1,0 -2.9,0M239.6,484.5a1.45,1.45 0 1,0 2.9,0a1.45,1.45 0 1,0 -2.9,0M241.1,485.3a1.45,1.45 0 1,0 2.9,0a1.45,1.45 0 1,0 -2.9,0M242.6,486.2a1.45,1.45 0 1,0 2.9,0a1.45,1.45 0 1,0 -2.9,0M244.1,487.3a1.45,1.45 0 1,0 2.9,0a1.45,1.45 0 1,0 -2.9,0M245.6,487.8a1.45,1.45 0 1,0 2.9,0a1.45,1.45 0 1,0 -2.9,0M247.1,486.4a1.45,1.45 0 1,0 2.9,0a1.45,1.45 0 1,0 -2.9,0M248.6,487.1a1.45,1.45 0 1,0 2.9,0a1.45,1.45 0 1,0 -2.9,0M250.1,486.4a1.45,1.45 0 1,0 2.9,0a1.45,1.45 0 1,0 -2.9,0M251.6,487.4a1.45,1.45 0 1,0 2.9,0a1.45,1.45 0 1,0 -2.9,0M253.1,487.9a1.45,1.45 0 1,0 2.9,0a1.45,1.45 0 1,0 -2.9,0M254.6,488.4a1.45,1.45 0 1,0 2.9,0a1.45,1.45 0 1,0 -2.9,0M256.1,488.4a1.45,1.45 0 1,0 2.9,0a1.45,1.45 0 1,0 -2.9,0M257.6,487.6a1.45,1.45 0 1,0 2.9,0a1.45,1.45 0 1,0 -2.9,0M259.1,487.5a1.45,1.45 0 1,0 2.9,0a1.45,1.45 0 1,0 -2.9,0M260.6,487.4a1.45,1.45 0 1,0 2.9,0a1.45,1.45 0 1,0 -2.9,0M262.1,489.1a1.45,1.45 0 1,0 2.9,0a1.45,1.45 0 1,0 -2.9,0M263.6,487.6a1.45,1.45 0 1,0 2.9,0a1.45,1.45 0 1,0 -2.9,0M265.1,488.8a1.45,1.45 0 1,0 2.9,0a1.45,1.45 0 1,0 -2.9,0M266.6,488.5a1.45,1.45 0 1,0 2.9,0a1.45,1.45 0 1,0 -2.9,0M268.1,488.9a1.45,1.45 0 1,0 2.9,0a1.45,1.45 0 1,0 -2.9,0M269.6,487.5a1.45,1.45 0 1,0 2.9,0a1.45,1.45 0 1,0 -2.9,0M271.1,488.6a1.45,1.45 0 1,0 2.9,0a1.45,1.45 0 1,0 -2.9,0M272.6,488.7a1.45,1.45 0 1,0 2.9,0a1.45,1.45 0 1,0 -2.9,0M274.1,488.5a1.45,1.45 0 1,0 2.9,0a1.45,1.45 0 1,0 -2.9,0M275.6,488.7a1.45,1.45 0 1,0 2.9,0a1.45,1.45 0 1,0 -2.9,0M277.1,487.9a1.45,1.45 0 1,0 2.9,0a1.45,1.45 0 1,0 -2.9,0M278.6,489.3a1.45,1.45 0 1,0 2.9,0a1.45,1.45 0 1,0 -2.9,0M280.1,488.0a1.45,1.45 0 1,0 2.9,0a1.45,1.45 0 1,0 -2.9,0M281.6,488.5a1.45,1.45 0 1,0 2.9,0a1.45,1.45 0 1,0 -2.9,0M283.1,489.1a1.45,1.45 0 1,0 2.9,0a1.45,1.45 0 1,0 -2.9,0M284.6,488.9a1.45,1.45 0 1,0 2.9,0a1.45,1.45 0 1,0 -2.9,0M286.1,489.5a1.45,1.45 0 1,0 2.9,0a1.45,1.45 0 1,0 -2.9,0M287.6,488.7a1.45,1.45 0 1,0 2.9,0a1.45,1.45 0 1,0 -2.9,0M289.1,488.1a1.45,1.45 0 1,0 2.9,0a1.45,1.45 0 1,0 -2.9,0M290.6,488.9a1.45,1.45 0 1,0 2.9,0a1.45,1.45 0 1,0 -2.9,0M292.1,489.0a1.45,1.45 0 1,0 2.9,0a1.45,1.45 0 1,0 -2.9,0M293.6,487.9a1.45,1.45 0 1,0 2.9,0a1.45,1.45 0 1,0 -2.9,0M295.1,489.3a1.45,1.45 0 1,0 2.9,0a1.45,1.45 0 1,0 -2.9,0M296.6,489.5a1.45,1.45 0 1,0 2.9,0a1.45,1.45 0 1,0 -2.9,0M298.1,488.4a1.45,1.45 0 1,0 2.9,0a1.45,1.45 0 1,0 -2.9,0M299.6,489.4a1.45,1.45 0 1,0 2.9,0a1.45,1.45 0 1,0 -2.9,0M301.1,489.0a1.45,1.45 0 1,0 2.9,0a1.45,1.45 0 1,0 -2.9,0M302.6,489.5a1.45,1.45 0 1,0 2.9,0a1.45,1.45 0 1,0 -2.9,0M304.1,488.7a1.45,1.45 0 1,0 2.9,0a1.45,1.45 0 1,0 -2.9,0M305.6,489.5a1.45,1.45 0 1,0 2.9,0a1.45,1.45 0 1,0 -2.9,0M307.1,489.4a1.45,1.45 0 1,0 2.9,0a1.45,1.45 0 1,0 -2.9,0M308.6,489.1a1.45,1.45 0 1,0 2.9,0a1.45,1.45 0 1,0 -2.9,0M310.1,488.9a1.45,1.45 0 1,0 2.9,0a1.45,1.45 0 1,0 -2.9,0M311.6,489.0a1.45,1.45 0 1,0 2.9,0a1.45,1.45 0 1,0 -2.9,0M313.1,489.5a1.45,1.45 0 1,0 2.9,0a1.45,1.45 0 1,0 -2.9,0M314.6,489.9a1.45,1.45 0 1,0 2.9,0a1.45,1.45 0 1,0 -2.9,0M316.1,489.1a1.45,1.45 0 1,0 2.9,0a1.45,1.45 0 1,0 -2.9,0M317.6,489.7a1.45,1.45 0 1,0 2.9,0a1.45,1.45 0 1,0 -2.9,0M319.1,489.3a1.45,1.45 0 1,0 2.9,0a1.45,1.45 0 1,0 -2.9,0M320.6,490.3a1.45,1.45 0 1,0 2.9,0a1.45,1.45 0 1,0 -2.9,0M322.1,489.9a1.45,1.45 0 1,0 2.9,0a1.45,1.45 0 1,0 -2.9,0M323.6,489.7a1.45,1.45 0 1,0 2.9,0a1.45,1.45 0 1,0 -2.9,0M325.1,489.6a1.45,1.45 0 1,0 2.9,0a1.45,1.45 0 1,0 -2.9,0M326.6,489.1a1.45,1.45 0 1,0 2.9,0a1.45,1.45 0 1,0 -2.9,0M328.1,488.5a1.45,1.45 0 1,0 2.9,0a1.45,1.45 0 1,0 -2.9,0M329.6,489.9a1.45,1.45 0 1,0 2.9,0a1.45,1.45 0 1,0 -2.9,0" fill="none" stroke="#111" stroke-width="1.05"/>
<rect x="118.5" y="276.6" width="38.3" height="29.0" fill="#fff" stroke="#6283b5" stroke-width="1"/>
<text transform="translate(155 284.2) scale(1 1.05)" fill="#2b4a80" stroke="#2b4a80" stroke-width="0.108" font-weight="bold" text-anchor="end"><tspan font-size="9.6" font-style="italic">O</tspan><tspan font-size="8.0" font-style="italic">-C/H</tspan></text>
<text transform="translate(120.3 294.2) scale(1 1.05)" fill="#2b4a80" stroke="#2b4a80" stroke-width="0.108" font-weight="bold" text-anchor="start"><tspan font-size="7.4" font-style="italic">Si</tspan><tspan font-size="7.4" font-style="italic">-</tspan><tspan font-size="9.6" font-style="italic">O</tspan><tspan font-size="7.4" font-style="italic">-Si</tspan></text>
<text transform="translate(120.3 303.6) scale(1 1.05)" fill="#2b4a80" stroke="#2b4a80" stroke-width="0.108" font-weight="bold" text-anchor="start"><tspan font-size="7.4" font-style="italic">Si</tspan><tspan font-size="7.4" font-style="italic">-</tspan><tspan font-size="9.6" font-style="italic">O</tspan><tspan font-size="7.4" font-style="italic">-C</tspan></text>
<line x1="157.9" y1="290.3" x2="173.2" y2="295.4" stroke="#2b4a80" stroke-width="0.8" />
<text transform="translate(218 300.8) scale(1 1.05)" fill="#2b4a80" stroke="#2b4a80" stroke-width="0.108" font-weight="bold" text-anchor="start"><tspan font-size="9.6" font-style="italic">O</tspan><tspan font-size="7.4" font-style="italic">=C</tspan></text>
<line x1="216.2" y1="299.1" x2="202.5" y2="307.7" stroke="#2b4a80" stroke-width="0.8" />
<text transform="translate(32.7 351.1) scale(1 1.0)" font-size="11.5" fill="#a3a3a3" stroke="#a3a3a3" stroke-width="0.108" text-anchor="start" font-weight="bold" font-style="italic" >SG9.5/CBD/GO</text>
<text transform="translate(31.1 405.3) scale(1 1.0)" font-size="11.5" fill="#6e6e6e" stroke="#6e6e6e" stroke-width="0.108" text-anchor="start" font-weight="bold" font-style="italic" >SG9.5/GO</text>
<text transform="translate(31.3 483.1) scale(1 1.0)" font-size="11.5" fill="#111" stroke="#111" stroke-width="0.108" text-anchor="start" font-weight="bold" font-style="italic" >SG9.5</text>
<line x1="476.9" y1="355.7" x2="586.4" y2="357.9" stroke="#d65a5a" stroke-width="1.0" />
<line x1="476.9" y1="355.7" x2="556" y2="355.9" stroke="#8a3fa0" stroke-width="0.9" />
<polyline points="466,355.14 466.7,355.1 467.4,355.07 468.1,355.02 468.8,354.97 469.5,354.91 470.2,354.85 470.9,354.77 471.6,354.69 472.3,354.59 473,354.49 473.7,354.37 474.4,354.24 475.1,354.09 475.8,353.93 476.5,353.75 477.2,353.55 477.9,353.34 478.6,353.1 479.3,352.84 480,352.56 480.7,352.25 481.4,351.92 482.1,351.56 482.8,351.16 483.5,350.74 484.2,350.29 484.9,349.8 485.6,349.28 486.3,348.72 487,348.12 487.7,347.48 488.4,346.8 489.1,346.08 489.8,345.31 490.5,344.5 491.2,343.65 491.9,342.75 492.6,341.81 493.3,340.82 494,339.78 494.7,338.69 495.4,337.56 496.1,336.39 496.8,335.16 497.5,333.9 498.2,332.59 498.9,331.24 499.6,329.86 500.3,328.43 501,326.97 501.7,325.48 502.4,323.96 503.1,322.42 503.8,320.85 504.5,319.27 505.2,317.67 505.9,316.06 506.6,314.45 507.3,312.83 508,311.23 508.7,309.63 509.4,308.05 510.1,306.49 510.8,304.95 511.5,303.45 512.2,301.98 512.9,300.56 513.6,299.19 514.3,297.87 515,296.61 515.7,295.42 516.4,294.29 517.1,293.24 517.8,292.27 518.5,291.39 519.2,290.59 519.9,289.88 520.6,289.26 521.3,288.74 522,288.32 522.7,288 523.4,287.79 524.1,287.67 524.8,287.67 525.5,287.76 526.2,287.95 526.9,288.25 527.6,288.64 528.3,289.13 529,289.71 529.7,290.39 530.4,291.15 531.1,292.01 531.8,292.94 532.5,293.96 533.2,295.04 533.9,296.2 534.6,297.43 535.3,298.71 536,300.06 536.7,301.45 537.4,302.89 538.1,304.37 538.8,305.88 539.5,307.42 540.2,308.99 540.9,310.58 541.6,312.18 542.3,313.79 543,315.41 543.7,317.02 544.4,318.63 545.1,320.23 545.8,321.81 546.5,323.38 547.2,324.93 547.9,326.45 548.6,327.94 549.3,329.4 550,330.83 550.7,332.23 551.4,333.58 552.1,334.9 552.8,336.18 553.5,337.41 554.2,338.6 554.9,339.75 555.6,340.85 556.3,341.9 557,342.92 557.7,343.88 558.4,344.8 559.1,345.68 559.8,346.52 560.5,347.31 561.2,348.06 561.9,348.76 562.6,349.43 563.3,350.06 564,350.65 564.7,351.21 565.4,351.73 566.1,352.22 566.8,352.67 567.5,353.1 568.2,353.5 568.9,353.86 569.6,354.21 570.3,354.52 571,354.82 571.7,355.09 572.4,355.34 573.1,355.57 573.8,355.79 574.5,355.98 575.2,356.17 575.9,356.33 576.6,356.49 577.3,356.63 578,356.75 578.7,356.87 579.4,356.98 580.1,357.08 580.8,357.17 581.5,357.25 582.2,357.33 582.9,357.4 583.6,357.46 584.3,357.52 585,357.57 585.7,357.62 586.4,357.67 587.1,357.71 587.8,357.75 588.5,357.79 589.2,357.82 589.9,357.85 590.6,357.88 591.3,357.91 592,357.93 592.7,357.96 593.4,357.98 594.1,358 594.8,358.02" fill="none" stroke="#4068e0" stroke-width="1.4" stroke-linejoin="round" stroke-linecap="round" />
<polyline points="478,355.72 478.7,355.74 479.4,355.75 480.1,355.76 480.8,355.78 481.5,355.79 482.2,355.81 482.9,355.82 483.6,355.83 484.3,355.85 485,355.86 485.7,355.88 486.4,355.89 487.1,355.9 487.8,355.92 488.5,355.93 489.2,355.95 489.9,355.96 490.6,355.98 491.3,355.99 492,356 492.7,356.02 493.4,356.03 494.1,356.05 494.8,356.06 495.5,356.07 496.2,356.09 496.9,356.1 497.6,356.12 498.3,356.13 499,356.14 499.7,356.16 500.4,356.17 501.1,356.19 501.8,356.2 502.5,356.21 503.2,356.23 503.9,356.24 504.6,356.25 505.3,356.27 506,356.28 506.7,356.29 507.4,356.31 508.1,356.32 508.8,356.33 509.5,356.35 510.2,356.36 510.9,356.37 511.6,356.38 512.3,356.39 513,356.41 513.7,356.42 514.4,356.43 515.1,356.44 515.8,356.44 516.5,356.45 517.2,356.46 517.9,356.47 518.6,356.47 519.3,356.48 520,356.48 520.7,356.48 521.4,356.48 522.1,356.48 522.8,356.48 523.5,356.47 524.2,356.46 524.9,356.45 525.6,356.44 526.3,356.43 527,356.41 527.7,356.39 528.4,356.37 529.1,356.34 529.8,356.31 530.5,356.28 531.2,356.24 531.9,356.2 532.6,356.15 533.3,356.11 534,356.06 534.7,356 535.4,355.94 536.1,355.88 536.8,355.81 537.5,355.74 538.2,355.67 538.9,355.59 539.6,355.51 540.3,355.43 541,355.35 541.7,355.26 542.4,355.17 543.1,355.09 543.8,355 544.5,354.91 545.2,354.82 545.9,354.73 546.6,354.65 547.3,354.56 548,354.48 548.7,354.4 549.4,354.33 550.1,354.26 550.8,354.2 551.5,354.14 552.2,354.08 552.9,354.04 553.6,354 554.3,353.97 555,353.94 555.7,353.92 556.4,353.92 557.1,353.92 557.8,353.93 558.5,353.94 559.2,353.97 559.9,354 560.6,354.04 561.3,354.09 562,354.15 562.7,354.22 563.4,354.29 564.1,354.37 564.8,354.45 565.5,354.55 566.2,354.64 566.9,354.74 567.6,354.85 568.3,354.96 569,355.07 569.7,355.18 570.4,355.3 571.1,355.41 571.8,355.53 572.5,355.65 573.2,355.76 573.9,355.88 574.6,355.99 575.3,356.11 576,356.22 576.7,356.33 577.4,356.43 578.1,356.53 578.8,356.63 579.5,356.73 580.2,356.82 580.9,356.91 581.6,356.99 582.3,357.07 583,357.15 583.7,357.22 584.4,357.29 585.1,357.36 585.8,357.42 586.5,357.48 587.2,357.54 587.9,357.59 588.6,357.64 589.3,357.68" fill="none" stroke="#4068e0" stroke-width="1.4" stroke-linejoin="round" stroke-linecap="round" />
<polyline points="477.42,353.32 477.95,353.13 478.49,352.95 479.02,352.75 479.56,352.56 480.11,352.35 480.65,352.14 481.2,351.93 481.74,351.7 482.28,351.47 482.82,351.23 483.35,350.97 483.88,350.71 484.4,350.43 484.92,350.14 485.43,349.84 485.92,349.53 486.41,349.19 486.89,348.85 487.35,348.48 487.8,348.1 488.41,347.53 489,346.93 489.56,346.29 490.11,345.62 490.64,344.93 491.16,344.2 491.67,343.46 492.17,342.7 492.65,341.92 493.13,341.13 493.61,340.33 494.08,339.52 494.55,338.71 495.03,337.91 495.5,337.1 496.04,336.16 496.58,335.21 497.1,334.24 497.62,333.26 498.12,332.27 498.63,331.26 499.12,330.25 499.62,329.22 500.11,328.19 500.61,327.15 501.1,326.1 501.6,325.05 502.1,324 502.61,322.93 503.12,321.84 503.63,320.73 504.14,319.61 504.65,318.48 505.16,317.35 505.67,316.21 506.18,315.09 506.68,313.97 507.17,312.87 507.66,311.79 508.13,310.73 508.6,309.7 509.14,308.51 509.66,307.32 510.17,306.15 510.67,304.99 511.17,303.85 511.66,302.73 512.14,301.65 512.63,300.6 513.11,299.59 513.6,298.62 514.1,297.7 514.6,296.82 515.11,295.97 515.61,295.16 516.12,294.38 516.63,293.63 517.13,292.93 517.64,292.26 518.14,291.63 518.63,291.04 519.12,290.5 519.6,290 520.12,289.49 520.62,289.03 521.11,288.6 521.59,288.22 522.08,287.9 522.56,287.63 523.05,287.42 523.55,287.28 524.07,287.2 524.6,287.2 525.1,287.26 525.61,287.38 526.13,287.55 526.65,287.77 527.18,288.04 527.72,288.37 528.27,288.74 528.82,289.16 529.37,289.63 529.93,290.14 530.5,290.7 530.98,291.21 531.48,291.76 531.98,292.35 532.48,292.98 532.99,293.65 533.5,294.34 534.01,295.07 534.53,295.82 535.05,296.59 535.56,297.39 536.08,298.21 536.59,299.05 537.1,299.9 537.61,300.78 538.12,301.69 538.63,302.63 539.13,303.6 539.64,304.6 540.15,305.62 540.66,306.65 541.17,307.7 541.68,308.75 542.18,309.82 542.69,310.88 543.2,311.94 543.7,313 544.2,314.07 544.7,315.17 545.2,316.29 545.7,317.42 546.2,318.57 546.7,319.71 547.2,320.86 547.7,321.99 548.2,323.11 548.7,324.21 549.2,325.28 549.7,326.31 550.2,327.3 550.7,328.26 551.2,329.2 551.69,330.11 552.19,331.01 552.68,331.89 553.18,332.74 553.67,333.58 554.18,334.4 554.68,335.19 555.2,335.97 555.72,336.73 556.26,337.48 556.8,338.2 557.28,338.81 557.76,339.4 558.25,339.98 558.75,340.54 559.25,341.09 559.75,341.62 560.26,342.13 560.78,342.64 561.3,343.13 561.82,343.61 562.35,344.09 562.88,344.55 563.41,345.01 563.96,345.46 564.5,345.9 564.98,346.28 565.46,346.66 565.95,347.03 566.43,347.38 566.92,347.73 567.4,348.08 567.9,348.41 568.39,348.74 568.9,349.06 569.4,349.37 569.92,349.68 570.44,349.98 570.97,350.28 571.51,350.57 572.07,350.85 572.63,351.13 573.2,351.4 573.65,351.61 574.11,351.81 574.58,352.02 575.06,352.21 575.55,352.41 576.04,352.6 576.53,352.79 577.03,352.98 577.54,353.16 578.05,353.34 578.56,353.51 579.08,353.68 579.59,353.85 580.11,354.01 580.63,354.16 581.15,354.31 581.66,354.46 582.17,354.6 582.69,354.73 583.2,354.86 583.7,354.98 584.2,355.1 584.68,355.21 585.1,355.32 585.47,355.41 585.78,355.5" fill="none" stroke="#e06a6a" stroke-width="0.9" stroke-linejoin="round" stroke-linecap="round" />
<path d="M378.6,356.9a1.45,1.45 0 1,0 2.9,0a1.45,1.45 0 1,0 -2.9,0M380.1,357.0a1.45,1.45 0 1,0 2.9,0a1.45,1.45 0 1,0 -2.9,0M381.6,358.4a1.45,1.45 0 1,0 2.9,0a1.45,1.45 0 1,0 -2.9,0M383.1,357.8a1.45,1.45 0 1,0 2.9,0a1.45,1.45 0 1,0 -2.9,0M384.6,356.7a1.45,1.45 0 1,0 2.9,0a1.45,1.45 0 1,0 -2.9,0M386.1,358.6a1.45,1.45 0 1,0 2.9,0a1.45,1.45 0 1,0 -2.9,0M387.6,357.3a1.45,1.45 0 1,0 2.9,0a1.45,1.45 0 1,0 -2.9,0M389.1,358.4a1.45,1.45 0 1,0 2.9,0a1.45,1.45 0 1,0 -2.9,0M390.6,356.7a1.45,1.45 0 1,0 2.9,0a1.45,1.45 0 1,0 -2.9,0M392.1,356.4a1.45,1.45 0 1,0 2.9,0a1.45,1.45 0 1,0 -2.9,0M393.6,357.2a1.45,1.45 0 1,0 2.9,0a1.45,1.45 0 1,0 -2.9,0M395.1,358.3a1.45,1.45 0 1,0 2.9,0a1.45,1.45 0 1,0 -2.9,0M396.6,356.0a1.45,1.45 0 1,0 2.9,0a1.45,1.45 0 1,0 -2.9,0M398.1,356.8a1.45,1.45 0 1,0 2.9,0a1.45,1.45 0 1,0 -2.9,0M399.6,358.5a1.45,1.45 0 1,0 2.9,0a1.45,1.45 0 1,0 -2.9,0M401.1,359.8a1.45,1.45 0 1,0 2.9,0a1.45,1.45 0 1,0 -2.9,0M402.6,357.5a1.45,1.45 0 1,0 2.9,0a1.45,1.45 0 1,0 -2.9,0M404.1,357.0a1.45,1.45 0 1,0 2.9,0a1.45,1.45 0 1,0 -2.9,0M405.6,357.4a1.45,1.45 0 1,0 2.9,0a1.45,1.45 0 1,0 -2.9,0M407.1,357.1a1.45,1.45 0 1,0 2.9,0a1.45,1.45 0 1,0 -2.9,0M408.6,359.1a1.45,1.45 0 1,0 2.9,0a1.45,1.45 0 1,0 -2.9,0M410.1,358.4a1.45,1.45 0 1,0 2.9,0a1.45,1.45 0 1,0 -2.9,0M411.6,357.0a1.45,1.45 0 1,0 2.9,0a1.45,1.45 0 1,0 -2.9,0M413.1,358.5a1.45,1.45 0 1,0 2.9,0a1.45,1.45 0 1,0 -2.9,0M414.6,356.0a1.45,1.45 0 1,0 2.9,0a1.45,1.45 0 1,0 -2.9,0M416.1,357.8a1.45,1.45 0 1,0 2.9,0a1.45,1.45 0 1,0 -2.9,0M417.6,357.8a1.45,1.45 0 1,0 2.9,0a1.45,1.45 0 1,0 -2.9,0M419.1,357.6a1.45,1.45 0 1,0 2.9,0a1.45,1.45 0 1,0 -2.9,0M420.6,357.0a1.45,1.45 0 1,0 2.9,0a1.45,1.45 0 1,0 -2.9,0M422.1,357.3a1.45,1.45 0 1,0 2.9,0a1.45,1.45 0 1,0 -2.9,0M423.6,356.2a1.45,1.45 0 1,0 2.9,0a1.45,1.45 0 1,0 -2.9,0M425.1,358.2a1.45,1.45 0 1,0 2.9,0a1.45,1.45 0 1,0 -2.9,0M426.6,356.9a1.45,1.45 0 1,0 2.9,0a1.45,1.45 0 1,0 -2.9,0M428.1,358.2a1.45,1.45 0 1,0 2.9,0a1.45,1.45 0 1,0 -2.9,0M429.6,358.5a1.45,1.45 0 1,0 2.9,0a1.45,1.45 0 1,0 -2.9,0M431.1,357.2a1.45,1.45 0 1,0 2.9,0a1.45,1.45 0 1,0 -2.9,0M432.6,356.7a1.45,1.45 0 1,0 2.9,0a1.45,1.45 0 1,0 -2.9,0M434.1,357.8a1.45,1.45 0 1,0 2.9,0a1.45,1.45 0 1,0 -2.9,0M435.6,358.3a1.45,1.45 0 1,0 2.9,0a1.45,1.45 0 1,0 -2.9,0M437.1,356.5a1.45,1.45 0 1,0 2.9,0a1.45,1.45 0 1,0 -2.9,0M438.6,357.6a1.45,1.45 0 1,0 2.9,0a1.45,1.45 0 1,0 -2.9,0M440.1,356.8a1.45,1.45 0 1,0 2.9,0a1.45,1.45 0 1,0 -2.9,0M441.6,358.9a1.45,1.45 0 1,0 2.9,0a1.45,1.45 0 1,0 -2.9,0M443.1,357.9a1.45,1.45 0 1,0 2.9,0a1.45,1.45 0 1,0 -2.9,0M444.6,356.2a1.45,1.45 0 1,0 2.9,0a1.45,1.45 0 1,0 -2.9,0M446.1,357.1a1.45,1.45 0 1,0 2.9,0a1.45,1.45 0 1,0 -2.9,0M447.6,357.6a1.45,1.45 0 1,0 2.9,0a1.45,1.45 0 1,0 -2.9,0M449.1,357.0a1.45,1.45 0 1,0 2.9,0a1.45,1.45 0 1,0 -2.9,0M450.6,357.5a1.45,1.45 0 1,0 2.9,0a1.45,1.45 0 1,0 -2.9,0M452.1,357.7a1.45,1.45 0 1,0 2.9,0a1.45,1.45 0 1,0 -2.9,0M453.6,357.5a1.45,1.45 0 1,0 2.9,0a1.45,1.45 0 1,0 -2.9,0M455.1,356.9a1.45,1.45 0 1,0 2.9,0a1.45,1.45 0 1,0 -2.9,0M456.6,358.3a1.45,1.45 0 1,0 2.9,0a1.45,1.45 0 1,0 -2.9,0M458.1,357.7a1.45,1.45 0 1,0 2.9,0a1.45,1.45 0 1,0 -2.9,0M459.6,356.5a1.45,1.45 0 1,0 2.9,0a1.45,1.45 0 1,0 -2.9,0M461.1,356.4a1.45,1.45 0 1,0 2.9,0a1.45,1.45 0 1,0 -2.9,0M462.6,355.6a1.45,1.45 0 1,0 2.9,0a1.45,1.45 0 1,0 -2.9,0M464.1,354.6a1.45,1.45 0 1,0 2.9,0a1.45,1.45 0 1,0 -2.9,0M465.6,355.3a1.45,1.45 0 1,0 2.9,0a1.45,1.45 0 1,0 -2.9,0M467.1,355.3a1.45,1.45 0 1,0 2.9,0a1.45,1.45 0 1,0 -2.9,0M468.6,354.8a1.45,1.45 0 1,0 2.9,0a1.45,1.45 0 1,0 -2.9,0M470.1,354.0a1.45,1.45 0 1,0 2.9,0a1.45,1.45 0 1,0 -2.9,0M471.6,351.9a1.45,1.45 0 1,0 2.9,0a1.45,1.45 0 1,0 -2.9,0M473.1,352.7a1.45,1.45 0 1,0 2.9,0a1.45,1.45 0 1,0 -2.9,0M474.6,354.5a1.45,1.45 0 1,0 2.9,0a1.45,1.45 0 1,0 -2.9,0M476.1,351.7a1.45,1.45 0 1,0 2.9,0a1.45,1.45 0 1,0 -2.9,0M477.6,353.2a1.45,1.45 0 1,0 2.9,0a1.45,1.45 0 1,0 -2.9,0M479.1,352.8a1.45,1.45 0 1,0 2.9,0a1.45,1.45 0 1,0 -2.9,0M480.6,351.5a1.45,1.45 0 1,0 2.9,0a1.45,1.45 0 1,0 -2.9,0M482.1,350.9a1.45,1.45 0 1,0 2.9,0a1.45,1.45 0 1,0 -2.9,0M483.6,350.8a1.45,1.45 0 1,0 2.9,0a1.45,1.45 0 1,0 -2.9,0M485.1,349.1a1.45,1.45 0 1,0 2.9,0a1.45,1.45 0 1,0 -2.9,0M486.6,347.9a1.45,1.45 0 1,0 2.9,0a1.45,1.45 0 1,0 -2.9,0M488.1,347.1a1.45,1.45 0 1,0 2.9,0a1.45,1.45 0 1,0 -2.9,0M489.6,344.4a1.45,1.45 0 1,0 2.9,0a1.45,1.45 0 1,0 -2.9,0M491.1,343.8a1.45,1.45 0 1,0 2.9,0a1.45,1.45 0 1,0 -2.9,0M492.6,338.7a1.45,1.45 0 1,0 2.9,0a1.45,1.45 0 1,0 -2.9,0M494.1,336.8a1.45,1.45 0 1,0 2.9,0a1.45,1.45 0 1,0 -2.9,0M495.6,334.2a1.45,1.45 0 1,0 2.9,0a1.45,1.45 0 1,0 -2.9,0M497.1,331.6a1.45,1.45 0 1,0 2.9,0a1.45,1.45 0 1,0 -2.9,0M498.6,327.9a1.45,1.45 0 1,0 2.9,0a1.45,1.45 0 1,0 -2.9,0M500.1,326.9a1.45,1.45 0 1,0 2.9,0a1.45,1.45 0 1,0 -2.9,0M501.6,322.6a1.45,1.45 0 1,0 2.9,0a1.45,1.45 0 1,0 -2.9,0M503.1,317.2a1.45,1.45 0 1,0 2.9,0a1.45,1.45 0 1,0 -2.9,0M504.6,315.5a1.45,1.45 0 1,0 2.9,0a1.45,1.45 0 1,0 -2.9,0M506.1,312.7a1.45,1.45 0 1,0 2.9,0a1.45,1.45 0 1,0 -2.9,0M507.6,309.8a1.45,1.45 0 1,0 2.9,0a1.45,1.45 0 1,0 -2.9,0M509.1,305.7a1.45,1.45 0 1,0 2.9,0a1.45,1.45 0 1,0 -2.9,0M510.6,301.3a1.45,1.45 0 1,0 2.9,0a1.45,1.45 0 1,0 -2.9,0M512.0,299.5a1.45,1.45 0 1,0 2.9,0a1.45,1.45 0 1,0 -2.9,0M513.5,295.0a1.45,1.45 0 1,0 2.9,0a1.45,1.45 0 1,0 -2.9,0M515.0,293.9a1.45,1.45 0 1,0 2.9,0a1.45,1.45 0 1,0 -2.9,0M516.5,290.8a1.45,1.45 0 1,0 2.9,0a1.45,1.45 0 1,0 -2.9,0M518.0,291.2a1.45,1.45 0 1,0 2.9,0a1.45,1.45 0 1,0 -2.9,0M519.5,289.3a1.45,1.45 0 1,0 2.9,0a1.45,1.45 0 1,0 -2.9,0M521.0,289.5a1.45,1.45 0 1,0 2.9,0a1.45,1.45 0 1,0 -2.9,0M522.5,287.0a1.45,1.45 0 1,0 2.9,0a1.45,1.45 0 1,0 -2.9,0M524.0,287.3a1.45,1.45 0 1,0 2.9,0a1.45,1.45 0 1,0 -2.9,0M525.5,287.5a1.45,1.45 0 1,0 2.9,0a1.45,1.45 0 1,0 -2.9,0M527.0,289.9a1.45,1.45 0 1,0 2.9,0a1.45,1.45 0 1,0 -2.9,0M528.5,289.3a1.45,1.45 0 1,0 2.9,0a1.45,1.45 0 1,0 -2.9,0M530.0,292.4a1.45,1.45 0 1,0 2.9,0a1.45,1.45 0 1,0 -2.9,0M531.5,293.4a1.45,1.45 0 1,0 2.9,0a1.45,1.45 0 1,0 -2.9,0M533.0,296.4a1.45,1.45 0 1,0 2.9,0a1.45,1.45 0 1,0 -2.9,0M534.5,298.3a1.45,1.45 0 1,0 2.9,0a1.45,1.45 0 1,0 -2.9,0M536.0,299.9a1.45,1.45 0 1,0 2.9,0a1.45,1.45 0 1,0 -2.9,0M537.5,303.0a1.45,1.45 0 1,0 2.9,0a1.45,1.45 0 1,0 -2.9,0M539.0,304.8a1.45,1.45 0 1,0 2.9,0a1.45,1.45 0 1,0 -2.9,0M540.5,308.6a1.45,1.45 0 1,0 2.9,0a1.45,1.45 0 1,0 -2.9,0M542.0,312.1a1.45,1.45 0 1,0 2.9,0a1.45,1.45 0 1,0 -2.9,0M543.5,316.7a1.45,1.45 0 1,0 2.9,0a1.45,1.45 0 1,0 -2.9,0M545.0,318.9a1.45,1.45 0 1,0 2.9,0a1.45,1.45 0 1,0 -2.9,0M546.5,322.9a1.45,1.45 0 1,0 2.9,0a1.45,1.45 0 1,0 -2.9,0M548.0,325.7a1.45,1.45 0 1,0 2.9,0a1.45,1.45 0 1,0 -2.9,0M549.5,327.7a1.45,1.45 0 1,0 2.9,0a1.45,1.45 0 1,0 -2.9,0M551.0,332.1a1.45,1.45 0 1,0 2.9,0a1.45,1.45 0 1,0 -2.9,0M552.5,335.7a1.45,1.45 0 1,0 2.9,0a1.45,1.45 0 1,0 -2.9,0M554.0,336.9a1.45,1.45 0 1,0 2.9,0a1.45,1.45 0 1,0 -2.9,0M555.5,339.5a1.45,1.45 0 1,0 2.9,0a1.45,1.45 0 1,0 -2.9,0M557.0,340.8a1.45,1.45 0 1,0 2.9,0a1.45,1.45 0 1,0 -2.9,0M558.5,342.7a1.45,1.45 0 1,0 2.9,0a1.45,1.45 0 1,0 -2.9,0M560.0,345.1a1.45,1.45 0 1,0 2.9,0a1.45,1.45 0 1,0 -2.9,0M561.5,343.2a1.45,1.45 0 1,0 2.9,0a1.45,1.45 0 1,0 -2.9,0M563.0,345.3a1.45,1.45 0 1,0 2.9,0a1.45,1.45 0 1,0 -2.9,0M564.5,345.8a1.45,1.45 0 1,0 2.9,0a1.45,1.45 0 1,0 -2.9,0M566.0,348.2a1.45,1.45 0 1,0 2.9,0a1.45,1.45 0 1,0 -2.9,0M567.5,348.8a1.45,1.45 0 1,0 2.9,0a1.45,1.45 0 1,0 -2.9,0M569.0,349.4a1.45,1.45 0 1,0 2.9,0a1.45,1.45 0 1,0 -2.9,0M570.5,351.2a1.45,1.45 0 1,0 2.9,0a1.45,1.45 0 1,0 -2.9,0M572.0,353.1a1.45,1.45 0 1,0 2.9,0a1.45,1.45 0 1,0 -2.9,0M573.5,353.3a1.45,1.45 0 1,0 2.9,0a1.45,1.45 0 1,0 -2.9,0M575.0,354.3a1.45,1.45 0 1,0 2.9,0a1.45,1.45 0 1,0 -2.9,0M576.5,353.4a1.45,1.45 0 1,0 2.9,0a1.45,1.45 0 1,0 -2.9,0M578.0,354.2a1.45,1.45 0 1,0 2.9,0a1.45,1.45 0 1,0 -2.9,0M579.5,355.5a1.45,1.45 0 1,0 2.9,0a1.45,1.45 0 1,0 -2.9,0M581.0,355.5a1.45,1.45 0 1,0 2.9,0a1.45,1.45 0 1,0 -2.9,0M582.5,355.9a1.45,1.45 0 1,0 2.9,0a1.45,1.45 0 1,0 -2.9,0M584.0,355.2a1.45,1.45 0 1,0 2.9,0a1.45,1.45 0 1,0 -2.9,0M585.5,355.5a1.45,1.45 0 1,0 2.9,0a1.45,1.45 0 1,0 -2.9,0M587.0,355.5a1.45,1.45 0 1,0 2.9,0a1.45,1.45 0 1,0 -2.9,0M588.5,357.2a1.45,1.45 0 1,0 2.9,0a1.45,1.45 0 1,0 -2.9,0M590.0,355.5a1.45,1.45 0 1,0 2.9,0a1.45,1.45 0 1,0 -2.9,0M591.5,356.5a1.45,1.45 0 1,0 2.9,0a1.45,1.45 0 1,0 -2.9,0M593.0,356.6a1.45,1.45 0 1,0 2.9,0a1.45,1.45 0 1,0 -2.9,0M594.5,356.4a1.45,1.45 0 1,0 2.9,0a1.45,1.45 0 1,0 -2.9,0M596.0,356.3a1.45,1.45 0 1,0 2.9,0a1.45,1.45 0 1,0 -2.9,0M597.5,356.9a1.45,1.45 0 1,0 2.9,0a1.45,1.45 0 1,0 -2.9,0M599.0,356.0a1.45,1.45 0 1,0 2.9,0a1.45,1.45 0 1,0 -2.9,0M600.5,356.8a1.45,1.45 0 1,0 2.9,0a1.45,1.45 0 1,0 -2.9,0M602.0,357.8a1.45,1.45 0 1,0 2.9,0a1.45,1.45 0 1,0 -2.9,0M603.5,356.3a1.45,1.45 0 1,0 2.9,0a1.45,1.45 0 1,0 -2.9,0M605.0,357.8a1.45,1.45 0 1,0 2.9,0a1.45,1.45 0 1,0 -2.9,0M606.5,357.9a1.45,1.45 0 1,0 2.9,0a1.45,1.45 0 1,0 -2.9,0M608.0,358.4a1.45,1.45 0 1,0 2.9,0a1.45,1.45 0 1,0 -2.9,0M609.5,356.1a1.45,1.45 0 1,0 2.9,0a1.45,1.45 0 1,0 -2.9,0M611.0,358.4a1.45,1.45 0 1,0 2.9,0a1.45,1.45 0 1,0 -2.9,0M612.5,357.8a1.45,1.45 0 1,0 2.9,0a1.45,1.45 0 1,0 -2.9,0M614.0,358.2a1.45,1.45 0 1,0 2.9,0a1.45,1.45 0 1,0 -2.9,0M615.5,357.9a1.45,1.45 0 1,0 2.9,0a1.45,1.45 0 1,0 -2.9,0M617.0,356.9a1.45,1.45 0 1,0 2.9,0a1.45,1.45 0 1,0 -2.9,0M618.5,357.9a1.45,1.45 0 1,0 2.9,0a1.45,1.45 0 1,0 -2.9,0M620.0,357.3a1.45,1.45 0 1,0 2.9,0a1.45,1.45 0 1,0 -2.9,0M621.5,356.8a1.45,1.45 0 1,0 2.9,0a1.45,1.45 0 1,0 -2.9,0M623.0,356.7a1.45,1.45 0 1,0 2.9,0a1.45,1.45 0 1,0 -2.9,0M624.5,356.8a1.45,1.45 0 1,0 2.9,0a1.45,1.45 0 1,0 -2.9,0M626.0,357.1a1.45,1.45 0 1,0 2.9,0a1.45,1.45 0 1,0 -2.9,0M627.5,355.9a1.45,1.45 0 1,0 2.9,0a1.45,1.45 0 1,0 -2.9,0M629.0,357.6a1.45,1.45 0 1,0 2.9,0a1.45,1.45 0 1,0 -2.9,0M630.5,356.2a1.45,1.45 0 1,0 2.9,0a1.45,1.45 0 1,0 -2.9,0M632.0,357.9a1.45,1.45 0 1,0 2.9,0a1.45,1.45 0 1,0 -2.9,0M633.5,358.6a1.45,1.45 0 1,0 2.9,0a1.45,1.45 0 1,0 -2.9,0M635.0,358.5a1.45,1.45 0 1,0 2.9,0a1.45,1.45 0 1,0 -2.9,0M636.5,358.8a1.45,1.45 0 1,0 2.9,0a1.45,1.45 0 1,0 -2.9,0M638.0,358.8a1.45,1.45 0 1,0 2.9,0a1.45,1.45 0 1,0 -2.9,0M639.5,359.5a1.45,1.45 0 1,0 2.9,0a1.45,1.45 0 1,0 -2.9,0M641.0,357.5a1.45,1.45 0 1,0 2.9,0a1.45,1.45 0 1,0 -2.9,0M642.5,356.9a1.45,1.45 0 1,0 2.9,0a1.45,1.45 0 1,0 -2.9,0M644.0,357.5a1.45,1.45 0 1,0 2.9,0a1.45,1.45 0 1,0 -2.9,0M645.5,356.8a1.45,1.45 0 1,0 2.9,0a1.45,1.45 0 1,0 -2.9,0M647.0,358.8a1.45,1.45 0 1,0 2.9,0a1.45,1.45 0 1,0 -2.9,0M648.5,355.7a1.45,1.45 0 1,0 2.9,0a1.45,1.45 0 1,0 -2.9,0M650.0,357.8a1.45,1.45 0 1,0 2.9,0a1.45,1.45 0 1,0 -2.9,0M651.5,358.6a1.45,1.45 0 1,0 2.9,0a1.45,1.45 0 1,0 -2.9,0M653.0,358.3a1.45,1.45 0 1,0 2.9,0a1.45,1.45 0 1,0 -2.9,0M654.5,358.6a1.45,1.45 0 1,0 2.9,0a1.45,1.45 0 1,0 -2.9,0M656.0,357.0a1.45,1.45 0 1,0 2.9,0a1.45,1.45 0 1,0 -2.9,0M657.5,357.5a1.45,1.45 0 1,0 2.9,0a1.45,1.45 0 1,0 -2.9,0M659.0,357.8a1.45,1.45 0 1,0 2.9,0a1.45,1.45 0 1,0 -2.9,0M660.5,358.3a1.45,1.45 0 1,0 2.9,0a1.45,1.45 0 1,0 -2.9,0M662.0,358.5a1.45,1.45 0 1,0 2.9,0a1.45,1.45 0 1,0 -2.9,0M663.5,359.2a1.45,1.45 0 1,0 2.9,0a1.45,1.45 0 1,0 -2.9,0M665.0,357.0a1.45,1.45 0 1,0 2.9,0a1.45,1.45 0 1,0 -2.9,0M666.5,358.3a1.45,1.45 0 1,0 2.9,0a1.45,1.45 0 1,0 -2.9,0M668.0,360.0a1.45,1.45 0 1,0 2.9,0a1.45,1.45 0 1,0 -2.9,0M669.5,359.2a1.45,1.45 0 1,0 2.9,0a1.45,1.45 0 1,0 -2.9,0M671.0,358.3a1.45,1.45 0 1,0 2.9,0a1.45,1.45 0 1,0 -2.9,0M672.5,358.9a1.45,1.45 0 1,0 2.9,0a1.45,1.45 0 1,0 -2.9,0M674.0,358.0a1.45,1.45 0 1,0 2.9,0a1.45,1.45 0 1,0 -2.9,0M675.5,359.3a1.45,1.45 0 1,0 2.9,0a1.45,1.45 0 1,0 -2.9,0M677.0,357.8a1.45,1.45 0 1,0 2.9,0a1.45,1.45 0 1,0 -2.9,0" fill="none" stroke="#9c9c9c" stroke-width="1.0"/>
<line x1="472" y1="395.1" x2="590" y2="395.3" stroke="#d65a5a" stroke-width="1.0" />
<line x1="472" y1="395.1" x2="560" y2="395.2" stroke="#8a3fa0" stroke-width="0.9" />
<polyline points="466,394.92 466.7,394.91 467.4,394.89 468.1,394.86 468.8,394.84 469.5,394.82 470.2,394.79 470.9,394.76 471.6,394.72 472.3,394.68 473,394.64 473.7,394.6 474.4,394.55 475.1,394.5 475.8,394.44 476.5,394.38 477.2,394.31 477.9,394.24 478.6,394.17 479.3,394.08 480,393.99 480.7,393.9 481.4,393.79 482.1,393.68 482.8,393.56 483.5,393.43 484.2,393.3 484.9,393.16 485.6,393 486.3,392.84 487,392.66 487.7,392.48 488.4,392.29 489.1,392.08 489.8,391.86 490.5,391.64 491.2,391.39 491.9,391.14 492.6,390.88 493.3,390.6 494,390.31 494.7,390 495.4,389.68 496.1,389.35 496.8,389.01 497.5,388.65 498.2,388.28 498.9,387.89 499.6,387.5 500.3,387.09 501,386.66 501.7,386.23 502.4,385.78 503.1,385.32 503.8,384.85 504.5,384.37 505.2,383.87 505.9,383.37 506.6,382.86 507.3,382.34 508,381.82 508.7,381.29 509.4,380.75 510.1,380.21 510.8,379.67 511.5,379.12 512.2,378.57 512.9,378.03 513.6,377.48 514.3,376.94 515,376.4 515.7,375.87 516.4,375.35 517.1,374.83 517.8,374.32 518.5,373.83 519.2,373.34 519.9,372.87 520.6,372.42 521.3,371.98 522,371.56 522.7,371.16 523.4,370.78 524.1,370.42 524.8,370.08 525.5,369.77 526.2,369.48 526.9,369.21 527.6,368.98 528.3,368.77 529,368.58 529.7,368.43 530.4,368.31 531.1,368.21 531.8,368.15 532.5,368.11 533.2,368.11 533.9,368.14 534.6,368.2 535.3,368.31 536,368.44 536.7,368.62 537.4,368.83 538.1,369.07 538.8,369.35 539.5,369.65 540.2,369.99 540.9,370.36 541.6,370.76 542.3,371.18 543,371.63 543.7,372.1 544.4,372.59 545.1,373.1 545.8,373.63 546.5,374.17 547.2,374.73 547.9,375.3 548.6,375.88 549.3,376.47 550,377.07 550.7,377.67 551.4,378.28 552.1,378.89 552.8,379.49 553.5,380.1 554.2,380.7 554.9,381.29 555.6,381.88 556.3,382.47 557,383.04 557.7,383.6 558.4,384.16 559.1,384.7 559.8,385.23 560.5,385.74 561.2,386.24 561.9,386.73 562.6,387.2 563.3,387.66 564,388.1 564.7,388.52 565.4,388.93 566.1,389.32 566.8,389.69 567.5,390.05 568.2,390.39 568.9,390.72 569.6,391.03 570.3,391.32 571,391.6 571.7,391.86 572.4,392.11 573.1,392.35 573.8,392.57 574.5,392.78 575.2,392.97 575.9,393.16 576.6,393.33 577.3,393.49 578,393.64 578.7,393.78 579.4,393.91 580.1,394.03 580.8,394.14 581.5,394.24 582.2,394.34 582.9,394.43 583.6,394.51 584.3,394.58 585,394.65 585.7,394.71 586.4,394.77 587.1,394.82 587.8,394.87 588.5,394.92 589.2,394.96 589.9,394.99 590.6,395.03 591.3,395.06 592,395.09 592.7,395.11 593.4,395.13 594.1,395.15 594.8,395.17" fill="none" stroke="#4068e0" stroke-width="1.4" stroke-linejoin="round" stroke-linecap="round" />
<polyline points="505,395.16 505.7,395.16 506.4,395.16 507.1,395.16 507.8,395.16 508.5,395.16 509.2,395.16 509.9,395.16 510.6,395.17 511.3,395.17 512,395.17 512.7,395.17 513.4,395.17 514.1,395.17 514.8,395.17 515.5,395.17 516.2,395.17 516.9,395.17 517.6,395.17 518.3,395.18 519,395.18 519.7,395.18 520.4,395.18 521.1,395.17 521.8,395.17 522.5,395.17 523.2,395.17 523.9,395.17 524.6,395.16 525.3,395.16 526,395.15 526.7,395.14 527.4,395.13 528.1,395.11 528.8,395.1 529.5,395.08 530.2,395.05 530.9,395.03 531.6,394.99 532.3,394.95 533,394.91 533.7,394.86 534.4,394.8 535.1,394.73 535.8,394.66 536.5,394.57 537.2,394.48 537.9,394.37 538.6,394.26 539.3,394.13 540,394 540.7,393.85 541.4,393.69 542.1,393.52 542.8,393.34 543.5,393.16 544.2,392.96 544.9,392.76 545.6,392.55 546.3,392.34 547,392.13 547.7,391.92 548.4,391.72 549.1,391.51 549.8,391.32 550.5,391.13 551.2,390.96 551.9,390.8 552.6,390.66 553.3,390.53 554,390.43 554.7,390.35 555.4,390.29 556.1,390.25 556.8,390.24 557.5,390.26 558.2,390.29 558.9,390.36 559.6,390.44 560.3,390.55 561,390.67 561.7,390.82 562.4,390.98 563.1,391.15 563.8,391.34 564.5,391.54 565.2,391.74 565.9,391.95 566.6,392.17 567.3,392.38 568,392.59 568.7,392.8 569.4,393 570.1,393.2 570.8,393.39 571.5,393.57 572.2,393.74 572.9,393.9 573.6,394.05 574.3,394.19 575,394.32 575.7,394.44 576.4,394.54 577.1,394.64 577.8,394.73 578.5,394.81 579.2,394.87 579.9,394.94 580.6,394.99 581.3,395.04 582,395.08 582.7,395.11 583.4,395.14 584.1,395.17 584.8,395.19 585.5,395.21 586.2,395.23 586.9,395.24 587.6,395.25 588.3,395.26 589,395.27 589.7,395.28" fill="none" stroke="#4068e0" stroke-width="1.4" stroke-linejoin="round" stroke-linecap="round" />
<polyline points="472.09,395.12 472.5,395.1 473.13,395.06 473.74,395.02 474.33,394.97 474.9,394.91 475.44,394.86 475.97,394.79 476.48,394.73 476.98,394.66 477.47,394.58 477.95,394.5 478.41,394.42 478.87,394.33 479.33,394.24 479.78,394.15 480.23,394.05 480.68,393.95 481.14,393.85 481.59,393.75 482.06,393.64 482.53,393.53 483.01,393.41 483.5,393.3 484.02,393.18 484.54,393.06 485.06,392.94 485.58,392.81 486.1,392.69 486.62,392.56 487.14,392.43 487.66,392.3 488.17,392.16 488.69,392.02 489.21,391.87 489.73,391.72 490.24,391.56 490.76,391.39 491.28,391.22 491.8,391.04 492.32,390.85 492.84,390.65 493.36,390.45 493.88,390.23 494.4,390 494.9,389.77 495.4,389.53 495.9,389.29 496.4,389.03 496.9,388.76 497.4,388.49 497.9,388.21 498.4,387.92 498.9,387.63 499.4,387.33 499.9,387.02 500.4,386.72 500.9,386.4 501.4,386.09 501.9,385.77 502.4,385.45 502.9,385.12 503.4,384.8 503.9,384.47 504.4,384.15 504.9,383.82 505.4,383.5 505.92,383.16 506.45,382.8 506.98,382.44 507.51,382.08 508.05,381.7 508.58,381.32 509.12,380.94 509.65,380.56 510.19,380.17 510.72,379.78 511.25,379.39 511.78,379.01 512.31,378.63 512.83,378.25 513.34,377.87 513.85,377.51 514.36,377.15 514.85,376.8 515.34,376.45 515.83,376.12 516.3,375.8 516.87,375.41 517.43,375.03 517.98,374.66 518.52,374.29 519.05,373.93 519.57,373.58 520.08,373.23 520.59,372.9 521.09,372.57 521.59,372.25 522.09,371.94 522.58,371.64 523.08,371.35 523.58,371.07 524.08,370.8 524.59,370.54 525.1,370.3 525.61,370.06 526.13,369.84 526.64,369.62 527.15,369.4 527.66,369.2 528.17,369 528.68,368.82 529.19,368.64 529.71,368.48 530.22,368.33 530.73,368.2 531.24,368.08 531.75,367.97 532.26,367.88 532.77,367.8 533.29,367.74 533.8,367.7 534.32,367.67 534.83,367.66 535.35,367.67 535.87,367.69 536.38,367.72 536.9,367.77 537.42,367.83 537.94,367.9 538.46,367.99 538.98,368.09 539.5,368.21 540.02,368.34 540.53,368.49 541.05,368.64 541.57,368.82 542.08,369 542.6,369.2 543.11,369.42 543.63,369.66 544.14,369.93 544.65,370.22 545.16,370.52 545.67,370.85 546.18,371.18 546.69,371.52 547.21,371.88 547.72,372.24 548.23,372.6 548.74,372.96 549.25,373.32 549.76,373.68 550.27,374.03 550.79,374.37 551.3,374.7 551.82,375.02 552.33,375.35 552.85,375.67 553.36,375.99 553.88,376.32 554.4,376.64 554.92,376.96 555.43,377.29 555.95,377.61 556.47,377.94 556.99,378.26 557.51,378.58 558.03,378.91 558.55,379.23 559.06,379.55 559.58,379.88 560.1,380.2 560.62,380.52 561.14,380.85 561.65,381.17 562.17,381.5 562.69,381.82 563.21,382.15 563.73,382.47 564.25,382.79 564.77,383.12 565.28,383.44 565.8,383.77 566.32,384.09 566.84,384.41 567.35,384.74 567.87,385.06 568.38,385.38 568.9,385.7 569.41,386.02 569.93,386.35 570.44,386.69 570.95,387.02 571.46,387.36 571.97,387.7 572.48,388.04 572.99,388.37 573.51,388.7 574.02,389.03 574.53,389.35 575.04,389.67 575.55,389.98 576.06,390.27 576.57,390.56 577.09,390.84 577.6,391.1 578.1,391.35 578.57,391.6 579.02,391.84 579.46,392.08 579.88,392.31 580.3,392.53 580.73,392.74 581.16,392.95 581.61,393.15 582.07,393.34 582.57,393.52 583.09,393.69 583.65,393.85 584.26,394.01 584.92,394.15 585.63,394.28 586.4,394.4 586.77,394.45 587.15,394.5 587.52,394.54 587.9,394.58 588.29,394.62 588.68,394.65 589.07,394.68 589.47,394.71 589.87,394.74" fill="none" stroke="#e06a6a" stroke-width="0.9" stroke-linejoin="round" stroke-linecap="round" />
<path d="M378.6,396.2a1.45,1.45 0 1,0 2.9,0a1.45,1.45 0 1,0 -2.9,0M380.1,395.7a1.45,1.45 0 1,0 2.9,0a1.45,1.45 0 1,0 -2.9,0M381.6,394.9a1.45,1.45 0 1,0 2.9,0a1.45,1.45 0 1,0 -2.9,0M383.1,395.7a1.45,1.45 0 1,0 2.9,0a1.45,1.45 0 1,0 -2.9,0M384.6,395.4a1.45,1.45 0 1,0 2.9,0a1.45,1.45 0 1,0 -2.9,0M386.1,394.9a1.45,1.45 0 1,0 2.9,0a1.45,1.45 0 1,0 -2.9,0M387.6,395.6a1.45,1.45 0 1,0 2.9,0a1.45,1.45 0 1,0 -2.9,0M389.1,394.7a1.45,1.45 0 1,0 2.9,0a1.45,1.45 0 1,0 -2.9,0M390.6,396.4a1.45,1.45 0 1,0 2.9,0a1.45,1.45 0 1,0 -2.9,0M392.1,395.9a1.45,1.45 0 1,0 2.9,0a1.45,1.45 0 1,0 -2.9,0M393.6,396.3a1.45,1.45 0 1,0 2.9,0a1.45,1.45 0 1,0 -2.9,0M395.1,396.0a1.45,1.45 0 1,0 2.9,0a1.45,1.45 0 1,0 -2.9,0M396.6,395.6a1.45,1.45 0 1,0 2.9,0a1.45,1.45 0 1,0 -2.9,0M398.1,394.2a1.45,1.45 0 1,0 2.9,0a1.45,1.45 0 1,0 -2.9,0M399.6,395.1a1.45,1.45 0 1,0 2.9,0a1.45,1.45 0 1,0 -2.9,0M401.1,395.4a1.45,1.45 0 1,0 2.9,0a1.45,1.45 0 1,0 -2.9,0M402.6,394.9a1.45,1.45 0 1,0 2.9,0a1.45,1.45 0 1,0 -2.9,0M404.1,395.3a1.45,1.45 0 1,0 2.9,0a1.45,1.45 0 1,0 -2.9,0M405.6,395.0a1.45,1.45 0 1,0 2.9,0a1.45,1.45 0 1,0 -2.9,0M407.1,394.9a1.45,1.45 0 1,0 2.9,0a1.45,1.45 0 1,0 -2.9,0M408.6,394.6a1.45,1.45 0 1,0 2.9,0a1.45,1.45 0 1,0 -2.9,0M410.1,394.9a1.45,1.45 0 1,0 2.9,0a1.45,1.45 0 1,0 -2.9,0M411.6,394.4a1.45,1.45 0 1,0 2.9,0a1.45,1.45 0 1,0 -2.9,0M413.1,396.1a1.45,1.45 0 1,0 2.9,0a1.45,1.45 0 1,0 -2.9,0M414.6,395.5a1.45,1.45 0 1,0 2.9,0a1.45,1.45 0 1,0 -2.9,0M416.1,395.7a1.45,1.45 0 1,0 2.9,0a1.45,1.45 0 1,0 -2.9,0M417.6,395.9a1.45,1.45 0 1,0 2.9,0a1.45,1.45 0 1,0 -2.9,0M419.1,394.9a1.45,1.45 0 1,0 2.9,0a1.45,1.45 0 1,0 -2.9,0M420.6,396.1a1.45,1.45 0 1,0 2.9,0a1.45,1.45 0 1,0 -2.9,0M422.1,393.7a1.45,1.45 0 1,0 2.9,0a1.45,1.45 0 1,0 -2.9,0M423.6,394.7a1.45,1.45 0 1,0 2.9,0a1.45,1.45 0 1,0 -2.9,0M425.1,395.2a1.45,1.45 0 1,0 2.9,0a1.45,1.45 0 1,0 -2.9,0M426.6,396.6a1.45,1.45 0 1,0 2.9,0a1.45,1.45 0 1,0 -2.9,0M428.1,396.1a1.45,1.45 0 1,0 2.9,0a1.45,1.45 0 1,0 -2.9,0M429.6,395.8a1.45,1.45 0 1,0 2.9,0a1.45,1.45 0 1,0 -2.9,0M431.1,395.8a1.45,1.45 0 1,0 2.9,0a1.45,1.45 0 1,0 -2.9,0M432.6,394.7a1.45,1.45 0 1,0 2.9,0a1.45,1.45 0 1,0 -2.9,0M434.1,395.0a1.45,1.45 0 1,0 2.9,0a1.45,1.45 0 1,0 -2.9,0M435.6,394.5a1.45,1.45 0 1,0 2.9,0a1.45,1.45 0 1,0 -2.9,0M437.1,395.1a1.45,1.45 0 1,0 2.9,0a1.45,1.45 0 1,0 -2.9,0M438.6,394.0a1.45,1.45 0 1,0 2.9,0a1.45,1.45 0 1,0 -2.9,0M440.1,394.8a1.45,1.45 0 1,0 2.9,0a1.45,1.45 0 1,0 -2.9,0M441.6,394.6a1.45,1.45 0 1,0 2.9,0a1.45,1.45 0 1,0 -2.9,0M443.1,395.4a1.45,1.45 0 1,0 2.9,0a1.45,1.45 0 1,0 -2.9,0M444.6,394.5a1.45,1.45 0 1,0 2.9,0a1.45,1.45 0 1,0 -2.9,0M446.1,395.3a1.45,1.45 0 1,0 2.9,0a1.45,1.45 0 1,0 -2.9,0M447.6,395.4a1.45,1.45 0 1,0 2.9,0a1.45,1.45 0 1,0 -2.9,0M449.1,395.4a1.45,1.45 0 1,0 2.9,0a1.45,1.45 0 1,0 -2.9,0M450.6,395.6a1.45,1.45 0 1,0 2.9,0a1.45,1.45 0 1,0 -2.9,0M452.1,394.2a1.45,1.45 0 1,0 2.9,0a1.45,1.45 0 1,0 -2.9,0M453.6,395.0a1.45,1.45 0 1,0 2.9,0a1.45,1.45 0 1,0 -2.9,0M455.1,394.8a1.45,1.45 0 1,0 2.9,0a1.45,1.45 0 1,0 -2.9,0M456.6,395.8a1.45,1.45 0 1,0 2.9,0a1.45,1.45 0 1,0 -2.9,0M458.1,394.6a1.45,1.45 0 1,0 2.9,0a1.45,1.45 0 1,0 -2.9,0M459.6,395.2a1.45,1.45 0 1,0 2.9,0a1.45,1.45 0 1,0 -2.9,0M461.1,393.9a1.45,1.45 0 1,0 2.9,0a1.45,1.45 0 1,0 -2.9,0M462.6,394.8a1.45,1.45 0 1,0 2.9,0a1.45,1.45 0 1,0 -2.9,0M464.1,394.5a1.45,1.45 0 1,0 2.9,0a1.45,1.45 0 1,0 -2.9,0M465.6,395.1a1.45,1.45 0 1,0 2.9,0a1.45,1.45 0 1,0 -2.9,0M467.1,394.7a1.45,1.45 0 1,0 2.9,0a1.45,1.45 0 1,0 -2.9,0M468.6,395.2a1.45,1.45 0 1,0 2.9,0a1.45,1.45 0 1,0 -2.9,0M470.1,395.4a1.45,1.45 0 1,0 2.9,0a1.45,1.45 0 1,0 -2.9,0M471.6,394.3a1.45,1.45 0 1,0 2.9,0a1.45,1.45 0 1,0 -2.9,0M473.1,395.6a1.45,1.45 0 1,0 2.9,0a1.45,1.45 0 1,0 -2.9,0M474.6,394.3a1.45,1.45 0 1,0 2.9,0a1.45,1.45 0 1,0 -2.9,0M476.1,396.3a1.45,1.45 0 1,0 2.9,0a1.45,1.45 0 1,0 -2.9,0M477.6,395.3a1.45,1.45 0 1,0 2.9,0a1.45,1.45 0 1,0 -2.9,0M479.1,394.6a1.45,1.45 0 1,0 2.9,0a1.45,1.45 0 1,0 -2.9,0M480.6,393.8a1.45,1.45 0 1,0 2.9,0a1.45,1.45 0 1,0 -2.9,0M482.1,394.4a1.45,1.45 0 1,0 2.9,0a1.45,1.45 0 1,0 -2.9,0M483.6,393.2a1.45,1.45 0 1,0 2.9,0a1.45,1.45 0 1,0 -2.9,0M485.1,391.3a1.45,1.45 0 1,0 2.9,0a1.45,1.45 0 1,0 -2.9,0M486.6,392.8a1.45,1.45 0 1,0 2.9,0a1.45,1.45 0 1,0 -2.9,0M488.1,392.0a1.45,1.45 0 1,0 2.9,0a1.45,1.45 0 1,0 -2.9,0M489.6,389.3a1.45,1.45 0 1,0 2.9,0a1.45,1.45 0 1,0 -2.9,0M491.1,389.4a1.45,1.45 0 1,0 2.9,0a1.45,1.45 0 1,0 -2.9,0M492.6,391.3a1.45,1.45 0 1,0 2.9,0a1.45,1.45 0 1,0 -2.9,0M494.1,389.8a1.45,1.45 0 1,0 2.9,0a1.45,1.45 0 1,0 -2.9,0M495.6,388.1a1.45,1.45 0 1,0 2.9,0a1.45,1.45 0 1,0 -2.9,0M497.1,386.4a1.45,1.45 0 1,0 2.9,0a1.45,1.45 0 1,0 -2.9,0M498.6,386.1a1.45,1.45 0 1,0 2.9,0a1.45,1.45 0 1,0 -2.9,0M500.1,387.3a1.45,1.45 0 1,0 2.9,0a1.45,1.45 0 1,0 -2.9,0M501.6,383.2a1.45,1.45 0 1,0 2.9,0a1.45,1.45 0 1,0 -2.9,0M503.1,384.5a1.45,1.45 0 1,0 2.9,0a1.45,1.45 0 1,0 -2.9,0M504.6,385.1a1.45,1.45 0 1,0 2.9,0a1.45,1.45 0 1,0 -2.9,0M506.1,382.2a1.45,1.45 0 1,0 2.9,0a1.45,1.45 0 1,0 -2.9,0M507.6,380.3a1.45,1.45 0 1,0 2.9,0a1.45,1.45 0 1,0 -2.9,0M509.1,380.4a1.45,1.45 0 1,0 2.9,0a1.45,1.45 0 1,0 -2.9,0M510.6,379.4a1.45,1.45 0 1,0 2.9,0a1.45,1.45 0 1,0 -2.9,0M512.0,378.1a1.45,1.45 0 1,0 2.9,0a1.45,1.45 0 1,0 -2.9,0M513.5,376.6a1.45,1.45 0 1,0 2.9,0a1.45,1.45 0 1,0 -2.9,0M515.0,374.4a1.45,1.45 0 1,0 2.9,0a1.45,1.45 0 1,0 -2.9,0M516.5,375.1a1.45,1.45 0 1,0 2.9,0a1.45,1.45 0 1,0 -2.9,0M518.0,374.3a1.45,1.45 0 1,0 2.9,0a1.45,1.45 0 1,0 -2.9,0M519.5,373.0a1.45,1.45 0 1,0 2.9,0a1.45,1.45 0 1,0 -2.9,0M521.0,372.1a1.45,1.45 0 1,0 2.9,0a1.45,1.45 0 1,0 -2.9,0M522.5,371.0a1.45,1.45 0 1,0 2.9,0a1.45,1.45 0 1,0 -2.9,0M524.0,370.9a1.45,1.45 0 1,0 2.9,0a1.45,1.45 0 1,0 -2.9,0M525.5,372.4a1.45,1.45 0 1,0 2.9,0a1.45,1.45 0 1,0 -2.9,0M527.0,368.4a1.45,1.45 0 1,0 2.9,0a1.45,1.45 0 1,0 -2.9,0M528.5,368.6a1.45,1.45 0 1,0 2.9,0a1.45,1.45 0 1,0 -2.9,0M530.0,367.1a1.45,1.45 0 1,0 2.9,0a1.45,1.45 0 1,0 -2.9,0M531.5,366.3a1.45,1.45 0 1,0 2.9,0a1.45,1.45 0 1,0 -2.9,0M533.0,367.7a1.45,1.45 0 1,0 2.9,0a1.45,1.45 0 1,0 -2.9,0M534.5,368.9a1.45,1.45 0 1,0 2.9,0a1.45,1.45 0 1,0 -2.9,0M536.0,367.1a1.45,1.45 0 1,0 2.9,0a1.45,1.45 0 1,0 -2.9,0M537.5,367.7a1.45,1.45 0 1,0 2.9,0a1.45,1.45 0 1,0 -2.9,0M539.0,368.0a1.45,1.45 0 1,0 2.9,0a1.45,1.45 0 1,0 -2.9,0M540.5,367.8a1.45,1.45 0 1,0 2.9,0a1.45,1.45 0 1,0 -2.9,0M542.0,368.4a1.45,1.45 0 1,0 2.9,0a1.45,1.45 0 1,0 -2.9,0M543.5,370.5a1.45,1.45 0 1,0 2.9,0a1.45,1.45 0 1,0 -2.9,0M545.0,371.0a1.45,1.45 0 1,0 2.9,0a1.45,1.45 0 1,0 -2.9,0M546.5,372.3a1.45,1.45 0 1,0 2.9,0a1.45,1.45 0 1,0 -2.9,0M548.0,372.7a1.45,1.45 0 1,0 2.9,0a1.45,1.45 0 1,0 -2.9,0M549.5,375.7a1.45,1.45 0 1,0 2.9,0a1.45,1.45 0 1,0 -2.9,0M551.0,377.3a1.45,1.45 0 1,0 2.9,0a1.45,1.45 0 1,0 -2.9,0M552.5,375.7a1.45,1.45 0 1,0 2.9,0a1.45,1.45 0 1,0 -2.9,0M554.0,376.1a1.45,1.45 0 1,0 2.9,0a1.45,1.45 0 1,0 -2.9,0M555.5,379.3a1.45,1.45 0 1,0 2.9,0a1.45,1.45 0 1,0 -2.9,0M557.0,380.4a1.45,1.45 0 1,0 2.9,0a1.45,1.45 0 1,0 -2.9,0M558.5,381.8a1.45,1.45 0 1,0 2.9,0a1.45,1.45 0 1,0 -2.9,0M560.0,380.4a1.45,1.45 0 1,0 2.9,0a1.45,1.45 0 1,0 -2.9,0M561.5,382.0a1.45,1.45 0 1,0 2.9,0a1.45,1.45 0 1,0 -2.9,0M563.0,381.3a1.45,1.45 0 1,0 2.9,0a1.45,1.45 0 1,0 -2.9,0M564.5,384.3a1.45,1.45 0 1,0 2.9,0a1.45,1.45 0 1,0 -2.9,0M566.0,383.8a1.45,1.45 0 1,0 2.9,0a1.45,1.45 0 1,0 -2.9,0M567.5,384.3a1.45,1.45 0 1,0 2.9,0a1.45,1.45 0 1,0 -2.9,0M569.0,387.4a1.45,1.45 0 1,0 2.9,0a1.45,1.45 0 1,0 -2.9,0M570.5,388.1a1.45,1.45 0 1,0 2.9,0a1.45,1.45 0 1,0 -2.9,0M572.0,387.0a1.45,1.45 0 1,0 2.9,0a1.45,1.45 0 1,0 -2.9,0M573.5,389.0a1.45,1.45 0 1,0 2.9,0a1.45,1.45 0 1,0 -2.9,0M575.0,392.6a1.45,1.45 0 1,0 2.9,0a1.45,1.45 0 1,0 -2.9,0M576.5,389.3a1.45,1.45 0 1,0 2.9,0a1.45,1.45 0 1,0 -2.9,0M578.0,391.7a1.45,1.45 0 1,0 2.9,0a1.45,1.45 0 1,0 -2.9,0M579.5,394.5a1.45,1.45 0 1,0 2.9,0a1.45,1.45 0 1,0 -2.9,0M581.0,395.0a1.45,1.45 0 1,0 2.9,0a1.45,1.45 0 1,0 -2.9,0M582.5,394.1a1.45,1.45 0 1,0 2.9,0a1.45,1.45 0 1,0 -2.9,0M584.0,393.6a1.45,1.45 0 1,0 2.9,0a1.45,1.45 0 1,0 -2.9,0M585.5,394.8a1.45,1.45 0 1,0 2.9,0a1.45,1.45 0 1,0 -2.9,0M587.0,394.1a1.45,1.45 0 1,0 2.9,0a1.45,1.45 0 1,0 -2.9,0M588.5,395.0a1.45,1.45 0 1,0 2.9,0a1.45,1.45 0 1,0 -2.9,0M590.0,395.7a1.45,1.45 0 1,0 2.9,0a1.45,1.45 0 1,0 -2.9,0M591.5,394.9a1.45,1.45 0 1,0 2.9,0a1.45,1.45 0 1,0 -2.9,0M593.0,395.9a1.45,1.45 0 1,0 2.9,0a1.45,1.45 0 1,0 -2.9,0M594.5,396.0a1.45,1.45 0 1,0 2.9,0a1.45,1.45 0 1,0 -2.9,0M596.0,394.2a1.45,1.45 0 1,0 2.9,0a1.45,1.45 0 1,0 -2.9,0M597.5,394.7a1.45,1.45 0 1,0 2.9,0a1.45,1.45 0 1,0 -2.9,0M599.0,394.1a1.45,1.45 0 1,0 2.9,0a1.45,1.45 0 1,0 -2.9,0M600.5,395.3a1.45,1.45 0 1,0 2.9,0a1.45,1.45 0 1,0 -2.9,0M602.0,393.5a1.45,1.45 0 1,0 2.9,0a1.45,1.45 0 1,0 -2.9,0M603.5,394.2a1.45,1.45 0 1,0 2.9,0a1.45,1.45 0 1,0 -2.9,0M605.0,393.2a1.45,1.45 0 1,0 2.9,0a1.45,1.45 0 1,0 -2.9,0M606.5,395.4a1.45,1.45 0 1,0 2.9,0a1.45,1.45 0 1,0 -2.9,0M608.0,394.3a1.45,1.45 0 1,0 2.9,0a1.45,1.45 0 1,0 -2.9,0M609.5,396.1a1.45,1.45 0 1,0 2.9,0a1.45,1.45 0 1,0 -2.9,0M611.0,395.8a1.45,1.45 0 1,0 2.9,0a1.45,1.45 0 1,0 -2.9,0M612.5,395.5a1.45,1.45 0 1,0 2.9,0a1.45,1.45 0 1,0 -2.9,0M614.0,394.5a1.45,1.45 0 1,0 2.9,0a1.45,1.45 0 1,0 -2.9,0M615.5,393.8a1.45,1.45 0 1,0 2.9,0a1.45,1.45 0 1,0 -2.9,0M617.0,394.3a1.45,1.45 0 1,0 2.9,0a1.45,1.45 0 1,0 -2.9,0M618.5,395.2a1.45,1.45 0 1,0 2.9,0a1.45,1.45 0 1,0 -2.9,0M620.0,395.1a1.45,1.45 0 1,0 2.9,0a1.45,1.45 0 1,0 -2.9,0M621.5,395.1a1.45,1.45 0 1,0 2.9,0a1.45,1.45 0 1,0 -2.9,0M623.0,395.3a1.45,1.45 0 1,0 2.9,0a1.45,1.45 0 1,0 -2.9,0M624.5,396.5a1.45,1.45 0 1,0 2.9,0a1.45,1.45 0 1,0 -2.9,0M626.0,396.3a1.45,1.45 0 1,0 2.9,0a1.45,1.45 0 1,0 -2.9,0M627.5,394.3a1.45,1.45 0 1,0 2.9,0a1.45,1.45 0 1,0 -2.9,0M629.0,395.9a1.45,1.45 0 1,0 2.9,0a1.45,1.45 0 1,0 -2.9,0M630.5,394.6a1.45,1.45 0 1,0 2.9,0a1.45,1.45 0 1,0 -2.9,0M632.0,395.5a1.45,1.45 0 1,0 2.9,0a1.45,1.45 0 1,0 -2.9,0M633.5,395.5a1.45,1.45 0 1,0 2.9,0a1.45,1.45 0 1,0 -2.9,0M635.0,396.1a1.45,1.45 0 1,0 2.9,0a1.45,1.45 0 1,0 -2.9,0M636.5,396.0a1.45,1.45 0 1,0 2.9,0a1.45,1.45 0 1,0 -2.9,0M638.0,394.4a1.45,1.45 0 1,0 2.9,0a1.45,1.45 0 1,0 -2.9,0M639.5,395.3a1.45,1.45 0 1,0 2.9,0a1.45,1.45 0 1,0 -2.9,0M641.0,395.8a1.45,1.45 0 1,0 2.9,0a1.45,1.45 0 1,0 -2.9,0M642.5,395.3a1.45,1.45 0 1,0 2.9,0a1.45,1.45 0 1,0 -2.9,0M644.0,396.8a1.45,1.45 0 1,0 2.9,0a1.45,1.45 0 1,0 -2.9,0M645.5,394.3a1.45,1.45 0 1,0 2.9,0a1.45,1.45 0 1,0 -2.9,0M647.0,395.9a1.45,1.45 0 1,0 2.9,0a1.45,1.45 0 1,0 -2.9,0M648.5,395.7a1.45,1.45 0 1,0 2.9,0a1.45,1.45 0 1,0 -2.9,0M650.0,395.1a1.45,1.45 0 1,0 2.9,0a1.45,1.45 0 1,0 -2.9,0M651.5,395.4a1.45,1.45 0 1,0 2.9,0a1.45,1.45 0 1,0 -2.9,0M653.0,395.3a1.45,1.45 0 1,0 2.9,0a1.45,1.45 0 1,0 -2.9,0M654.5,395.8a1.45,1.45 0 1,0 2.9,0a1.45,1.45 0 1,0 -2.9,0M656.0,395.1a1.45,1.45 0 1,0 2.9,0a1.45,1.45 0 1,0 -2.9,0M657.5,395.3a1.45,1.45 0 1,0 2.9,0a1.45,1.45 0 1,0 -2.9,0M659.0,397.7a1.45,1.45 0 1,0 2.9,0a1.45,1.45 0 1,0 -2.9,0M660.5,395.2a1.45,1.45 0 1,0 2.9,0a1.45,1.45 0 1,0 -2.9,0M662.0,396.1a1.45,1.45 0 1,0 2.9,0a1.45,1.45 0 1,0 -2.9,0M663.5,396.6a1.45,1.45 0 1,0 2.9,0a1.45,1.45 0 1,0 -2.9,0M665.0,394.9a1.45,1.45 0 1,0 2.9,0a1.45,1.45 0 1,0 -2.9,0M666.5,396.4a1.45,1.45 0 1,0 2.9,0a1.45,1.45 0 1,0 -2.9,0M668.0,395.2a1.45,1.45 0 1,0 2.9,0a1.45,1.45 0 1,0 -2.9,0M669.5,393.6a1.45,1.45 0 1,0 2.9,0a1.45,1.45 0 1,0 -2.9,0M671.0,395.7a1.45,1.45 0 1,0 2.9,0a1.45,1.45 0 1,0 -2.9,0M672.5,393.2a1.45,1.45 0 1,0 2.9,0a1.45,1.45 0 1,0 -2.9,0M674.0,395.7a1.45,1.45 0 1,0 2.9,0a1.45,1.45 0 1,0 -2.9,0M675.5,396.4a1.45,1.45 0 1,0 2.9,0a1.45,1.45 0 1,0 -2.9,0M677.0,397.3a1.45,1.45 0 1,0 2.9,0a1.45,1.45 0 1,0 -2.9,0" fill="none" stroke="#6c6c6c" stroke-width="1.0"/>
<line x1="466" y1="489.6" x2="575.8" y2="491.9" stroke="#d65a5a" stroke-width="1.0" />
<polyline points="466.18,488.09 466.75,487.97 467.31,487.85 467.85,487.73 468.38,487.6 468.9,487.47 469.4,487.34 469.89,487.21 470.38,487.07 470.85,486.92 471.32,486.76 471.78,486.6 472.24,486.43 472.69,486.25 473.15,486.05 473.6,485.85 474.04,485.63 474.49,485.4 474.95,485.16 475.4,484.9 475.98,484.55 476.55,484.17 477.12,483.77 477.67,483.36 478.22,482.92 478.76,482.47 479.3,482 479.82,481.52 480.34,481.03 480.86,480.53 481.36,480.02 481.86,479.5 482.35,478.97 482.83,478.44 483.31,477.91 483.78,477.37 484.24,476.83 484.7,476.3 485.27,475.62 485.82,474.94 486.35,474.26 486.87,473.58 487.37,472.9 487.86,472.2 488.34,471.48 488.82,470.75 489.29,469.99 489.77,469.2 490.24,468.38 490.72,467.53 491.21,466.64 491.7,465.7 492.2,464.72 492.7,463.69 493.2,462.63 493.7,461.53 494.2,460.4 494.7,459.24 495.2,458.06 495.7,456.85 496.2,455.63 496.7,454.4 497.2,453.15 497.7,451.9 498.2,450.65 498.7,449.4 499.2,448.13 499.7,446.83 500.2,445.51 500.7,444.16 501.2,442.8 501.7,441.43 502.2,440.05 502.7,438.67 503.2,437.3 503.7,435.94 504.2,434.59 504.7,433.27 505.2,431.97 505.7,430.7 506.2,429.44 506.71,428.17 507.22,426.9 507.73,425.63 508.25,424.37 508.76,423.12 509.27,421.89 509.78,420.69 510.28,419.53 510.78,418.4 511.27,417.31 511.76,416.28 512.23,415.31 512.7,414.4 513.28,413.33 513.85,412.34 514.4,411.42 514.95,410.58 515.48,409.8 516.01,409.08 516.54,408.41 517.06,407.8 517.57,407.23 518.09,406.7 518.6,406.2 519.16,405.69 519.72,405.24 520.27,404.83 520.81,404.48 521.35,404.19 521.89,403.97 522.42,403.82 522.95,403.73 523.47,403.73 524,403.8 524.52,403.96 525.03,404.19 525.53,404.51 526.03,404.89 526.52,405.34 527.02,405.86 527.53,406.44 528.04,407.08 528.56,407.76 529.1,408.5 529.6,409.21 530.11,409.98 530.63,410.79 531.15,411.64 531.68,412.55 532.22,413.5 532.75,414.5 533.29,415.55 533.83,416.65 534.37,417.8 534.9,419 535.43,420.25 535.95,421.56 536.47,422.92 536.99,424.34 537.51,425.8 538.04,427.3 538.57,428.85 539.11,430.44 539.66,432.06 540.22,433.71 540.8,435.4 541.27,436.77 541.74,438.2 542.23,439.68 542.72,441.2 543.22,442.75 543.72,444.32 544.23,445.91 544.74,447.49 545.25,449.06 545.77,450.61 546.28,452.13 546.79,453.61 547.3,455.03 547.8,456.4 548.3,457.73 548.8,459.04 549.3,460.33 549.8,461.6 550.3,462.85 550.8,464.08 551.3,465.27 551.8,466.44 552.3,467.58 552.8,468.68 553.3,469.75 553.8,470.77 554.3,471.76 554.8,472.7 555.29,473.59 555.76,474.43 556.22,475.21 556.66,475.96 557.11,476.66 557.55,477.34 558.01,477.98 558.47,478.6 558.95,479.2 559.46,479.79 559.99,480.37 560.55,480.94 561.16,481.52 561.8,482.1 562.22,482.46 562.65,482.81 563.09,483.17 563.56,483.52 564.03,483.87 564.52,484.22 565.01,484.56 565.52,484.9 566.04,485.23 566.56,485.56 567.09,485.88 567.62,486.2 568.16,486.51 568.7,486.81 569.25,487.11 569.79,487.39 570.33,487.67 570.87,487.94 571.41,488.19 571.94,488.44 572.47,488.67 572.99,488.89 573.5,489.1 574,489.3 574.49,489.48 574.97,489.64 575.43,489.8 575.89,489.94" fill="none" stroke="#b04080" stroke-width="0.9" stroke-linejoin="round" stroke-linecap="round" />
<path d="M378.6,490.7a1.45,1.45 0 1,0 2.9,0a1.45,1.45 0 1,0 -2.9,0M380.1,490.9a1.45,1.45 0 1,0 2.9,0a1.45,1.45 0 1,0 -2.9,0M381.6,490.7a1.45,1.45 0 1,0 2.9,0a1.45,1.45 0 1,0 -2.9,0M383.1,490.4a1.45,1.45 0 1,0 2.9,0a1.45,1.45 0 1,0 -2.9,0M384.6,490.9a1.45,1.45 0 1,0 2.9,0a1.45,1.45 0 1,0 -2.9,0M386.1,490.2a1.45,1.45 0 1,0 2.9,0a1.45,1.45 0 1,0 -2.9,0M387.6,490.6a1.45,1.45 0 1,0 2.9,0a1.45,1.45 0 1,0 -2.9,0M389.1,490.0a1.45,1.45 0 1,0 2.9,0a1.45,1.45 0 1,0 -2.9,0M390.6,490.3a1.45,1.45 0 1,0 2.9,0a1.45,1.45 0 1,0 -2.9,0M392.1,490.7a1.45,1.45 0 1,0 2.9,0a1.45,1.45 0 1,0 -2.9,0M393.6,489.5a1.45,1.45 0 1,0 2.9,0a1.45,1.45 0 1,0 -2.9,0M395.1,490.2a1.45,1.45 0 1,0 2.9,0a1.45,1.45 0 1,0 -2.9,0M396.6,490.0a1.45,1.45 0 1,0 2.9,0a1.45,1.45 0 1,0 -2.9,0M398.1,490.5a1.45,1.45 0 1,0 2.9,0a1.45,1.45 0 1,0 -2.9,0M399.6,491.6a1.45,1.45 0 1,0 2.9,0a1.45,1.45 0 1,0 -2.9,0M401.1,490.1a1.45,1.45 0 1,0 2.9,0a1.45,1.45 0 1,0 -2.9,0M402.6,490.5a1.45,1.45 0 1,0 2.9,0a1.45,1.45 0 1,0 -2.9,0M404.1,490.4a1.45,1.45 0 1,0 2.9,0a1.45,1.45 0 1,0 -2.9,0M405.6,490.2a1.45,1.45 0 1,0 2.9,0a1.45,1.45 0 1,0 -2.9,0M407.1,490.2a1.45,1.45 0 1,0 2.9,0a1.45,1.45 0 1,0 -2.9,0M408.6,491.2a1.45,1.45 0 1,0 2.9,0a1.45,1.45 0 1,0 -2.9,0M410.1,490.6a1.45,1.45 0 1,0 2.9,0a1.45,1.45 0 1,0 -2.9,0M411.6,490.3a1.45,1.45 0 1,0 2.9,0a1.45,1.45 0 1,0 -2.9,0M413.1,490.1a1.45,1.45 0 1,0 2.9,0a1.45,1.45 0 1,0 -2.9,0M414.6,490.3a1.45,1.45 0 1,0 2.9,0a1.45,1.45 0 1,0 -2.9,0M416.1,491.2a1.45,1.45 0 1,0 2.9,0a1.45,1.45 0 1,0 -2.9,0M417.6,490.3a1.45,1.45 0 1,0 2.9,0a1.45,1.45 0 1,0 -2.9,0M419.1,489.7a1.45,1.45 0 1,0 2.9,0a1.45,1.45 0 1,0 -2.9,0M420.6,490.3a1.45,1.45 0 1,0 2.9,0a1.45,1.45 0 1,0 -2.9,0M422.1,490.9a1.45,1.45 0 1,0 2.9,0a1.45,1.45 0 1,0 -2.9,0M423.6,491.1a1.45,1.45 0 1,0 2.9,0a1.45,1.45 0 1,0 -2.9,0M425.1,490.9a1.45,1.45 0 1,0 2.9,0a1.45,1.45 0 1,0 -2.9,0M426.6,491.4a1.45,1.45 0 1,0 2.9,0a1.45,1.45 0 1,0 -2.9,0M428.1,490.3a1.45,1.45 0 1,0 2.9,0a1.45,1.45 0 1,0 -2.9,0M429.6,490.5a1.45,1.45 0 1,0 2.9,0a1.45,1.45 0 1,0 -2.9,0M431.1,490.8a1.45,1.45 0 1,0 2.9,0a1.45,1.45 0 1,0 -2.9,0M432.6,491.1a1.45,1.45 0 1,0 2.9,0a1.45,1.45 0 1,0 -2.9,0M434.1,490.0a1.45,1.45 0 1,0 2.9,0a1.45,1.45 0 1,0 -2.9,0M435.6,491.0a1.45,1.45 0 1,0 2.9,0a1.45,1.45 0 1,0 -2.9,0M437.1,490.2a1.45,1.45 0 1,0 2.9,0a1.45,1.45 0 1,0 -2.9,0M438.6,491.6a1.45,1.45 0 1,0 2.9,0a1.45,1.45 0 1,0 -2.9,0M440.1,491.2a1.45,1.45 0 1,0 2.9,0a1.45,1.45 0 1,0 -2.9,0M441.6,492.0a1.45,1.45 0 1,0 2.9,0a1.45,1.45 0 1,0 -2.9,0M443.1,492.1a1.45,1.45 0 1,0 2.9,0a1.45,1.45 0 1,0 -2.9,0M444.6,491.2a1.45,1.45 0 1,0 2.9,0a1.45,1.45 0 1,0 -2.9,0M446.1,490.7a1.45,1.45 0 1,0 2.9,0a1.45,1.45 0 1,0 -2.9,0M447.6,490.1a1.45,1.45 0 1,0 2.9,0a1.45,1.45 0 1,0 -2.9,0M449.1,490.2a1.45,1.45 0 1,0 2.9,0a1.45,1.45 0 1,0 -2.9,0M450.6,491.0a1.45,1.45 0 1,0 2.9,0a1.45,1.45 0 1,0 -2.9,0M452.1,490.4a1.45,1.45 0 1,0 2.9,0a1.45,1.45 0 1,0 -2.9,0M453.6,490.1a1.45,1.45 0 1,0 2.9,0a1.45,1.45 0 1,0 -2.9,0M455.1,489.1a1.45,1.45 0 1,0 2.9,0a1.45,1.45 0 1,0 -2.9,0M456.6,489.4a1.45,1.45 0 1,0 2.9,0a1.45,1.45 0 1,0 -2.9,0M458.1,490.3a1.45,1.45 0 1,0 2.9,0a1.45,1.45 0 1,0 -2.9,0M459.6,488.9a1.45,1.45 0 1,0 2.9,0a1.45,1.45 0 1,0 -2.9,0M461.1,489.5a1.45,1.45 0 1,0 2.9,0a1.45,1.45 0 1,0 -2.9,0M462.6,487.2a1.45,1.45 0 1,0 2.9,0a1.45,1.45 0 1,0 -2.9,0M464.1,489.0a1.45,1.45 0 1,0 2.9,0a1.45,1.45 0 1,0 -2.9,0M465.6,487.3a1.45,1.45 0 1,0 2.9,0a1.45,1.45 0 1,0 -2.9,0M467.1,486.8a1.45,1.45 0 1,0 2.9,0a1.45,1.45 0 1,0 -2.9,0M468.6,486.9a1.45,1.45 0 1,0 2.9,0a1.45,1.45 0 1,0 -2.9,0M470.1,486.2a1.45,1.45 0 1,0 2.9,0a1.45,1.45 0 1,0 -2.9,0M471.6,487.0a1.45,1.45 0 1,0 2.9,0a1.45,1.45 0 1,0 -2.9,0M473.1,485.2a1.45,1.45 0 1,0 2.9,0a1.45,1.45 0 1,0 -2.9,0M474.6,484.4a1.45,1.45 0 1,0 2.9,0a1.45,1.45 0 1,0 -2.9,0M476.1,483.1a1.45,1.45 0 1,0 2.9,0a1.45,1.45 0 1,0 -2.9,0M477.6,482.6a1.45,1.45 0 1,0 2.9,0a1.45,1.45 0 1,0 -2.9,0M479.1,481.5a1.45,1.45 0 1,0 2.9,0a1.45,1.45 0 1,0 -2.9,0M480.6,479.8a1.45,1.45 0 1,0 2.9,0a1.45,1.45 0 1,0 -2.9,0M482.1,476.8a1.45,1.45 0 1,0 2.9,0a1.45,1.45 0 1,0 -2.9,0M483.6,475.8a1.45,1.45 0 1,0 2.9,0a1.45,1.45 0 1,0 -2.9,0M485.1,474.3a1.45,1.45 0 1,0 2.9,0a1.45,1.45 0 1,0 -2.9,0M486.6,470.9a1.45,1.45 0 1,0 2.9,0a1.45,1.45 0 1,0 -2.9,0M488.1,469.5a1.45,1.45 0 1,0 2.9,0a1.45,1.45 0 1,0 -2.9,0M489.6,467.5a1.45,1.45 0 1,0 2.9,0a1.45,1.45 0 1,0 -2.9,0M491.1,464.9a1.45,1.45 0 1,0 2.9,0a1.45,1.45 0 1,0 -2.9,0M492.6,461.1a1.45,1.45 0 1,0 2.9,0a1.45,1.45 0 1,0 -2.9,0M494.1,457.8a1.45,1.45 0 1,0 2.9,0a1.45,1.45 0 1,0 -2.9,0M495.6,454.1a1.45,1.45 0 1,0 2.9,0a1.45,1.45 0 1,0 -2.9,0M497.1,450.1a1.45,1.45 0 1,0 2.9,0a1.45,1.45 0 1,0 -2.9,0M498.6,445.0a1.45,1.45 0 1,0 2.9,0a1.45,1.45 0 1,0 -2.9,0M500.1,442.9a1.45,1.45 0 1,0 2.9,0a1.45,1.45 0 1,0 -2.9,0M501.6,438.2a1.45,1.45 0 1,0 2.9,0a1.45,1.45 0 1,0 -2.9,0M503.1,433.7a1.45,1.45 0 1,0 2.9,0a1.45,1.45 0 1,0 -2.9,0M504.6,429.5a1.45,1.45 0 1,0 2.9,0a1.45,1.45 0 1,0 -2.9,0M506.1,427.4a1.45,1.45 0 1,0 2.9,0a1.45,1.45 0 1,0 -2.9,0M507.6,422.7a1.45,1.45 0 1,0 2.9,0a1.45,1.45 0 1,0 -2.9,0M509.1,419.5a1.45,1.45 0 1,0 2.9,0a1.45,1.45 0 1,0 -2.9,0M510.6,415.5a1.45,1.45 0 1,0 2.9,0a1.45,1.45 0 1,0 -2.9,0M512.0,413.0a1.45,1.45 0 1,0 2.9,0a1.45,1.45 0 1,0 -2.9,0M513.5,410.5a1.45,1.45 0 1,0 2.9,0a1.45,1.45 0 1,0 -2.9,0M515.0,409.0a1.45,1.45 0 1,0 2.9,0a1.45,1.45 0 1,0 -2.9,0M516.5,405.7a1.45,1.45 0 1,0 2.9,0a1.45,1.45 0 1,0 -2.9,0M518.0,406.3a1.45,1.45 0 1,0 2.9,0a1.45,1.45 0 1,0 -2.9,0M519.5,404.3a1.45,1.45 0 1,0 2.9,0a1.45,1.45 0 1,0 -2.9,0M521.0,404.2a1.45,1.45 0 1,0 2.9,0a1.45,1.45 0 1,0 -2.9,0M522.5,404.3a1.45,1.45 0 1,0 2.9,0a1.45,1.45 0 1,0 -2.9,0M524.0,404.2a1.45,1.45 0 1,0 2.9,0a1.45,1.45 0 1,0 -2.9,0M525.5,406.2a1.45,1.45 0 1,0 2.9,0a1.45,1.45 0 1,0 -2.9,0M527.0,407.0a1.45,1.45 0 1,0 2.9,0a1.45,1.45 0 1,0 -2.9,0M528.5,409.9a1.45,1.45 0 1,0 2.9,0a1.45,1.45 0 1,0 -2.9,0M530.0,411.8a1.45,1.45 0 1,0 2.9,0a1.45,1.45 0 1,0 -2.9,0M531.5,415.5a1.45,1.45 0 1,0 2.9,0a1.45,1.45 0 1,0 -2.9,0M533.0,418.9a1.45,1.45 0 1,0 2.9,0a1.45,1.45 0 1,0 -2.9,0M534.5,421.0a1.45,1.45 0 1,0 2.9,0a1.45,1.45 0 1,0 -2.9,0M536.0,425.9a1.45,1.45 0 1,0 2.9,0a1.45,1.45 0 1,0 -2.9,0M537.5,429.7a1.45,1.45 0 1,0 2.9,0a1.45,1.45 0 1,0 -2.9,0M539.0,433.7a1.45,1.45 0 1,0 2.9,0a1.45,1.45 0 1,0 -2.9,0M540.5,438.9a1.45,1.45 0 1,0 2.9,0a1.45,1.45 0 1,0 -2.9,0M542.0,444.1a1.45,1.45 0 1,0 2.9,0a1.45,1.45 0 1,0 -2.9,0M543.5,448.9a1.45,1.45 0 1,0 2.9,0a1.45,1.45 0 1,0 -2.9,0M545.0,452.4a1.45,1.45 0 1,0 2.9,0a1.45,1.45 0 1,0 -2.9,0M546.5,456.7a1.45,1.45 0 1,0 2.9,0a1.45,1.45 0 1,0 -2.9,0M548.0,461.6a1.45,1.45 0 1,0 2.9,0a1.45,1.45 0 1,0 -2.9,0M549.5,464.5a1.45,1.45 0 1,0 2.9,0a1.45,1.45 0 1,0 -2.9,0M551.0,469.0a1.45,1.45 0 1,0 2.9,0a1.45,1.45 0 1,0 -2.9,0M552.5,472.2a1.45,1.45 0 1,0 2.9,0a1.45,1.45 0 1,0 -2.9,0M554.0,474.2a1.45,1.45 0 1,0 2.9,0a1.45,1.45 0 1,0 -2.9,0M555.5,476.0a1.45,1.45 0 1,0 2.9,0a1.45,1.45 0 1,0 -2.9,0M557.0,478.4a1.45,1.45 0 1,0 2.9,0a1.45,1.45 0 1,0 -2.9,0M558.5,480.8a1.45,1.45 0 1,0 2.9,0a1.45,1.45 0 1,0 -2.9,0M560.0,481.7a1.45,1.45 0 1,0 2.9,0a1.45,1.45 0 1,0 -2.9,0M561.5,483.1a1.45,1.45 0 1,0 2.9,0a1.45,1.45 0 1,0 -2.9,0M563.0,484.4a1.45,1.45 0 1,0 2.9,0a1.45,1.45 0 1,0 -2.9,0M564.5,484.3a1.45,1.45 0 1,0 2.9,0a1.45,1.45 0 1,0 -2.9,0M566.0,485.9a1.45,1.45 0 1,0 2.9,0a1.45,1.45 0 1,0 -2.9,0M567.5,486.7a1.45,1.45 0 1,0 2.9,0a1.45,1.45 0 1,0 -2.9,0M569.0,487.2a1.45,1.45 0 1,0 2.9,0a1.45,1.45 0 1,0 -2.9,0M570.5,488.6a1.45,1.45 0 1,0 2.9,0a1.45,1.45 0 1,0 -2.9,0M572.0,488.9a1.45,1.45 0 1,0 2.9,0a1.45,1.45 0 1,0 -2.9,0M573.5,489.4a1.45,1.45 0 1,0 2.9,0a1.45,1.45 0 1,0 -2.9,0M575.0,490.9a1.45,1.45 0 1,0 2.9,0a1.45,1.45 0 1,0 -2.9,0M576.5,491.2a1.45,1.45 0 1,0 2.9,0a1.45,1.45 0 1,0 -2.9,0M578.0,490.6a1.45,1.45 0 1,0 2.9,0a1.45,1.45 0 1,0 -2.9,0M579.5,490.6a1.45,1.45 0 1,0 2.9,0a1.45,1.45 0 1,0 -2.9,0M581.0,490.3a1.45,1.45 0 1,0 2.9,0a1.45,1.45 0 1,0 -2.9,0M582.5,490.3a1.45,1.45 0 1,0 2.9,0a1.45,1.45 0 1,0 -2.9,0M584.0,492.2a1.45,1.45 0 1,0 2.9,0a1.45,1.45 0 1,0 -2.9,0M585.5,491.5a1.45,1.45 0 1,0 2.9,0a1.45,1.45 0 1,0 -2.9,0M587.0,491.1a1.45,1.45 0 1,0 2.9,0a1.45,1.45 0 1,0 -2.9,0M588.5,490.9a1.45,1.45 0 1,0 2.9,0a1.45,1.45 0 1,0 -2.9,0M590.0,492.4a1.45,1.45 0 1,0 2.9,0a1.45,1.45 0 1,0 -2.9,0M591.5,491.6a1.45,1.45 0 1,0 2.9,0a1.45,1.45 0 1,0 -2.9,0M593.0,492.1a1.45,1.45 0 1,0 2.9,0a1.45,1.45 0 1,0 -2.9,0M594.5,492.3a1.45,1.45 0 1,0 2.9,0a1.45,1.45 0 1,0 -2.9,0M596.0,491.4a1.45,1.45 0 1,0 2.9,0a1.45,1.45 0 1,0 -2.9,0M597.5,491.1a1.45,1.45 0 1,0 2.9,0a1.45,1.45 0 1,0 -2.9,0M599.0,491.8a1.45,1.45 0 1,0 2.9,0a1.45,1.45 0 1,0 -2.9,0M600.5,492.2a1.45,1.45 0 1,0 2.9,0a1.45,1.45 0 1,0 -2.9,0M602.0,491.8a1.45,1.45 0 1,0 2.9,0a1.45,1.45 0 1,0 -2.9,0M603.5,491.9a1.45,1.45 0 1,0 2.9,0a1.45,1.45 0 1,0 -2.9,0M605.0,492.2a1.45,1.45 0 1,0 2.9,0a1.45,1.45 0 1,0 -2.9,0M606.5,491.5a1.45,1.45 0 1,0 2.9,0a1.45,1.45 0 1,0 -2.9,0M608.0,492.4a1.45,1.45 0 1,0 2.9,0a1.45,1.45 0 1,0 -2.9,0M609.5,492.6a1.45,1.45 0 1,0 2.9,0a1.45,1.45 0 1,0 -2.9,0M611.0,491.5a1.45,1.45 0 1,0 2.9,0a1.45,1.45 0 1,0 -2.9,0M612.5,491.6a1.45,1.45 0 1,0 2.9,0a1.45,1.45 0 1,0 -2.9,0M614.0,491.9a1.45,1.45 0 1,0 2.9,0a1.45,1.45 0 1,0 -2.9,0M615.5,491.8a1.45,1.45 0 1,0 2.9,0a1.45,1.45 0 1,0 -2.9,0M617.0,492.0a1.45,1.45 0 1,0 2.9,0a1.45,1.45 0 1,0 -2.9,0M618.5,492.7a1.45,1.45 0 1,0 2.9,0a1.45,1.45 0 1,0 -2.9,0M620.0,491.4a1.45,1.45 0 1,0 2.9,0a1.45,1.45 0 1,0 -2.9,0M621.5,492.4a1.45,1.45 0 1,0 2.9,0a1.45,1.45 0 1,0 -2.9,0M623.0,492.0a1.45,1.45 0 1,0 2.9,0a1.45,1.45 0 1,0 -2.9,0M624.5,491.8a1.45,1.45 0 1,0 2.9,0a1.45,1.45 0 1,0 -2.9,0M626.0,491.4a1.45,1.45 0 1,0 2.9,0a1.45,1.45 0 1,0 -2.9,0M627.5,491.1a1.45,1.45 0 1,0 2.9,0a1.45,1.45 0 1,0 -2.9,0M629.0,492.3a1.45,1.45 0 1,0 2.9,0a1.45,1.45 0 1,0 -2.9,0M630.5,493.0a1.45,1.45 0 1,0 2.9,0a1.45,1.45 0 1,0 -2.9,0M632.0,491.7a1.45,1.45 0 1,0 2.9,0a1.45,1.45 0 1,0 -2.9,0M633.5,492.6a1.45,1.45 0 1,0 2.9,0a1.45,1.45 0 1,0 -2.9,0M635.0,491.6a1.45,1.45 0 1,0 2.9,0a1.45,1.45 0 1,0 -2.9,0M636.5,492.5a1.45,1.45 0 1,0 2.9,0a1.45,1.45 0 1,0 -2.9,0M638.0,492.1a1.45,1.45 0 1,0 2.9,0a1.45,1.45 0 1,0 -2.9,0M639.5,492.1a1.45,1.45 0 1,0 2.9,0a1.45,1.45 0 1,0 -2.9,0M641.0,491.5a1.45,1.45 0 1,0 2.9,0a1.45,1.45 0 1,0 -2.9,0M642.5,492.0a1.45,1.45 0 1,0 2.9,0a1.45,1.45 0 1,0 -2.9,0M644.0,492.0a1.45,1.45 0 1,0 2.9,0a1.45,1.45 0 1,0 -2.9,0M645.5,493.0a1.45,1.45 0 1,0 2.9,0a1.45,1.45 0 1,0 -2.9,0M647.0,492.6a1.45,1.45 0 1,0 2.9,0a1.45,1.45 0 1,0 -2.9,0M648.5,492.5a1.45,1.45 0 1,0 2.9,0a1.45,1.45 0 1,0 -2.9,0M650.0,491.9a1.45,1.45 0 1,0 2.9,0a1.45,1.45 0 1,0 -2.9,0M651.5,492.4a1.45,1.45 0 1,0 2.9,0a1.45,1.45 0 1,0 -2.9,0M653.0,492.6a1.45,1.45 0 1,0 2.9,0a1.45,1.45 0 1,0 -2.9,0M654.5,492.9a1.45,1.45 0 1,0 2.9,0a1.45,1.45 0 1,0 -2.9,0M656.0,492.7a1.45,1.45 0 1,0 2.9,0a1.45,1.45 0 1,0 -2.9,0M657.5,493.2a1.45,1.45 0 1,0 2.9,0a1.45,1.45 0 1,0 -2.9,0M659.0,492.1a1.45,1.45 0 1,0 2.9,0a1.45,1.45 0 1,0 -2.9,0M660.5,491.7a1.45,1.45 0 1,0 2.9,0a1.45,1.45 0 1,0 -2.9,0M662.0,492.9a1.45,1.45 0 1,0 2.9,0a1.45,1.45 0 1,0 -2.9,0M663.5,493.1a1.45,1.45 0 1,0 2.9,0a1.45,1.45 0 1,0 -2.9,0M665.0,492.6a1.45,1.45 0 1,0 2.9,0a1.45,1.45 0 1,0 -2.9,0M666.5,492.2a1.45,1.45 0 1,0 2.9,0a1.45,1.45 0 1,0 -2.9,0M668.0,492.2a1.45,1.45 0 1,0 2.9,0a1.45,1.45 0 1,0 -2.9,0M669.5,491.9a1.45,1.45 0 1,0 2.9,0a1.45,1.45 0 1,0 -2.9,0M671.0,491.9a1.45,1.45 0 1,0 2.9,0a1.45,1.45 0 1,0 -2.9,0M672.5,492.1a1.45,1.45 0 1,0 2.9,0a1.45,1.45 0 1,0 -2.9,0M674.0,492.3a1.45,1.45 0 1,0 2.9,0a1.45,1.45 0 1,0 -2.9,0M675.5,491.5a1.45,1.45 0 1,0 2.9,0a1.45,1.45 0 1,0 -2.9,0M677.0,492.3a1.45,1.45 0 1,0 2.9,0a1.45,1.45 0 1,0 -2.9,0" fill="none" stroke="#111" stroke-width="1.05"/>
<text transform="translate(545 285.6) scale(1 1.05)" fill="#2b4a80" stroke="#2b4a80" stroke-width="0.108" font-weight="bold" text-anchor="start"><tspan font-size="9.9" font-style="italic">Si</tspan><tspan font-size="7.4" font-style="italic">-O</tspan></text>
<line x1="543.7" y1="284.1" x2="530.5" y2="287.9" stroke="#2b4a80" stroke-width="0.8" />
<text transform="translate(582.2 345.9) scale(1 1.05)" fill="#2b4a80" stroke="#2b4a80" stroke-width="0.108" font-weight="bold" text-anchor="start"><tspan font-size="9.9" font-style="italic">Si</tspan><tspan font-size="7.4" font-style="italic">-O-C</tspan></text>
<line x1="580.9" y1="344.8" x2="562.3" y2="352.4" stroke="#2b4a80" stroke-width="0.8" />
<text transform="translate(382.6 349) scale(1 1.0)" font-size="11.5" fill="#a3a3a3" stroke="#a3a3a3" stroke-width="0.108" text-anchor="start" font-weight="bold" font-style="italic" >SG9.5/CBD/GO</text>
<text transform="translate(381.3 388.7) scale(1 1.0)" font-size="11.5" fill="#6e6e6e" stroke="#6e6e6e" stroke-width="0.108" text-anchor="start" font-weight="bold" font-style="italic" >SG9.5/GO</text>
<text transform="translate(381.5 485) scale(1 1.0)" font-size="11.5" fill="#111" stroke="#111" stroke-width="0.108" text-anchor="start" font-weight="bold" font-style="italic" >SG9.5</text>
</svg>
</body></html>
